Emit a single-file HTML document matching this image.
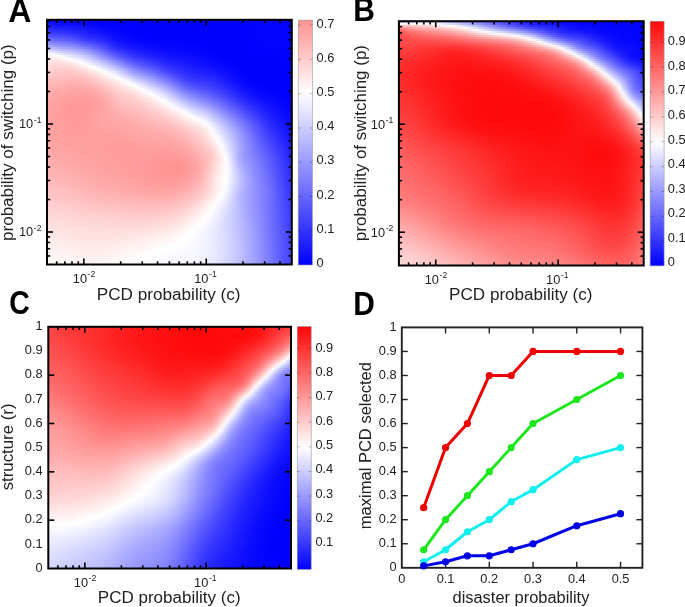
<!DOCTYPE html><html><head><meta charset="utf-8"><style>
html,body{margin:0;padding:0;background:#fff;}body{width:685px;height:607px;position:relative;overflow:hidden;font-family:"Liberation Sans",sans-serif;}
.hm{position:absolute;overflow:hidden;filter:blur(0.6px);}.hm div{height:2px;}
svg{position:absolute;left:0;top:0;will-change:transform;}
</style></head><body>
<div class="hm" style="left:47px;top:19px;width:245px;height:246px">
<div style="background:linear-gradient(90deg,#0b0bff,#0707ff,#0505ff,#0303ff,#0202ff,#0101ff,#0101ff,#0101ff,#0101ff,#0101ff,#0000ff,#0000ff,#0000ff,#0000ff,#0000ff,#0000ff,#0000ff,#0000ff,#0000ff,#0000ff,#0000ff,#0000ff,#0000ff,#0000ff,#0000ff,#0000ff,#0000ff,#0000ff,#0000ff,#0000ff,#0000ff,#0000ff,#0000ff,#0000ff,#0000ff,#0000ff,#0000ff,#0000ff,#0000ff,#0000ff,#0000ff,#0000ff,#0000ff,#0000ff,#0000ff,#0000ff,#0000ff,#0000ff,#0000ff,#0000ff,#0000ff,#0000ff,#0000ff,#0000ff,#0000ff,#0101ff,#0101ff,#0101ff,#0101ff,#0101ff,#0202ff,#0202ff,#0202ff,#0202ff,#0202ff,#0202ff,#0202ff,#0202ff,#0101ff,#0101ff,#0000ff)"></div>
<div style="background:linear-gradient(90deg,#1010ff,#0d0dff,#0b0bff,#0909ff,#0808ff,#0707ff,#0707ff,#0606ff,#0606ff,#0606ff,#0505ff,#0404ff,#0303ff,#0101ff,#0000ff,#0000ff,#0000ff,#0000ff,#0000ff,#0000ff,#0000ff,#0101ff,#0000ff,#0000ff,#0000ff,#0000ff,#0000ff,#0000ff,#0000ff,#0000ff,#0000ff,#0000ff,#0000ff,#0000ff,#0000ff,#0000ff,#0000ff,#0000ff,#0000ff,#0000ff,#0000ff,#0000ff,#0000ff,#0000ff,#0000ff,#0000ff,#0000ff,#0000ff,#0000ff,#0000ff,#0000ff,#0000ff,#0000ff,#0000ff,#0000ff,#0101ff,#0101ff,#0101ff,#0101ff,#0202ff,#0202ff,#0202ff,#0202ff,#0202ff,#0202ff,#0202ff,#0202ff,#0202ff,#0202ff,#0101ff,#0000ff)"></div>
<div style="background:linear-gradient(90deg,#1616ff,#1313ff,#1111ff,#1010ff,#0f0fff,#0e0eff,#0d0dff,#0d0dff,#0c0cff,#0b0bff,#0b0bff,#0909ff,#0707ff,#0505ff,#0303ff,#0202ff,#0101ff,#0101ff,#0000ff,#0101ff,#0101ff,#0101ff,#0101ff,#0000ff,#0000ff,#0000ff,#0000ff,#0000ff,#0000ff,#0000ff,#0000ff,#0000ff,#0000ff,#0000ff,#0000ff,#0000ff,#0000ff,#0000ff,#0000ff,#0000ff,#0000ff,#0000ff,#0000ff,#0000ff,#0000ff,#0000ff,#0000ff,#0000ff,#0000ff,#0000ff,#0000ff,#0000ff,#0000ff,#0000ff,#0000ff,#0101ff,#0101ff,#0101ff,#0202ff,#0202ff,#0202ff,#0202ff,#0202ff,#0303ff,#0303ff,#0303ff,#0303ff,#0202ff,#0202ff,#0101ff,#0101ff)"></div>
<div style="background:linear-gradient(90deg,#1d1dff,#1a1aff,#1818ff,#1717ff,#1616ff,#1515ff,#1414ff,#1313ff,#1212ff,#1111ff,#1010ff,#0e0eff,#0c0cff,#0909ff,#0707ff,#0505ff,#0404ff,#0303ff,#0202ff,#0202ff,#0202ff,#0202ff,#0101ff,#0000ff,#0000ff,#0000ff,#0000ff,#0000ff,#0000ff,#0000ff,#0000ff,#0000ff,#0000ff,#0000ff,#0000ff,#0000ff,#0000ff,#0000ff,#0000ff,#0000ff,#0000ff,#0000ff,#0000ff,#0000ff,#0000ff,#0000ff,#0000ff,#0000ff,#0000ff,#0000ff,#0000ff,#0000ff,#0000ff,#0000ff,#0000ff,#0101ff,#0101ff,#0101ff,#0202ff,#0202ff,#0202ff,#0202ff,#0303ff,#0303ff,#0303ff,#0303ff,#0303ff,#0202ff,#0202ff,#0202ff,#0101ff)"></div>
<div style="background:linear-gradient(90deg,#2525ff,#2222ff,#2121ff,#1f1fff,#1e1eff,#1d1dff,#1c1cff,#1b1bff,#1919ff,#1717ff,#1616ff,#1414ff,#1111ff,#0e0eff,#0b0bff,#0909ff,#0707ff,#0606ff,#0404ff,#0303ff,#0303ff,#0202ff,#0202ff,#0101ff,#0000ff,#0000ff,#0000ff,#0000ff,#0000ff,#0000ff,#0000ff,#0000ff,#0000ff,#0000ff,#0000ff,#0000ff,#0000ff,#0000ff,#0000ff,#0000ff,#0000ff,#0000ff,#0000ff,#0000ff,#0000ff,#0000ff,#0000ff,#0000ff,#0000ff,#0000ff,#0000ff,#0000ff,#0000ff,#0000ff,#0000ff,#0101ff,#0101ff,#0101ff,#0202ff,#0202ff,#0202ff,#0303ff,#0303ff,#0303ff,#0303ff,#0303ff,#0303ff,#0303ff,#0202ff,#0202ff,#0101ff)"></div>
<div style="background:linear-gradient(90deg,#2e2eff,#2b2bff,#2a2aff,#2929ff,#2828ff,#2626ff,#2525ff,#2323ff,#2020ff,#1e1eff,#1c1cff,#1919ff,#1515ff,#1212ff,#1010ff,#0d0dff,#0b0bff,#0909ff,#0707ff,#0505ff,#0404ff,#0303ff,#0202ff,#0101ff,#0101ff,#0000ff,#0000ff,#0000ff,#0000ff,#0000ff,#0000ff,#0000ff,#0000ff,#0000ff,#0000ff,#0000ff,#0000ff,#0000ff,#0000ff,#0000ff,#0000ff,#0000ff,#0000ff,#0000ff,#0000ff,#0000ff,#0000ff,#0000ff,#0000ff,#0000ff,#0000ff,#0000ff,#0000ff,#0000ff,#0000ff,#0101ff,#0101ff,#0101ff,#0202ff,#0202ff,#0202ff,#0303ff,#0303ff,#0303ff,#0303ff,#0303ff,#0303ff,#0303ff,#0202ff,#0202ff,#0101ff)"></div>
<div style="background:linear-gradient(90deg,#3939ff,#3636ff,#3434ff,#3333ff,#3232ff,#3030ff,#2e2eff,#2c2cff,#2828ff,#2525ff,#2121ff,#1e1eff,#1a1aff,#1717ff,#1515ff,#1212ff,#0f0fff,#0c0cff,#0a0aff,#0707ff,#0606ff,#0404ff,#0303ff,#0202ff,#0101ff,#0000ff,#0000ff,#0000ff,#0000ff,#0000ff,#0000ff,#0000ff,#0000ff,#0000ff,#0000ff,#0000ff,#0000ff,#0000ff,#0000ff,#0000ff,#0000ff,#0000ff,#0000ff,#0000ff,#0000ff,#0000ff,#0000ff,#0000ff,#0000ff,#0000ff,#0000ff,#0000ff,#0000ff,#0000ff,#0000ff,#0000ff,#0101ff,#0101ff,#0202ff,#0202ff,#0202ff,#0303ff,#0303ff,#0303ff,#0303ff,#0303ff,#0303ff,#0303ff,#0303ff,#0202ff,#0101ff)"></div>
<div style="background:linear-gradient(90deg,#4646ff,#4242ff,#4040ff,#3e3eff,#3d3dff,#3b3bff,#3939ff,#3535ff,#3131ff,#2d2dff,#2828ff,#2424ff,#2020ff,#1d1dff,#1a1aff,#1717ff,#1414ff,#1010ff,#0d0dff,#0a0aff,#0808ff,#0606ff,#0404ff,#0303ff,#0202ff,#0101ff,#0000ff,#0000ff,#0000ff,#0000ff,#0000ff,#0000ff,#0000ff,#0000ff,#0000ff,#0000ff,#0000ff,#0000ff,#0000ff,#0000ff,#0000ff,#0000ff,#0000ff,#0000ff,#0000ff,#0000ff,#0000ff,#0000ff,#0000ff,#0000ff,#0000ff,#0000ff,#0000ff,#0000ff,#0000ff,#0000ff,#0101ff,#0101ff,#0202ff,#0202ff,#0202ff,#0303ff,#0303ff,#0303ff,#0303ff,#0303ff,#0303ff,#0303ff,#0303ff,#0202ff,#0101ff)"></div>
<div style="background:linear-gradient(90deg,#5353ff,#4f4fff,#4d4dff,#4b4bff,#4949ff,#4747ff,#4444ff,#4040ff,#3c3cff,#3636ff,#2f2fff,#2a2aff,#2727ff,#2424ff,#2121ff,#1e1eff,#1a1aff,#1515ff,#1111ff,#0d0dff,#0a0aff,#0808ff,#0606ff,#0505ff,#0404ff,#0202ff,#0101ff,#0101ff,#0000ff,#0000ff,#0000ff,#0000ff,#0000ff,#0000ff,#0000ff,#0000ff,#0000ff,#0000ff,#0000ff,#0000ff,#0000ff,#0000ff,#0000ff,#0000ff,#0000ff,#0000ff,#0000ff,#0000ff,#0000ff,#0000ff,#0000ff,#0000ff,#0000ff,#0000ff,#0000ff,#0000ff,#0101ff,#0101ff,#0101ff,#0202ff,#0202ff,#0303ff,#0303ff,#0303ff,#0303ff,#0303ff,#0303ff,#0303ff,#0303ff,#0202ff,#0101ff)"></div>
<div style="background:linear-gradient(90deg,#6161ff,#5d5dff,#5b5bff,#5959ff,#5656ff,#5454ff,#5151ff,#4d4dff,#4747ff,#4040ff,#3939ff,#3232ff,#2f2fff,#2c2cff,#2929ff,#2525ff,#2020ff,#1b1bff,#1616ff,#1111ff,#0e0eff,#0b0bff,#0909ff,#0707ff,#0505ff,#0404ff,#0303ff,#0202ff,#0101ff,#0101ff,#0000ff,#0000ff,#0000ff,#0000ff,#0000ff,#0000ff,#0000ff,#0000ff,#0000ff,#0000ff,#0000ff,#0000ff,#0000ff,#0000ff,#0000ff,#0000ff,#0000ff,#0000ff,#0000ff,#0000ff,#0000ff,#0000ff,#0000ff,#0000ff,#0000ff,#0000ff,#0000ff,#0101ff,#0101ff,#0202ff,#0202ff,#0202ff,#0303ff,#0303ff,#0303ff,#0303ff,#0303ff,#0303ff,#0303ff,#0202ff,#0101ff)"></div>
<div style="background:linear-gradient(90deg,#7070ff,#6d6dff,#6a6aff,#6767ff,#6464ff,#6262ff,#5e5eff,#5a5aff,#5454ff,#4d4dff,#4444ff,#3c3cff,#3939ff,#3636ff,#3333ff,#2e2eff,#2828ff,#2222ff,#1c1cff,#1616ff,#1212ff,#0e0eff,#0c0cff,#0a0aff,#0808ff,#0606ff,#0505ff,#0404ff,#0303ff,#0202ff,#0202ff,#0101ff,#0101ff,#0101ff,#0000ff,#0000ff,#0000ff,#0000ff,#0000ff,#0000ff,#0000ff,#0000ff,#0000ff,#0000ff,#0000ff,#0000ff,#0000ff,#0000ff,#0000ff,#0000ff,#0000ff,#0000ff,#0000ff,#0000ff,#0000ff,#0000ff,#0000ff,#0101ff,#0101ff,#0202ff,#0202ff,#0202ff,#0303ff,#0303ff,#0303ff,#0303ff,#0303ff,#0303ff,#0303ff,#0202ff,#0101ff)"></div>
<div style="background:linear-gradient(90deg,#8282ff,#7e7eff,#7a7aff,#7777ff,#7373ff,#7171ff,#6e6eff,#6969ff,#6363ff,#5b5bff,#5353ff,#4b4bff,#4646ff,#4242ff,#3d3dff,#3838ff,#3131ff,#2a2aff,#2323ff,#1c1cff,#1717ff,#1313ff,#1010ff,#0d0dff,#0b0bff,#0909ff,#0808ff,#0606ff,#0505ff,#0404ff,#0404ff,#0303ff,#0202ff,#0202ff,#0202ff,#0101ff,#0101ff,#0101ff,#0101ff,#0101ff,#0101ff,#0101ff,#0101ff,#0000ff,#0000ff,#0000ff,#0000ff,#0000ff,#0000ff,#0000ff,#0000ff,#0000ff,#0000ff,#0000ff,#0000ff,#0000ff,#0000ff,#0101ff,#0101ff,#0202ff,#0202ff,#0202ff,#0202ff,#0303ff,#0303ff,#0303ff,#0303ff,#0303ff,#0202ff,#0202ff,#0101ff)"></div>
<div style="background:linear-gradient(90deg,#9494ff,#9090ff,#8c8cff,#8787ff,#8383ff,#8181ff,#7e7eff,#7979ff,#7373ff,#6c6cff,#6363ff,#5b5bff,#5555ff,#5050ff,#4a4aff,#4343ff,#3b3bff,#3333ff,#2b2bff,#2323ff,#1d1dff,#1818ff,#1515ff,#1212ff,#0f0fff,#0d0dff,#0b0bff,#0909ff,#0808ff,#0707ff,#0606ff,#0505ff,#0404ff,#0404ff,#0303ff,#0303ff,#0202ff,#0202ff,#0202ff,#0202ff,#0202ff,#0202ff,#0101ff,#0101ff,#0101ff,#0101ff,#0000ff,#0000ff,#0000ff,#0000ff,#0000ff,#0000ff,#0000ff,#0000ff,#0000ff,#0000ff,#0000ff,#0000ff,#0101ff,#0101ff,#0202ff,#0202ff,#0202ff,#0202ff,#0303ff,#0303ff,#0303ff,#0303ff,#0202ff,#0202ff,#0101ff)"></div>
<div style="background:linear-gradient(90deg,#a8a8ff,#a4a4ff,#9f9fff,#9999ff,#9595ff,#9292ff,#8f8fff,#8b8bff,#8484ff,#7d7dff,#7575ff,#6d6dff,#6666ff,#5f5fff,#5757ff,#4f4fff,#4646ff,#3d3dff,#3434ff,#2b2bff,#2424ff,#1f1fff,#1b1bff,#1717ff,#1414ff,#1111ff,#0f0fff,#0d0dff,#0b0bff,#0a0aff,#0909ff,#0808ff,#0707ff,#0606ff,#0505ff,#0404ff,#0404ff,#0404ff,#0303ff,#0303ff,#0303ff,#0303ff,#0202ff,#0202ff,#0101ff,#0101ff,#0101ff,#0000ff,#0000ff,#0000ff,#0000ff,#0000ff,#0000ff,#0000ff,#0000ff,#0000ff,#0000ff,#0000ff,#0101ff,#0101ff,#0202ff,#0202ff,#0202ff,#0202ff,#0202ff,#0202ff,#0303ff,#0202ff,#0202ff,#0202ff,#0101ff)"></div>
<div style="background:linear-gradient(90deg,#bcbcff,#b9b9ff,#b3b3ff,#acacff,#a7a7ff,#a5a5ff,#a1a1ff,#9d9dff,#9696ff,#8f8fff,#8888ff,#8080ff,#7777ff,#6f6fff,#6666ff,#5c5cff,#5252ff,#4848ff,#3e3eff,#3434ff,#2c2cff,#2626ff,#2222ff,#1d1dff,#1a1aff,#1616ff,#1414ff,#1111ff,#1010ff,#0e0eff,#0c0cff,#0b0bff,#0909ff,#0808ff,#0707ff,#0606ff,#0606ff,#0505ff,#0505ff,#0505ff,#0404ff,#0404ff,#0303ff,#0303ff,#0202ff,#0202ff,#0101ff,#0000ff,#0000ff,#0000ff,#0000ff,#0000ff,#0000ff,#0000ff,#0000ff,#0000ff,#0000ff,#0000ff,#0101ff,#0101ff,#0101ff,#0202ff,#0202ff,#0202ff,#0202ff,#0202ff,#0202ff,#0202ff,#0202ff,#0202ff,#0101ff)"></div>
<div style="background:linear-gradient(90deg,#d1d1ff,#ceceff,#c8c8ff,#c1c1ff,#bcbcff,#b8b8ff,#b4b4ff,#afafff,#a9a9ff,#a2a2ff,#9b9bff,#9393ff,#8989ff,#7f7fff,#7575ff,#6a6aff,#5f5fff,#5454ff,#4949ff,#3e3eff,#3636ff,#2f2fff,#2a2aff,#2525ff,#2020ff,#1c1cff,#1919ff,#1717ff,#1414ff,#1212ff,#1010ff,#0e0eff,#0d0dff,#0b0bff,#0a0aff,#0909ff,#0808ff,#0707ff,#0707ff,#0707ff,#0606ff,#0606ff,#0505ff,#0404ff,#0303ff,#0202ff,#0101ff,#0101ff,#0000ff,#0000ff,#0000ff,#0000ff,#0000ff,#0000ff,#0000ff,#0000ff,#0000ff,#0000ff,#0101ff,#0101ff,#0101ff,#0101ff,#0202ff,#0202ff,#0202ff,#0202ff,#0202ff,#0202ff,#0202ff,#0202ff,#0101ff)"></div>
<div style="background:linear-gradient(90deg,#e8e8ff,#e4e4ff,#dedeff,#d7d7ff,#d1d1ff,#ccccff,#c7c7ff,#c2c2ff,#bbbbff,#b4b4ff,#acacff,#a4a4ff,#9a9aff,#8f8fff,#8484ff,#7979ff,#6d6dff,#6161ff,#5555ff,#4a4aff,#4040ff,#3939ff,#3333ff,#2d2dff,#2828ff,#2323ff,#2020ff,#1c1cff,#1a1aff,#1717ff,#1515ff,#1313ff,#1111ff,#0f0fff,#0d0dff,#0c0cff,#0b0bff,#0a0aff,#0909ff,#0909ff,#0808ff,#0707ff,#0606ff,#0505ff,#0404ff,#0303ff,#0202ff,#0101ff,#0000ff,#0000ff,#0000ff,#0000ff,#0000ff,#0000ff,#0000ff,#0000ff,#0000ff,#0000ff,#0101ff,#0101ff,#0101ff,#0101ff,#0101ff,#0101ff,#0101ff,#0202ff,#0202ff,#0202ff,#0202ff,#0101ff,#0101ff)"></div>
<div style="background:linear-gradient(90deg,#fcfcff,#f8f8ff,#f1f1ff,#ececff,#e6e6ff,#dfdfff,#dadaff,#d4d4ff,#cdcdff,#c5c5ff,#bebeff,#b5b5ff,#aaaaff,#9f9fff,#9494ff,#8888ff,#7c7cff,#6f6fff,#6262ff,#5656ff,#4c4cff,#4444ff,#3d3dff,#3737ff,#3030ff,#2b2bff,#2727ff,#2323ff,#2020ff,#1d1dff,#1a1aff,#1818ff,#1515ff,#1313ff,#1111ff,#0f0fff,#0e0eff,#0d0dff,#0c0cff,#0b0bff,#0a0aff,#0a0aff,#0808ff,#0707ff,#0606ff,#0404ff,#0303ff,#0202ff,#0101ff,#0000ff,#0000ff,#0000ff,#0000ff,#0000ff,#0000ff,#0000ff,#0000ff,#0000ff,#0000ff,#0101ff,#0101ff,#0101ff,#0101ff,#0101ff,#0101ff,#0101ff,#0101ff,#0101ff,#0101ff,#0101ff,#0101ff)"></div>
<div style="background:linear-gradient(90deg,#fff4f4,#fff7f7,#fffcfc,#fefeff,#f8f8ff,#f1f1ff,#ebebff,#e5e5ff,#dedeff,#d6d6ff,#ceceff,#c5c5ff,#babaff,#afafff,#a4a4ff,#9898ff,#8b8bff,#7e7eff,#7171ff,#6464ff,#5959ff,#5151ff,#4949ff,#4141ff,#3a3aff,#3434ff,#2f2fff,#2b2bff,#2727ff,#2424ff,#2020ff,#1d1dff,#1a1aff,#1717ff,#1515ff,#1313ff,#1111ff,#1010ff,#0f0fff,#0e0eff,#0d0dff,#0c0cff,#0b0bff,#0909ff,#0707ff,#0606ff,#0404ff,#0303ff,#0202ff,#0101ff,#0000ff,#0000ff,#0000ff,#0000ff,#0000ff,#0000ff,#0000ff,#0000ff,#0000ff,#0000ff,#0000ff,#0000ff,#0000ff,#0000ff,#0101ff,#0101ff,#0101ff,#0101ff,#0101ff,#0101ff,#0101ff)"></div>
<div style="background:linear-gradient(90deg,#ffecec,#ffecec,#ffefef,#fff2f2,#fff7f7,#fffefe,#fafaff,#f4f4ff,#ededff,#e5e5ff,#ddddff,#d4d4ff,#cacaff,#bfbfff,#b4b4ff,#a7a7ff,#9b9bff,#8e8eff,#8080ff,#7373ff,#6868ff,#5e5eff,#5555ff,#4d4dff,#4545ff,#3d3dff,#3838ff,#3333ff,#2f2fff,#2b2bff,#2727ff,#2323ff,#2020ff,#1c1cff,#1919ff,#1717ff,#1515ff,#1313ff,#1212ff,#1111ff,#1010ff,#0f0fff,#0d0dff,#0b0bff,#0909ff,#0808ff,#0606ff,#0505ff,#0303ff,#0202ff,#0101ff,#0000ff,#0000ff,#0000ff,#0000ff,#0000ff,#0000ff,#0000ff,#0000ff,#0000ff,#0000ff,#0000ff,#0000ff,#0000ff,#0000ff,#0000ff,#0101ff,#0101ff,#0101ff,#0101ff,#0000ff)"></div>
<div style="background:linear-gradient(90deg,#ffe6e6,#ffe5e5,#ffe6e6,#ffe7e7,#ffebeb,#fff1f1,#fff6f6,#fffcfc,#fbfbff,#f4f4ff,#ebebff,#e2e2ff,#d9d9ff,#ceceff,#c3c3ff,#b7b7ff,#ababff,#9e9eff,#9191ff,#8484ff,#7878ff,#6d6dff,#6363ff,#5959ff,#5050ff,#4848ff,#4242ff,#3d3dff,#3838ff,#3333ff,#2f2fff,#2a2aff,#2626ff,#2222ff,#1e1eff,#1b1bff,#1919ff,#1717ff,#1616ff,#1414ff,#1313ff,#1111ff,#1010ff,#0e0eff,#0c0cff,#0a0aff,#0808ff,#0606ff,#0505ff,#0404ff,#0303ff,#0101ff,#0000ff,#0000ff,#0000ff,#0000ff,#0000ff,#0000ff,#0000ff,#0000ff,#0000ff,#0000ff,#0000ff,#0000ff,#0000ff,#0000ff,#0000ff,#0000ff,#0000ff,#0000ff,#0000ff)"></div>
<div style="background:linear-gradient(90deg,#ffe2e2,#ffe0e0,#ffdfdf,#ffdfdf,#ffe2e2,#ffe6e6,#ffebeb,#fff0f0,#fff6f6,#fffdfd,#f9f9ff,#f0f0ff,#e7e7ff,#ddddff,#d2d2ff,#c7c7ff,#bbbbff,#aeaeff,#a2a2ff,#9595ff,#8989ff,#7d7dff,#7272ff,#6767ff,#5c5cff,#5353ff,#4d4dff,#4747ff,#4242ff,#3c3cff,#3737ff,#3232ff,#2d2dff,#2828ff,#2424ff,#2020ff,#1e1eff,#1c1cff,#1a1aff,#1818ff,#1717ff,#1515ff,#1313ff,#1010ff,#0e0eff,#0c0cff,#0a0aff,#0909ff,#0707ff,#0606ff,#0404ff,#0303ff,#0101ff,#0000ff,#0000ff,#0000ff,#0000ff,#0000ff,#0000ff,#0000ff,#0000ff,#0000ff,#0000ff,#0000ff,#0000ff,#0000ff,#0000ff,#0000ff,#0000ff,#0000ff,#0000ff)"></div>
<div style="background:linear-gradient(90deg,#ffdfdf,#ffdcdc,#ffd9d9,#ffd9d9,#ffdada,#ffdddd,#ffe1e1,#ffe5e5,#ffebeb,#fff2f2,#fff9f9,#fdfdff,#f4f4ff,#ebebff,#e1e1ff,#d6d6ff,#cacaff,#bebeff,#b2b2ff,#a7a7ff,#9a9aff,#8e8eff,#8181ff,#7575ff,#6a6aff,#6060ff,#5858ff,#5252ff,#4c4cff,#4646ff,#4040ff,#3a3aff,#3535ff,#2f2fff,#2a2aff,#2626ff,#2323ff,#2020ff,#1e1eff,#1c1cff,#1a1aff,#1818ff,#1616ff,#1313ff,#1111ff,#0f0fff,#0d0dff,#0b0bff,#0a0aff,#0808ff,#0606ff,#0404ff,#0303ff,#0101ff,#0000ff,#0000ff,#0000ff,#0000ff,#0000ff,#0000ff,#0000ff,#0000ff,#0000ff,#0000ff,#0000ff,#0000ff,#0000ff,#0000ff,#0000ff,#0000ff,#0000ff)"></div>
<div style="background:linear-gradient(90deg,#ffdcdc,#ffd8d8,#ffd5d5,#ffd4d4,#ffd4d4,#ffd6d6,#ffd9d9,#ffdcdc,#ffe1e1,#ffe7e7,#ffeeee,#fff5f5,#fffdfd,#f8f8ff,#efefff,#e5e5ff,#d9d9ff,#ceceff,#c3c3ff,#b8b8ff,#ababff,#9e9eff,#9191ff,#8484ff,#7878ff,#6e6eff,#6565ff,#5e5eff,#5757ff,#5151ff,#4a4aff,#4444ff,#3d3dff,#3737ff,#3131ff,#2c2cff,#2929ff,#2626ff,#2323ff,#2121ff,#1e1eff,#1c1cff,#1919ff,#1717ff,#1414ff,#1212ff,#1010ff,#0e0eff,#0c0cff,#0a0aff,#0808ff,#0606ff,#0404ff,#0303ff,#0101ff,#0000ff,#0000ff,#0000ff,#0000ff,#0000ff,#0000ff,#0000ff,#0000ff,#0000ff,#0000ff,#0000ff,#0000ff,#0000ff,#0000ff,#0000ff,#0000ff)"></div>
<div style="background:linear-gradient(90deg,#ffd7d7,#ffd4d4,#ffd1d1,#ffcfcf,#ffcfcf,#ffd0d0,#ffd2d2,#ffd5d5,#ffd9d9,#ffdede,#ffe4e4,#ffebeb,#fff2f2,#fffafa,#fcfcff,#f2f2ff,#e8e8ff,#ddddff,#d2d2ff,#c7c7ff,#bbbbff,#aeaeff,#a0a0ff,#9393ff,#8787ff,#7b7bff,#7272ff,#6b6bff,#6363ff,#5d5dff,#5555ff,#4e4eff,#4646ff,#3f3fff,#3939ff,#3333ff,#2f2fff,#2b2bff,#2828ff,#2525ff,#2222ff,#2020ff,#1c1cff,#1a1aff,#1818ff,#1616ff,#1414ff,#1212ff,#1010ff,#0d0dff,#0b0bff,#0808ff,#0606ff,#0404ff,#0202ff,#0101ff,#0000ff,#0000ff,#0000ff,#0000ff,#0000ff,#0000ff,#0000ff,#0000ff,#0000ff,#0000ff,#0000ff,#0000ff,#0000ff,#0000ff,#0000ff)"></div>
<div style="background:linear-gradient(90deg,#ffd2d2,#ffd0d0,#ffcdcd,#ffcbcb,#ffcbcb,#ffcbcb,#ffcccc,#ffcece,#ffd1d1,#ffd6d6,#ffdbdb,#ffe1e1,#ffe7e7,#ffefef,#fff6f6,#ffffff,#f5f5ff,#ebebff,#e1e1ff,#d6d6ff,#cacaff,#bebeff,#b0b0ff,#a2a2ff,#9595ff,#8a8aff,#8080ff,#7878ff,#7070ff,#6969ff,#6161ff,#5959ff,#5050ff,#4848ff,#4141ff,#3b3bff,#3636ff,#3131ff,#2d2dff,#2a2aff,#2626ff,#2323ff,#2020ff,#1d1dff,#1b1bff,#1a1aff,#1818ff,#1515ff,#1313ff,#1010ff,#0d0dff,#0b0bff,#0808ff,#0606ff,#0303ff,#0202ff,#0000ff,#0000ff,#0000ff,#0000ff,#0000ff,#0000ff,#0000ff,#0000ff,#0000ff,#0000ff,#0000ff,#0000ff,#0000ff,#0000ff,#0000ff)"></div>
<div style="background:linear-gradient(90deg,#ffcece,#ffcccc,#ffcaca,#ffc8c8,#ffc7c7,#ffc7c7,#ffc7c7,#ffc8c8,#ffcbcb,#ffcece,#ffd3d3,#ffd8d8,#ffdede,#ffe4e4,#ffecec,#fff4f4,#fffdfd,#f8f8ff,#eeeeff,#e4e4ff,#d9d9ff,#cdcdff,#c0c0ff,#b2b2ff,#a4a4ff,#9898ff,#8e8eff,#8686ff,#7e7eff,#7676ff,#6d6dff,#6565ff,#5c5cff,#5353ff,#4a4aff,#4444ff,#3e3eff,#3838ff,#3333ff,#2e2eff,#2a2aff,#2727ff,#2424ff,#2121ff,#1f1fff,#1e1eff,#1c1cff,#1919ff,#1717ff,#1414ff,#1010ff,#0d0dff,#0a0aff,#0707ff,#0505ff,#0303ff,#0101ff,#0000ff,#0000ff,#0000ff,#0000ff,#0000ff,#0000ff,#0000ff,#0000ff,#0000ff,#0000ff,#0000ff,#0000ff,#0000ff,#0000ff)"></div>
<div style="background:linear-gradient(90deg,#ffc9c9,#ffc8c8,#ffc6c6,#ffc5c5,#ffc4c4,#ffc3c3,#ffc3c3,#ffc3c3,#ffc5c5,#ffc8c8,#ffcbcb,#ffd0d0,#ffd5d5,#ffdbdb,#ffe2e2,#ffe9e9,#fff2f2,#fffafa,#fbfbff,#f1f1ff,#e7e7ff,#dbdbff,#cfcfff,#c1c1ff,#b3b3ff,#a7a7ff,#9d9dff,#9494ff,#8c8cff,#8383ff,#7a7aff,#7171ff,#6767ff,#5e5eff,#5555ff,#4e4eff,#4747ff,#4040ff,#3939ff,#3434ff,#2e2eff,#2a2aff,#2828ff,#2525ff,#2424ff,#2222ff,#2020ff,#1e1eff,#1b1bff,#1717ff,#1414ff,#1010ff,#0d0dff,#0909ff,#0606ff,#0404ff,#0101ff,#0000ff,#0000ff,#0000ff,#0000ff,#0000ff,#0000ff,#0000ff,#0000ff,#0000ff,#0000ff,#0000ff,#0000ff,#0000ff,#0000ff)"></div>
<div style="background:linear-gradient(90deg,#ffc5c5,#ffc4c4,#ffc3c3,#ffc3c3,#ffc1c1,#ffc0c0,#ffbfbf,#ffbfbf,#ffc0c0,#ffc2c2,#ffc5c5,#ffc9c9,#ffcdcd,#ffd3d3,#ffd9d9,#ffe0e0,#ffe8e8,#fff0f0,#fff8f8,#fdfdff,#f3f3ff,#e9e9ff,#dedeff,#d1d1ff,#c3c3ff,#b6b6ff,#acacff,#a3a3ff,#9a9aff,#9191ff,#8888ff,#7e7eff,#7474ff,#6a6aff,#6161ff,#5858ff,#5050ff,#4848ff,#4040ff,#3939ff,#3333ff,#2f2fff,#2c2cff,#2a2aff,#2828ff,#2727ff,#2525ff,#2222ff,#1f1fff,#1b1bff,#1717ff,#1313ff,#0f0fff,#0c0cff,#0808ff,#0505ff,#0303ff,#0000ff,#0000ff,#0000ff,#0000ff,#0000ff,#0000ff,#0000ff,#0000ff,#0000ff,#0000ff,#0000ff,#0000ff,#0000ff,#0000ff)"></div>
<div style="background:linear-gradient(90deg,#ffc1c1,#ffc0c0,#ffc0c0,#ffc0c0,#ffbfbf,#ffbdbd,#ffbbbb,#ffbaba,#ffbbbb,#ffbcbc,#ffbfbf,#ffc2c2,#ffc6c6,#ffcbcb,#ffd1d1,#ffd8d8,#ffdfdf,#ffe6e6,#ffeeee,#fff6f6,#ffffff,#f6f6ff,#ececff,#dfdfff,#d2d2ff,#c6c6ff,#bcbcff,#b2b2ff,#a9a9ff,#9f9fff,#9696ff,#8c8cff,#8181ff,#7777ff,#6d6dff,#6464ff,#5a5aff,#5151ff,#4848ff,#4040ff,#3939ff,#3434ff,#3131ff,#2f2fff,#2e2eff,#2c2cff,#2a2aff,#2727ff,#2424ff,#1f1fff,#1b1bff,#1717ff,#1212ff,#0e0eff,#0b0bff,#0707ff,#0404ff,#0101ff,#0000ff,#0000ff,#0000ff,#0000ff,#0000ff,#0000ff,#0000ff,#0000ff,#0000ff,#0000ff,#0000ff,#0000ff,#0000ff)"></div>
<div style="background:linear-gradient(90deg,#ffbdbd,#ffbdbd,#ffbdbd,#ffbdbd,#ffbcbc,#ffb9b9,#ffb7b7,#ffb6b6,#ffb6b6,#ffb7b7,#ffb9b9,#ffbcbc,#ffc0c0,#ffc5c5,#ffcaca,#ffd0d0,#ffd7d7,#ffdede,#ffe5e5,#ffeded,#fff4f4,#fffcfc,#f9f9ff,#eeeeff,#e1e1ff,#d6d6ff,#cbcbff,#c1c1ff,#b8b8ff,#aeaeff,#a4a4ff,#9a9aff,#8f8fff,#8585ff,#7a7aff,#7070ff,#6565ff,#5b5bff,#5151ff,#4747ff,#3f3fff,#3a3aff,#3737ff,#3535ff,#3333ff,#3131ff,#2f2fff,#2c2cff,#2828ff,#2424ff,#1f1fff,#1a1aff,#1616ff,#1111ff,#0d0dff,#0909ff,#0606ff,#0202ff,#0000ff,#0000ff,#0000ff,#0000ff,#0000ff,#0000ff,#0000ff,#0000ff,#0000ff,#0000ff,#0000ff,#0000ff,#0000ff)"></div>
<div style="background:linear-gradient(90deg,#ffbaba,#ffb9b9,#ffb9b9,#ffb9b9,#ffb8b8,#ffb6b6,#ffb4b4,#ffb3b3,#ffb2b2,#ffb3b3,#ffb5b5,#ffb7b7,#ffbaba,#ffbfbf,#ffc4c4,#ffc9c9,#ffd0d0,#ffd6d6,#ffdddd,#ffe4e4,#ffebeb,#fff2f2,#fffafa,#fafaff,#efefff,#e5e5ff,#dadaff,#d0d0ff,#c6c6ff,#bcbcff,#b2b2ff,#a8a8ff,#9d9dff,#9292ff,#8787ff,#7c7cff,#7171ff,#6565ff,#5a5aff,#5050ff,#4747ff,#4242ff,#3e3eff,#3b3bff,#3939ff,#3737ff,#3535ff,#3232ff,#2d2dff,#2828ff,#2323ff,#1e1eff,#1919ff,#1414ff,#1010ff,#0c0cff,#0808ff,#0404ff,#0202ff,#0000ff,#0000ff,#0000ff,#0000ff,#0000ff,#0000ff,#0000ff,#0000ff,#0000ff,#0000ff,#0000ff,#0000ff)"></div>
<div style="background:linear-gradient(90deg,#ffb7b7,#ffb6b6,#ffb6b6,#ffb6b6,#ffb4b4,#ffb2b2,#ffb1b1,#ffafaf,#ffafaf,#ffafaf,#ffb0b0,#ffb2b2,#ffb5b5,#ffb9b9,#ffbebe,#ffc3c3,#ffc9c9,#ffcfcf,#ffd6d6,#ffdcdc,#ffe3e3,#ffeaea,#fff0f0,#fff9f9,#fcfcff,#f3f3ff,#e9e9ff,#dedeff,#d4d4ff,#cacaff,#c0c0ff,#b5b5ff,#ababff,#a0a0ff,#9595ff,#8989ff,#7c7cff,#7070ff,#6565ff,#5a5aff,#5151ff,#4a4aff,#4646ff,#4343ff,#4040ff,#3d3dff,#3b3bff,#3737ff,#3232ff,#2d2dff,#2828ff,#2323ff,#1d1dff,#1818ff,#1313ff,#0e0eff,#0a0aff,#0606ff,#0303ff,#0101ff,#0000ff,#0000ff,#0000ff,#0000ff,#0000ff,#0000ff,#0000ff,#0000ff,#0000ff,#0000ff,#0000ff)"></div>
<div style="background:linear-gradient(90deg,#ffb4b4,#ffb3b3,#ffb3b3,#ffb2b2,#ffb1b1,#ffafaf,#ffadad,#ffacac,#ffabab,#ffabab,#ffacac,#ffaeae,#ffb1b1,#ffb4b4,#ffb9b9,#ffbebe,#ffc3c3,#ffc9c9,#ffcfcf,#ffd6d6,#ffdcdc,#ffe2e2,#ffe8e8,#ffefef,#fff7f7,#ffffff,#f6f6ff,#ececff,#e1e1ff,#d7d7ff,#cdcdff,#c3c3ff,#b8b8ff,#aeaeff,#a2a2ff,#9595ff,#8989ff,#7c7cff,#7070ff,#6464ff,#5b5bff,#5454ff,#4e4eff,#4b4bff,#4747ff,#4444ff,#4141ff,#3d3dff,#3838ff,#3232ff,#2d2dff,#2727ff,#2121ff,#1c1cff,#1717ff,#1212ff,#0d0dff,#0909ff,#0606ff,#0303ff,#0202ff,#0101ff,#0000ff,#0000ff,#0000ff,#0000ff,#0000ff,#0000ff,#0000ff,#0000ff,#0000ff)"></div>
<div style="background:linear-gradient(90deg,#ffb1b1,#ffb0b0,#ffafaf,#ffaeae,#ffadad,#ffacac,#ffaaaa,#ffa9a9,#ffa8a8,#ffa8a8,#ffa9a9,#ffaaaa,#ffadad,#ffb0b0,#ffb4b4,#ffb9b9,#ffbebe,#ffc4c4,#ffcaca,#ffd0d0,#ffd6d6,#ffdcdc,#ffe1e1,#ffe7e7,#ffeded,#fff4f4,#fffdfd,#f8f8ff,#eeeeff,#e4e4ff,#dadaff,#d0d0ff,#c6c6ff,#bbbbff,#afafff,#a2a2ff,#9595ff,#8888ff,#7b7bff,#7070ff,#6666ff,#5e5eff,#5858ff,#5353ff,#4f4fff,#4b4bff,#4747ff,#4343ff,#3d3dff,#3838ff,#3232ff,#2c2cff,#2626ff,#2020ff,#1b1bff,#1515ff,#1010ff,#0c0cff,#0808ff,#0606ff,#0404ff,#0202ff,#0101ff,#0000ff,#0000ff,#0000ff,#0000ff,#0000ff,#0000ff,#0000ff,#0000ff)"></div>
<div style="background:linear-gradient(90deg,#ffafaf,#ffaeae,#ffadad,#ffabab,#ffaaaa,#ffa9a9,#ffa7a7,#ffa6a6,#ffa5a5,#ffa5a5,#ffa6a6,#ffa7a7,#ffa9a9,#ffacac,#ffb0b0,#ffb4b4,#ffb9b9,#ffbfbf,#ffc5c5,#ffcbcb,#ffd1d1,#ffd7d7,#ffdbdb,#ffe0e0,#ffe5e5,#ffebeb,#fff3f3,#fffcfc,#f9f9ff,#efefff,#e6e6ff,#dcdcff,#d2d2ff,#c7c7ff,#bbbbff,#aeaeff,#a1a1ff,#9494ff,#8787ff,#7b7bff,#7171ff,#6868ff,#6262ff,#5c5cff,#5757ff,#5353ff,#4e4eff,#4949ff,#4444ff,#3e3eff,#3838ff,#3131ff,#2b2bff,#2525ff,#1f1fff,#1919ff,#1414ff,#0f0fff,#0b0bff,#0808ff,#0606ff,#0404ff,#0303ff,#0202ff,#0101ff,#0000ff,#0000ff,#0000ff,#0000ff,#0000ff,#0000ff)"></div>
<div style="background:linear-gradient(90deg,#ffadad,#ffacac,#ffaaaa,#ffa9a9,#ffa7a7,#ffa6a6,#ffa5a5,#ffa4a4,#ffa3a3,#ffa2a2,#ffa3a3,#ffa4a4,#ffa6a6,#ffa8a8,#ffacac,#ffb0b0,#ffb5b5,#ffbaba,#ffc0c0,#ffc7c7,#ffcdcd,#ffd2d2,#ffd6d6,#ffdada,#ffdede,#ffe4e4,#ffebeb,#fff2f2,#fffbfb,#fafaff,#f1f1ff,#e8e8ff,#dedeff,#d3d3ff,#c7c7ff,#bbbbff,#adadff,#a0a0ff,#9393ff,#8787ff,#7c7cff,#7373ff,#6c6cff,#6666ff,#6060ff,#5b5bff,#5656ff,#5050ff,#4a4aff,#4444ff,#3e3eff,#3737ff,#3030ff,#2a2aff,#2323ff,#1d1dff,#1818ff,#1313ff,#0f0fff,#0b0bff,#0808ff,#0606ff,#0505ff,#0303ff,#0202ff,#0202ff,#0101ff,#0000ff,#0000ff,#0000ff,#0000ff)"></div>
<div style="background:linear-gradient(90deg,#ffacac,#ffaaaa,#ffa8a8,#ffa7a7,#ffa5a5,#ffa4a4,#ffa3a3,#ffa1a1,#ffa1a1,#ffa0a0,#ffa0a0,#ffa1a1,#ffa3a3,#ffa5a5,#ffa8a8,#ffacac,#ffb1b1,#ffb6b6,#ffbcbc,#ffc2c2,#ffc8c8,#ffcdcd,#ffd1d1,#ffd5d5,#ffd8d8,#ffdddd,#ffe3e3,#ffeaea,#fff2f2,#fffafa,#fcfcff,#f3f3ff,#e9e9ff,#dfdfff,#d3d3ff,#c6c6ff,#b9b9ff,#acacff,#9f9fff,#9393ff,#8888ff,#7e7eff,#7777ff,#7070ff,#6a6aff,#6464ff,#5e5eff,#5858ff,#5252ff,#4b4bff,#4444ff,#3d3dff,#3636ff,#2f2fff,#2828ff,#2222ff,#1c1cff,#1717ff,#1212ff,#0e0eff,#0b0bff,#0909ff,#0707ff,#0505ff,#0404ff,#0303ff,#0202ff,#0101ff,#0000ff,#0000ff,#0000ff)"></div>
<div style="background:linear-gradient(90deg,#ffaaaa,#ffa8a8,#ffa7a7,#ffa5a5,#ffa3a3,#ffa2a2,#ffa1a1,#ff9f9f,#ff9f9f,#ff9e9e,#ff9e9e,#ff9f9f,#ffa0a0,#ffa2a2,#ffa5a5,#ffa8a8,#ffadad,#ffb3b3,#ffb9b9,#ffbfbf,#ffc5c5,#ffc9c9,#ffcdcd,#ffd0d0,#ffd3d3,#ffd7d7,#ffdddd,#ffe3e3,#ffeaea,#fff1f1,#fff9f9,#fdfdff,#f4f4ff,#e9e9ff,#dedeff,#d2d2ff,#c5c5ff,#b8b8ff,#ababff,#9f9fff,#9393ff,#8a8aff,#8282ff,#7b7bff,#7474ff,#6d6dff,#6767ff,#6060ff,#5959ff,#5252ff,#4b4bff,#4444ff,#3c3cff,#3535ff,#2e2eff,#2727ff,#2121ff,#1b1bff,#1616ff,#1212ff,#0e0eff,#0c0cff,#0909ff,#0707ff,#0606ff,#0404ff,#0303ff,#0202ff,#0101ff,#0000ff,#0000ff)"></div>
<div style="background:linear-gradient(90deg,#ffa9a9,#ffa7a7,#ffa5a5,#ffa3a3,#ffa2a2,#ffa0a0,#ff9f9f,#ff9e9e,#ff9d9d,#ff9d9d,#ff9d9d,#ff9d9d,#ff9e9e,#ffa0a0,#ffa2a2,#ffa5a5,#ffaaaa,#ffb0b0,#ffb6b6,#ffbcbc,#ffc1c1,#ffc6c6,#ffc9c9,#ffcccc,#ffcfcf,#ffd2d2,#ffd7d7,#ffdddd,#ffe3e3,#ffeaea,#fff0f0,#fff8f8,#fdfdff,#f3f3ff,#e9e9ff,#ddddff,#d1d1ff,#c4c4ff,#b7b7ff,#ababff,#9f9fff,#9595ff,#8d8dff,#8686ff,#7e7eff,#7777ff,#7070ff,#6969ff,#6262ff,#5a5aff,#5353ff,#4b4bff,#4343ff,#3b3bff,#3434ff,#2d2dff,#2626ff,#2020ff,#1a1aff,#1616ff,#1212ff,#0f0fff,#0c0cff,#0909ff,#0808ff,#0606ff,#0404ff,#0303ff,#0202ff,#0101ff,#0000ff)"></div>
<div style="background:linear-gradient(90deg,#ffa8a8,#ffa6a6,#ffa4a4,#ffa2a2,#ffa0a0,#ff9f9f,#ff9e9e,#ff9d9d,#ff9c9c,#ff9b9b,#ff9b9b,#ff9c9c,#ff9d9d,#ff9e9e,#ffa0a0,#ffa3a3,#ffa8a8,#ffadad,#ffb3b3,#ffb9b9,#ffbebe,#ffc2c2,#ffc5c5,#ffc8c8,#ffcaca,#ffcece,#ffd2d2,#ffd7d7,#ffdddd,#ffe3e3,#ffe9e9,#fff0f0,#fff8f8,#fdfdff,#f3f3ff,#e8e8ff,#dcdcff,#d0d0ff,#c3c3ff,#b7b7ff,#ababff,#a1a1ff,#9999ff,#9191ff,#8989ff,#8282ff,#7a7aff,#7272ff,#6b6bff,#6363ff,#5b5bff,#5252ff,#4a4aff,#4242ff,#3a3aff,#3232ff,#2b2bff,#2525ff,#1f1fff,#1a1aff,#1515ff,#1212ff,#0f0fff,#0c0cff,#0a0aff,#0808ff,#0606ff,#0404ff,#0303ff,#0101ff,#0000ff)"></div>
<div style="background:linear-gradient(90deg,#ffa7a7,#ffa5a5,#ffa3a3,#ffa1a1,#ff9f9f,#ff9e9e,#ff9c9c,#ff9b9b,#ff9b9b,#ff9a9a,#ff9a9a,#ff9b9b,#ff9c9c,#ff9d9d,#ff9f9f,#ffa2a2,#ffa6a6,#ffabab,#ffb1b1,#ffb6b6,#ffbbbb,#ffbfbf,#ffc2c2,#ffc4c4,#ffc7c7,#ffcaca,#ffcdcd,#ffd2d2,#ffd7d7,#ffdddd,#ffe3e3,#ffe9e9,#fff0f0,#fff9f9,#fcfcff,#f2f2ff,#e7e7ff,#dbdbff,#cfcfff,#c3c3ff,#b8b8ff,#aeaeff,#a5a5ff,#9d9dff,#9595ff,#8d8dff,#8585ff,#7c7cff,#7474ff,#6c6cff,#6363ff,#5a5aff,#5151ff,#4949ff,#4141ff,#3939ff,#3131ff,#2a2aff,#2424ff,#1e1eff,#1919ff,#1515ff,#1212ff,#0f0fff,#0c0cff,#0909ff,#0707ff,#0606ff,#0404ff,#0202ff,#0101ff)"></div>
<div style="background:linear-gradient(90deg,#ffa6a6,#ffa4a4,#ffa2a2,#ffa0a0,#ff9e9e,#ff9d9d,#ff9c9c,#ff9b9b,#ff9a9a,#ff9a9a,#ff9a9a,#ff9a9a,#ff9b9b,#ff9d9d,#ff9f9f,#ffa1a1,#ffa5a5,#ffaaaa,#ffafaf,#ffb4b4,#ffb8b8,#ffbcbc,#ffbfbf,#ffc1c1,#ffc3c3,#ffc6c6,#ffc9c9,#ffcece,#ffd2d2,#ffd7d7,#ffdddd,#ffe3e3,#ffe9e9,#fff1f1,#fff9f9,#fbfbff,#f1f1ff,#e6e6ff,#dbdbff,#d0d0ff,#c4c4ff,#babaff,#b1b1ff,#a9a9ff,#a0a0ff,#9898ff,#9090ff,#8787ff,#7e7eff,#7575ff,#6c6cff,#6262ff,#5959ff,#5050ff,#4747ff,#3f3fff,#3737ff,#3030ff,#2929ff,#2323ff,#1e1eff,#1919ff,#1515ff,#1111ff,#0e0eff,#0b0bff,#0909ff,#0707ff,#0505ff,#0303ff,#0101ff)"></div>
<div style="background:linear-gradient(90deg,#ffa5a5,#ffa3a3,#ffa1a1,#ff9f9f,#ff9e9e,#ff9c9c,#ff9b9b,#ff9a9a,#ff9999,#ff9999,#ff9999,#ff9a9a,#ff9b9b,#ff9c9c,#ff9e9e,#ffa1a1,#ffa5a5,#ffa9a9,#ffadad,#ffb2b2,#ffb6b6,#ffb9b9,#ffbcbc,#ffbebe,#ffc0c0,#ffc3c3,#ffc6c6,#ffcaca,#ffcece,#ffd3d3,#ffd7d7,#ffdddd,#ffe3e3,#ffe9e9,#fff1f1,#fff9f9,#fbfbff,#f1f1ff,#e7e7ff,#dcdcff,#d1d1ff,#c6c6ff,#bdbdff,#b4b4ff,#acacff,#a4a4ff,#9b9bff,#9292ff,#8989ff,#7f7fff,#7575ff,#6b6bff,#6161ff,#5858ff,#4f4fff,#4646ff,#3e3eff,#3636ff,#2e2eff,#2828ff,#2222ff,#1d1dff,#1818ff,#1414ff,#1111ff,#0e0eff,#0b0bff,#0808ff,#0606ff,#0404ff,#0202ff)"></div>
<div style="background:linear-gradient(90deg,#ffa5a5,#ffa3a3,#ffa1a1,#ff9f9f,#ff9d9d,#ff9c9c,#ff9b9b,#ff9a9a,#ff9999,#ff9999,#ff9999,#ff9a9a,#ff9b9b,#ff9c9c,#ff9e9e,#ffa1a1,#ffa4a4,#ffa8a8,#ffacac,#ffb0b0,#ffb3b3,#ffb6b6,#ffb9b9,#ffbbbb,#ffbdbd,#ffbfbf,#ffc2c2,#ffc6c6,#ffcaca,#ffcece,#ffd3d3,#ffd7d7,#ffdddd,#ffe3e3,#ffe9e9,#fff1f1,#fffafa,#fbfbff,#f2f2ff,#e8e8ff,#ddddff,#d2d2ff,#c9c9ff,#c0c0ff,#b8b8ff,#b0b0ff,#a7a7ff,#9d9dff,#9393ff,#8989ff,#7e7eff,#7474ff,#6969ff,#6060ff,#5656ff,#4d4dff,#4444ff,#3c3cff,#3434ff,#2d2dff,#2727ff,#2121ff,#1c1cff,#1717ff,#1313ff,#1010ff,#0d0dff,#0a0aff,#0707ff,#0505ff,#0303ff)"></div>
<div style="background:linear-gradient(90deg,#ffa4a4,#ffa2a2,#ffa0a0,#ff9f9f,#ff9d9d,#ff9b9b,#ff9a9a,#ff9999,#ff9999,#ff9999,#ff9999,#ff9a9a,#ff9b9b,#ff9d9d,#ff9f9f,#ffa1a1,#ffa4a4,#ffa8a8,#ffabab,#ffaeae,#ffb1b1,#ffb4b4,#ffb6b6,#ffb8b8,#ffbaba,#ffbcbc,#ffbfbf,#ffc2c2,#ffc6c6,#ffcaca,#ffcece,#ffd2d2,#ffd7d7,#ffdcdc,#ffe2e2,#ffe9e9,#fff1f1,#fff9f9,#fcfcff,#f3f3ff,#e8e8ff,#dedeff,#d4d4ff,#ccccff,#c4c4ff,#bcbcff,#b3b3ff,#a8a8ff,#9d9dff,#9292ff,#8787ff,#7c7cff,#7272ff,#6868ff,#5e5eff,#5454ff,#4b4bff,#4242ff,#3a3aff,#3232ff,#2b2bff,#2525ff,#1f1fff,#1a1aff,#1616ff,#1212ff,#0e0eff,#0b0bff,#0909ff,#0606ff,#0303ff)"></div>
<div style="background:linear-gradient(90deg,#ffa4a4,#ffa2a2,#ffa0a0,#ff9e9e,#ff9d9d,#ff9b9b,#ff9a9a,#ff9999,#ff9999,#ff9999,#ff9999,#ff9a9a,#ff9b9b,#ff9d9d,#ff9f9f,#ffa2a2,#ffa4a4,#ffa7a7,#ffaaaa,#ffadad,#ffb0b0,#ffb2b2,#ffb4b4,#ffb6b6,#ffb8b8,#ffbaba,#ffbcbc,#ffbfbf,#ffc3c3,#ffc6c6,#ffcaca,#ffcece,#ffd2d2,#ffd7d7,#ffdcdc,#ffe2e2,#ffe9e9,#fff0f0,#fff8f8,#fdfdff,#f3f3ff,#e9e9ff,#e0e0ff,#d7d7ff,#d0d0ff,#c7c7ff,#bebeff,#b3b3ff,#a8a8ff,#9c9cff,#9090ff,#8585ff,#7a7aff,#7070ff,#6565ff,#5b5bff,#5252ff,#4949ff,#4040ff,#3838ff,#3030ff,#2929ff,#2323ff,#1e1eff,#1919ff,#1414ff,#1010ff,#0d0dff,#0a0aff,#0707ff,#0404ff)"></div>
<div style="background:linear-gradient(90deg,#ffa4a4,#ffa2a2,#ffa0a0,#ff9e9e,#ff9c9c,#ff9b9b,#ff9a9a,#ff9999,#ff9999,#ff9999,#ff9999,#ff9a9a,#ff9c9c,#ff9d9d,#ffa0a0,#ffa2a2,#ffa4a4,#ffa7a7,#ffa9a9,#ffacac,#ffaeae,#ffb0b0,#ffb2b2,#ffb4b4,#ffb5b5,#ffb7b7,#ffbaba,#ffbcbc,#ffbfbf,#ffc3c3,#ffc6c6,#ffc9c9,#ffcdcd,#ffd1d1,#ffd6d6,#ffdbdb,#ffe2e2,#ffe8e8,#fff0f0,#fff8f8,#fcfcff,#f3f3ff,#eaeaff,#e2e2ff,#dbdbff,#d3d3ff,#c9c9ff,#bdbdff,#b1b1ff,#a5a5ff,#9a9aff,#8e8eff,#8383ff,#7777ff,#6d6dff,#6262ff,#5858ff,#4f4fff,#4646ff,#3d3dff,#3535ff,#2e2eff,#2727ff,#2121ff,#1b1bff,#1717ff,#1212ff,#0f0fff,#0b0bff,#0808ff,#0505ff)"></div>
<div style="background:linear-gradient(90deg,#ffa3a3,#ffa2a2,#ffa0a0,#ff9e9e,#ff9c9c,#ff9b9b,#ff9a9a,#ff9999,#ff9999,#ff9999,#ff9a9a,#ff9b9b,#ff9c9c,#ff9e9e,#ffa0a0,#ffa2a2,#ffa5a5,#ffa6a6,#ffa8a8,#ffaaaa,#ffacac,#ffaeae,#ffb0b0,#ffb1b1,#ffb3b3,#ffb5b5,#ffb7b7,#ffb9b9,#ffbcbc,#ffbfbf,#ffc2c2,#ffc5c5,#ffc8c8,#ffcccc,#ffd0d0,#ffd5d5,#ffdbdb,#ffe1e1,#ffe8e8,#fff0f0,#fff9f9,#fcfcff,#f4f4ff,#ededff,#e6e6ff,#dedeff,#d3d3ff,#c7c7ff,#bbbbff,#afafff,#a2a2ff,#9696ff,#8b8bff,#7f7fff,#7474ff,#6969ff,#5f5fff,#5555ff,#4c4cff,#4343ff,#3a3aff,#3232ff,#2b2bff,#2424ff,#1e1eff,#1919ff,#1414ff,#1010ff,#0d0dff,#0a0aff,#0606ff)"></div>
<div style="background:linear-gradient(90deg,#ffa3a3,#ffa1a1,#ffa0a0,#ff9e9e,#ff9d9d,#ff9b9b,#ff9a9a,#ff9a9a,#ff9999,#ff9a9a,#ff9a9a,#ff9b9b,#ff9c9c,#ff9e9e,#ffa1a1,#ffa3a3,#ffa5a5,#ffa6a6,#ffa8a8,#ffa9a9,#ffabab,#ffadad,#ffaeae,#ffafaf,#ffb1b1,#ffb3b3,#ffb5b5,#ffb7b7,#ffb9b9,#ffbcbc,#ffbfbf,#ffc1c1,#ffc4c4,#ffc7c7,#ffcbcb,#ffd0d0,#ffd5d5,#ffdada,#ffe1e1,#ffe8e8,#fff0f0,#fff9f9,#fdfdff,#f7f7ff,#f1f1ff,#e9e9ff,#dedeff,#d1d1ff,#c4c4ff,#b7b7ff,#ababff,#9f9fff,#9393ff,#8787ff,#7c7cff,#7070ff,#6666ff,#5b5bff,#5252ff,#4848ff,#3f3fff,#3636ff,#2e2eff,#2727ff,#2121ff,#1b1bff,#1616ff,#1212ff,#0e0eff,#0b0bff,#0707ff)"></div>
<div style="background:linear-gradient(90deg,#ffa3a3,#ffa1a1,#ffa0a0,#ff9e9e,#ff9d9d,#ff9b9b,#ff9b9b,#ff9a9a,#ff9a9a,#ff9a9a,#ff9a9a,#ff9b9b,#ff9d9d,#ff9f9f,#ffa1a1,#ffa3a3,#ffa4a4,#ffa6a6,#ffa7a7,#ffa8a8,#ffaaaa,#ffabab,#ffacac,#ffaeae,#ffafaf,#ffb0b0,#ffb2b2,#ffb4b4,#ffb7b7,#ffb9b9,#ffbbbb,#ffbebe,#ffc0c0,#ffc3c3,#ffc7c7,#ffcaca,#ffcfcf,#ffd4d4,#ffdada,#ffe1e1,#ffe9e9,#fff0f0,#fff8f8,#fffdfd,#fcfcff,#f3f3ff,#e7e7ff,#dadaff,#cdcdff,#c0c0ff,#b3b3ff,#a7a7ff,#9a9aff,#8e8eff,#8383ff,#7777ff,#6c6cff,#6262ff,#5757ff,#4d4dff,#4343ff,#3a3aff,#3232ff,#2a2aff,#2323ff,#1e1eff,#1818ff,#1414ff,#1010ff,#0c0cff,#0909ff)"></div>
<div style="background:linear-gradient(90deg,#ffa3a3,#ffa1a1,#ffa0a0,#ff9e9e,#ff9d9d,#ff9c9c,#ff9b9b,#ff9a9a,#ff9a9a,#ff9a9a,#ff9b9b,#ff9c9c,#ff9d9d,#ff9f9f,#ffa1a1,#ffa3a3,#ffa4a4,#ffa5a5,#ffa6a6,#ffa7a7,#ffa8a8,#ffa9a9,#ffabab,#ffacac,#ffadad,#ffaeae,#ffb0b0,#ffb2b2,#ffb4b4,#ffb6b6,#ffb8b8,#ffbaba,#ffbdbd,#ffbfbf,#ffc2c2,#ffc6c6,#ffcaca,#ffcfcf,#ffd4d4,#ffdada,#ffe1e1,#ffe8e8,#ffefef,#fff4f4,#fff9f9,#fdfdff,#f1f1ff,#e3e3ff,#d5d5ff,#c8c8ff,#bbbbff,#aeaeff,#a2a2ff,#9595ff,#8989ff,#7e7eff,#7272ff,#6767ff,#5d5dff,#5252ff,#4848ff,#3e3eff,#3535ff,#2d2dff,#2626ff,#2020ff,#1b1bff,#1616ff,#1212ff,#0e0eff,#0a0aff)"></div>
<div style="background:linear-gradient(90deg,#ffa3a3,#ffa2a2,#ffa0a0,#ff9e9e,#ff9d9d,#ff9c9c,#ff9b9b,#ff9b9b,#ff9a9a,#ff9b9b,#ff9b9b,#ff9c9c,#ff9d9d,#ff9f9f,#ffa1a1,#ffa2a2,#ffa3a3,#ffa4a4,#ffa5a5,#ffa6a6,#ffa7a7,#ffa8a8,#ffa9a9,#ffaaaa,#ffabab,#ffadad,#ffaeae,#ffb0b0,#ffb2b2,#ffb4b4,#ffb5b5,#ffb7b7,#ffb9b9,#ffbbbb,#ffbebe,#ffc1c1,#ffc5c5,#ffcaca,#ffcfcf,#ffd4d4,#ffdbdb,#ffe1e1,#ffe7e7,#ffecec,#fff1f1,#fff9f9,#fafaff,#ebebff,#ddddff,#d0d0ff,#c2c2ff,#b5b5ff,#a9a9ff,#9c9cff,#9090ff,#8484ff,#7878ff,#6d6dff,#6262ff,#5757ff,#4d4dff,#4242ff,#3939ff,#3030ff,#2929ff,#2222ff,#1d1dff,#1818ff,#1313ff,#0f0fff,#0b0bff)"></div>
<div style="background:linear-gradient(90deg,#ffa3a3,#ffa2a2,#ffa0a0,#ff9f9f,#ff9d9d,#ff9c9c,#ff9c9c,#ff9b9b,#ff9b9b,#ff9b9b,#ff9c9c,#ff9c9c,#ff9d9d,#ff9f9f,#ffa0a0,#ffa2a2,#ffa3a3,#ffa4a4,#ffa4a4,#ffa5a5,#ffa6a6,#ffa6a6,#ffa7a7,#ffa8a8,#ffa9a9,#ffabab,#ffacac,#ffaeae,#ffafaf,#ffb1b1,#ffb3b3,#ffb4b4,#ffb6b6,#ffb8b8,#ffbaba,#ffbdbd,#ffc1c1,#ffc5c5,#ffc9c9,#ffcfcf,#ffd4d4,#ffdada,#ffe0e0,#ffe5e5,#ffeaea,#fff2f2,#fffcfc,#f3f3ff,#e5e5ff,#d7d7ff,#c9c9ff,#bcbcff,#afafff,#a3a3ff,#9696ff,#8a8aff,#7e7eff,#7272ff,#6767ff,#5c5cff,#5151ff,#4646ff,#3c3cff,#3333ff,#2b2bff,#2525ff,#1f1fff,#1a1aff,#1515ff,#1111ff,#0c0cff)"></div>
<div style="background:linear-gradient(90deg,#ffa4a4,#ffa2a2,#ffa0a0,#ff9f9f,#ff9e9e,#ff9d9d,#ff9c9c,#ff9c9c,#ff9b9b,#ff9b9b,#ff9c9c,#ff9d9d,#ff9e9e,#ff9f9f,#ffa0a0,#ffa1a1,#ffa2a2,#ffa3a3,#ffa3a3,#ffa4a4,#ffa4a4,#ffa5a5,#ffa6a6,#ffa7a7,#ffa8a8,#ffa9a9,#ffaaaa,#ffacac,#ffadad,#ffafaf,#ffb0b0,#ffb2b2,#ffb3b3,#ffb5b5,#ffb7b7,#ffbaba,#ffbdbd,#ffc0c0,#ffc5c5,#ffcaca,#ffcfcf,#ffd4d4,#ffd9d9,#ffdede,#ffe4e4,#ffecec,#fff6f6,#fafaff,#ebebff,#ddddff,#d0d0ff,#c3c3ff,#b6b6ff,#a9a9ff,#9c9cff,#8f8fff,#8383ff,#7777ff,#6c6cff,#6060ff,#5555ff,#4a4aff,#4040ff,#3636ff,#2e2eff,#2727ff,#2121ff,#1c1cff,#1717ff,#1212ff,#0e0eff)"></div>
<div style="background:linear-gradient(90deg,#ffa4a4,#ffa2a2,#ffa1a1,#ff9f9f,#ff9e9e,#ff9d9d,#ff9c9c,#ff9c9c,#ff9c9c,#ff9c9c,#ff9c9c,#ff9d9d,#ff9e9e,#ff9f9f,#ffa0a0,#ffa0a0,#ffa1a1,#ffa2a2,#ffa2a2,#ffa3a3,#ffa3a3,#ffa4a4,#ffa4a4,#ffa5a5,#ffa6a6,#ffa7a7,#ffa9a9,#ffaaaa,#ffabab,#ffadad,#ffaeae,#ffafaf,#ffb0b0,#ffb2b2,#ffb4b4,#ffb6b6,#ffb9b9,#ffbcbc,#ffc0c0,#ffc5c5,#ffcaca,#ffcece,#ffd4d4,#ffd9d9,#ffdfdf,#ffe7e7,#fff1f1,#ffffff,#f1f1ff,#e3e3ff,#d6d6ff,#c8c8ff,#bbbbff,#aeaeff,#a1a1ff,#9494ff,#8787ff,#7c7cff,#7070ff,#6464ff,#5959ff,#4d4dff,#4343ff,#3939ff,#3131ff,#2a2aff,#2323ff,#1e1eff,#1919ff,#1414ff,#0f0fff)"></div>
<div style="background:linear-gradient(90deg,#ffa4a4,#ffa3a3,#ffa1a1,#ffa0a0,#ff9f9f,#ff9e9e,#ff9d9d,#ff9c9c,#ff9c9c,#ff9c9c,#ff9c9c,#ff9d9d,#ff9e9e,#ff9e9e,#ff9f9f,#ffa0a0,#ffa0a0,#ffa1a1,#ffa1a1,#ffa2a2,#ffa2a2,#ffa2a2,#ffa3a3,#ffa4a4,#ffa5a5,#ffa6a6,#ffa7a7,#ffa8a8,#ffaaaa,#ffabab,#ffacac,#ffadad,#ffaeae,#ffafaf,#ffb1b1,#ffb3b3,#ffb6b6,#ffb9b9,#ffbcbc,#ffc0c0,#ffc5c5,#ffcaca,#ffcfcf,#ffd4d4,#ffdbdb,#ffe3e3,#ffeeee,#fffbfb,#f6f6ff,#e8e8ff,#dbdbff,#ceceff,#c0c0ff,#b3b3ff,#a5a5ff,#9898ff,#8c8cff,#8080ff,#7474ff,#6868ff,#5c5cff,#5151ff,#4646ff,#3c3cff,#3434ff,#2c2cff,#2626ff,#2020ff,#1a1aff,#1515ff,#1010ff)"></div>
<div style="background:linear-gradient(90deg,#ffa4a4,#ffa3a3,#ffa2a2,#ffa0a0,#ff9f9f,#ff9e9e,#ff9d9d,#ff9d9d,#ff9d9d,#ff9d9d,#ff9d9d,#ff9d9d,#ff9e9e,#ff9e9e,#ff9f9f,#ff9f9f,#ffa0a0,#ffa0a0,#ffa0a0,#ffa1a1,#ffa1a1,#ffa1a1,#ffa2a2,#ffa3a3,#ffa3a3,#ffa4a4,#ffa6a6,#ffa7a7,#ffa8a8,#ffa9a9,#ffaaaa,#ffabab,#ffacac,#ffadad,#ffaeae,#ffb0b0,#ffb2b2,#ffb5b5,#ffb9b9,#ffbcbc,#ffc1c1,#ffc5c5,#ffcaca,#ffd0d0,#ffd7d7,#ffdfdf,#ffeaea,#fff6f6,#fafaff,#ededff,#e0e0ff,#d3d3ff,#c5c5ff,#b7b7ff,#a9a9ff,#9c9cff,#8f8fff,#8383ff,#7777ff,#6b6bff,#5f5fff,#5454ff,#4949ff,#4040ff,#3737ff,#2f2fff,#2828ff,#2222ff,#1c1cff,#1717ff,#1212ff)"></div>
<div style="background:linear-gradient(90deg,#ffa5a5,#ffa3a3,#ffa2a2,#ffa1a1,#ffa0a0,#ff9f9f,#ff9e9e,#ff9d9d,#ff9d9d,#ff9d9d,#ff9d9d,#ff9d9d,#ff9e9e,#ff9e9e,#ff9e9e,#ff9f9f,#ff9f9f,#ff9f9f,#ff9f9f,#ffa0a0,#ffa0a0,#ffa0a0,#ffa1a1,#ffa1a1,#ffa2a2,#ffa3a3,#ffa4a4,#ffa5a5,#ffa6a6,#ffa7a7,#ffa8a8,#ffa9a9,#ffa9a9,#ffaaaa,#ffacac,#ffadad,#ffafaf,#ffb2b2,#ffb5b5,#ffb9b9,#ffbdbd,#ffc1c1,#ffc6c6,#ffcccc,#ffd3d3,#ffdcdc,#ffe6e6,#fff2f2,#ffffff,#f2f2ff,#e5e5ff,#d7d7ff,#c9c9ff,#bbbbff,#adadff,#9f9fff,#9292ff,#8686ff,#7a7aff,#6e6eff,#6262ff,#5757ff,#4d4dff,#4343ff,#3a3aff,#3232ff,#2b2bff,#2424ff,#1e1eff,#1919ff,#1313ff)"></div>
<div style="background:linear-gradient(90deg,#ffa5a5,#ffa4a4,#ffa2a2,#ffa1a1,#ffa0a0,#ff9f9f,#ff9e9e,#ff9e9e,#ff9e9e,#ff9d9d,#ff9d9d,#ff9e9e,#ff9e9e,#ff9e9e,#ff9e9e,#ff9e9e,#ff9f9f,#ff9f9f,#ff9f9f,#ff9f9f,#ff9f9f,#ff9f9f,#ffa0a0,#ffa0a0,#ffa1a1,#ffa2a2,#ffa3a3,#ffa4a4,#ffa5a5,#ffa5a5,#ffa6a6,#ffa7a7,#ffa7a7,#ffa8a8,#ffa9a9,#ffabab,#ffadad,#ffafaf,#ffb2b2,#ffb5b5,#ffb9b9,#ffbebe,#ffc3c3,#ffc9c9,#ffd0d0,#ffd9d9,#ffe2e2,#ffeded,#fffafa,#f7f7ff,#e9e9ff,#dcdcff,#cdcdff,#bfbfff,#b0b0ff,#a2a2ff,#9595ff,#8888ff,#7c7cff,#7070ff,#6565ff,#5a5aff,#5050ff,#4646ff,#3d3dff,#3535ff,#2d2dff,#2727ff,#2020ff,#1a1aff,#1515ff)"></div>
<div style="background:linear-gradient(90deg,#ffa6a6,#ffa4a4,#ffa3a3,#ffa2a2,#ffa1a1,#ffa0a0,#ff9f9f,#ff9e9e,#ff9e9e,#ff9e9e,#ff9e9e,#ff9e9e,#ff9e9e,#ff9e9e,#ff9e9e,#ff9e9e,#ff9e9e,#ff9e9e,#ff9e9e,#ff9e9e,#ff9e9e,#ff9e9e,#ff9f9f,#ff9f9f,#ffa0a0,#ffa1a1,#ffa2a2,#ffa3a3,#ffa3a3,#ffa4a4,#ffa4a4,#ffa5a5,#ffa5a5,#ffa6a6,#ffa7a7,#ffa8a8,#ffaaaa,#ffacac,#ffafaf,#ffb2b2,#ffb6b6,#ffbaba,#ffbfbf,#ffc5c5,#ffcccc,#ffd5d5,#ffdede,#ffe9e9,#fff5f5,#fcfcff,#eeeeff,#e0e0ff,#d1d1ff,#c2c2ff,#b3b3ff,#a4a4ff,#9797ff,#8a8aff,#7e7eff,#7373ff,#6868ff,#5d5dff,#5353ff,#4949ff,#4040ff,#3838ff,#3030ff,#2929ff,#2222ff,#1c1cff,#1616ff)"></div>
<div style="background:linear-gradient(90deg,#ffa6a6,#ffa5a5,#ffa4a4,#ffa2a2,#ffa1a1,#ffa0a0,#ffa0a0,#ff9f9f,#ff9f9f,#ff9e9e,#ff9e9e,#ff9e9e,#ff9e9e,#ff9e9e,#ff9e9e,#ff9e9e,#ff9e9e,#ff9e9e,#ff9e9e,#ff9e9e,#ff9d9d,#ff9d9d,#ff9e9e,#ff9e9e,#ff9f9f,#ffa0a0,#ffa1a1,#ffa1a1,#ffa2a2,#ffa3a3,#ffa3a3,#ffa3a3,#ffa3a3,#ffa4a4,#ffa5a5,#ffa6a6,#ffa7a7,#ffaaaa,#ffacac,#ffafaf,#ffb3b3,#ffb7b7,#ffbcbc,#ffc2c2,#ffc9c9,#ffd1d1,#ffdada,#ffe4e4,#fff0f0,#fffefe,#f2f2ff,#e4e4ff,#d5d5ff,#c5c5ff,#b5b5ff,#a6a6ff,#9898ff,#8c8cff,#8080ff,#7575ff,#6a6aff,#6060ff,#5555ff,#4c4cff,#4343ff,#3a3aff,#3232ff,#2b2bff,#2424ff,#1e1eff,#1717ff)"></div>
<div style="background:linear-gradient(90deg,#ffa7a7,#ffa5a5,#ffa4a4,#ffa3a3,#ffa2a2,#ffa1a1,#ffa0a0,#ffa0a0,#ff9f9f,#ff9f9f,#ff9f9f,#ff9e9e,#ff9e9e,#ff9e9e,#ff9e9e,#ff9e9e,#ff9e9e,#ff9e9e,#ff9d9d,#ff9d9d,#ff9d9d,#ff9d9d,#ff9d9d,#ff9e9e,#ff9e9e,#ff9f9f,#ffa0a0,#ffa0a0,#ffa1a1,#ffa1a1,#ffa2a2,#ffa2a2,#ffa2a2,#ffa2a2,#ffa3a3,#ffa4a4,#ffa5a5,#ffa7a7,#ffaaaa,#ffacac,#ffb0b0,#ffb4b4,#ffb9b9,#ffbfbf,#ffc5c5,#ffcdcd,#ffd5d5,#ffdfdf,#ffecec,#fff9f9,#f7f7ff,#e8e8ff,#d8d8ff,#c7c7ff,#b7b7ff,#a8a8ff,#9a9aff,#8d8dff,#8282ff,#7777ff,#6c6cff,#6262ff,#5858ff,#4f4fff,#4646ff,#3d3dff,#3535ff,#2d2dff,#2626ff,#1f1fff,#1919ff)"></div>
<div style="background:linear-gradient(90deg,#ffa7a7,#ffa6a6,#ffa5a5,#ffa4a4,#ffa3a3,#ffa2a2,#ffa1a1,#ffa0a0,#ffa0a0,#ff9f9f,#ff9f9f,#ff9f9f,#ff9f9f,#ff9e9e,#ff9e9e,#ff9e9e,#ff9e9e,#ff9d9d,#ff9d9d,#ff9d9d,#ff9d9d,#ff9d9d,#ff9d9d,#ff9d9d,#ff9e9e,#ff9e9e,#ff9f9f,#ff9f9f,#ffa0a0,#ffa0a0,#ffa0a0,#ffa0a0,#ffa0a0,#ffa0a0,#ffa1a1,#ffa1a1,#ffa3a3,#ffa5a5,#ffa7a7,#ffaaaa,#ffadad,#ffb1b1,#ffb6b6,#ffbbbb,#ffc2c2,#ffc9c9,#ffd1d1,#ffdbdb,#ffe7e7,#fff5f5,#fbfbff,#ececff,#dbdbff,#cacaff,#b9b9ff,#a9a9ff,#9b9bff,#8e8eff,#8383ff,#7979ff,#6f6fff,#6565ff,#5b5bff,#5151ff,#4848ff,#4040ff,#3737ff,#2f2fff,#2828ff,#2121ff,#1a1aff)"></div>
<div style="background:linear-gradient(90deg,#ffa8a8,#ffa7a7,#ffa5a5,#ffa4a4,#ffa3a3,#ffa2a2,#ffa2a2,#ffa1a1,#ffa0a0,#ffa0a0,#ffa0a0,#ff9f9f,#ff9f9f,#ff9f9f,#ff9f9f,#ff9e9e,#ff9e9e,#ff9d9d,#ff9d9d,#ff9d9d,#ff9c9c,#ff9c9c,#ff9c9c,#ff9d9d,#ff9d9d,#ff9d9d,#ff9e9e,#ff9e9e,#ff9f9f,#ff9f9f,#ff9f9f,#ff9f9f,#ff9f9f,#ff9f9f,#ff9f9f,#ff9f9f,#ffa1a1,#ffa2a2,#ffa4a4,#ffa7a7,#ffaaaa,#ffaeae,#ffb3b3,#ffb8b8,#ffbfbf,#ffc5c5,#ffcdcd,#ffd6d6,#ffe3e3,#fff1f1,#ffffff,#f0f0ff,#dedeff,#ccccff,#babaff,#aaaaff,#9b9bff,#8f8fff,#8585ff,#7b7bff,#7171ff,#6767ff,#5e5eff,#5454ff,#4b4bff,#4242ff,#3a3aff,#3232ff,#2a2aff,#2222ff,#1c1cff)"></div>
<div style="background:linear-gradient(90deg,#ffa9a9,#ffa7a7,#ffa6a6,#ffa5a5,#ffa4a4,#ffa3a3,#ffa2a2,#ffa2a2,#ffa1a1,#ffa0a0,#ffa0a0,#ffa0a0,#ff9f9f,#ff9f9f,#ff9f9f,#ff9e9e,#ff9e9e,#ff9e9e,#ff9d9d,#ff9d9d,#ff9c9c,#ff9c9c,#ff9c9c,#ff9c9c,#ff9d9d,#ff9d9d,#ff9d9d,#ff9e9e,#ff9e9e,#ff9e9e,#ff9e9e,#ff9e9e,#ff9d9d,#ff9d9d,#ff9d9d,#ff9d9d,#ff9e9e,#ffa0a0,#ffa2a2,#ffa4a4,#ffa7a7,#ffabab,#ffb0b0,#ffb6b6,#ffbcbc,#ffc2c2,#ffc9c9,#ffd2d2,#ffdede,#ffeded,#fffbfb,#f3f3ff,#e1e1ff,#ceceff,#bbbbff,#aaaaff,#9c9cff,#9090ff,#8686ff,#7c7cff,#7373ff,#6a6aff,#6060ff,#5757ff,#4e4eff,#4545ff,#3c3cff,#3434ff,#2c2cff,#2424ff,#1d1dff)"></div>
<div style="background:linear-gradient(90deg,#ffa9a9,#ffa8a8,#ffa7a7,#ffa6a6,#ffa5a5,#ffa4a4,#ffa3a3,#ffa2a2,#ffa2a2,#ffa1a1,#ffa1a1,#ffa0a0,#ffa0a0,#ffa0a0,#ff9f9f,#ff9f9f,#ff9e9e,#ff9e9e,#ff9d9d,#ff9d9d,#ff9c9c,#ff9c9c,#ff9c9c,#ff9c9c,#ff9c9c,#ff9c9c,#ff9d9d,#ff9d9d,#ff9d9d,#ff9d9d,#ff9d9d,#ff9c9c,#ff9c9c,#ff9b9b,#ff9b9b,#ff9c9c,#ff9c9c,#ff9e9e,#ff9f9f,#ffa2a2,#ffa5a5,#ffa9a9,#ffadad,#ffb3b3,#ffb9b9,#ffbfbf,#ffc5c5,#ffcdcd,#ffdada,#ffe9e9,#fff7f7,#f7f7ff,#e4e4ff,#d0d0ff,#bcbcff,#aaaaff,#9c9cff,#9191ff,#8787ff,#7e7eff,#7575ff,#6c6cff,#6363ff,#5959ff,#5050ff,#4747ff,#3e3eff,#3636ff,#2d2dff,#2626ff,#1e1eff)"></div>
<div style="background:linear-gradient(90deg,#ffaaaa,#ffa9a9,#ffa8a8,#ffa7a7,#ffa6a6,#ffa5a5,#ffa4a4,#ffa3a3,#ffa2a2,#ffa2a2,#ffa1a1,#ffa1a1,#ffa0a0,#ffa0a0,#ffa0a0,#ff9f9f,#ff9f9f,#ff9e9e,#ff9d9d,#ff9d9d,#ff9c9c,#ff9c9c,#ff9c9c,#ff9c9c,#ff9c9c,#ff9c9c,#ff9c9c,#ff9c9c,#ff9c9c,#ff9c9c,#ff9c9c,#ff9b9b,#ff9b9b,#ff9a9a,#ff9a9a,#ff9a9a,#ff9a9a,#ff9b9b,#ff9d9d,#ff9f9f,#ffa2a2,#ffa6a6,#ffabab,#ffb1b1,#ffb7b7,#ffbdbd,#ffc2c2,#ffcaca,#ffd7d7,#ffe6e6,#fff4f4,#fafaff,#e7e7ff,#d2d2ff,#bdbdff,#aaaaff,#9c9cff,#9292ff,#8989ff,#8080ff,#7777ff,#6e6eff,#6565ff,#5c5cff,#5353ff,#4949ff,#4040ff,#3838ff,#2f2fff,#2727ff,#2020ff)"></div>
<div style="background:linear-gradient(90deg,#ffabab,#ffaaaa,#ffa9a9,#ffa8a8,#ffa6a6,#ffa6a6,#ffa5a5,#ffa4a4,#ffa3a3,#ffa3a3,#ffa2a2,#ffa1a1,#ffa1a1,#ffa1a1,#ffa0a0,#ffa0a0,#ff9f9f,#ff9e9e,#ff9e9e,#ff9d9d,#ff9d9d,#ff9c9c,#ff9c9c,#ff9c9c,#ff9c9c,#ff9c9c,#ff9c9c,#ff9c9c,#ff9c9c,#ff9b9b,#ff9b9b,#ff9a9a,#ff9999,#ff9999,#ff9898,#ff9898,#ff9999,#ff9999,#ff9b9b,#ff9d9d,#ffa0a0,#ffa4a4,#ffa9a9,#ffaeae,#ffb4b4,#ffbbbb,#ffc0c0,#ffc8c8,#ffd5d5,#ffe3e3,#fff1f1,#fdfdff,#eaeaff,#d4d4ff,#bdbdff,#aaaaff,#9c9cff,#9393ff,#8b8bff,#8282ff,#7a7aff,#7070ff,#6767ff,#5e5eff,#5555ff,#4c4cff,#4242ff,#3939ff,#3131ff,#2929ff,#2121ff)"></div>
<div style="background:linear-gradient(90deg,#ffacac,#ffabab,#ffaaaa,#ffa8a8,#ffa7a7,#ffa6a6,#ffa6a6,#ffa5a5,#ffa4a4,#ffa3a3,#ffa3a3,#ffa2a2,#ffa2a2,#ffa1a1,#ffa1a1,#ffa0a0,#ffa0a0,#ff9f9f,#ff9e9e,#ff9d9d,#ff9d9d,#ff9c9c,#ff9c9c,#ff9c9c,#ff9c9c,#ff9b9b,#ff9b9b,#ff9b9b,#ff9b9b,#ff9b9b,#ff9a9a,#ff9999,#ff9898,#ff9898,#ff9797,#ff9797,#ff9797,#ff9898,#ff9999,#ff9b9b,#ff9e9e,#ffa2a2,#ffa7a7,#ffacac,#ffb2b2,#ffb9b9,#ffbfbf,#ffc8c8,#ffd4d4,#ffe2e2,#ffefef,#fffefe,#ececff,#d5d5ff,#bebeff,#aaaaff,#9d9dff,#9494ff,#8d8dff,#8484ff,#7c7cff,#7373ff,#6969ff,#6060ff,#5757ff,#4e4eff,#4444ff,#3b3bff,#3232ff,#2a2aff,#2222ff)"></div>
<div style="background:linear-gradient(90deg,#ffadad,#ffacac,#ffaaaa,#ffa9a9,#ffa8a8,#ffa7a7,#ffa6a6,#ffa6a6,#ffa5a5,#ffa4a4,#ffa3a3,#ffa3a3,#ffa2a2,#ffa2a2,#ffa1a1,#ffa1a1,#ffa0a0,#ff9f9f,#ff9e9e,#ff9e9e,#ff9d9d,#ff9c9c,#ff9c9c,#ff9c9c,#ff9b9b,#ff9b9b,#ff9b9b,#ff9b9b,#ff9b9b,#ff9a9a,#ff9999,#ff9999,#ff9898,#ff9797,#ff9696,#ff9696,#ff9696,#ff9696,#ff9797,#ff9a9a,#ff9c9c,#ffa0a0,#ffa5a5,#ffaaaa,#ffb0b0,#ffb7b7,#ffbebe,#ffc8c8,#ffd5d5,#ffe2e2,#ffeeee,#fffcfc,#efefff,#d8d8ff,#c0c0ff,#ababff,#9e9eff,#9696ff,#8f8fff,#8686ff,#7e7eff,#7474ff,#6b6bff,#6262ff,#5959ff,#5050ff,#4646ff,#3d3dff,#3434ff,#2b2bff,#2323ff)"></div>
<div style="background:linear-gradient(90deg,#ffaeae,#ffadad,#ffacac,#ffaaaa,#ffa9a9,#ffa8a8,#ffa7a7,#ffa7a7,#ffa6a6,#ffa5a5,#ffa4a4,#ffa4a4,#ffa3a3,#ffa2a2,#ffa2a2,#ffa1a1,#ffa0a0,#ffa0a0,#ff9f9f,#ff9e9e,#ff9d9d,#ff9d9d,#ff9c9c,#ff9c9c,#ff9c9c,#ff9b9b,#ff9b9b,#ff9b9b,#ff9a9a,#ff9a9a,#ff9999,#ff9898,#ff9797,#ff9696,#ff9595,#ff9595,#ff9494,#ff9595,#ff9696,#ff9898,#ff9b9b,#ff9f9f,#ffa3a3,#ffa9a9,#ffafaf,#ffb6b6,#ffbebe,#ffc9c9,#ffd6d6,#ffe2e2,#ffeeee,#fffbfb,#f1f1ff,#dadaff,#c3c3ff,#aeaeff,#a0a0ff,#9898ff,#9090ff,#8888ff,#7f7fff,#7676ff,#6d6dff,#6464ff,#5b5bff,#5151ff,#4848ff,#3f3fff,#3535ff,#2d2dff,#2525ff)"></div>
<div style="background:linear-gradient(90deg,#ffafaf,#ffaeae,#ffadad,#ffabab,#ffaaaa,#ffa9a9,#ffa8a8,#ffa7a7,#ffa7a7,#ffa6a6,#ffa5a5,#ffa4a4,#ffa4a4,#ffa3a3,#ffa2a2,#ffa2a2,#ffa1a1,#ffa0a0,#ff9f9f,#ff9e9e,#ff9e9e,#ff9d9d,#ff9d9d,#ff9c9c,#ff9c9c,#ff9b9b,#ff9b9b,#ff9b9b,#ff9a9a,#ff9999,#ff9999,#ff9797,#ff9696,#ff9595,#ff9494,#ff9494,#ff9494,#ff9494,#ff9595,#ff9797,#ff9a9a,#ff9e9e,#ffa2a2,#ffa7a7,#ffaeae,#ffb5b5,#ffbfbf,#ffcaca,#ffd7d7,#ffe3e3,#ffeeee,#fffafa,#f2f2ff,#ddddff,#c6c6ff,#b2b2ff,#a4a4ff,#9a9aff,#9292ff,#8a8aff,#8181ff,#7878ff,#6f6fff,#6666ff,#5c5cff,#5353ff,#4949ff,#4040ff,#3737ff,#2e2eff,#2626ff)"></div>
<div style="background:linear-gradient(90deg,#ffb0b0,#ffafaf,#ffaeae,#ffadad,#ffabab,#ffaaaa,#ffa9a9,#ffa9a9,#ffa8a8,#ffa7a7,#ffa6a6,#ffa5a5,#ffa4a4,#ffa4a4,#ffa3a3,#ffa2a2,#ffa1a1,#ffa0a0,#ffa0a0,#ff9f9f,#ff9e9e,#ff9d9d,#ff9d9d,#ff9c9c,#ff9c9c,#ff9b9b,#ff9b9b,#ff9b9b,#ff9a9a,#ff9999,#ff9898,#ff9797,#ff9696,#ff9595,#ff9494,#ff9393,#ff9393,#ff9393,#ff9494,#ff9696,#ff9999,#ff9d9d,#ffa1a1,#ffa7a7,#ffadad,#ffb5b5,#ffc0c0,#ffcccc,#ffd9d9,#ffe5e5,#ffefef,#fffafa,#f4f4ff,#dfdfff,#c9c9ff,#b6b6ff,#a8a8ff,#9d9dff,#9494ff,#8b8bff,#8282ff,#7979ff,#7070ff,#6767ff,#5e5eff,#5454ff,#4b4bff,#4242ff,#3838ff,#2f2fff,#2727ff)"></div>
<div style="background:linear-gradient(90deg,#ffb1b1,#ffb0b0,#ffafaf,#ffaeae,#ffadad,#ffacac,#ffabab,#ffaaaa,#ffa9a9,#ffa8a8,#ffa7a7,#ffa6a6,#ffa5a5,#ffa4a4,#ffa4a4,#ffa3a3,#ffa2a2,#ffa1a1,#ffa0a0,#ff9f9f,#ff9f9f,#ff9e9e,#ff9d9d,#ff9d9d,#ff9c9c,#ff9c9c,#ff9b9b,#ff9b9b,#ff9a9a,#ff9999,#ff9898,#ff9797,#ff9696,#ff9595,#ff9494,#ff9393,#ff9393,#ff9393,#ff9494,#ff9696,#ff9999,#ff9c9c,#ffa1a1,#ffa6a6,#ffadad,#ffb5b5,#ffc1c1,#ffcece,#ffdbdb,#ffe7e7,#fff0f0,#fffafa,#f5f5ff,#e1e1ff,#cdcdff,#babaff,#ababff,#9f9fff,#9696ff,#8d8dff,#8484ff,#7b7bff,#7272ff,#6969ff,#5f5fff,#5656ff,#4c4cff,#4343ff,#3a3aff,#3131ff,#2828ff)"></div>
<div style="background:linear-gradient(90deg,#ffb3b3,#ffb1b1,#ffb0b0,#ffafaf,#ffaeae,#ffadad,#ffacac,#ffabab,#ffaaaa,#ffa9a9,#ffa8a8,#ffa7a7,#ffa6a6,#ffa5a5,#ffa4a4,#ffa3a3,#ffa2a2,#ffa2a2,#ffa1a1,#ffa0a0,#ff9f9f,#ff9f9f,#ff9e9e,#ff9d9d,#ff9d9d,#ff9c9c,#ff9b9b,#ff9b9b,#ff9a9a,#ff9999,#ff9898,#ff9797,#ff9696,#ff9595,#ff9494,#ff9393,#ff9393,#ff9393,#ff9494,#ff9696,#ff9999,#ff9d9d,#ffa1a1,#ffa7a7,#ffaeae,#ffb6b6,#ffc2c2,#ffcfcf,#ffdddd,#ffe8e8,#fff1f1,#fffbfb,#f5f5ff,#e3e3ff,#cfcfff,#bdbdff,#aeaeff,#a2a2ff,#9898ff,#8e8eff,#8585ff,#7c7cff,#7373ff,#6a6aff,#6161ff,#5757ff,#4e4eff,#4444ff,#3b3bff,#3232ff,#2929ff)"></div>
<div style="background:linear-gradient(90deg,#ffb4b4,#ffb3b3,#ffb1b1,#ffb0b0,#ffafaf,#ffaeae,#ffadad,#ffacac,#ffabab,#ffaaaa,#ffa9a9,#ffa8a8,#ffa7a7,#ffa6a6,#ffa5a5,#ffa4a4,#ffa3a3,#ffa2a2,#ffa2a2,#ffa1a1,#ffa0a0,#ff9f9f,#ff9f9f,#ff9e9e,#ff9d9d,#ff9d9d,#ff9c9c,#ff9b9b,#ff9a9a,#ff9a9a,#ff9999,#ff9797,#ff9696,#ff9595,#ff9494,#ff9494,#ff9393,#ff9494,#ff9595,#ff9797,#ff9a9a,#ff9d9d,#ffa2a2,#ffa8a8,#ffafaf,#ffb8b8,#ffc4c4,#ffd1d1,#ffdfdf,#ffeaea,#fff3f3,#fffcfc,#f5f5ff,#e4e4ff,#d1d1ff,#c0c0ff,#b1b1ff,#a4a4ff,#9999ff,#9090ff,#8686ff,#7d7dff,#7474ff,#6b6bff,#6262ff,#5858ff,#4f4fff,#4545ff,#3c3cff,#3333ff,#2a2aff)"></div>
<div style="background:linear-gradient(90deg,#ffb5b5,#ffb4b4,#ffb3b3,#ffb2b2,#ffb0b0,#ffafaf,#ffaeae,#ffadad,#ffacac,#ffabab,#ffaaaa,#ffa9a9,#ffa8a8,#ffa7a7,#ffa6a6,#ffa5a5,#ffa4a4,#ffa3a3,#ffa2a2,#ffa2a2,#ffa1a1,#ffa0a0,#ff9f9f,#ff9f9f,#ff9e9e,#ff9d9d,#ff9c9c,#ff9c9c,#ff9b9b,#ff9a9a,#ff9999,#ff9898,#ff9797,#ff9696,#ff9595,#ff9494,#ff9494,#ff9595,#ff9696,#ff9898,#ff9b9b,#ff9e9e,#ffa3a3,#ffa9a9,#ffb0b0,#ffbaba,#ffc6c6,#ffd3d3,#ffe1e1,#ffecec,#fff4f4,#fffdfd,#f4f4ff,#e4e4ff,#d3d3ff,#c2c2ff,#b3b3ff,#a6a6ff,#9b9bff,#9191ff,#8888ff,#7f7fff,#7575ff,#6c6cff,#6363ff,#5a5aff,#5050ff,#4747ff,#3d3dff,#3434ff,#2b2bff)"></div>
<div style="background:linear-gradient(90deg,#ffb7b7,#ffb5b5,#ffb4b4,#ffb3b3,#ffb2b2,#ffb1b1,#ffb0b0,#ffaeae,#ffadad,#ffacac,#ffabab,#ffaaaa,#ffa9a9,#ffa8a8,#ffa7a7,#ffa6a6,#ffa5a5,#ffa4a4,#ffa3a3,#ffa2a2,#ffa2a2,#ffa1a1,#ffa0a0,#ffa0a0,#ff9f9f,#ff9e9e,#ff9d9d,#ff9c9c,#ff9b9b,#ff9a9a,#ff9999,#ff9898,#ff9797,#ff9797,#ff9696,#ff9696,#ff9696,#ff9696,#ff9797,#ff9999,#ff9c9c,#ffa0a0,#ffa5a5,#ffabab,#ffb2b2,#ffbcbc,#ffc8c8,#ffd6d6,#ffe3e3,#ffeded,#fff5f5,#fffefe,#f4f4ff,#e5e5ff,#d4d4ff,#c3c3ff,#b5b5ff,#a8a8ff,#9c9cff,#9292ff,#8989ff,#8080ff,#7777ff,#6e6eff,#6464ff,#5b5bff,#5151ff,#4848ff,#3e3eff,#3535ff,#2c2cff)"></div>
<div style="background:linear-gradient(90deg,#ffb8b8,#ffb7b7,#ffb6b6,#ffb4b4,#ffb3b3,#ffb2b2,#ffb1b1,#ffb0b0,#ffafaf,#ffaeae,#ffacac,#ffabab,#ffaaaa,#ffa9a9,#ffa8a8,#ffa7a7,#ffa6a6,#ffa5a5,#ffa4a4,#ffa4a4,#ffa3a3,#ffa2a2,#ffa1a1,#ffa0a0,#ffa0a0,#ff9f9f,#ff9e9e,#ff9d9d,#ff9c9c,#ff9b9b,#ff9a9a,#ff9999,#ff9898,#ff9898,#ff9797,#ff9797,#ff9797,#ff9898,#ff9999,#ff9b9b,#ff9e9e,#ffa2a2,#ffa6a6,#ffadad,#ffb4b4,#ffbebe,#ffcaca,#ffd8d8,#ffe5e5,#ffefef,#fff7f7,#ffffff,#f4f4ff,#e5e5ff,#d4d4ff,#c4c4ff,#b6b6ff,#a9a9ff,#9d9dff,#9393ff,#8a8aff,#8181ff,#7878ff,#6f6fff,#6565ff,#5c5cff,#5252ff,#4949ff,#3f3fff,#3636ff,#2d2dff)"></div>
<div style="background:linear-gradient(90deg,#ffb9b9,#ffb8b8,#ffb7b7,#ffb6b6,#ffb5b5,#ffb4b4,#ffb2b2,#ffb1b1,#ffb0b0,#ffafaf,#ffaeae,#ffadad,#ffabab,#ffaaaa,#ffa9a9,#ffa8a8,#ffa7a7,#ffa6a6,#ffa5a5,#ffa5a5,#ffa4a4,#ffa3a3,#ffa2a2,#ffa2a2,#ffa1a1,#ffa0a0,#ff9f9f,#ff9e9e,#ff9d9d,#ff9c9c,#ff9b9b,#ff9a9a,#ff9999,#ff9999,#ff9898,#ff9898,#ff9999,#ff9999,#ff9b9b,#ff9d9d,#ffa0a0,#ffa4a4,#ffa9a9,#ffafaf,#ffb7b7,#ffc0c0,#ffcccc,#ffd9d9,#ffe6e6,#fff1f1,#fff7f7,#ffffff,#f3f3ff,#e4e4ff,#d4d4ff,#c4c4ff,#b6b6ff,#a9a9ff,#9e9eff,#9494ff,#8b8bff,#8282ff,#7979ff,#7070ff,#6767ff,#5d5dff,#5353ff,#4a4aff,#4040ff,#3737ff,#2e2eff)"></div>
<div style="background:linear-gradient(90deg,#ffbbbb,#ffbaba,#ffb9b9,#ffb7b7,#ffb6b6,#ffb5b5,#ffb4b4,#ffb3b3,#ffb2b2,#ffb0b0,#ffafaf,#ffaeae,#ffadad,#ffabab,#ffaaaa,#ffa9a9,#ffa8a8,#ffa7a7,#ffa7a7,#ffa6a6,#ffa5a5,#ffa5a5,#ffa4a4,#ffa3a3,#ffa2a2,#ffa1a1,#ffa0a0,#ff9f9f,#ff9e9e,#ff9d9d,#ff9c9c,#ff9b9b,#ff9b9b,#ff9a9a,#ff9a9a,#ff9a9a,#ff9b9b,#ff9c9c,#ff9d9d,#ff9f9f,#ffa2a2,#ffa6a6,#ffabab,#ffb1b1,#ffb9b9,#ffc2c2,#ffcece,#ffdada,#ffe7e7,#fff1f1,#fff8f8,#fefeff,#f2f2ff,#e3e3ff,#d3d3ff,#c4c4ff,#b6b6ff,#aaaaff,#9f9fff,#9595ff,#8b8bff,#8383ff,#7a7aff,#7171ff,#6868ff,#5e5eff,#5454ff,#4b4bff,#4141ff,#3838ff,#2f2fff)"></div>
<div style="background:linear-gradient(90deg,#ffbcbc,#ffbbbb,#ffbaba,#ffb9b9,#ffb8b8,#ffb7b7,#ffb6b6,#ffb4b4,#ffb3b3,#ffb2b2,#ffb1b1,#ffafaf,#ffaeae,#ffadad,#ffacac,#ffabab,#ffaaaa,#ffa9a9,#ffa8a8,#ffa7a7,#ffa7a7,#ffa6a6,#ffa5a5,#ffa4a4,#ffa3a3,#ffa2a2,#ffa1a1,#ffa0a0,#ff9f9f,#ff9e9e,#ff9d9d,#ff9d9d,#ff9c9c,#ff9c9c,#ff9c9c,#ff9c9c,#ff9d9d,#ff9e9e,#ffa0a0,#ffa2a2,#ffa5a5,#ffa9a9,#ffadad,#ffb4b4,#ffbbbb,#ffc4c4,#ffcfcf,#ffdbdb,#ffe7e7,#fff0f0,#fff8f8,#fdfdff,#f1f1ff,#e2e2ff,#d2d2ff,#c3c3ff,#b6b6ff,#a9a9ff,#9f9fff,#9595ff,#8c8cff,#8383ff,#7b7bff,#7272ff,#6969ff,#5f5fff,#5555ff,#4c4cff,#4242ff,#3838ff,#2f2fff)"></div>
<div style="background:linear-gradient(90deg,#ffbebe,#ffbdbd,#ffbcbc,#ffbbbb,#ffbaba,#ffb8b8,#ffb7b7,#ffb6b6,#ffb5b5,#ffb4b4,#ffb2b2,#ffb1b1,#ffb0b0,#ffafaf,#ffadad,#ffacac,#ffabab,#ffaaaa,#ffaaaa,#ffa9a9,#ffa8a8,#ffa8a8,#ffa7a7,#ffa6a6,#ffa5a5,#ffa4a4,#ffa3a3,#ffa2a2,#ffa1a1,#ffa0a0,#ff9f9f,#ff9f9f,#ff9e9e,#ff9e9e,#ff9e9e,#ff9f9f,#ff9f9f,#ffa1a1,#ffa2a2,#ffa5a5,#ffa8a8,#ffabab,#ffb0b0,#ffb6b6,#ffbdbd,#ffc6c6,#ffd1d1,#ffdcdc,#ffe7e7,#fff0f0,#fff8f8,#fcfcff,#f0f0ff,#e1e1ff,#d1d1ff,#c2c2ff,#b5b5ff,#a9a9ff,#9f9fff,#9696ff,#8d8dff,#8484ff,#7c7cff,#7373ff,#6a6aff,#6060ff,#5656ff,#4c4cff,#4343ff,#3939ff,#3030ff)"></div>
<div style="background:linear-gradient(90deg,#ffc0c0,#ffbfbf,#ffbdbd,#ffbcbc,#ffbbbb,#ffbaba,#ffb9b9,#ffb8b8,#ffb7b7,#ffb5b5,#ffb4b4,#ffb3b3,#ffb1b1,#ffb0b0,#ffafaf,#ffaeae,#ffadad,#ffacac,#ffabab,#ffabab,#ffaaaa,#ffa9a9,#ffa8a8,#ffa8a8,#ffa7a7,#ffa6a6,#ffa5a5,#ffa4a4,#ffa3a3,#ffa2a2,#ffa1a1,#ffa0a0,#ffa0a0,#ffa0a0,#ffa1a1,#ffa1a1,#ffa2a2,#ffa3a3,#ffa5a5,#ffa8a8,#ffabab,#ffaeae,#ffb3b3,#ffb9b9,#ffc0c0,#ffc8c8,#ffd2d2,#ffdddd,#ffe7e7,#fff0f0,#fff8f8,#fbfbff,#eeeeff,#dfdfff,#cfcfff,#c0c0ff,#b3b3ff,#a8a8ff,#9f9fff,#9696ff,#8d8dff,#8585ff,#7c7cff,#7474ff,#6b6bff,#6161ff,#5757ff,#4d4dff,#4343ff,#3a3aff,#3131ff)"></div>
<div style="background:linear-gradient(90deg,#ffc1c1,#ffc0c0,#ffbfbf,#ffbebe,#ffbdbd,#ffbcbc,#ffbbbb,#ffb9b9,#ffb8b8,#ffb7b7,#ffb6b6,#ffb5b5,#ffb3b3,#ffb2b2,#ffb1b1,#ffb0b0,#ffafaf,#ffaeae,#ffadad,#ffadad,#ffacac,#ffabab,#ffaaaa,#ffa9a9,#ffa9a9,#ffa8a8,#ffa7a7,#ffa6a6,#ffa4a4,#ffa4a4,#ffa3a3,#ffa3a3,#ffa3a3,#ffa3a3,#ffa3a3,#ffa4a4,#ffa5a5,#ffa6a6,#ffa8a8,#ffabab,#ffaeae,#ffb2b2,#ffb6b6,#ffbcbc,#ffc3c3,#ffcbcb,#ffd4d4,#ffdede,#ffe8e8,#fff1f1,#fff9f9,#fafaff,#ececff,#dcdcff,#cdcdff,#bebeff,#b2b2ff,#a8a8ff,#9f9fff,#9696ff,#8e8eff,#8585ff,#7d7dff,#7575ff,#6c6cff,#6262ff,#5858ff,#4e4eff,#4444ff,#3a3aff,#3131ff)"></div>
<div style="background:linear-gradient(90deg,#ffc3c3,#ffc2c2,#ffc1c1,#ffc0c0,#ffbfbf,#ffbebe,#ffbcbc,#ffbbbb,#ffbaba,#ffb9b9,#ffb8b8,#ffb6b6,#ffb5b5,#ffb4b4,#ffb3b3,#ffb2b2,#ffb1b1,#ffb0b0,#ffafaf,#ffafaf,#ffaeae,#ffadad,#ffacac,#ffabab,#ffabab,#ffaaaa,#ffa9a9,#ffa8a8,#ffa7a7,#ffa6a6,#ffa5a5,#ffa5a5,#ffa5a5,#ffa5a5,#ffa6a6,#ffa7a7,#ffa8a8,#ffa9a9,#ffabab,#ffaeae,#ffb1b1,#ffb5b5,#ffbaba,#ffbfbf,#ffc6c6,#ffcece,#ffd7d7,#ffe0e0,#ffeaea,#fff2f2,#fffbfb,#f7f7ff,#eaeaff,#dadaff,#cbcbff,#bcbcff,#b0b0ff,#a7a7ff,#9e9eff,#9696ff,#8e8eff,#8686ff,#7e7eff,#7676ff,#6d6dff,#6363ff,#5959ff,#4f4fff,#4545ff,#3b3bff,#3232ff)"></div>
<div style="background:linear-gradient(90deg,#ffc5c5,#ffc4c4,#ffc3c3,#ffc2c2,#ffc1c1,#ffbfbf,#ffbebe,#ffbdbd,#ffbcbc,#ffbbbb,#ffbaba,#ffb8b8,#ffb7b7,#ffb6b6,#ffb5b5,#ffb4b4,#ffb3b3,#ffb2b2,#ffb1b1,#ffb1b1,#ffb0b0,#ffafaf,#ffaeae,#ffaeae,#ffadad,#ffacac,#ffabab,#ffaaaa,#ffa9a9,#ffa8a8,#ffa8a8,#ffa8a8,#ffa8a8,#ffa8a8,#ffa9a9,#ffaaaa,#ffabab,#ffadad,#ffafaf,#ffb1b1,#ffb5b5,#ffb9b9,#ffbdbd,#ffc3c3,#ffcaca,#ffd1d1,#ffdada,#ffe3e3,#ffecec,#fff5f5,#fffefe,#f4f4ff,#e7e7ff,#d8d8ff,#c8c8ff,#babaff,#afafff,#a6a6ff,#9e9eff,#9696ff,#8e8eff,#8686ff,#7e7eff,#7676ff,#6d6dff,#6464ff,#5959ff,#4f4fff,#4545ff,#3b3bff,#3232ff)"></div>
<div style="background:linear-gradient(90deg,#ffc7c7,#ffc6c6,#ffc5c5,#ffc3c3,#ffc2c2,#ffc1c1,#ffc0c0,#ffbfbf,#ffbebe,#ffbdbd,#ffbcbc,#ffbaba,#ffb9b9,#ffb8b8,#ffb7b7,#ffb6b6,#ffb5b5,#ffb4b4,#ffb4b4,#ffb3b3,#ffb2b2,#ffb1b1,#ffb1b1,#ffb0b0,#ffafaf,#ffaeae,#ffadad,#ffadad,#ffacac,#ffabab,#ffabab,#ffabab,#ffabab,#ffabab,#ffacac,#ffadad,#ffaeae,#ffb0b0,#ffb2b2,#ffb5b5,#ffb8b8,#ffbcbc,#ffc1c1,#ffc7c7,#ffcdcd,#ffd5d5,#ffdddd,#ffe6e6,#ffefef,#fff8f8,#fdfdff,#f1f1ff,#e4e4ff,#d6d6ff,#c7c7ff,#b9b9ff,#aeaeff,#a6a6ff,#9e9eff,#9696ff,#8e8eff,#8787ff,#7f7fff,#7777ff,#6e6eff,#6464ff,#5a5aff,#5050ff,#4646ff,#3c3cff,#3333ff)"></div>
<div style="background:linear-gradient(90deg,#ffc8c8,#ffc7c7,#ffc6c6,#ffc5c5,#ffc4c4,#ffc3c3,#ffc2c2,#ffc1c1,#ffc0c0,#ffbfbf,#ffbebe,#ffbcbc,#ffbbbb,#ffbaba,#ffb9b9,#ffb8b8,#ffb7b7,#ffb7b7,#ffb6b6,#ffb5b5,#ffb4b4,#ffb4b4,#ffb3b3,#ffb2b2,#ffb2b2,#ffb1b1,#ffb0b0,#ffafaf,#ffafaf,#ffaeae,#ffaeae,#ffaeae,#ffaeae,#ffaeae,#ffafaf,#ffb0b0,#ffb1b1,#ffb3b3,#ffb6b6,#ffb8b8,#ffbcbc,#ffc0c0,#ffc5c5,#ffcbcb,#ffd1d1,#ffd9d9,#ffe1e1,#ffe9e9,#fff2f2,#fffbfb,#f9f9ff,#eeeeff,#e1e1ff,#d3d3ff,#c5c5ff,#b8b8ff,#aeaeff,#a6a6ff,#9e9eff,#9696ff,#8f8fff,#8787ff,#7f7fff,#7777ff,#6e6eff,#6464ff,#5a5aff,#5050ff,#4646ff,#3d3dff,#3434ff)"></div>
<div style="background:linear-gradient(90deg,#ffcaca,#ffc9c9,#ffc8c8,#ffc7c7,#ffc6c6,#ffc5c5,#ffc4c4,#ffc3c3,#ffc2c2,#ffc1c1,#ffc0c0,#ffbfbf,#ffbebe,#ffbcbc,#ffbbbb,#ffbaba,#ffbaba,#ffb9b9,#ffb8b8,#ffb8b8,#ffb7b7,#ffb6b6,#ffb5b5,#ffb5b5,#ffb4b4,#ffb3b3,#ffb3b3,#ffb2b2,#ffb2b2,#ffb1b1,#ffb1b1,#ffb1b1,#ffb1b1,#ffb2b2,#ffb2b2,#ffb3b3,#ffb5b5,#ffb7b7,#ffb9b9,#ffbcbc,#ffc0c0,#ffc4c4,#ffc9c9,#ffcfcf,#ffd5d5,#ffdddd,#ffe5e5,#ffeded,#fff6f6,#fffefe,#f6f6ff,#ebebff,#dfdfff,#d2d2ff,#c4c4ff,#b8b8ff,#aeaeff,#a6a6ff,#9e9eff,#9696ff,#8f8fff,#8787ff,#7f7fff,#7777ff,#6e6eff,#6565ff,#5b5bff,#5151ff,#4747ff,#3d3dff,#3434ff)"></div>
<div style="background:linear-gradient(90deg,#ffcccc,#ffcbcb,#ffcaca,#ffc9c9,#ffc8c8,#ffc7c7,#ffc6c6,#ffc5c5,#ffc4c4,#ffc3c3,#ffc2c2,#ffc1c1,#ffc0c0,#ffbfbf,#ffbebe,#ffbdbd,#ffbcbc,#ffbbbb,#ffbbbb,#ffbaba,#ffb9b9,#ffb9b9,#ffb8b8,#ffb7b7,#ffb7b7,#ffb6b6,#ffb6b6,#ffb5b5,#ffb5b5,#ffb4b4,#ffb4b4,#ffb4b4,#ffb4b4,#ffb5b5,#ffb6b6,#ffb7b7,#ffb8b8,#ffbaba,#ffbdbd,#ffc0c0,#ffc4c4,#ffc8c8,#ffcdcd,#ffd3d3,#ffdada,#ffe1e1,#ffe9e9,#fff1f1,#fff9f9,#fcfcff,#f3f3ff,#e8e8ff,#ddddff,#d0d0ff,#c4c4ff,#b8b8ff,#aeaeff,#a6a6ff,#9e9eff,#9696ff,#8f8fff,#8787ff,#7f7fff,#7777ff,#6e6eff,#6565ff,#5b5bff,#5151ff,#4747ff,#3e3eff,#3535ff)"></div>
<div style="background:linear-gradient(90deg,#ffcece,#ffcdcd,#ffcccc,#ffcbcb,#ffcaca,#ffc9c9,#ffc8c8,#ffc7c7,#ffc6c6,#ffc5c5,#ffc4c4,#ffc3c3,#ffc2c2,#ffc1c1,#ffc0c0,#ffbfbf,#ffbfbf,#ffbebe,#ffbdbd,#ffbdbd,#ffbcbc,#ffbbbb,#ffbbbb,#ffbaba,#ffb9b9,#ffb9b9,#ffb9b9,#ffb8b8,#ffb8b8,#ffb8b8,#ffb8b8,#ffb8b8,#ffb8b8,#ffb8b8,#ffb9b9,#ffbaba,#ffbcbc,#ffbebe,#ffc1c1,#ffc4c4,#ffc8c8,#ffcccc,#ffd1d1,#ffd7d7,#ffdede,#ffe5e5,#ffeded,#fff5f5,#fffdfd,#f9f9ff,#f0f0ff,#e6e6ff,#dbdbff,#cfcfff,#c3c3ff,#b8b8ff,#afafff,#a6a6ff,#9e9eff,#9696ff,#8f8fff,#8787ff,#7f7fff,#7777ff,#6e6eff,#6565ff,#5b5bff,#5252ff,#4848ff,#3f3fff,#3636ff)"></div>
<div style="background:linear-gradient(90deg,#ffd0d0,#ffcfcf,#ffcece,#ffcdcd,#ffcccc,#ffcbcb,#ffcaca,#ffc9c9,#ffc8c8,#ffc7c7,#ffc6c6,#ffc5c5,#ffc5c5,#ffc4c4,#ffc3c3,#ffc2c2,#ffc1c1,#ffc1c1,#ffc0c0,#ffbfbf,#ffbebe,#ffbebe,#ffbdbd,#ffbdbd,#ffbcbc,#ffbcbc,#ffbbbb,#ffbbbb,#ffbbbb,#ffbbbb,#ffbbbb,#ffbbbb,#ffbbbb,#ffbcbc,#ffbdbd,#ffbebe,#ffc0c0,#ffc2c2,#ffc4c4,#ffc8c8,#ffcccc,#ffd0d0,#ffd5d5,#ffdbdb,#ffe2e2,#ffe9e9,#fff1f1,#fff9f9,#fdfdff,#f5f5ff,#ededff,#e3e3ff,#d9d9ff,#ceceff,#c3c3ff,#b8b8ff,#afafff,#a6a6ff,#9e9eff,#9797ff,#8f8fff,#8787ff,#7f7fff,#7777ff,#6e6eff,#6565ff,#5b5bff,#5252ff,#4848ff,#3f3fff,#3636ff)"></div>
<div style="background:linear-gradient(90deg,#ffd1d1,#ffd1d1,#ffd0d0,#ffcfcf,#ffcece,#ffcdcd,#ffcccc,#ffcbcb,#ffcaca,#ffc9c9,#ffc8c8,#ffc8c8,#ffc7c7,#ffc6c6,#ffc5c5,#ffc5c5,#ffc4c4,#ffc3c3,#ffc2c2,#ffc2c2,#ffc1c1,#ffc1c1,#ffc0c0,#ffbfbf,#ffbfbf,#ffbfbf,#ffbebe,#ffbebe,#ffbebe,#ffbebe,#ffbebe,#ffbfbf,#ffbfbf,#ffbfbf,#ffc0c0,#ffc2c2,#ffc3c3,#ffc5c5,#ffc8c8,#ffcccc,#ffd0d0,#ffd4d4,#ffdada,#ffdfdf,#ffe6e6,#ffeded,#fff4f4,#fffcfc,#fafaff,#f2f2ff,#eaeaff,#e1e1ff,#d7d7ff,#cdcdff,#c3c3ff,#b9b9ff,#afafff,#a7a7ff,#9f9fff,#9797ff,#8f8fff,#8787ff,#7f7fff,#7777ff,#6e6eff,#6565ff,#5c5cff,#5252ff,#4949ff,#4040ff,#3737ff)"></div>
<div style="background:linear-gradient(90deg,#ffd3d3,#ffd2d2,#ffd2d2,#ffd1d1,#ffd0d0,#ffcfcf,#ffcece,#ffcdcd,#ffcccc,#ffcbcb,#ffcbcb,#ffcaca,#ffc9c9,#ffc9c9,#ffc8c8,#ffc7c7,#ffc7c7,#ffc6c6,#ffc5c5,#ffc4c4,#ffc4c4,#ffc3c3,#ffc3c3,#ffc2c2,#ffc2c2,#ffc2c2,#ffc1c1,#ffc1c1,#ffc2c2,#ffc2c2,#ffc2c2,#ffc2c2,#ffc2c2,#ffc3c3,#ffc4c4,#ffc5c5,#ffc7c7,#ffc9c9,#ffcccc,#ffd0d0,#ffd4d4,#ffd8d8,#ffdede,#ffe3e3,#ffeaea,#fff0f0,#fff8f8,#ffffff,#f7f7ff,#f0f0ff,#e8e8ff,#dfdfff,#d6d6ff,#ccccff,#c2c2ff,#b9b9ff,#b0b0ff,#a7a7ff,#9f9fff,#9797ff,#8f8fff,#8888ff,#7f7fff,#7777ff,#6e6eff,#6565ff,#5c5cff,#5353ff,#4949ff,#4040ff,#3838ff)"></div>
<div style="background:linear-gradient(90deg,#ffd5d5,#ffd4d4,#ffd3d3,#ffd3d3,#ffd2d2,#ffd1d1,#ffd0d0,#ffcfcf,#ffcece,#ffcece,#ffcdcd,#ffcccc,#ffcccc,#ffcbcb,#ffcbcb,#ffcaca,#ffc9c9,#ffc9c9,#ffc8c8,#ffc7c7,#ffc6c6,#ffc6c6,#ffc5c5,#ffc5c5,#ffc5c5,#ffc4c4,#ffc4c4,#ffc4c4,#ffc5c5,#ffc5c5,#ffc5c5,#ffc5c5,#ffc6c6,#ffc7c7,#ffc8c8,#ffc9c9,#ffcbcb,#ffcdcd,#ffd0d0,#ffd4d4,#ffd8d8,#ffdcdc,#ffe2e2,#ffe7e7,#ffeded,#fff4f4,#fffbfb,#fcfcff,#f5f5ff,#eeeeff,#e6e6ff,#dedeff,#d5d5ff,#ccccff,#c2c2ff,#b9b9ff,#b0b0ff,#a8a8ff,#a0a0ff,#9898ff,#9090ff,#8888ff,#8080ff,#7777ff,#6e6eff,#6565ff,#5c5cff,#5353ff,#4a4aff,#4141ff,#3838ff)"></div>
<div style="background:linear-gradient(90deg,#ffd7d7,#ffd6d6,#ffd5d5,#ffd4d4,#ffd4d4,#ffd3d3,#ffd2d2,#ffd1d1,#ffd0d0,#ffd0d0,#ffcfcf,#ffcfcf,#ffcece,#ffcece,#ffcdcd,#ffcdcd,#ffcccc,#ffcbcb,#ffcaca,#ffcaca,#ffc9c9,#ffc9c9,#ffc8c8,#ffc8c8,#ffc7c7,#ffc7c7,#ffc7c7,#ffc7c7,#ffc8c8,#ffc8c8,#ffc8c8,#ffc9c9,#ffc9c9,#ffcaca,#ffcbcb,#ffcdcd,#ffcfcf,#ffd1d1,#ffd4d4,#ffd8d8,#ffdcdc,#ffe0e0,#ffe5e5,#ffebeb,#fff1f1,#fff7f7,#fffdfd,#fafaff,#f3f3ff,#ececff,#e4e4ff,#dcdcff,#d4d4ff,#cbcbff,#c2c2ff,#babaff,#b1b1ff,#a8a8ff,#a0a0ff,#9898ff,#9090ff,#8888ff,#8080ff,#7777ff,#6e6eff,#6565ff,#5c5cff,#5353ff,#4a4aff,#4141ff,#3939ff)"></div>
<div style="background:linear-gradient(90deg,#ffd9d9,#ffd8d8,#ffd7d7,#ffd6d6,#ffd5d5,#ffd5d5,#ffd4d4,#ffd3d3,#ffd2d2,#ffd2d2,#ffd1d1,#ffd1d1,#ffd0d0,#ffd0d0,#ffd0d0,#ffcfcf,#ffcfcf,#ffcece,#ffcdcd,#ffcccc,#ffcccc,#ffcbcb,#ffcbcb,#ffcaca,#ffcaca,#ffcaca,#ffcaca,#ffcaca,#ffcbcb,#ffcbcb,#ffcccc,#ffcccc,#ffcdcd,#ffcece,#ffcfcf,#ffd0d0,#ffd2d2,#ffd5d5,#ffd8d8,#ffdbdb,#ffe0e0,#ffe4e4,#ffe9e9,#ffeeee,#fff4f4,#fffafa,#fefeff,#f8f8ff,#f1f1ff,#eaeaff,#e3e3ff,#dbdbff,#d3d3ff,#cbcbff,#c2c2ff,#babaff,#b1b1ff,#a9a9ff,#a1a1ff,#9999ff,#9191ff,#8888ff,#8080ff,#7777ff,#6f6fff,#6666ff,#5d5dff,#5353ff,#4a4aff,#4242ff,#3939ff)"></div>
<div style="background:linear-gradient(90deg,#ffdada,#ffdada,#ffd9d9,#ffd8d8,#ffd7d7,#ffd6d6,#ffd6d6,#ffd5d5,#ffd4d4,#ffd4d4,#ffd3d3,#ffd3d3,#ffd2d2,#ffd2d2,#ffd2d2,#ffd2d2,#ffd1d1,#ffd0d0,#ffd0d0,#ffcfcf,#ffcece,#ffcece,#ffcdcd,#ffcdcd,#ffcdcd,#ffcdcd,#ffcdcd,#ffcdcd,#ffcece,#ffcece,#ffcfcf,#ffcfcf,#ffd0d0,#ffd1d1,#ffd2d2,#ffd4d4,#ffd6d6,#ffd9d9,#ffdcdc,#ffdfdf,#ffe3e3,#ffe8e8,#ffeded,#fff2f2,#fff7f7,#fffdfd,#fcfcff,#f6f6ff,#efefff,#e9e9ff,#e2e2ff,#dbdbff,#d3d3ff,#cbcbff,#c3c3ff,#babaff,#b2b2ff,#aaaaff,#a2a2ff,#9999ff,#9191ff,#8989ff,#8080ff,#7878ff,#6f6fff,#6666ff,#5d5dff,#5454ff,#4b4bff,#4242ff,#3a3aff)"></div>
<div style="background:linear-gradient(90deg,#ffdcdc,#ffdbdb,#ffdbdb,#ffdada,#ffd9d9,#ffd8d8,#ffd8d8,#ffd7d7,#ffd6d6,#ffd6d6,#ffd5d5,#ffd5d5,#ffd5d5,#ffd4d4,#ffd4d4,#ffd4d4,#ffd3d3,#ffd3d3,#ffd2d2,#ffd1d1,#ffd1d1,#ffd0d0,#ffd0d0,#ffd0d0,#ffd0d0,#ffd0d0,#ffd0d0,#ffd0d0,#ffd1d1,#ffd1d1,#ffd2d2,#ffd3d3,#ffd3d3,#ffd4d4,#ffd6d6,#ffd8d8,#ffdada,#ffdcdc,#ffdfdf,#ffe3e3,#ffe7e7,#ffecec,#fff0f0,#fff5f5,#fffafa,#ffffff,#fafaff,#f4f4ff,#eeeeff,#e8e8ff,#e1e1ff,#dadaff,#d3d3ff,#cbcbff,#c3c3ff,#bbbbff,#b3b3ff,#aaaaff,#a2a2ff,#9a9aff,#9292ff,#8989ff,#8181ff,#7878ff,#6f6fff,#6666ff,#5d5dff,#5454ff,#4b4bff,#4343ff,#3a3aff)"></div>
<div style="background:linear-gradient(90deg,#ffdede,#ffdddd,#ffdcdc,#ffdcdc,#ffdbdb,#ffdada,#ffd9d9,#ffd9d9,#ffd8d8,#ffd8d8,#ffd7d7,#ffd7d7,#ffd7d7,#ffd6d6,#ffd6d6,#ffd6d6,#ffd6d6,#ffd5d5,#ffd4d4,#ffd4d4,#ffd3d3,#ffd3d3,#ffd3d3,#ffd2d2,#ffd2d2,#ffd3d3,#ffd3d3,#ffd3d3,#ffd4d4,#ffd4d4,#ffd5d5,#ffd6d6,#ffd7d7,#ffd8d8,#ffd9d9,#ffdbdb,#ffdddd,#ffe0e0,#ffe3e3,#ffe7e7,#ffebeb,#ffefef,#fff4f4,#fff8f8,#fffcfc,#fdfdff,#f8f8ff,#f2f2ff,#ededff,#e7e7ff,#e0e0ff,#dadaff,#d2d2ff,#cbcbff,#c3c3ff,#bbbbff,#b3b3ff,#ababff,#a3a3ff,#9b9bff,#9292ff,#8a8aff,#8181ff,#7878ff,#6f6fff,#6666ff,#5d5dff,#5454ff,#4c4cff,#4343ff,#3b3bff)"></div>
<div style="background:linear-gradient(90deg,#ffdfdf,#ffdfdf,#ffdede,#ffdddd,#ffdddd,#ffdcdc,#ffdbdb,#ffdada,#ffdada,#ffd9d9,#ffd9d9,#ffd9d9,#ffd8d8,#ffd8d8,#ffd8d8,#ffd8d8,#ffd8d8,#ffd7d7,#ffd6d6,#ffd6d6,#ffd6d6,#ffd5d5,#ffd5d5,#ffd5d5,#ffd5d5,#ffd5d5,#ffd6d6,#ffd6d6,#ffd7d7,#ffd7d7,#ffd8d8,#ffd9d9,#ffdada,#ffdbdb,#ffdddd,#ffdede,#ffe1e1,#ffe3e3,#ffe6e6,#ffeaea,#ffeeee,#fff2f2,#fff7f7,#fffbfb,#ffffff,#fbfbff,#f6f6ff,#f1f1ff,#ececff,#e6e6ff,#e0e0ff,#d9d9ff,#d2d2ff,#cbcbff,#c4c4ff,#bcbcff,#b4b4ff,#acacff,#a4a4ff,#9b9bff,#9393ff,#8a8aff,#8282ff,#7979ff,#7070ff,#6767ff,#5e5eff,#5555ff,#4c4cff,#4343ff,#3b3bff)"></div>
<div style="background:linear-gradient(90deg,#ffe1e1,#ffe0e0,#ffe0e0,#ffdfdf,#ffdede,#ffdddd,#ffdddd,#ffdcdc,#ffdcdc,#ffdbdb,#ffdbdb,#ffdada,#ffdada,#ffdada,#ffdada,#ffdada,#ffdada,#ffd9d9,#ffd8d8,#ffd8d8,#ffd8d8,#ffd8d8,#ffd8d8,#ffd8d8,#ffd8d8,#ffd8d8,#ffd8d8,#ffd9d9,#ffdada,#ffdada,#ffdbdb,#ffdcdc,#ffdddd,#ffdede,#ffe0e0,#ffe2e2,#ffe4e4,#ffe7e7,#ffeaea,#ffeded,#fff2f2,#fff6f6,#fffafa,#fffdfd,#fdfdff,#f9f9ff,#f4f4ff,#f0f0ff,#ebebff,#e5e5ff,#dfdfff,#d9d9ff,#d3d3ff,#ccccff,#c4c4ff,#bdbdff,#b5b5ff,#adadff,#a4a4ff,#9c9cff,#9393ff,#8b8bff,#8282ff,#7979ff,#7070ff,#6767ff,#5e5eff,#5555ff,#4c4cff,#4444ff,#3c3cff)"></div>
<div style="background:linear-gradient(90deg,#ffe2e2,#ffe2e2,#ffe1e1,#ffe0e0,#ffe0e0,#ffdfdf,#ffdede,#ffdede,#ffdddd,#ffdddd,#ffdcdc,#ffdcdc,#ffdcdc,#ffdcdc,#ffdcdc,#ffdbdb,#ffdbdb,#ffdbdb,#ffdada,#ffdada,#ffdada,#ffdada,#ffdada,#ffdada,#ffdada,#ffdbdb,#ffdbdb,#ffdcdc,#ffdcdc,#ffdddd,#ffdede,#ffdfdf,#ffe0e0,#ffe2e2,#ffe3e3,#ffe5e5,#ffe7e7,#ffeaea,#ffeded,#fff1f1,#fff5f5,#fff9f9,#fffcfc,#fefeff,#fbfbff,#f7f7ff,#f3f3ff,#efefff,#eaeaff,#e5e5ff,#dfdfff,#d9d9ff,#d3d3ff,#ccccff,#c5c5ff,#bdbdff,#b5b5ff,#adadff,#a5a5ff,#9d9dff,#9494ff,#8b8bff,#8383ff,#7a7aff,#7171ff,#6868ff,#5f5fff,#5656ff,#4d4dff,#4444ff,#3c3cff)"></div>
<div style="background:linear-gradient(90deg,#ffe4e4,#ffe3e3,#ffe3e3,#ffe2e2,#ffe1e1,#ffe1e1,#ffe0e0,#ffdfdf,#ffdfdf,#ffdede,#ffdede,#ffdede,#ffdddd,#ffdddd,#ffdddd,#ffdddd,#ffdddd,#ffdddd,#ffdcdc,#ffdcdc,#ffdcdc,#ffdcdc,#ffdcdc,#ffdcdc,#ffdddd,#ffdddd,#ffdede,#ffdede,#ffdfdf,#ffe0e0,#ffe1e1,#ffe2e2,#ffe3e3,#ffe5e5,#ffe6e6,#ffe8e8,#ffeaea,#ffeded,#fff0f0,#fff3f3,#fff7f7,#fffbfb,#ffffff,#fcfcff,#f9f9ff,#f6f6ff,#f2f2ff,#eeeeff,#eaeaff,#e5e5ff,#dfdfff,#d9d9ff,#d3d3ff,#ccccff,#c5c5ff,#bebeff,#b6b6ff,#aeaeff,#a6a6ff,#9d9dff,#9595ff,#8c8cff,#8383ff,#7a7aff,#7171ff,#6868ff,#5f5fff,#5656ff,#4d4dff,#4545ff,#3d3dff)"></div>
<div style="background:linear-gradient(90deg,#ffe5e5,#ffe5e5,#ffe4e4,#ffe4e4,#ffe3e3,#ffe2e2,#ffe2e2,#ffe1e1,#ffe0e0,#ffe0e0,#ffe0e0,#ffdfdf,#ffdfdf,#ffdfdf,#ffdfdf,#ffdede,#ffdede,#ffdede,#ffdede,#ffdede,#ffdede,#ffdede,#ffdfdf,#ffdfdf,#ffdfdf,#ffe0e0,#ffe0e0,#ffe1e1,#ffe2e2,#ffe3e3,#ffe4e4,#ffe5e5,#ffe6e6,#ffe8e8,#ffe9e9,#ffebeb,#ffeded,#fff0f0,#fff3f3,#fff6f6,#fffafa,#fffefe,#fdfdff,#fbfbff,#f8f8ff,#f5f5ff,#f1f1ff,#eeeeff,#e9e9ff,#e4e4ff,#dfdfff,#d9d9ff,#d3d3ff,#cdcdff,#c6c6ff,#bebeff,#b7b7ff,#afafff,#a6a6ff,#9e9eff,#9595ff,#8c8cff,#8484ff,#7b7bff,#7171ff,#6868ff,#5f5fff,#5656ff,#4e4eff,#4545ff,#3d3dff)"></div>
<div style="background:linear-gradient(90deg,#ffe7e7,#ffe6e6,#ffe6e6,#ffe5e5,#ffe4e4,#ffe4e4,#ffe3e3,#ffe3e3,#ffe2e2,#ffe1e1,#ffe1e1,#ffe1e1,#ffe0e0,#ffe0e0,#ffe0e0,#ffe0e0,#ffe0e0,#ffe0e0,#ffe0e0,#ffe0e0,#ffe0e0,#ffe0e0,#ffe1e1,#ffe1e1,#ffe2e2,#ffe2e2,#ffe3e3,#ffe4e4,#ffe5e5,#ffe6e6,#ffe7e7,#ffe8e8,#ffe9e9,#ffebeb,#ffecec,#ffeeee,#fff0f0,#fff2f2,#fff5f5,#fff8f8,#fffcfc,#ffffff,#fcfcff,#f9f9ff,#f7f7ff,#f4f4ff,#f1f1ff,#ededff,#e9e9ff,#e4e4ff,#dfdfff,#dadaff,#d4d4ff,#cdcdff,#c6c6ff,#bfbfff,#b7b7ff,#afafff,#a7a7ff,#9e9eff,#9696ff,#8d8dff,#8484ff,#7b7bff,#7272ff,#6969ff,#6060ff,#5757ff,#4e4eff,#4646ff,#3e3eff)"></div>
<div style="background:linear-gradient(90deg,#ffe8e8,#ffe8e8,#ffe7e7,#ffe7e7,#ffe6e6,#ffe5e5,#ffe5e5,#ffe4e4,#ffe3e3,#ffe3e3,#ffe2e2,#ffe2e2,#ffe2e2,#ffe1e1,#ffe1e1,#ffe1e1,#ffe1e1,#ffe1e1,#ffe1e1,#ffe2e2,#ffe2e2,#ffe2e2,#ffe3e3,#ffe3e3,#ffe4e4,#ffe5e5,#ffe6e6,#ffe6e6,#ffe7e7,#ffe9e9,#ffeaea,#ffebeb,#ffecec,#ffeeee,#ffefef,#fff1f1,#fff3f3,#fff5f5,#fff8f8,#fffafa,#fffefe,#fdfdff,#fbfbff,#f8f8ff,#f6f6ff,#f3f3ff,#f0f0ff,#ededff,#e9e9ff,#e4e4ff,#dfdfff,#dadaff,#d4d4ff,#cdcdff,#c7c7ff,#bfbfff,#b8b8ff,#b0b0ff,#a7a7ff,#9f9fff,#9696ff,#8e8eff,#8585ff,#7c7cff,#7272ff,#6969ff,#6060ff,#5757ff,#4f4fff,#4646ff,#3f3fff)"></div>
<div style="background:linear-gradient(90deg,#ffeaea,#ffe9e9,#ffe9e9,#ffe8e8,#ffe7e7,#ffe7e7,#ffe6e6,#ffe6e6,#ffe5e5,#ffe4e4,#ffe4e4,#ffe3e3,#ffe3e3,#ffe3e3,#ffe2e2,#ffe2e2,#ffe2e2,#ffe3e3,#ffe3e3,#ffe3e3,#ffe4e4,#ffe4e4,#ffe5e5,#ffe6e6,#ffe6e6,#ffe7e7,#ffe8e8,#ffe9e9,#ffeaea,#ffebeb,#ffecec,#ffeeee,#ffefef,#fff1f1,#fff2f2,#fff4f4,#fff5f5,#fff7f7,#fffafa,#fffcfc,#ffffff,#fcfcff,#fafaff,#f8f8ff,#f5f5ff,#f3f3ff,#f0f0ff,#ededff,#e9e9ff,#e4e4ff,#e0e0ff,#dadaff,#d4d4ff,#ceceff,#c7c7ff,#c0c0ff,#b8b8ff,#b0b0ff,#a8a8ff,#a0a0ff,#9797ff,#8e8eff,#8585ff,#7c7cff,#7373ff,#6a6aff,#6161ff,#5858ff,#4f4fff,#4747ff,#3f3fff)"></div>
<div style="background:linear-gradient(90deg,#ffebeb,#ffebeb,#ffeaea,#ffeaea,#ffe9e9,#ffe8e8,#ffe8e8,#ffe7e7,#ffe6e6,#ffe6e6,#ffe5e5,#ffe5e5,#ffe4e4,#ffe4e4,#ffe4e4,#ffe4e4,#ffe4e4,#ffe4e4,#ffe5e5,#ffe5e5,#ffe6e6,#ffe6e6,#ffe7e7,#ffe8e8,#ffe9e9,#ffeaea,#ffeaea,#ffebeb,#ffeded,#ffeeee,#ffefef,#fff1f1,#fff2f2,#fff3f3,#fff5f5,#fff6f6,#fff8f8,#fffafa,#fffcfc,#fffefe,#fefeff,#fbfbff,#f9f9ff,#f7f7ff,#f5f5ff,#f3f3ff,#f0f0ff,#ededff,#e9e9ff,#e5e5ff,#e0e0ff,#dadaff,#d5d5ff,#ceceff,#c7c7ff,#c0c0ff,#b9b9ff,#b1b1ff,#a8a8ff,#a0a0ff,#9797ff,#8f8fff,#8686ff,#7c7cff,#7373ff,#6a6aff,#6161ff,#5858ff,#5050ff,#4848ff,#4040ff)"></div>
<div style="background:linear-gradient(90deg,#ffecec,#ffecec,#ffecec,#ffebeb,#ffeaea,#ffeaea,#ffe9e9,#ffe8e8,#ffe8e8,#ffe7e7,#ffe7e7,#ffe6e6,#ffe6e6,#ffe5e5,#ffe5e5,#ffe5e5,#ffe5e5,#ffe6e6,#ffe6e6,#ffe7e7,#ffe7e7,#ffe8e8,#ffe9e9,#ffeaea,#ffebeb,#ffecec,#ffeded,#ffeeee,#ffefef,#fff0f0,#fff2f2,#fff3f3,#fff5f5,#fff6f6,#fff7f7,#fff8f8,#fffafa,#fffcfc,#fffdfd,#ffffff,#fdfdff,#fbfbff,#f9f9ff,#f7f7ff,#f5f5ff,#f2f2ff,#f0f0ff,#ededff,#e9e9ff,#e5e5ff,#e0e0ff,#dbdbff,#d5d5ff,#ceceff,#c8c8ff,#c1c1ff,#b9b9ff,#b1b1ff,#a9a9ff,#a1a1ff,#9898ff,#8f8fff,#8686ff,#7d7dff,#7474ff,#6a6aff,#6161ff,#5858ff,#5050ff,#4848ff,#4040ff)"></div>
<div style="background:linear-gradient(90deg,#ffeeee,#ffeded,#ffeded,#ffecec,#ffecec,#ffebeb,#ffebeb,#ffeaea,#ffe9e9,#ffe9e9,#ffe8e8,#ffe7e7,#ffe7e7,#ffe7e7,#ffe6e6,#ffe6e6,#ffe6e6,#ffe7e7,#ffe8e8,#ffe8e8,#ffe9e9,#ffeaea,#ffebeb,#ffecec,#ffeded,#ffeeee,#ffefef,#fff0f0,#fff1f1,#fff3f3,#fff4f4,#fff6f6,#fff7f7,#fff8f8,#fffafa,#fffbfb,#fffcfc,#fffdfd,#ffffff,#fdfdff,#fcfcff,#fafaff,#f8f8ff,#f7f7ff,#f5f5ff,#f2f2ff,#f0f0ff,#ededff,#e9e9ff,#e5e5ff,#e0e0ff,#dbdbff,#d5d5ff,#cfcfff,#c8c8ff,#c1c1ff,#b9b9ff,#b1b1ff,#a9a9ff,#a1a1ff,#9898ff,#9090ff,#8787ff,#7d7dff,#7474ff,#6b6bff,#6262ff,#5959ff,#5050ff,#4848ff,#4141ff)"></div>
<div style="background:linear-gradient(90deg,#ffefef,#ffefef,#ffeeee,#ffeeee,#ffeded,#ffeded,#ffecec,#ffebeb,#ffebeb,#ffeaea,#ffe9e9,#ffe9e9,#ffe8e8,#ffe8e8,#ffe8e8,#ffe8e8,#ffe8e8,#ffe8e8,#ffe9e9,#ffeaea,#ffebeb,#ffecec,#ffeded,#ffeeee,#ffefef,#fff0f0,#fff1f1,#fff2f2,#fff4f4,#fff5f5,#fff6f6,#fff8f8,#fff9f9,#fffbfb,#fffcfc,#fffdfd,#fffefe,#ffffff,#fefeff,#fcfcff,#fbfbff,#f9f9ff,#f8f8ff,#f6f6ff,#f5f5ff,#f2f2ff,#f0f0ff,#ececff,#e9e9ff,#e5e5ff,#e0e0ff,#dbdbff,#d5d5ff,#cfcfff,#c8c8ff,#c1c1ff,#babaff,#b2b2ff,#aaaaff,#a1a1ff,#9999ff,#9090ff,#8787ff,#7e7eff,#7474ff,#6b6bff,#6262ff,#5959ff,#5151ff,#4949ff,#4242ff)"></div>
<div style="background:linear-gradient(90deg,#fff1f1,#fff0f0,#fff0f0,#ffefef,#ffefef,#ffeeee,#ffeded,#ffeded,#ffecec,#ffebeb,#ffebeb,#ffeaea,#ffeaea,#ffe9e9,#ffe9e9,#ffe9e9,#ffe9e9,#ffeaea,#ffebeb,#ffecec,#ffeded,#ffeeee,#ffefef,#fff0f0,#fff1f1,#fff2f2,#fff3f3,#fff5f5,#fff6f6,#fff7f7,#fff9f9,#fffafa,#fffcfc,#fffdfd,#fffefe,#ffffff,#fefeff,#fdfdff,#fcfcff,#fbfbff,#fafaff,#f9f9ff,#f8f8ff,#f6f6ff,#f4f4ff,#f2f2ff,#efefff,#ececff,#e9e9ff,#e5e5ff,#e0e0ff,#dbdbff,#d5d5ff,#cfcfff,#c8c8ff,#c1c1ff,#babaff,#b2b2ff,#aaaaff,#a2a2ff,#9999ff,#9090ff,#8787ff,#7e7eff,#7575ff,#6b6bff,#6262ff,#5959ff,#5151ff,#4949ff,#4242ff)"></div>
<div style="background:linear-gradient(90deg,#fff2f2,#fff2f2,#fff1f1,#fff1f1,#fff0f0,#ffefef,#ffefef,#ffeeee,#ffeded,#ffeded,#ffecec,#ffebeb,#ffebeb,#ffebeb,#ffeaea,#ffeaea,#ffebeb,#ffebeb,#ffecec,#ffeded,#ffeeee,#fff0f0,#fff1f1,#fff2f2,#fff3f3,#fff4f4,#fff5f5,#fff7f7,#fff8f8,#fff9f9,#fffbfb,#fffcfc,#fffefe,#ffffff,#fefeff,#fefeff,#fdfdff,#fcfcff,#fbfbff,#fafaff,#f9f9ff,#f8f8ff,#f7f7ff,#f6f6ff,#f4f4ff,#f2f2ff,#efefff,#ececff,#e9e9ff,#e5e5ff,#e0e0ff,#dbdbff,#d5d5ff,#cfcfff,#c8c8ff,#c1c1ff,#babaff,#b2b2ff,#aaaaff,#a2a2ff,#9999ff,#9191ff,#8888ff,#7f7fff,#7575ff,#6b6bff,#6262ff,#5959ff,#5151ff,#4a4aff,#4343ff)"></div>
<div style="background:linear-gradient(90deg,#fff4f4,#fff3f3,#fff3f3,#fff2f2,#fff2f2,#fff1f1,#fff0f0,#ffefef,#ffefef,#ffeeee,#ffeded,#ffeded,#ffecec,#ffecec,#ffecec,#ffecec,#ffecec,#ffeded,#ffeeee,#ffefef,#fff0f0,#fff1f1,#fff2f2,#fff4f4,#fff5f5,#fff6f6,#fff7f7,#fff8f8,#fffafa,#fffbfb,#fffcfc,#fffefe,#ffffff,#fefeff,#fdfdff,#fcfcff,#fcfcff,#fbfbff,#fafaff,#f9f9ff,#f8f8ff,#f8f8ff,#f7f7ff,#f5f5ff,#f4f4ff,#f2f2ff,#efefff,#ececff,#e8e8ff,#e5e5ff,#e0e0ff,#dbdbff,#d5d5ff,#cfcfff,#c8c8ff,#c1c1ff,#babaff,#b2b2ff,#aaaaff,#a2a2ff,#9a9aff,#9191ff,#8888ff,#7f7fff,#7575ff,#6c6cff,#6262ff,#5959ff,#5151ff,#4a4aff,#4343ff)"></div>
<div style="background:linear-gradient(90deg,#fff5f5,#fff5f5,#fff4f4,#fff4f4,#fff3f3,#fff2f2,#fff2f2,#fff1f1,#fff0f0,#ffefef,#ffefef,#ffeeee,#ffeeee,#ffeded,#ffeded,#ffeded,#ffeeee,#ffeeee,#ffefef,#fff1f1,#fff2f2,#fff3f3,#fff4f4,#fff5f5,#fff7f7,#fff8f8,#fff9f9,#fffafa,#fffbfb,#fffdfd,#fffefe,#fefeff,#fdfdff,#fcfcff,#fbfbff,#fbfbff,#fafaff,#fafaff,#f9f9ff,#f8f8ff,#f8f8ff,#f7f7ff,#f6f6ff,#f5f5ff,#f3f3ff,#f1f1ff,#eeeeff,#ebebff,#e8e8ff,#e4e4ff,#e0e0ff,#dadaff,#d5d5ff,#cfcfff,#c8c8ff,#c1c1ff,#babaff,#b2b2ff,#aaaaff,#a2a2ff,#9a9aff,#9191ff,#8989ff,#7f7fff,#7676ff,#6c6cff,#6262ff,#5959ff,#5151ff,#4a4aff,#4444ff)"></div>
<div style="background:linear-gradient(90deg,#fff7f7,#fff6f6,#fff6f6,#fff5f5,#fff4f4,#fff4f4,#fff3f3,#fff2f2,#fff1f1,#fff1f1,#fff0f0,#ffefef,#ffefef,#ffefef,#ffefef,#ffefef,#ffefef,#fff0f0,#fff1f1,#fff2f2,#fff3f3,#fff5f5,#fff6f6,#fff7f7,#fff8f8,#fffafa,#fffbfb,#fffcfc,#fffdfd,#fffefe,#fefeff,#fdfdff,#fcfcff,#fbfbff,#fafaff,#fafaff,#f9f9ff,#f9f9ff,#f8f8ff,#f8f8ff,#f7f7ff,#f6f6ff,#f5f5ff,#f4f4ff,#f3f3ff,#f1f1ff,#eeeeff,#ebebff,#e7e7ff,#e3e3ff,#dfdfff,#dadaff,#d4d4ff,#ceceff,#c8c8ff,#c1c1ff,#babaff,#b2b2ff,#aaaaff,#a2a2ff,#9a9aff,#9292ff,#8989ff,#8080ff,#7676ff,#6c6cff,#6262ff,#5959ff,#5151ff,#4a4aff,#4444ff)"></div>
<div style="background:linear-gradient(90deg,#fff8f8,#fff8f8,#fff7f7,#fff6f6,#fff6f6,#fff5f5,#fff4f4,#fff3f3,#fff3f3,#fff2f2,#fff1f1,#fff1f1,#fff0f0,#fff0f0,#fff0f0,#fff0f0,#fff1f1,#fff1f1,#fff2f2,#fff4f4,#fff5f5,#fff6f6,#fff8f8,#fff9f9,#fffafa,#fffbfb,#fffcfc,#fffdfd,#ffffff,#fefeff,#fdfdff,#fcfcff,#fbfbff,#fafaff,#f9f9ff,#f8f8ff,#f8f8ff,#f8f8ff,#f7f7ff,#f7f7ff,#f6f6ff,#f6f6ff,#f5f5ff,#f4f4ff,#f2f2ff,#f0f0ff,#ededff,#eaeaff,#e7e7ff,#e3e3ff,#dedeff,#d9d9ff,#d4d4ff,#ceceff,#c8c8ff,#c1c1ff,#babaff,#b2b2ff,#aaaaff,#a2a2ff,#9a9aff,#9292ff,#8989ff,#8080ff,#7676ff,#6c6cff,#6262ff,#5959ff,#5151ff,#4b4bff,#4545ff)"></div>
<div style="background:linear-gradient(90deg,#fffafa,#fff9f9,#fff9f9,#fff8f8,#fff7f7,#fff6f6,#fff6f6,#fff5f5,#fff4f4,#fff3f3,#fff3f3,#fff2f2,#fff2f2,#fff1f1,#fff1f1,#fff2f2,#fff2f2,#fff3f3,#fff4f4,#fff5f5,#fff6f6,#fff8f8,#fff9f9,#fffbfb,#fffcfc,#fffdfd,#fffefe,#ffffff,#fefeff,#fdfdff,#fcfcff,#fbfbff,#fafaff,#f9f9ff,#f8f8ff,#f7f7ff,#f7f7ff,#f7f7ff,#f6f6ff,#f6f6ff,#f5f5ff,#f5f5ff,#f4f4ff,#f3f3ff,#f1f1ff,#efefff,#ececff,#e9e9ff,#e6e6ff,#e2e2ff,#ddddff,#d9d9ff,#d3d3ff,#cdcdff,#c7c7ff,#c1c1ff,#b9b9ff,#b2b2ff,#aaaaff,#a2a2ff,#9a9aff,#9292ff,#8989ff,#8080ff,#7676ff,#6c6cff,#6161ff,#5858ff,#5151ff,#4b4bff,#4545ff)"></div>
<div style="background:linear-gradient(90deg,#fffbfb,#fffafa,#fffafa,#fff9f9,#fff8f8,#fff8f8,#fff7f7,#fff6f6,#fff5f5,#fff5f5,#fff4f4,#fff4f4,#fff3f3,#fff3f3,#fff3f3,#fff3f3,#fff4f4,#fff4f4,#fff5f5,#fff7f7,#fff8f8,#fff9f9,#fffbfb,#fffcfc,#fffdfd,#fffefe,#ffffff,#fefeff,#fdfdff,#fcfcff,#fbfbff,#fafaff,#f9f9ff,#f8f8ff,#f7f7ff,#f6f6ff,#f6f6ff,#f6f6ff,#f5f5ff,#f5f5ff,#f4f4ff,#f4f4ff,#f3f3ff,#f2f2ff,#f0f0ff,#eeeeff,#ececff,#e8e8ff,#e5e5ff,#e1e1ff,#dcdcff,#d8d8ff,#d3d3ff,#cdcdff,#c7c7ff,#c0c0ff,#b9b9ff,#b2b2ff,#aaaaff,#a2a2ff,#9a9aff,#9292ff,#8a8aff,#8181ff,#7676ff,#6c6cff,#6161ff,#5858ff,#5151ff,#4b4bff,#4646ff)"></div>
<div style="background:linear-gradient(90deg,#fffcfc,#fffcfc,#fffbfb,#fffafa,#fffafa,#fff9f9,#fff8f8,#fff7f7,#fff7f7,#fff6f6,#fff5f5,#fff5f5,#fff4f4,#fff4f4,#fff4f4,#fff4f4,#fff5f5,#fff6f6,#fff7f7,#fff8f8,#fff9f9,#fffbfb,#fffcfc,#fffefe,#ffffff,#fefeff,#fdfdff,#fcfcff,#fbfbff,#fbfbff,#fafaff,#f9f9ff,#f8f8ff,#f7f7ff,#f6f6ff,#f6f6ff,#f5f5ff,#f5f5ff,#f4f4ff,#f4f4ff,#f4f4ff,#f3f3ff,#f2f2ff,#f1f1ff,#efefff,#ededff,#ebebff,#e7e7ff,#e4e4ff,#e0e0ff,#dcdcff,#d7d7ff,#d2d2ff,#ccccff,#c6c6ff,#c0c0ff,#b9b9ff,#b1b1ff,#a9a9ff,#a2a2ff,#9a9aff,#9292ff,#8a8aff,#8181ff,#7777ff,#6c6cff,#6161ff,#5858ff,#5151ff,#4c4cff,#4747ff)"></div>
</div>
<div class="hm" style="left:398px;top:21px;width:246px;height:245px">
<div style="background:linear-gradient(90deg,#a6a6ff,#b2b2ff,#c0c0ff,#cbcbff,#d3d3ff,#d8d8ff,#dbdbff,#dcdcff,#dbdbff,#d8d8ff,#d3d3ff,#ceceff,#c7c7ff,#c0c0ff,#b8b8ff,#afafff,#a7a7ff,#9f9fff,#9797ff,#8f8fff,#8888ff,#8282ff,#7c7cff,#7676ff,#7070ff,#6a6aff,#6464ff,#5e5eff,#5858ff,#5252ff,#4b4bff,#4545ff,#3f3fff,#3939ff,#3333ff,#2d2dff,#2727ff,#2121ff,#1c1cff,#1818ff,#1515ff,#1212ff,#1111ff,#0f0fff,#0e0eff,#0d0dff,#0c0cff,#0a0aff,#0909ff,#0808ff,#0707ff,#0606ff,#0505ff,#0505ff,#0404ff,#0404ff,#0404ff,#0404ff,#0303ff,#0303ff,#0202ff,#0202ff,#0202ff,#0101ff,#0101ff,#0101ff,#0101ff,#0101ff,#0101ff,#0101ff,#0000ff)"></div>
<div style="background:linear-gradient(90deg,#fffefe,#fffafa,#fff7f7,#fff4f4,#fff3f3,#fff3f3,#fff4f4,#fff6f6,#fff9f9,#fffdfd,#fdfdff,#f7f7ff,#f1f1ff,#eaeaff,#e3e3ff,#dbdbff,#d3d3ff,#cbcbff,#c2c2ff,#b9b9ff,#b0b0ff,#a7a7ff,#9e9eff,#9595ff,#8c8cff,#8383ff,#7a7aff,#7171ff,#6969ff,#6161ff,#5959ff,#5151ff,#4949ff,#4242ff,#3a3aff,#3333ff,#2c2cff,#2626ff,#2121ff,#1d1dff,#1a1aff,#1818ff,#1717ff,#1616ff,#1515ff,#1313ff,#1111ff,#0f0fff,#0d0dff,#0a0aff,#0808ff,#0606ff,#0505ff,#0404ff,#0404ff,#0505ff,#0505ff,#0404ff,#0404ff,#0303ff,#0303ff,#0202ff,#0202ff,#0202ff,#0303ff,#0303ff,#0303ff,#0303ff,#0202ff,#0101ff,#0000ff)"></div>
<div style="background:linear-gradient(90deg,#ffbaba,#ffbcbc,#ffbfbf,#ffc2c2,#ffc6c6,#ffc9c9,#ffcdcd,#ffd1d1,#ffd5d5,#ffd9d9,#ffdede,#ffe3e3,#ffe9e9,#ffefef,#fff5f5,#fffcfc,#fafaff,#f2f2ff,#e9e9ff,#dfdfff,#d5d5ff,#cbcbff,#c0c0ff,#b5b5ff,#aaaaff,#9f9fff,#9595ff,#8b8bff,#8181ff,#7878ff,#6f6fff,#6666ff,#5d5dff,#5555ff,#4c4cff,#4444ff,#3c3cff,#3535ff,#2e2eff,#2929ff,#2525ff,#2323ff,#2121ff,#1f1fff,#1d1dff,#1a1aff,#1717ff,#1414ff,#1111ff,#0e0eff,#0b0bff,#0909ff,#0707ff,#0606ff,#0606ff,#0606ff,#0606ff,#0606ff,#0505ff,#0404ff,#0303ff,#0303ff,#0303ff,#0303ff,#0303ff,#0303ff,#0404ff,#0303ff,#0303ff,#0202ff,#0000ff)"></div>
<div style="background:linear-gradient(90deg,#ff8a8a,#ff8f8f,#ff9696,#ff9d9d,#ffa2a2,#ffa8a8,#ffadad,#ffb2b2,#ffb6b6,#ffbbbb,#ffc0c0,#ffc4c4,#ffcaca,#ffcfcf,#ffd5d5,#ffdbdb,#ffe3e3,#ffebeb,#fff3f3,#fffdfd,#f7f7ff,#ececff,#e0e0ff,#d5d5ff,#c9c9ff,#bebeff,#b3b3ff,#a8a8ff,#9e9eff,#9595ff,#8b8bff,#8282ff,#7979ff,#7070ff,#6767ff,#5e5eff,#5454ff,#4c4cff,#4444ff,#3d3dff,#3737ff,#3232ff,#2e2eff,#2a2aff,#2626ff,#2222ff,#1e1eff,#1a1aff,#1616ff,#1313ff,#1010ff,#0e0eff,#0c0cff,#0b0bff,#0a0aff,#0909ff,#0808ff,#0707ff,#0606ff,#0505ff,#0404ff,#0404ff,#0404ff,#0404ff,#0404ff,#0404ff,#0404ff,#0404ff,#0303ff,#0202ff,#0000ff)"></div>
<div style="background:linear-gradient(90deg,#ff6969,#ff7070,#ff7979,#ff8181,#ff8787,#ff8e8e,#ff9393,#ff9898,#ff9d9d,#ffa1a1,#ffa6a6,#ffaaaa,#ffafaf,#ffb4b4,#ffb9b9,#ffbfbf,#ffc6c6,#ffcdcd,#ffd6d6,#ffdfdf,#ffe9e9,#fff3f3,#fffefe,#f5f5ff,#e9e9ff,#dedeff,#d3d3ff,#c9c9ff,#bfbfff,#b6b6ff,#acacff,#a3a3ff,#9a9aff,#9191ff,#8787ff,#7d7dff,#7373ff,#6969ff,#5f5fff,#5555ff,#4d4dff,#4545ff,#3e3eff,#3737ff,#3131ff,#2b2bff,#2525ff,#2121ff,#1d1dff,#1919ff,#1717ff,#1414ff,#1212ff,#1010ff,#0f0fff,#0d0dff,#0b0bff,#0909ff,#0808ff,#0707ff,#0505ff,#0505ff,#0404ff,#0404ff,#0404ff,#0404ff,#0404ff,#0404ff,#0303ff,#0202ff,#0000ff)"></div>
<div style="background:linear-gradient(90deg,#ff5656,#ff5d5d,#ff6565,#ff6d6d,#ff7373,#ff7979,#ff7f7f,#ff8484,#ff8888,#ff8c8c,#ff9090,#ff9494,#ff9999,#ff9d9d,#ffa2a2,#ffa7a7,#ffadad,#ffb4b4,#ffbbbb,#ffc4c4,#ffcdcd,#ffd6d6,#ffe0e0,#ffebeb,#fff5f5,#ffffff,#f5f5ff,#ececff,#e2e2ff,#dadaff,#d1d1ff,#c8c8ff,#bfbfff,#b5b5ff,#acacff,#a1a1ff,#9696ff,#8a8aff,#7e7eff,#7272ff,#6767ff,#5c5cff,#5151ff,#4747ff,#3e3eff,#3636ff,#2f2fff,#2929ff,#2525ff,#2222ff,#1f1fff,#1d1dff,#1b1bff,#1818ff,#1515ff,#1212ff,#0f0fff,#0c0cff,#0a0aff,#0808ff,#0707ff,#0606ff,#0505ff,#0505ff,#0505ff,#0404ff,#0404ff,#0404ff,#0303ff,#0202ff,#0000ff)"></div>
<div style="background:linear-gradient(90deg,#ff4c4c,#ff5252,#ff5959,#ff6060,#ff6565,#ff6a6a,#ff6f6f,#ff7373,#ff7777,#ff7b7b,#ff7e7e,#ff8282,#ff8585,#ff8989,#ff8e8e,#ff9292,#ff9797,#ff9d9d,#ffa4a4,#ffabab,#ffb3b3,#ffbcbc,#ffc4c4,#ffcdcd,#ffd6d6,#ffdfdf,#ffe8e8,#fff0f0,#fff8f8,#fefeff,#f6f6ff,#eeeeff,#e5e5ff,#dcdcff,#d2d2ff,#c7c7ff,#bbbbff,#aeaeff,#a1a1ff,#9393ff,#8484ff,#7676ff,#6868ff,#5b5bff,#4f4fff,#4545ff,#3c3cff,#3535ff,#3030ff,#2c2cff,#2a2aff,#2727ff,#2424ff,#2020ff,#1c1cff,#1818ff,#1414ff,#1010ff,#0d0dff,#0b0bff,#0909ff,#0707ff,#0606ff,#0505ff,#0505ff,#0404ff,#0404ff,#0404ff,#0303ff,#0202ff,#0101ff)"></div>
<div style="background:linear-gradient(90deg,#ff4a4a,#ff4e4e,#ff5353,#ff5757,#ff5c5c,#ff5f5f,#ff6363,#ff6666,#ff6969,#ff6c6c,#ff6f6f,#ff7272,#ff7575,#ff7878,#ff7c7c,#ff8080,#ff8585,#ff8a8a,#ff8f8f,#ff9595,#ff9c9c,#ffa3a3,#ffaaaa,#ffb1b1,#ffb9b9,#ffc0c0,#ffc7c7,#ffcece,#ffd5d5,#ffdcdc,#ffe3e3,#ffeaea,#fff2f2,#fffbfb,#f9f9ff,#eeeeff,#e1e1ff,#d3d3ff,#c4c4ff,#b4b4ff,#a4a4ff,#9292ff,#8282ff,#7272ff,#6363ff,#5757ff,#4c4cff,#4444ff,#3e3eff,#3939ff,#3636ff,#3333ff,#2f2fff,#2a2aff,#2525ff,#1f1fff,#1a1aff,#1515ff,#1111ff,#0e0eff,#0b0bff,#0909ff,#0707ff,#0606ff,#0505ff,#0505ff,#0404ff,#0404ff,#0303ff,#0202ff,#0101ff)"></div>
<div style="background:linear-gradient(90deg,#ff4b4b,#ff4d4d,#ff5050,#ff5252,#ff5555,#ff5757,#ff5959,#ff5b5b,#ff5d5d,#ff6060,#ff6262,#ff6464,#ff6767,#ff6a6a,#ff6d6d,#ff7070,#ff7474,#ff7878,#ff7c7c,#ff8181,#ff8787,#ff8c8c,#ff9292,#ff9898,#ff9e9e,#ffa4a4,#ffa9a9,#ffafaf,#ffb4b4,#ffbaba,#ffc0c0,#ffc7c7,#ffcece,#ffd7d7,#ffe1e1,#ffecec,#fff8f8,#f7f7ff,#e8e8ff,#d7d7ff,#c4c4ff,#b1b1ff,#9f9fff,#8d8dff,#7c7cff,#6e6eff,#6161ff,#5757ff,#4f4fff,#4949ff,#4444ff,#3f3fff,#3a3aff,#3434ff,#2e2eff,#2727ff,#2020ff,#1b1bff,#1616ff,#1111ff,#0e0eff,#0b0bff,#0909ff,#0707ff,#0606ff,#0505ff,#0505ff,#0404ff,#0303ff,#0202ff,#0101ff)"></div>
<div style="background:linear-gradient(90deg,#ff4d4d,#ff4d4d,#ff4e4e,#ff4f4f,#ff5050,#ff5151,#ff5252,#ff5353,#ff5454,#ff5555,#ff5757,#ff5858,#ff5a5a,#ff5c5c,#ff5f5f,#ff6161,#ff6464,#ff6868,#ff6b6b,#ff6f6f,#ff7373,#ff7777,#ff7c7c,#ff8181,#ff8585,#ff8a8a,#ff8f8f,#ff9393,#ff9898,#ff9d9d,#ffa2a2,#ffa8a8,#ffafaf,#ffb7b7,#ffc0c0,#ffcbcb,#ffd7d7,#ffe5e5,#fff5f5,#f8f8ff,#e6e6ff,#d2d2ff,#bebeff,#ababff,#9a9aff,#8989ff,#7b7bff,#6e6eff,#6464ff,#5b5bff,#5353ff,#4d4dff,#4646ff,#3f3fff,#3737ff,#3030ff,#2929ff,#2222ff,#1b1bff,#1616ff,#1111ff,#0d0dff,#0a0aff,#0909ff,#0707ff,#0606ff,#0606ff,#0505ff,#0404ff,#0303ff,#0202ff)"></div>
<div style="background:linear-gradient(90deg,#ff4d4d,#ff4d4d,#ff4c4c,#ff4c4c,#ff4b4b,#ff4b4b,#ff4b4b,#ff4b4b,#ff4c4c,#ff4c4c,#ff4d4d,#ff4e4e,#ff4f4f,#ff5050,#ff5252,#ff5454,#ff5656,#ff5858,#ff5b5b,#ff5e5e,#ff6161,#ff6565,#ff6969,#ff6d6d,#ff7171,#ff7575,#ff7979,#ff7d7d,#ff8181,#ff8585,#ff8a8a,#ff8f8f,#ff9696,#ff9d9d,#ffa5a5,#ffafaf,#ffbbbb,#ffc8c8,#ffd6d6,#ffe6e6,#fff8f8,#f4f4ff,#e1e1ff,#ceceff,#bcbcff,#aaaaff,#9a9aff,#8b8bff,#7d7dff,#7070ff,#6565ff,#5b5bff,#5252ff,#4949ff,#4141ff,#3a3aff,#3232ff,#2a2aff,#2222ff,#1b1bff,#1515ff,#1010ff,#0d0dff,#0a0aff,#0909ff,#0808ff,#0707ff,#0606ff,#0606ff,#0404ff,#0202ff)"></div>
<div style="background:linear-gradient(90deg,#ff4c4c,#ff4b4b,#ff4a4a,#ff4848,#ff4747,#ff4646,#ff4646,#ff4545,#ff4444,#ff4444,#ff4444,#ff4444,#ff4444,#ff4545,#ff4646,#ff4747,#ff4848,#ff4a4a,#ff4c4c,#ff4f4f,#ff5252,#ff5555,#ff5858,#ff5b5b,#ff5f5f,#ff6363,#ff6666,#ff6a6a,#ff6e6e,#ff7272,#ff7676,#ff7c7c,#ff8181,#ff8888,#ff9090,#ff9999,#ffa3a3,#ffaeae,#ffbbbb,#ffc9c9,#ffd8d8,#ffe8e8,#fff9f9,#f3f3ff,#e1e1ff,#cfcfff,#bdbdff,#ababff,#9999ff,#8989ff,#7979ff,#6b6bff,#5f5fff,#5555ff,#4c4cff,#4444ff,#3c3cff,#3434ff,#2a2aff,#2222ff,#1a1aff,#1414ff,#0f0fff,#0d0dff,#0b0bff,#0a0aff,#0909ff,#0808ff,#0707ff,#0606ff,#0303ff)"></div>
<div style="background:linear-gradient(90deg,#ff4949,#ff4848,#ff4646,#ff4545,#ff4343,#ff4242,#ff4141,#ff3f3f,#ff3e3e,#ff3d3d,#ff3c3c,#ff3c3c,#ff3b3b,#ff3b3b,#ff3b3b,#ff3c3c,#ff3c3c,#ff3e3e,#ff3f3f,#ff4141,#ff4444,#ff4646,#ff4a4a,#ff4d4d,#ff5050,#ff5454,#ff5757,#ff5b5b,#ff5f5f,#ff6363,#ff6767,#ff6c6c,#ff7171,#ff7777,#ff7e7e,#ff8686,#ff8f8f,#ff9898,#ffa3a3,#ffaeae,#ffbbbb,#ffc8c8,#ffd7d7,#ffe6e6,#fff7f7,#f4f4ff,#e1e1ff,#cdcdff,#b8b8ff,#a3a3ff,#8f8fff,#7d7dff,#6d6dff,#6262ff,#5959ff,#5050ff,#4848ff,#3e3eff,#3333ff,#2929ff,#2020ff,#1818ff,#1313ff,#0f0fff,#0d0dff,#0c0cff,#0b0bff,#0a0aff,#0909ff,#0707ff,#0404ff)"></div>
<div style="background:linear-gradient(90deg,#ff4545,#ff4444,#ff4343,#ff4242,#ff4040,#ff3e3e,#ff3c3c,#ff3b3b,#ff3939,#ff3737,#ff3636,#ff3434,#ff3333,#ff3232,#ff3232,#ff3232,#ff3232,#ff3333,#ff3434,#ff3636,#ff3838,#ff3b3b,#ff3e3e,#ff4141,#ff4444,#ff4848,#ff4b4b,#ff4f4f,#ff5353,#ff5757,#ff5b5b,#ff6060,#ff6464,#ff6a6a,#ff7070,#ff7676,#ff7e7e,#ff8686,#ff8e8e,#ff9797,#ffa1a1,#ffabab,#ffb7b7,#ffc4c4,#ffd4d4,#ffe6e6,#fffafa,#efefff,#d7d7ff,#bfbfff,#a7a7ff,#9191ff,#7f7fff,#7272ff,#6767ff,#5d5dff,#5454ff,#4949ff,#3d3dff,#3131ff,#2626ff,#1e1eff,#1818ff,#1313ff,#1010ff,#0e0eff,#0d0dff,#0b0bff,#0a0aff,#0808ff,#0606ff)"></div>
<div style="background:linear-gradient(90deg,#ff4242,#ff4141,#ff4040,#ff3e3e,#ff3c3c,#ff3b3b,#ff3838,#ff3636,#ff3434,#ff3232,#ff3030,#ff2e2e,#ff2d2d,#ff2c2c,#ff2b2b,#ff2a2a,#ff2a2a,#ff2a2a,#ff2b2b,#ff2d2d,#ff2f2f,#ff3131,#ff3434,#ff3737,#ff3a3a,#ff3e3e,#ff4141,#ff4545,#ff4949,#ff4d4d,#ff5151,#ff5555,#ff5a5a,#ff5e5e,#ff6464,#ff6969,#ff6f6f,#ff7676,#ff7c7c,#ff8383,#ff8a8a,#ff9292,#ff9c9c,#ffa7a7,#ffb5b5,#ffc6c6,#ffd9d9,#fff0f0,#f6f6ff,#dcdcff,#c2c2ff,#aaaaff,#9595ff,#8585ff,#7777ff,#6c6cff,#6060ff,#5454ff,#4747ff,#3a3aff,#2f2fff,#2525ff,#1d1dff,#1818ff,#1313ff,#1010ff,#0e0eff,#0c0cff,#0b0bff,#0909ff,#0707ff)"></div>
<div style="background:linear-gradient(90deg,#ff3e3e,#ff3d3d,#ff3c3c,#ff3b3b,#ff3939,#ff3737,#ff3535,#ff3333,#ff3030,#ff2e2e,#ff2c2c,#ff2a2a,#ff2828,#ff2626,#ff2525,#ff2424,#ff2424,#ff2424,#ff2525,#ff2626,#ff2828,#ff2a2a,#ff2c2c,#ff2f2f,#ff3232,#ff3636,#ff3939,#ff3d3d,#ff4040,#ff4444,#ff4848,#ff4c4c,#ff5050,#ff5454,#ff5959,#ff5e5e,#ff6363,#ff6868,#ff6e6e,#ff7373,#ff7979,#ff7f7f,#ff8686,#ff9090,#ff9d9d,#ffacac,#ffbebe,#ffd3d3,#ffebeb,#f9f9ff,#dfdfff,#c6c6ff,#afafff,#9b9bff,#8a8aff,#7b7bff,#6d6dff,#5f5fff,#5151ff,#4444ff,#3838ff,#2e2eff,#2525ff,#1d1dff,#1717ff,#1212ff,#0f0fff,#0c0cff,#0a0aff,#0909ff,#0909ff)"></div>
<div style="background:linear-gradient(90deg,#ff3b3b,#ff3a3a,#ff3939,#ff3838,#ff3636,#ff3434,#ff3232,#ff2f2f,#ff2d2d,#ff2b2b,#ff2929,#ff2626,#ff2525,#ff2323,#ff2121,#ff2020,#ff2020,#ff2020,#ff2020,#ff2121,#ff2323,#ff2424,#ff2727,#ff2929,#ff2c2c,#ff2f2f,#ff3232,#ff3636,#ff3939,#ff3c3c,#ff4040,#ff4343,#ff4747,#ff4b4b,#ff4f4f,#ff5454,#ff5858,#ff5d5d,#ff6161,#ff6666,#ff6b6b,#ff7070,#ff7777,#ff7f7f,#ff8a8a,#ff9797,#ffa7a7,#ffbaba,#ffd0d0,#ffe8e8,#fdfdff,#e4e4ff,#ccccff,#b5b5ff,#a0a0ff,#8d8dff,#7b7bff,#6b6bff,#5c5cff,#4f4fff,#4343ff,#3838ff,#2d2dff,#2424ff,#1c1cff,#1515ff,#1010ff,#0c0cff,#0a0aff,#0a0aff,#0b0bff)"></div>
<div style="background:linear-gradient(90deg,#ff3838,#ff3737,#ff3636,#ff3434,#ff3333,#ff3131,#ff2f2f,#ff2d2d,#ff2a2a,#ff2828,#ff2626,#ff2424,#ff2222,#ff2020,#ff1f1f,#ff1e1e,#ff1d1d,#ff1d1d,#ff1d1d,#ff1e1e,#ff1f1f,#ff2121,#ff2222,#ff2525,#ff2727,#ff2a2a,#ff2c2c,#ff2f2f,#ff3232,#ff3535,#ff3838,#ff3c3c,#ff3f3f,#ff4343,#ff4747,#ff4b4b,#ff4f4f,#ff5353,#ff5757,#ff5c5c,#ff6060,#ff6565,#ff6b6b,#ff7272,#ff7c7c,#ff8787,#ff9494,#ffa4a4,#ffb7b7,#ffcccc,#ffe2e2,#fffbfb,#eaeaff,#d0d0ff,#b7b7ff,#a0a0ff,#8a8aff,#7878ff,#6969ff,#5b5bff,#4f4fff,#4242ff,#3737ff,#2b2bff,#2121ff,#1818ff,#1111ff,#0c0cff,#0a0aff,#0a0aff,#0d0dff)"></div>
<div style="background:linear-gradient(90deg,#ff3535,#ff3434,#ff3333,#ff3232,#ff3030,#ff2e2e,#ff2c2c,#ff2a2a,#ff2828,#ff2626,#ff2424,#ff2222,#ff2020,#ff1f1f,#ff1d1d,#ff1c1c,#ff1b1b,#ff1b1b,#ff1b1b,#ff1c1c,#ff1c1c,#ff1e1e,#ff1f1f,#ff2121,#ff2323,#ff2525,#ff2828,#ff2a2a,#ff2d2d,#ff2f2f,#ff3232,#ff3535,#ff3838,#ff3b3b,#ff3f3f,#ff4343,#ff4747,#ff4b4b,#ff4f4f,#ff5454,#ff5858,#ff5d5d,#ff6363,#ff6969,#ff7171,#ff7a7a,#ff8585,#ff9292,#ffa1a1,#ffb2b2,#ffc6c6,#ffdddd,#fff6f6,#ececff,#d0d0ff,#b4b4ff,#9c9cff,#8787ff,#7676ff,#6868ff,#5b5bff,#4e4eff,#4141ff,#3434ff,#2828ff,#1e1eff,#1515ff,#0f0fff,#0c0cff,#0c0cff,#1010ff)"></div>
<div style="background:linear-gradient(90deg,#ff3333,#ff3232,#ff3131,#ff2f2f,#ff2e2e,#ff2c2c,#ff2a2a,#ff2828,#ff2626,#ff2424,#ff2222,#ff2020,#ff1f1f,#ff1d1d,#ff1c1c,#ff1b1b,#ff1a1a,#ff1a1a,#ff1a1a,#ff1a1a,#ff1a1a,#ff1b1b,#ff1d1d,#ff1e1e,#ff2020,#ff2121,#ff2323,#ff2525,#ff2828,#ff2a2a,#ff2c2c,#ff2f2f,#ff3232,#ff3535,#ff3838,#ff3c3c,#ff4040,#ff4444,#ff4848,#ff4d4d,#ff5151,#ff5656,#ff5c5c,#ff6161,#ff6868,#ff7070,#ff7878,#ff8282,#ff8e8e,#ff9c9c,#ffadad,#ffc1c1,#ffdada,#fff7f7,#e9e9ff,#cbcbff,#b0b0ff,#9999ff,#8787ff,#7777ff,#6868ff,#5a5aff,#4b4bff,#3d3dff,#3030ff,#2525ff,#1b1bff,#1414ff,#1010ff,#1010ff,#1313ff)"></div>
<div style="background:linear-gradient(90deg,#ff3131,#ff3030,#ff2f2f,#ff2d2d,#ff2b2b,#ff2a2a,#ff2828,#ff2626,#ff2424,#ff2222,#ff2020,#ff1f1f,#ff1d1d,#ff1c1c,#ff1a1a,#ff1919,#ff1919,#ff1818,#ff1818,#ff1818,#ff1919,#ff1919,#ff1a1a,#ff1b1b,#ff1d1d,#ff1e1e,#ff2020,#ff2121,#ff2323,#ff2525,#ff2727,#ff2929,#ff2c2c,#ff2f2f,#ff3232,#ff3636,#ff3a3a,#ff3e3e,#ff4242,#ff4747,#ff4b4b,#ff5050,#ff5555,#ff5b5b,#ff6060,#ff6767,#ff6e6e,#ff7676,#ff7f7f,#ff8a8a,#ff9999,#ffabab,#ffc2c2,#ffdddd,#fffcfc,#e3e3ff,#c6c6ff,#aeaeff,#9999ff,#8787ff,#7676ff,#6666ff,#5757ff,#4848ff,#3a3aff,#2e2eff,#2424ff,#1d1dff,#1818ff,#1515ff,#1616ff)"></div>
<div style="background:linear-gradient(90deg,#ff3030,#ff2f2f,#ff2d2d,#ff2b2b,#ff2a2a,#ff2828,#ff2626,#ff2424,#ff2222,#ff2020,#ff1f1f,#ff1d1d,#ff1c1c,#ff1a1a,#ff1919,#ff1818,#ff1717,#ff1717,#ff1616,#ff1616,#ff1717,#ff1717,#ff1818,#ff1919,#ff1a1a,#ff1b1b,#ff1c1c,#ff1e1e,#ff1f1f,#ff2121,#ff2323,#ff2525,#ff2727,#ff2a2a,#ff2d2d,#ff3030,#ff3434,#ff3838,#ff3d3d,#ff4141,#ff4646,#ff4b4b,#ff5050,#ff5454,#ff5959,#ff5f5f,#ff6464,#ff6b6b,#ff7373,#ff7c7c,#ff8888,#ff9898,#ffadad,#ffc6c6,#ffe3e3,#fdfdff,#dfdfff,#c5c5ff,#adadff,#9898ff,#8484ff,#7373ff,#6262ff,#5353ff,#4646ff,#3a3aff,#3030ff,#2828ff,#2121ff,#1d1dff,#1a1aff)"></div>
<div style="background:linear-gradient(90deg,#ff2f2f,#ff2e2e,#ff2c2c,#ff2a2a,#ff2828,#ff2626,#ff2424,#ff2323,#ff2121,#ff1f1f,#ff1d1d,#ff1c1c,#ff1a1a,#ff1919,#ff1818,#ff1717,#ff1616,#ff1515,#ff1515,#ff1515,#ff1515,#ff1515,#ff1616,#ff1616,#ff1717,#ff1818,#ff1919,#ff1a1a,#ff1c1c,#ff1d1d,#ff1f1f,#ff2121,#ff2323,#ff2525,#ff2828,#ff2c2c,#ff3030,#ff3434,#ff3838,#ff3d3d,#ff4141,#ff4646,#ff4a4a,#ff4f4f,#ff5353,#ff5858,#ff5d5d,#ff6262,#ff6969,#ff7171,#ff7b7b,#ff8989,#ff9b9b,#ffb2b2,#ffcccc,#ffe8e8,#f9f9ff,#ddddff,#c3c3ff,#aaaaff,#9494ff,#8080ff,#6e6eff,#5f5fff,#5252ff,#4747ff,#3d3dff,#3434ff,#2c2cff,#2525ff,#1e1eff)"></div>
<div style="background:linear-gradient(90deg,#ff2e2e,#ff2d2d,#ff2b2b,#ff2929,#ff2727,#ff2525,#ff2323,#ff2121,#ff1f1f,#ff1e1e,#ff1c1c,#ff1a1a,#ff1919,#ff1818,#ff1717,#ff1616,#ff1515,#ff1414,#ff1414,#ff1313,#ff1313,#ff1414,#ff1414,#ff1414,#ff1515,#ff1616,#ff1717,#ff1818,#ff1919,#ff1a1a,#ff1b1b,#ff1d1d,#ff1f1f,#ff2222,#ff2424,#ff2828,#ff2b2b,#ff2f2f,#ff3434,#ff3838,#ff3c3c,#ff4141,#ff4545,#ff4949,#ff4d4d,#ff5252,#ff5656,#ff5b5b,#ff6161,#ff6868,#ff7070,#ff7c7c,#ff8c8c,#ff9f9f,#ffb6b6,#ffd0d0,#ffebeb,#f6f6ff,#d9d9ff,#bebeff,#a4a4ff,#8e8eff,#7c7cff,#6c6cff,#5f5fff,#5454ff,#4a4aff,#4040ff,#3737ff,#2d2dff,#2222ff)"></div>
<div style="background:linear-gradient(90deg,#ff2e2e,#ff2c2c,#ff2a2a,#ff2828,#ff2626,#ff2424,#ff2222,#ff2020,#ff1e1e,#ff1d1d,#ff1b1b,#ff1919,#ff1818,#ff1717,#ff1515,#ff1414,#ff1414,#ff1313,#ff1212,#ff1212,#ff1212,#ff1212,#ff1212,#ff1313,#ff1313,#ff1414,#ff1414,#ff1515,#ff1616,#ff1717,#ff1818,#ff1a1a,#ff1c1c,#ff1e1e,#ff2121,#ff2424,#ff2727,#ff2b2b,#ff2f2f,#ff3434,#ff3838,#ff3c3c,#ff4040,#ff4444,#ff4848,#ff4c4c,#ff5050,#ff5555,#ff5a5a,#ff6060,#ff6868,#ff7272,#ff7f7f,#ff8f8f,#ffa2a2,#ffb9b9,#ffd3d3,#fff0f0,#f0f0ff,#d2d2ff,#b6b6ff,#9e9eff,#8b8bff,#7a7aff,#6d6dff,#6161ff,#5656ff,#4c4cff,#4141ff,#3434ff,#2727ff)"></div>
<div style="background:linear-gradient(90deg,#ff2d2d,#ff2c2c,#ff2929,#ff2727,#ff2525,#ff2323,#ff2121,#ff1f1f,#ff1d1d,#ff1c1c,#ff1a1a,#ff1818,#ff1717,#ff1616,#ff1515,#ff1414,#ff1313,#ff1212,#ff1111,#ff1111,#ff1111,#ff1111,#ff1111,#ff1111,#ff1111,#ff1212,#ff1212,#ff1313,#ff1414,#ff1515,#ff1616,#ff1717,#ff1919,#ff1b1b,#ff1e1e,#ff2020,#ff2424,#ff2828,#ff2b2b,#ff2f2f,#ff3333,#ff3737,#ff3b3b,#ff3f3f,#ff4343,#ff4747,#ff4b4b,#ff4f4f,#ff5454,#ff5a5a,#ff6060,#ff6969,#ff7474,#ff8181,#ff9191,#ffa5a5,#ffbdbd,#ffdada,#fff8f8,#e6e6ff,#c9c9ff,#b0b0ff,#9b9bff,#8989ff,#7a7aff,#6d6dff,#6060ff,#5555ff,#4848ff,#3b3bff,#2c2cff)"></div>
<div style="background:linear-gradient(90deg,#ff2d2d,#ff2b2b,#ff2929,#ff2727,#ff2424,#ff2222,#ff2020,#ff1e1e,#ff1c1c,#ff1b1b,#ff1919,#ff1818,#ff1616,#ff1515,#ff1414,#ff1313,#ff1212,#ff1111,#ff1111,#ff1010,#ff1010,#ff1010,#ff1010,#ff1010,#ff1010,#ff1010,#ff1111,#ff1111,#ff1212,#ff1212,#ff1414,#ff1515,#ff1616,#ff1818,#ff1b1b,#ff1d1d,#ff2020,#ff2424,#ff2727,#ff2b2b,#ff2f2f,#ff3333,#ff3737,#ff3a3a,#ff3e3e,#ff4242,#ff4646,#ff4a4a,#ff4f4f,#ff5454,#ff5a5a,#ff6161,#ff6a6a,#ff7575,#ff8383,#ff9494,#ffaaaa,#ffc5c5,#ffe3e3,#fbfbff,#ddddff,#c3c3ff,#acacff,#9898ff,#8787ff,#7777ff,#6969ff,#5c5cff,#4e4eff,#4040ff,#3232ff)"></div>
<div style="background:linear-gradient(90deg,#ff2d2d,#ff2b2b,#ff2929,#ff2626,#ff2424,#ff2222,#ff2020,#ff1e1e,#ff1c1c,#ff1a1a,#ff1919,#ff1717,#ff1616,#ff1414,#ff1313,#ff1212,#ff1111,#ff1111,#ff1010,#ff0f0f,#ff0f0f,#ff0f0f,#ff0f0f,#ff0e0e,#ff0f0f,#ff0f0f,#ff0f0f,#ff0f0f,#ff1010,#ff1111,#ff1212,#ff1313,#ff1414,#ff1616,#ff1818,#ff1a1a,#ff1d1d,#ff2020,#ff2424,#ff2727,#ff2b2b,#ff2e2e,#ff3232,#ff3636,#ff3939,#ff3d3d,#ff4141,#ff4545,#ff4949,#ff4f4f,#ff5454,#ff5b5b,#ff6262,#ff6b6b,#ff7777,#ff8686,#ff9999,#ffb2b2,#ffcfcf,#ffeded,#f2f2ff,#d7d7ff,#bebeff,#a7a7ff,#9393ff,#8181ff,#7171ff,#6161ff,#5353ff,#4444ff,#3838ff)"></div>
<div style="background:linear-gradient(90deg,#ff2d2d,#ff2b2b,#ff2929,#ff2626,#ff2424,#ff2222,#ff1f1f,#ff1d1d,#ff1c1c,#ff1a1a,#ff1818,#ff1717,#ff1515,#ff1414,#ff1313,#ff1212,#ff1111,#ff1010,#ff0f0f,#ff0f0f,#ff0e0e,#ff0e0e,#ff0e0e,#ff0e0e,#ff0d0d,#ff0e0e,#ff0e0e,#ff0e0e,#ff0f0f,#ff0f0f,#ff1010,#ff1111,#ff1212,#ff1414,#ff1616,#ff1818,#ff1a1a,#ff1d1d,#ff2020,#ff2323,#ff2727,#ff2a2a,#ff2e2e,#ff3131,#ff3535,#ff3838,#ff3c3c,#ff4040,#ff4545,#ff4a4a,#ff4f4f,#ff5555,#ff5b5b,#ff6363,#ff6c6c,#ff7979,#ff8a8a,#ffa1a1,#ffbcbc,#ffd9d9,#fff7f7,#ebebff,#d0d0ff,#b7b7ff,#a0a0ff,#8b8bff,#7777ff,#6666ff,#5656ff,#4848ff,#3e3eff)"></div>
<div style="background:linear-gradient(90deg,#ff2e2e,#ff2c2c,#ff2929,#ff2626,#ff2424,#ff2222,#ff1f1f,#ff1d1d,#ff1b1b,#ff1a1a,#ff1818,#ff1717,#ff1515,#ff1414,#ff1313,#ff1212,#ff1111,#ff1010,#ff0f0f,#ff0e0e,#ff0e0e,#ff0d0d,#ff0d0d,#ff0d0d,#ff0d0d,#ff0d0d,#ff0d0d,#ff0d0d,#ff0d0d,#ff0e0e,#ff0f0f,#ff1010,#ff1111,#ff1212,#ff1414,#ff1616,#ff1818,#ff1a1a,#ff1d1d,#ff2020,#ff2323,#ff2626,#ff2a2a,#ff2d2d,#ff3131,#ff3434,#ff3838,#ff3c3c,#ff4040,#ff4545,#ff4a4a,#ff5050,#ff5555,#ff5c5c,#ff6464,#ff6f6f,#ff7e7e,#ff9292,#ffaaaa,#ffc5c5,#ffe2e2,#ffffff,#e2e2ff,#c7c7ff,#acacff,#9393ff,#7d7dff,#6969ff,#5959ff,#4c4cff,#4444ff)"></div>
<div style="background:linear-gradient(90deg,#ff2e2e,#ff2c2c,#ff2929,#ff2727,#ff2424,#ff2222,#ff2020,#ff1e1e,#ff1c1c,#ff1a1a,#ff1818,#ff1717,#ff1515,#ff1414,#ff1313,#ff1111,#ff1010,#ff1010,#ff0f0f,#ff0e0e,#ff0d0d,#ff0d0d,#ff0c0c,#ff0c0c,#ff0c0c,#ff0c0c,#ff0c0c,#ff0c0c,#ff0c0c,#ff0d0d,#ff0d0d,#ff0e0e,#ff0f0f,#ff1010,#ff1212,#ff1414,#ff1515,#ff1818,#ff1a1a,#ff1d1d,#ff1f1f,#ff2222,#ff2626,#ff2929,#ff2c2c,#ff3030,#ff3434,#ff3838,#ff3c3c,#ff4040,#ff4545,#ff4a4a,#ff5050,#ff5555,#ff5c5c,#ff6666,#ff7373,#ff8484,#ff9999,#ffb2b2,#ffcece,#ffebeb,#f5f5ff,#d6d6ff,#b8b8ff,#9c9cff,#8282ff,#6c6cff,#5b5bff,#5050ff,#4b4bff)"></div>
<div style="background:linear-gradient(90deg,#ff2f2f,#ff2d2d,#ff2a2a,#ff2727,#ff2525,#ff2222,#ff2020,#ff1e1e,#ff1c1c,#ff1a1a,#ff1818,#ff1717,#ff1515,#ff1414,#ff1313,#ff1111,#ff1010,#ff0f0f,#ff0f0f,#ff0e0e,#ff0d0d,#ff0d0d,#ff0c0c,#ff0c0c,#ff0b0b,#ff0b0b,#ff0b0b,#ff0b0b,#ff0c0c,#ff0c0c,#ff0d0d,#ff0d0d,#ff0e0e,#ff0f0f,#ff1010,#ff1212,#ff1313,#ff1515,#ff1717,#ff1a1a,#ff1c1c,#ff1f1f,#ff2222,#ff2525,#ff2828,#ff2c2c,#ff2f2f,#ff3333,#ff3737,#ff3c3c,#ff4141,#ff4545,#ff4a4a,#ff4f4f,#ff5656,#ff5e5e,#ff6969,#ff7878,#ff8a8a,#ffa1a1,#ffbaba,#ffd8d8,#fff8f8,#e5e5ff,#c4c4ff,#a4a4ff,#8888ff,#7070ff,#5e5eff,#5353ff,#5151ff)"></div>
<div style="background:linear-gradient(90deg,#ff3030,#ff2e2e,#ff2b2b,#ff2828,#ff2626,#ff2323,#ff2121,#ff1f1f,#ff1d1d,#ff1b1b,#ff1919,#ff1717,#ff1616,#ff1414,#ff1313,#ff1212,#ff1010,#ff0f0f,#ff0e0e,#ff0e0e,#ff0d0d,#ff0c0c,#ff0c0c,#ff0b0b,#ff0b0b,#ff0b0b,#ff0b0b,#ff0b0b,#ff0b0b,#ff0b0b,#ff0c0c,#ff0c0c,#ff0d0d,#ff0e0e,#ff0f0f,#ff1010,#ff1212,#ff1313,#ff1515,#ff1717,#ff1919,#ff1c1c,#ff1e1e,#ff2121,#ff2424,#ff2828,#ff2b2b,#ff2f2f,#ff3333,#ff3737,#ff3c3c,#ff4040,#ff4545,#ff4a4a,#ff5050,#ff5757,#ff6161,#ff6d6d,#ff7d7d,#ff9090,#ffa9a9,#ffc6c6,#ffe7e7,#f3f3ff,#cfcfff,#adadff,#8e8eff,#7474ff,#6262ff,#5858ff,#5959ff)"></div>
<div style="background:linear-gradient(90deg,#ff3131,#ff2f2f,#ff2c2c,#ff2929,#ff2727,#ff2424,#ff2222,#ff2020,#ff1e1e,#ff1b1b,#ff1a1a,#ff1818,#ff1616,#ff1414,#ff1313,#ff1212,#ff1010,#ff0f0f,#ff0e0e,#ff0d0d,#ff0d0d,#ff0c0c,#ff0c0c,#ff0b0b,#ff0b0b,#ff0b0b,#ff0b0b,#ff0b0b,#ff0b0b,#ff0b0b,#ff0b0b,#ff0c0c,#ff0c0c,#ff0d0d,#ff0e0e,#ff0f0f,#ff1010,#ff1111,#ff1313,#ff1414,#ff1616,#ff1919,#ff1b1b,#ff1e1e,#ff2121,#ff2424,#ff2828,#ff2b2b,#ff2f2f,#ff3333,#ff3737,#ff3c3c,#ff4040,#ff4545,#ff4b4b,#ff5151,#ff5a5a,#ff6464,#ff7171,#ff8282,#ff9999,#ffb5b5,#ffd8d8,#fffdfd,#dbdbff,#b6b6ff,#9595ff,#7a7aff,#6666ff,#5d5dff,#6060ff)"></div>
<div style="background:linear-gradient(90deg,#ff3232,#ff3030,#ff2d2d,#ff2b2b,#ff2828,#ff2525,#ff2323,#ff2121,#ff1e1e,#ff1c1c,#ff1a1a,#ff1818,#ff1717,#ff1515,#ff1313,#ff1212,#ff1111,#ff0f0f,#ff0e0e,#ff0d0d,#ff0d0d,#ff0c0c,#ff0b0b,#ff0b0b,#ff0b0b,#ff0b0b,#ff0a0a,#ff0a0a,#ff0b0b,#ff0b0b,#ff0b0b,#ff0b0b,#ff0c0c,#ff0c0c,#ff0d0d,#ff0e0e,#ff0f0f,#ff1010,#ff1111,#ff1212,#ff1414,#ff1616,#ff1818,#ff1b1b,#ff1d1d,#ff2020,#ff2424,#ff2727,#ff2b2b,#ff2f2f,#ff3333,#ff3737,#ff3c3c,#ff4141,#ff4646,#ff4c4c,#ff5353,#ff5b5b,#ff6666,#ff7575,#ff8a8a,#ffa7a7,#ffc9c9,#ffefef,#e7e7ff,#c1c1ff,#9e9eff,#8181ff,#6d6dff,#6464ff,#6868ff)"></div>
<div style="background:linear-gradient(90deg,#ff3333,#ff3131,#ff2f2f,#ff2c2c,#ff2929,#ff2727,#ff2424,#ff2222,#ff2020,#ff1d1d,#ff1b1b,#ff1919,#ff1717,#ff1515,#ff1414,#ff1212,#ff1111,#ff1010,#ff0e0e,#ff0d0d,#ff0d0d,#ff0c0c,#ff0b0b,#ff0b0b,#ff0b0b,#ff0a0a,#ff0a0a,#ff0a0a,#ff0a0a,#ff0a0a,#ff0b0b,#ff0b0b,#ff0b0b,#ff0c0c,#ff0c0c,#ff0d0d,#ff0e0e,#ff0e0e,#ff0f0f,#ff1010,#ff1212,#ff1313,#ff1515,#ff1818,#ff1a1a,#ff1d1d,#ff2020,#ff2424,#ff2727,#ff2b2b,#ff2f2f,#ff3333,#ff3737,#ff3c3c,#ff4141,#ff4747,#ff4d4d,#ff5454,#ff5d5d,#ff6b6b,#ff7f7f,#ff9a9a,#ffbcbc,#ffe2e2,#f4f4ff,#cdcdff,#a9a9ff,#8b8bff,#7676ff,#6c6cff,#6f6fff)"></div>
<div style="background:linear-gradient(90deg,#ff3434,#ff3333,#ff3030,#ff2d2d,#ff2b2b,#ff2828,#ff2626,#ff2323,#ff2121,#ff1e1e,#ff1c1c,#ff1a1a,#ff1818,#ff1616,#ff1414,#ff1313,#ff1111,#ff1010,#ff0e0e,#ff0d0d,#ff0d0d,#ff0c0c,#ff0b0b,#ff0b0b,#ff0b0b,#ff0a0a,#ff0a0a,#ff0a0a,#ff0a0a,#ff0a0a,#ff0a0a,#ff0b0b,#ff0b0b,#ff0b0b,#ff0c0c,#ff0c0c,#ff0d0d,#ff0d0d,#ff0e0e,#ff0f0f,#ff1010,#ff1111,#ff1313,#ff1515,#ff1717,#ff1a1a,#ff1d1d,#ff2020,#ff2424,#ff2727,#ff2b2b,#ff2f2f,#ff3333,#ff3737,#ff3c3c,#ff4242,#ff4747,#ff4d4d,#ff5656,#ff6262,#ff7474,#ff8f8f,#ffb0b0,#ffd6d6,#fffdfd,#dadaff,#b6b6ff,#9797ff,#8181ff,#7676ff,#7878ff)"></div>
<div style="background:linear-gradient(90deg,#ff3636,#ff3434,#ff3131,#ff2f2f,#ff2c2c,#ff2929,#ff2727,#ff2424,#ff2222,#ff1f1f,#ff1d1d,#ff1b1b,#ff1919,#ff1717,#ff1515,#ff1313,#ff1111,#ff1010,#ff0f0f,#ff0e0e,#ff0d0d,#ff0c0c,#ff0b0b,#ff0b0b,#ff0b0b,#ff0a0a,#ff0a0a,#ff0a0a,#ff0a0a,#ff0a0a,#ff0a0a,#ff0a0a,#ff0b0b,#ff0b0b,#ff0b0b,#ff0b0b,#ff0c0c,#ff0c0c,#ff0d0d,#ff0e0e,#ff0e0e,#ff1010,#ff1111,#ff1313,#ff1515,#ff1717,#ff1a1a,#ff1d1d,#ff2020,#ff2323,#ff2727,#ff2b2b,#ff2f2f,#ff3333,#ff3838,#ff3d3d,#ff4242,#ff4848,#ff4f4f,#ff5b5b,#ff6c6c,#ff8585,#ffa5a5,#ffc9c9,#fff0f0,#e8e8ff,#c4c4ff,#a6a6ff,#8f8fff,#8181ff,#8080ff)"></div>
<div style="background:linear-gradient(90deg,#ff3737,#ff3535,#ff3333,#ff3030,#ff2d2d,#ff2b2b,#ff2828,#ff2626,#ff2323,#ff2020,#ff1e1e,#ff1c1c,#ff1919,#ff1717,#ff1515,#ff1313,#ff1212,#ff1010,#ff0f0f,#ff0e0e,#ff0d0d,#ff0c0c,#ff0b0b,#ff0b0b,#ff0b0b,#ff0a0a,#ff0a0a,#ff0a0a,#ff0a0a,#ff0a0a,#ff0a0a,#ff0a0a,#ff0a0a,#ff0a0a,#ff0b0b,#ff0b0b,#ff0b0b,#ff0b0b,#ff0c0c,#ff0c0c,#ff0d0d,#ff0e0e,#ff0f0f,#ff1111,#ff1313,#ff1515,#ff1717,#ff1a1a,#ff1d1d,#ff2020,#ff2323,#ff2727,#ff2b2b,#ff2f2f,#ff3434,#ff3939,#ff3d3d,#ff4343,#ff4a4a,#ff5454,#ff6565,#ff7c7c,#ff9a9a,#ffbdbd,#ffe2e2,#f7f7ff,#d4d4ff,#b6b6ff,#9d9dff,#8e8eff,#8888ff)"></div>
<div style="background:linear-gradient(90deg,#ff3838,#ff3636,#ff3434,#ff3131,#ff2f2f,#ff2c2c,#ff2929,#ff2727,#ff2424,#ff2121,#ff1f1f,#ff1c1c,#ff1a1a,#ff1818,#ff1616,#ff1414,#ff1212,#ff1010,#ff0f0f,#ff0e0e,#ff0d0d,#ff0c0c,#ff0b0b,#ff0b0b,#ff0b0b,#ff0a0a,#ff0a0a,#ff0a0a,#ff0a0a,#ff0a0a,#ff0a0a,#ff0a0a,#ff0a0a,#ff0a0a,#ff0a0a,#ff0a0a,#ff0a0a,#ff0b0b,#ff0b0b,#ff0b0b,#ff0c0c,#ff0d0d,#ff0e0e,#ff0f0f,#ff1111,#ff1313,#ff1515,#ff1717,#ff1a1a,#ff1d1d,#ff2020,#ff2323,#ff2727,#ff2b2b,#ff3030,#ff3434,#ff3939,#ff3e3e,#ff4545,#ff4f4f,#ff5e5e,#ff7474,#ff9090,#ffb0b0,#ffd3d3,#fff6f6,#e6e6ff,#c7c7ff,#adadff,#9b9bff,#9191ff)"></div>
<div style="background:linear-gradient(90deg,#ff3939,#ff3838,#ff3535,#ff3333,#ff3030,#ff2d2d,#ff2b2b,#ff2828,#ff2525,#ff2222,#ff2020,#ff1d1d,#ff1b1b,#ff1818,#ff1616,#ff1414,#ff1212,#ff1010,#ff0f0f,#ff0e0e,#ff0d0d,#ff0c0c,#ff0b0b,#ff0b0b,#ff0b0b,#ff0a0a,#ff0a0a,#ff0a0a,#ff0a0a,#ff0a0a,#ff0a0a,#ff0a0a,#ff0a0a,#ff0a0a,#ff0a0a,#ff0a0a,#ff0a0a,#ff0a0a,#ff0a0a,#ff0b0b,#ff0b0b,#ff0c0c,#ff0d0d,#ff0e0e,#ff0f0f,#ff1111,#ff1313,#ff1515,#ff1717,#ff1a1a,#ff1d1d,#ff2020,#ff2424,#ff2828,#ff2c2c,#ff3131,#ff3535,#ff3a3a,#ff4141,#ff4a4a,#ff5959,#ff6c6c,#ff8686,#ffa3a3,#ffc3c3,#ffe4e4,#f9f9ff,#dadaff,#bfbfff,#a8a8ff,#9999ff)"></div>
<div style="background:linear-gradient(90deg,#ff3a3a,#ff3939,#ff3636,#ff3434,#ff3131,#ff2e2e,#ff2c2c,#ff2929,#ff2626,#ff2323,#ff2121,#ff1e1e,#ff1b1b,#ff1919,#ff1616,#ff1414,#ff1212,#ff1111,#ff0f0f,#ff0e0e,#ff0d0d,#ff0c0c,#ff0b0b,#ff0b0b,#ff0a0a,#ff0a0a,#ff0a0a,#ff0a0a,#ff0a0a,#ff0a0a,#ff0a0a,#ff0a0a,#ff0a0a,#ff0a0a,#ff0909,#ff0909,#ff0909,#ff0a0a,#ff0a0a,#ff0a0a,#ff0a0a,#ff0b0b,#ff0b0b,#ff0c0c,#ff0e0e,#ff0f0f,#ff1111,#ff1313,#ff1515,#ff1818,#ff1b1b,#ff1e1e,#ff2121,#ff2525,#ff2929,#ff2d2d,#ff3232,#ff3737,#ff3d3d,#ff4646,#ff5353,#ff6565,#ff7c7c,#ff9696,#ffb4b4,#ffd2d2,#fff1f1,#eeeeff,#d1d1ff,#b6b6ff,#a1a1ff)"></div>
<div style="background:linear-gradient(90deg,#ff3c3c,#ff3a3a,#ff3838,#ff3535,#ff3232,#ff3030,#ff2d2d,#ff2a2a,#ff2727,#ff2424,#ff2121,#ff1f1f,#ff1c1c,#ff1919,#ff1717,#ff1515,#ff1313,#ff1111,#ff0f0f,#ff0e0e,#ff0d0d,#ff0c0c,#ff0b0b,#ff0b0b,#ff0a0a,#ff0a0a,#ff0a0a,#ff0a0a,#ff0a0a,#ff0909,#ff0909,#ff0909,#ff0909,#ff0909,#ff0909,#ff0909,#ff0909,#ff0909,#ff0909,#ff0909,#ff0909,#ff0a0a,#ff0b0b,#ff0b0b,#ff0d0d,#ff0e0e,#ff1010,#ff1111,#ff1414,#ff1616,#ff1919,#ff1b1b,#ff1f1f,#ff2222,#ff2626,#ff2a2a,#ff2f2f,#ff3434,#ff3a3a,#ff4343,#ff4e4e,#ff5e5e,#ff7272,#ff8a8a,#ffa4a4,#ffc0c0,#ffdede,#fffdfd,#e3e3ff,#c5c5ff,#aaaaff)"></div>
<div style="background:linear-gradient(90deg,#ff3d3d,#ff3b3b,#ff3939,#ff3636,#ff3333,#ff3131,#ff2e2e,#ff2b2b,#ff2828,#ff2525,#ff2222,#ff1f1f,#ff1c1c,#ff1a1a,#ff1717,#ff1515,#ff1313,#ff1111,#ff0f0f,#ff0e0e,#ff0d0d,#ff0c0c,#ff0b0b,#ff0b0b,#ff0a0a,#ff0a0a,#ff0a0a,#ff0a0a,#ff0909,#ff0909,#ff0909,#ff0909,#ff0909,#ff0909,#ff0909,#ff0909,#ff0909,#ff0909,#ff0909,#ff0909,#ff0909,#ff0909,#ff0a0a,#ff0b0b,#ff0c0c,#ff0d0d,#ff0e0e,#ff1010,#ff1212,#ff1414,#ff1717,#ff1a1a,#ff1d1d,#ff2020,#ff2323,#ff2727,#ff2c2c,#ff3131,#ff3737,#ff3f3f,#ff4a4a,#ff5858,#ff6969,#ff7e7e,#ff9595,#ffafaf,#ffcbcb,#ffeaea,#f4f4ff,#d3d3ff,#b3b3ff)"></div>
<div style="background:linear-gradient(90deg,#ff3e3e,#ff3c3c,#ff3a3a,#ff3737,#ff3535,#ff3232,#ff2f2f,#ff2c2c,#ff2929,#ff2626,#ff2323,#ff2020,#ff1d1d,#ff1a1a,#ff1818,#ff1515,#ff1313,#ff1111,#ff1010,#ff0e0e,#ff0d0d,#ff0c0c,#ff0b0b,#ff0b0b,#ff0a0a,#ff0a0a,#ff0a0a,#ff0a0a,#ff0909,#ff0909,#ff0909,#ff0909,#ff0909,#ff0909,#ff0909,#ff0909,#ff0909,#ff0808,#ff0808,#ff0808,#ff0808,#ff0909,#ff0909,#ff0a0a,#ff0b0b,#ff0c0c,#ff0d0d,#ff0f0f,#ff1111,#ff1313,#ff1515,#ff1818,#ff1b1b,#ff1e1e,#ff2121,#ff2525,#ff2929,#ff2e2e,#ff3434,#ff3c3c,#ff4646,#ff5252,#ff6161,#ff7373,#ff8888,#ffa0a0,#ffbaba,#ffd8d8,#fff9f9,#e1e1ff,#bebeff)"></div>
<div style="background:linear-gradient(90deg,#ff3f3f,#ff3d3d,#ff3b3b,#ff3838,#ff3636,#ff3333,#ff3030,#ff2d2d,#ff2a2a,#ff2727,#ff2424,#ff2121,#ff1e1e,#ff1b1b,#ff1818,#ff1616,#ff1414,#ff1212,#ff1010,#ff0e0e,#ff0d0d,#ff0c0c,#ff0b0b,#ff0b0b,#ff0a0a,#ff0a0a,#ff0a0a,#ff0909,#ff0909,#ff0909,#ff0909,#ff0909,#ff0909,#ff0909,#ff0909,#ff0909,#ff0808,#ff0808,#ff0808,#ff0808,#ff0808,#ff0808,#ff0909,#ff0909,#ff0a0a,#ff0b0b,#ff0d0d,#ff0e0e,#ff1010,#ff1212,#ff1414,#ff1717,#ff1919,#ff1c1c,#ff1f1f,#ff2323,#ff2727,#ff2c2c,#ff3232,#ff3939,#ff4242,#ff4d4d,#ff5a5a,#ff6a6a,#ff7c7c,#ff9292,#ffabab,#ffc8c8,#ffe9e9,#f0f0ff,#c9c9ff)"></div>
<div style="background:linear-gradient(90deg,#ff4040,#ff3e3e,#ff3c3c,#ff3939,#ff3737,#ff3434,#ff3131,#ff2e2e,#ff2b2b,#ff2828,#ff2525,#ff2222,#ff1f1f,#ff1c1c,#ff1919,#ff1717,#ff1414,#ff1212,#ff1010,#ff0f0f,#ff0e0e,#ff0d0d,#ff0c0c,#ff0b0b,#ff0a0a,#ff0a0a,#ff0a0a,#ff0a0a,#ff0909,#ff0909,#ff0909,#ff0909,#ff0909,#ff0909,#ff0909,#ff0808,#ff0808,#ff0808,#ff0808,#ff0808,#ff0808,#ff0808,#ff0909,#ff0909,#ff0a0a,#ff0b0b,#ff0c0c,#ff0e0e,#ff1010,#ff1111,#ff1414,#ff1616,#ff1818,#ff1b1b,#ff1e1e,#ff2121,#ff2525,#ff2a2a,#ff2f2f,#ff3636,#ff3e3e,#ff4848,#ff5454,#ff6262,#ff7272,#ff8686,#ff9e9e,#ffbaba,#ffdbdb,#fefeff,#d6d6ff)"></div>
<div style="background:linear-gradient(90deg,#ff4141,#ff4040,#ff3d3d,#ff3b3b,#ff3838,#ff3535,#ff3232,#ff2f2f,#ff2c2c,#ff2929,#ff2525,#ff2222,#ff1f1f,#ff1d1d,#ff1a1a,#ff1717,#ff1515,#ff1313,#ff1111,#ff0f0f,#ff0e0e,#ff0d0d,#ff0c0c,#ff0b0b,#ff0b0b,#ff0a0a,#ff0a0a,#ff0a0a,#ff0909,#ff0909,#ff0909,#ff0909,#ff0909,#ff0909,#ff0909,#ff0909,#ff0808,#ff0808,#ff0808,#ff0808,#ff0808,#ff0808,#ff0909,#ff0909,#ff0a0a,#ff0b0b,#ff0c0c,#ff0e0e,#ff0f0f,#ff1111,#ff1313,#ff1515,#ff1717,#ff1a1a,#ff1c1c,#ff1f1f,#ff2323,#ff2828,#ff2d2d,#ff3434,#ff3b3b,#ff4444,#ff4e4e,#ff5b5b,#ff6a6a,#ff7c7c,#ff9393,#ffaeae,#ffcdcd,#fff3f3,#e4e4ff)"></div>
<div style="background:linear-gradient(90deg,#ff4343,#ff4141,#ff3e3e,#ff3c3c,#ff3939,#ff3636,#ff3333,#ff3030,#ff2d2d,#ff2a2a,#ff2727,#ff2323,#ff2020,#ff1e1e,#ff1b1b,#ff1818,#ff1616,#ff1414,#ff1212,#ff1010,#ff0f0f,#ff0e0e,#ff0d0d,#ff0c0c,#ff0b0b,#ff0b0b,#ff0a0a,#ff0a0a,#ff0a0a,#ff0a0a,#ff0909,#ff0909,#ff0909,#ff0909,#ff0909,#ff0909,#ff0808,#ff0808,#ff0808,#ff0808,#ff0808,#ff0808,#ff0909,#ff0909,#ff0a0a,#ff0b0b,#ff0c0c,#ff0d0d,#ff0f0f,#ff1111,#ff1313,#ff1414,#ff1616,#ff1919,#ff1b1b,#ff1e1e,#ff2121,#ff2626,#ff2b2b,#ff3131,#ff3838,#ff4040,#ff4949,#ff5555,#ff6363,#ff7474,#ff8989,#ffa2a2,#ffc1c1,#ffe5e5,#f2f2ff)"></div>
<div style="background:linear-gradient(90deg,#ff4444,#ff4242,#ff4040,#ff3d3d,#ff3a3a,#ff3737,#ff3434,#ff3131,#ff2e2e,#ff2b2b,#ff2828,#ff2525,#ff2222,#ff1f1f,#ff1c1c,#ff1919,#ff1717,#ff1515,#ff1313,#ff1111,#ff1010,#ff0e0e,#ff0d0d,#ff0d0d,#ff0c0c,#ff0b0b,#ff0b0b,#ff0a0a,#ff0a0a,#ff0a0a,#ff0a0a,#ff0a0a,#ff0909,#ff0909,#ff0909,#ff0909,#ff0909,#ff0909,#ff0808,#ff0808,#ff0808,#ff0808,#ff0909,#ff0909,#ff0a0a,#ff0b0b,#ff0c0c,#ff0d0d,#ff0f0f,#ff1111,#ff1212,#ff1414,#ff1616,#ff1818,#ff1a1a,#ff1d1d,#ff2020,#ff2424,#ff2929,#ff2e2e,#ff3535,#ff3c3c,#ff4545,#ff4f4f,#ff5c5c,#ff6c6c,#ff8080,#ff9898,#ffb5b5,#ffd8d8,#fffdfd)"></div>
<div style="background:linear-gradient(90deg,#ff4545,#ff4343,#ff4141,#ff3e3e,#ff3b3b,#ff3838,#ff3535,#ff3232,#ff2f2f,#ff2c2c,#ff2929,#ff2626,#ff2323,#ff2020,#ff1d1d,#ff1b1b,#ff1818,#ff1616,#ff1414,#ff1212,#ff1111,#ff0f0f,#ff0e0e,#ff0d0d,#ff0d0d,#ff0c0c,#ff0b0b,#ff0b0b,#ff0b0b,#ff0a0a,#ff0a0a,#ff0a0a,#ff0a0a,#ff0a0a,#ff0a0a,#ff0909,#ff0909,#ff0909,#ff0909,#ff0909,#ff0909,#ff0909,#ff0909,#ff0a0a,#ff0a0a,#ff0b0b,#ff0c0c,#ff0e0e,#ff0f0f,#ff1010,#ff1212,#ff1414,#ff1515,#ff1717,#ff1919,#ff1b1b,#ff1e1e,#ff2222,#ff2626,#ff2c2c,#ff3232,#ff3939,#ff4141,#ff4a4a,#ff5656,#ff6565,#ff7878,#ff8f8f,#ffaaaa,#ffcbcb,#ffefef)"></div>
<div style="background:linear-gradient(90deg,#ff4747,#ff4545,#ff4242,#ff4040,#ff3d3d,#ff3a3a,#ff3737,#ff3434,#ff3131,#ff2d2d,#ff2a2a,#ff2727,#ff2424,#ff2121,#ff1f1f,#ff1c1c,#ff1a1a,#ff1717,#ff1515,#ff1414,#ff1212,#ff1111,#ff1010,#ff0f0f,#ff0e0e,#ff0d0d,#ff0c0c,#ff0c0c,#ff0b0b,#ff0b0b,#ff0b0b,#ff0b0b,#ff0a0a,#ff0a0a,#ff0a0a,#ff0a0a,#ff0a0a,#ff0909,#ff0909,#ff0909,#ff0909,#ff0909,#ff0909,#ff0a0a,#ff0b0b,#ff0b0b,#ff0c0c,#ff0e0e,#ff0f0f,#ff1010,#ff1212,#ff1313,#ff1515,#ff1616,#ff1818,#ff1a1a,#ff1d1d,#ff2020,#ff2424,#ff2929,#ff2f2f,#ff3535,#ff3d3d,#ff4646,#ff5151,#ff5f5f,#ff7070,#ff8686,#ff9f9f,#ffbebe,#ffdfdf)"></div>
<div style="background:linear-gradient(90deg,#ff4848,#ff4646,#ff4444,#ff4141,#ff3e3e,#ff3b3b,#ff3838,#ff3535,#ff3232,#ff2f2f,#ff2c2c,#ff2929,#ff2626,#ff2323,#ff2020,#ff1e1e,#ff1b1b,#ff1919,#ff1717,#ff1515,#ff1414,#ff1212,#ff1111,#ff1010,#ff0f0f,#ff0e0e,#ff0d0d,#ff0d0d,#ff0c0c,#ff0c0c,#ff0c0c,#ff0b0b,#ff0b0b,#ff0b0b,#ff0b0b,#ff0a0a,#ff0a0a,#ff0a0a,#ff0a0a,#ff0a0a,#ff0a0a,#ff0a0a,#ff0a0a,#ff0a0a,#ff0b0b,#ff0c0c,#ff0d0d,#ff0e0e,#ff0f0f,#ff1010,#ff1212,#ff1313,#ff1414,#ff1616,#ff1717,#ff1919,#ff1b1b,#ff1e1e,#ff2222,#ff2727,#ff2c2c,#ff3232,#ff3939,#ff4141,#ff4c4c,#ff5959,#ff6969,#ff7d7d,#ff9595,#ffb2b2,#ffd1d1)"></div>
<div style="background:linear-gradient(90deg,#ff4a4a,#ff4848,#ff4545,#ff4343,#ff4040,#ff3d3d,#ff3a3a,#ff3737,#ff3434,#ff3131,#ff2e2e,#ff2b2b,#ff2828,#ff2525,#ff2222,#ff2020,#ff1d1d,#ff1b1b,#ff1919,#ff1717,#ff1616,#ff1414,#ff1313,#ff1111,#ff1010,#ff1010,#ff0f0f,#ff0e0e,#ff0e0e,#ff0d0d,#ff0d0d,#ff0c0c,#ff0c0c,#ff0c0c,#ff0c0c,#ff0b0b,#ff0b0b,#ff0b0b,#ff0a0a,#ff0a0a,#ff0a0a,#ff0a0a,#ff0a0a,#ff0b0b,#ff0b0b,#ff0c0c,#ff0d0d,#ff0e0e,#ff0f0f,#ff1010,#ff1212,#ff1313,#ff1414,#ff1515,#ff1616,#ff1818,#ff1a1a,#ff1d1d,#ff2020,#ff2424,#ff2929,#ff2e2e,#ff3535,#ff3d3d,#ff4747,#ff5353,#ff6262,#ff7474,#ff8b8b,#ffa5a5,#ffc2c2)"></div>
<div style="background:linear-gradient(90deg,#ff4c4c,#ff4a4a,#ff4747,#ff4444,#ff4141,#ff3e3e,#ff3b3b,#ff3838,#ff3535,#ff3333,#ff3030,#ff2d2d,#ff2a2a,#ff2727,#ff2525,#ff2222,#ff2020,#ff1d1d,#ff1b1b,#ff1919,#ff1818,#ff1616,#ff1515,#ff1313,#ff1212,#ff1111,#ff1010,#ff1010,#ff0f0f,#ff0e0e,#ff0e0e,#ff0d0d,#ff0d0d,#ff0d0d,#ff0c0c,#ff0c0c,#ff0c0c,#ff0b0b,#ff0b0b,#ff0b0b,#ff0b0b,#ff0b0b,#ff0b0b,#ff0b0b,#ff0c0c,#ff0d0d,#ff0d0d,#ff0e0e,#ff0f0f,#ff1010,#ff1111,#ff1212,#ff1313,#ff1414,#ff1515,#ff1616,#ff1818,#ff1b1b,#ff1e1e,#ff2222,#ff2626,#ff2b2b,#ff3131,#ff3838,#ff4242,#ff4d4d,#ff5b5b,#ff6c6c,#ff8181,#ff9999,#ffb4b4)"></div>
<div style="background:linear-gradient(90deg,#ff4d4d,#ff4b4b,#ff4949,#ff4646,#ff4343,#ff4040,#ff3d3d,#ff3a3a,#ff3737,#ff3434,#ff3232,#ff2f2f,#ff2c2c,#ff2929,#ff2727,#ff2424,#ff2222,#ff2020,#ff1e1e,#ff1c1c,#ff1a1a,#ff1818,#ff1717,#ff1515,#ff1414,#ff1313,#ff1212,#ff1111,#ff1010,#ff1010,#ff0f0f,#ff0f0f,#ff0e0e,#ff0e0e,#ff0d0d,#ff0d0d,#ff0d0d,#ff0c0c,#ff0c0c,#ff0c0c,#ff0c0c,#ff0c0c,#ff0c0c,#ff0c0c,#ff0c0c,#ff0d0d,#ff0e0e,#ff0e0e,#ff0f0f,#ff1010,#ff1111,#ff1212,#ff1313,#ff1313,#ff1414,#ff1515,#ff1717,#ff1919,#ff1c1c,#ff1f1f,#ff2323,#ff2828,#ff2d2d,#ff3434,#ff3d3d,#ff4747,#ff5454,#ff6464,#ff7777,#ff8e8e,#ffa6a6)"></div>
<div style="background:linear-gradient(90deg,#ff4f4f,#ff4d4d,#ff4a4a,#ff4848,#ff4545,#ff4242,#ff3f3f,#ff3c3c,#ff3939,#ff3737,#ff3434,#ff3131,#ff2e2e,#ff2c2c,#ff2929,#ff2727,#ff2525,#ff2222,#ff2020,#ff1e1e,#ff1c1c,#ff1b1b,#ff1919,#ff1818,#ff1616,#ff1515,#ff1414,#ff1313,#ff1212,#ff1111,#ff1111,#ff1010,#ff1010,#ff0f0f,#ff0f0f,#ff0e0e,#ff0e0e,#ff0d0d,#ff0d0d,#ff0d0d,#ff0c0c,#ff0c0c,#ff0c0c,#ff0d0d,#ff0d0d,#ff0d0d,#ff0e0e,#ff0f0f,#ff0f0f,#ff1010,#ff1111,#ff1212,#ff1212,#ff1313,#ff1313,#ff1414,#ff1515,#ff1717,#ff1a1a,#ff1d1d,#ff2020,#ff2424,#ff2a2a,#ff3030,#ff3838,#ff4242,#ff4e4e,#ff5c5c,#ff6e6e,#ff8282,#ff9898)"></div>
<div style="background:linear-gradient(90deg,#ff5151,#ff4f4f,#ff4c4c,#ff4949,#ff4646,#ff4444,#ff4141,#ff3e3e,#ff3b3b,#ff3939,#ff3636,#ff3333,#ff3131,#ff2e2e,#ff2c2c,#ff2929,#ff2727,#ff2525,#ff2323,#ff2121,#ff1f1f,#ff1d1d,#ff1b1b,#ff1a1a,#ff1818,#ff1717,#ff1616,#ff1515,#ff1414,#ff1313,#ff1212,#ff1111,#ff1111,#ff1010,#ff1010,#ff0f0f,#ff0f0f,#ff0e0e,#ff0e0e,#ff0e0e,#ff0d0d,#ff0d0d,#ff0d0d,#ff0d0d,#ff0d0d,#ff0e0e,#ff0e0e,#ff0f0f,#ff1010,#ff1010,#ff1111,#ff1111,#ff1212,#ff1212,#ff1212,#ff1313,#ff1414,#ff1515,#ff1717,#ff1a1a,#ff1d1d,#ff2121,#ff2626,#ff2c2c,#ff3333,#ff3c3c,#ff4747,#ff5555,#ff6565,#ff7777,#ff8b8b)"></div>
<div style="background:linear-gradient(90deg,#ff5353,#ff5151,#ff4e4e,#ff4b4b,#ff4848,#ff4646,#ff4343,#ff4040,#ff3d3d,#ff3b3b,#ff3838,#ff3636,#ff3333,#ff3131,#ff2e2e,#ff2c2c,#ff2a2a,#ff2828,#ff2626,#ff2323,#ff2222,#ff2020,#ff1e1e,#ff1c1c,#ff1b1b,#ff1919,#ff1818,#ff1717,#ff1616,#ff1515,#ff1414,#ff1313,#ff1212,#ff1212,#ff1111,#ff1010,#ff1010,#ff0f0f,#ff0f0f,#ff0e0e,#ff0e0e,#ff0e0e,#ff0e0e,#ff0e0e,#ff0e0e,#ff0e0e,#ff0f0f,#ff0f0f,#ff1010,#ff1010,#ff1111,#ff1111,#ff1111,#ff1111,#ff1111,#ff1212,#ff1313,#ff1414,#ff1616,#ff1818,#ff1b1b,#ff1e1e,#ff2323,#ff2828,#ff2f2f,#ff3737,#ff4242,#ff4e4e,#ff5c5c,#ff6d6d,#ff7f7f)"></div>
<div style="background:linear-gradient(90deg,#ff5555,#ff5353,#ff5050,#ff4d4d,#ff4a4a,#ff4747,#ff4545,#ff4242,#ff3f3f,#ff3d3d,#ff3a3a,#ff3838,#ff3636,#ff3333,#ff3131,#ff2f2f,#ff2d2d,#ff2a2a,#ff2828,#ff2626,#ff2424,#ff2222,#ff2020,#ff1f1f,#ff1d1d,#ff1b1b,#ff1a1a,#ff1919,#ff1717,#ff1616,#ff1515,#ff1414,#ff1414,#ff1313,#ff1212,#ff1111,#ff1111,#ff1010,#ff1010,#ff0f0f,#ff0f0f,#ff0f0f,#ff0f0f,#ff0f0f,#ff0f0f,#ff0f0f,#ff0f0f,#ff0f0f,#ff1010,#ff1010,#ff1010,#ff1111,#ff1111,#ff1111,#ff1111,#ff1111,#ff1111,#ff1212,#ff1414,#ff1616,#ff1818,#ff1c1c,#ff2020,#ff2525,#ff2b2b,#ff3333,#ff3c3c,#ff4747,#ff5454,#ff6464,#ff7474)"></div>
<div style="background:linear-gradient(90deg,#ff5757,#ff5555,#ff5252,#ff4f4f,#ff4c4c,#ff4949,#ff4747,#ff4444,#ff4242,#ff3f3f,#ff3d3d,#ff3a3a,#ff3838,#ff3636,#ff3434,#ff3131,#ff2f2f,#ff2d2d,#ff2b2b,#ff2929,#ff2727,#ff2525,#ff2323,#ff2121,#ff1f1f,#ff1e1e,#ff1c1c,#ff1b1b,#ff1919,#ff1818,#ff1717,#ff1616,#ff1515,#ff1414,#ff1313,#ff1313,#ff1212,#ff1111,#ff1111,#ff1010,#ff1010,#ff1010,#ff0f0f,#ff0f0f,#ff0f0f,#ff0f0f,#ff1010,#ff1010,#ff1010,#ff1010,#ff1010,#ff1010,#ff1010,#ff1010,#ff1010,#ff1010,#ff1010,#ff1111,#ff1212,#ff1414,#ff1616,#ff1919,#ff1d1d,#ff2222,#ff2727,#ff2e2e,#ff3737,#ff4141,#ff4d4d,#ff5b5b,#ff6969)"></div>
<div style="background:linear-gradient(90deg,#ff5959,#ff5656,#ff5454,#ff5151,#ff4e4e,#ff4b4b,#ff4949,#ff4646,#ff4444,#ff4141,#ff3f3f,#ff3d3d,#ff3a3a,#ff3838,#ff3636,#ff3434,#ff3232,#ff3030,#ff2e2e,#ff2b2b,#ff2929,#ff2727,#ff2525,#ff2323,#ff2222,#ff2020,#ff1e1e,#ff1d1d,#ff1b1b,#ff1a1a,#ff1919,#ff1717,#ff1616,#ff1515,#ff1515,#ff1414,#ff1313,#ff1212,#ff1212,#ff1111,#ff1111,#ff1010,#ff1010,#ff1010,#ff1010,#ff1010,#ff1010,#ff1010,#ff1010,#ff1010,#ff1010,#ff1010,#ff1010,#ff1010,#ff0f0f,#ff0f0f,#ff0f0f,#ff1010,#ff1111,#ff1212,#ff1414,#ff1717,#ff1a1a,#ff1f1f,#ff2424,#ff2b2b,#ff3232,#ff3c3c,#ff4646,#ff5353,#ff6060)"></div>
<div style="background:linear-gradient(90deg,#ff5b5b,#ff5858,#ff5555,#ff5353,#ff5050,#ff4d4d,#ff4b4b,#ff4848,#ff4646,#ff4343,#ff4141,#ff3f3f,#ff3d3d,#ff3b3b,#ff3939,#ff3636,#ff3434,#ff3232,#ff3030,#ff2e2e,#ff2c2c,#ff2a2a,#ff2828,#ff2626,#ff2424,#ff2222,#ff2020,#ff1f1f,#ff1d1d,#ff1b1b,#ff1a1a,#ff1919,#ff1818,#ff1717,#ff1616,#ff1515,#ff1414,#ff1313,#ff1313,#ff1212,#ff1212,#ff1111,#ff1111,#ff1111,#ff1010,#ff1010,#ff1010,#ff1010,#ff1010,#ff1010,#ff1010,#ff1010,#ff1010,#ff0f0f,#ff0f0f,#ff0e0e,#ff0e0e,#ff0f0f,#ff0f0f,#ff1111,#ff1212,#ff1515,#ff1818,#ff1c1c,#ff2121,#ff2727,#ff2e2e,#ff3737,#ff4040,#ff4c4c,#ff5757)"></div>
<div style="background:linear-gradient(90deg,#ff5d5d,#ff5a5a,#ff5757,#ff5454,#ff5252,#ff4f4f,#ff4d4d,#ff4a4a,#ff4848,#ff4646,#ff4343,#ff4141,#ff3f3f,#ff3d3d,#ff3b3b,#ff3939,#ff3737,#ff3535,#ff3333,#ff3030,#ff2e2e,#ff2c2c,#ff2a2a,#ff2828,#ff2626,#ff2424,#ff2222,#ff2020,#ff1f1f,#ff1d1d,#ff1c1c,#ff1a1a,#ff1919,#ff1818,#ff1717,#ff1616,#ff1515,#ff1414,#ff1313,#ff1313,#ff1212,#ff1212,#ff1212,#ff1111,#ff1111,#ff1111,#ff1111,#ff1111,#ff1111,#ff1010,#ff1010,#ff1010,#ff0f0f,#ff0f0f,#ff0e0e,#ff0e0e,#ff0e0e,#ff0e0e,#ff0e0e,#ff0f0f,#ff1111,#ff1313,#ff1616,#ff1a1a,#ff1e1e,#ff2424,#ff2b2b,#ff3232,#ff3b3b,#ff4545,#ff5050)"></div>
<div style="background:linear-gradient(90deg,#ff5e5e,#ff5c5c,#ff5959,#ff5656,#ff5454,#ff5151,#ff4f4f,#ff4c4c,#ff4a4a,#ff4848,#ff4545,#ff4343,#ff4141,#ff3f3f,#ff3d3d,#ff3b3b,#ff3939,#ff3737,#ff3535,#ff3333,#ff3131,#ff2e2e,#ff2c2c,#ff2a2a,#ff2828,#ff2626,#ff2424,#ff2222,#ff2020,#ff1f1f,#ff1d1d,#ff1c1c,#ff1a1a,#ff1919,#ff1818,#ff1717,#ff1616,#ff1515,#ff1414,#ff1414,#ff1313,#ff1313,#ff1212,#ff1212,#ff1212,#ff1111,#ff1111,#ff1111,#ff1111,#ff1111,#ff1010,#ff1010,#ff0f0f,#ff0f0f,#ff0e0e,#ff0d0d,#ff0d0d,#ff0d0d,#ff0d0d,#ff0e0e,#ff1010,#ff1212,#ff1414,#ff1818,#ff1c1c,#ff2222,#ff2828,#ff2f2f,#ff3737,#ff4040,#ff4949)"></div>
<div style="background:linear-gradient(90deg,#ff6060,#ff5e5e,#ff5b5b,#ff5858,#ff5555,#ff5353,#ff5050,#ff4e4e,#ff4c4c,#ff4a4a,#ff4747,#ff4545,#ff4343,#ff4141,#ff3f3f,#ff3d3d,#ff3b3b,#ff3939,#ff3737,#ff3535,#ff3333,#ff3030,#ff2e2e,#ff2c2c,#ff2a2a,#ff2828,#ff2626,#ff2424,#ff2222,#ff2020,#ff1e1e,#ff1d1d,#ff1b1b,#ff1a1a,#ff1919,#ff1717,#ff1616,#ff1616,#ff1515,#ff1414,#ff1414,#ff1313,#ff1313,#ff1313,#ff1212,#ff1212,#ff1212,#ff1111,#ff1111,#ff1111,#ff1010,#ff1010,#ff0f0f,#ff0e0e,#ff0e0e,#ff0d0d,#ff0d0d,#ff0d0d,#ff0d0d,#ff0d0d,#ff0f0f,#ff1111,#ff1313,#ff1717,#ff1b1b,#ff2020,#ff2525,#ff2c2c,#ff3333,#ff3c3c,#ff4444)"></div>
<div style="background:linear-gradient(90deg,#ff6262,#ff6060,#ff5d5d,#ff5a5a,#ff5757,#ff5555,#ff5252,#ff5050,#ff4e4e,#ff4b4b,#ff4949,#ff4747,#ff4545,#ff4343,#ff4141,#ff3f3f,#ff3d3d,#ff3b3b,#ff3939,#ff3737,#ff3434,#ff3232,#ff3030,#ff2e2e,#ff2c2c,#ff2a2a,#ff2727,#ff2525,#ff2323,#ff2121,#ff2020,#ff1e1e,#ff1c1c,#ff1b1b,#ff1919,#ff1818,#ff1717,#ff1616,#ff1616,#ff1515,#ff1414,#ff1414,#ff1313,#ff1313,#ff1313,#ff1212,#ff1212,#ff1212,#ff1111,#ff1111,#ff1111,#ff1010,#ff0f0f,#ff0e0e,#ff0e0e,#ff0d0d,#ff0c0c,#ff0c0c,#ff0c0c,#ff0d0d,#ff0e0e,#ff1010,#ff1212,#ff1616,#ff1919,#ff1e1e,#ff2424,#ff2a2a,#ff3131,#ff3838,#ff4040)"></div>
<div style="background:linear-gradient(90deg,#ff6464,#ff6161,#ff5e5e,#ff5c5c,#ff5959,#ff5757,#ff5454,#ff5252,#ff4f4f,#ff4d4d,#ff4b4b,#ff4949,#ff4747,#ff4545,#ff4343,#ff4141,#ff3f3f,#ff3c3c,#ff3a3a,#ff3838,#ff3636,#ff3434,#ff3232,#ff2f2f,#ff2d2d,#ff2b2b,#ff2929,#ff2727,#ff2525,#ff2323,#ff2121,#ff1f1f,#ff1d1d,#ff1c1c,#ff1a1a,#ff1919,#ff1818,#ff1717,#ff1616,#ff1515,#ff1515,#ff1414,#ff1414,#ff1414,#ff1313,#ff1313,#ff1313,#ff1212,#ff1212,#ff1111,#ff1111,#ff1010,#ff0f0f,#ff0f0f,#ff0e0e,#ff0d0d,#ff0c0c,#ff0c0c,#ff0c0c,#ff0d0d,#ff0e0e,#ff0f0f,#ff1212,#ff1515,#ff1919,#ff1d1d,#ff2222,#ff2828,#ff2f2f,#ff3636,#ff3d3d)"></div>
<div style="background:linear-gradient(90deg,#ff6565,#ff6363,#ff6060,#ff5d5d,#ff5b5b,#ff5858,#ff5656,#ff5454,#ff5151,#ff4f4f,#ff4d4d,#ff4b4b,#ff4949,#ff4646,#ff4444,#ff4242,#ff4040,#ff3e3e,#ff3c3c,#ff3a3a,#ff3838,#ff3535,#ff3333,#ff3131,#ff2f2f,#ff2d2d,#ff2a2a,#ff2828,#ff2626,#ff2424,#ff2222,#ff2020,#ff1e1e,#ff1c1c,#ff1b1b,#ff1919,#ff1818,#ff1717,#ff1717,#ff1616,#ff1515,#ff1515,#ff1515,#ff1414,#ff1414,#ff1313,#ff1313,#ff1313,#ff1212,#ff1212,#ff1111,#ff1010,#ff1010,#ff0f0f,#ff0e0e,#ff0d0d,#ff0d0d,#ff0c0c,#ff0c0c,#ff0d0d,#ff0e0e,#ff0f0f,#ff1212,#ff1515,#ff1818,#ff1c1c,#ff2121,#ff2727,#ff2d2d,#ff3434,#ff3b3b)"></div>
<div style="background:linear-gradient(90deg,#ff6767,#ff6565,#ff6262,#ff5f5f,#ff5d5d,#ff5a5a,#ff5858,#ff5555,#ff5353,#ff5151,#ff4e4e,#ff4c4c,#ff4a4a,#ff4848,#ff4646,#ff4444,#ff4242,#ff3f3f,#ff3d3d,#ff3b3b,#ff3939,#ff3737,#ff3535,#ff3232,#ff3030,#ff2e2e,#ff2c2c,#ff2929,#ff2727,#ff2525,#ff2323,#ff2121,#ff1f1f,#ff1d1d,#ff1b1b,#ff1a1a,#ff1919,#ff1818,#ff1717,#ff1616,#ff1616,#ff1515,#ff1515,#ff1515,#ff1414,#ff1414,#ff1414,#ff1313,#ff1313,#ff1212,#ff1212,#ff1111,#ff1010,#ff0f0f,#ff0e0e,#ff0d0d,#ff0d0d,#ff0c0c,#ff0c0c,#ff0d0d,#ff0e0e,#ff0f0f,#ff1212,#ff1414,#ff1818,#ff1c1c,#ff2121,#ff2626,#ff2c2c,#ff3333,#ff3a3a)"></div>
<div style="background:linear-gradient(90deg,#ff6868,#ff6666,#ff6363,#ff6161,#ff5e5e,#ff5c5c,#ff5959,#ff5757,#ff5555,#ff5252,#ff5050,#ff4e4e,#ff4c4c,#ff4949,#ff4747,#ff4545,#ff4343,#ff4141,#ff3f3f,#ff3d3d,#ff3a3a,#ff3838,#ff3636,#ff3434,#ff3232,#ff2f2f,#ff2d2d,#ff2b2b,#ff2828,#ff2626,#ff2424,#ff2222,#ff2020,#ff1e1e,#ff1c1c,#ff1b1b,#ff1919,#ff1818,#ff1818,#ff1717,#ff1616,#ff1616,#ff1616,#ff1515,#ff1515,#ff1414,#ff1414,#ff1414,#ff1313,#ff1313,#ff1212,#ff1111,#ff1010,#ff1010,#ff0f0f,#ff0e0e,#ff0d0d,#ff0d0d,#ff0d0d,#ff0d0d,#ff0e0e,#ff1010,#ff1212,#ff1515,#ff1818,#ff1c1c,#ff2121,#ff2626,#ff2c2c,#ff3333,#ff3939)"></div>
<div style="background:linear-gradient(90deg,#ff6a6a,#ff6868,#ff6565,#ff6262,#ff6060,#ff5d5d,#ff5b5b,#ff5959,#ff5656,#ff5454,#ff5252,#ff4f4f,#ff4d4d,#ff4b4b,#ff4949,#ff4646,#ff4444,#ff4242,#ff4040,#ff3e3e,#ff3c3c,#ff3939,#ff3737,#ff3535,#ff3333,#ff3030,#ff2e2e,#ff2c2c,#ff2929,#ff2727,#ff2525,#ff2222,#ff2020,#ff1e1e,#ff1d1d,#ff1b1b,#ff1a1a,#ff1919,#ff1818,#ff1717,#ff1717,#ff1616,#ff1616,#ff1616,#ff1515,#ff1515,#ff1515,#ff1414,#ff1414,#ff1313,#ff1212,#ff1212,#ff1111,#ff1010,#ff0f0f,#ff0e0e,#ff0e0e,#ff0d0d,#ff0d0d,#ff0d0d,#ff0e0e,#ff1010,#ff1212,#ff1515,#ff1818,#ff1c1c,#ff2121,#ff2626,#ff2c2c,#ff3333,#ff3939)"></div>
<div style="background:linear-gradient(90deg,#ff6b6b,#ff6969,#ff6767,#ff6464,#ff6161,#ff5f5f,#ff5d5d,#ff5a5a,#ff5858,#ff5555,#ff5353,#ff5151,#ff4e4e,#ff4c4c,#ff4a4a,#ff4848,#ff4646,#ff4343,#ff4141,#ff3f3f,#ff3d3d,#ff3b3b,#ff3838,#ff3636,#ff3434,#ff3232,#ff2f2f,#ff2d2d,#ff2a2a,#ff2828,#ff2525,#ff2323,#ff2121,#ff1f1f,#ff1d1d,#ff1c1c,#ff1a1a,#ff1919,#ff1919,#ff1818,#ff1717,#ff1717,#ff1717,#ff1616,#ff1616,#ff1616,#ff1515,#ff1515,#ff1414,#ff1414,#ff1313,#ff1212,#ff1111,#ff1111,#ff1010,#ff0f0f,#ff0e0e,#ff0e0e,#ff0e0e,#ff0e0e,#ff0f0f,#ff1010,#ff1313,#ff1515,#ff1919,#ff1d1d,#ff2121,#ff2727,#ff2d2d,#ff3333,#ff3a3a)"></div>
<div style="background:linear-gradient(90deg,#ff6c6c,#ff6a6a,#ff6868,#ff6565,#ff6363,#ff6161,#ff5e5e,#ff5c5c,#ff5959,#ff5757,#ff5555,#ff5252,#ff5050,#ff4e4e,#ff4b4b,#ff4949,#ff4747,#ff4545,#ff4242,#ff4040,#ff3e3e,#ff3c3c,#ff3a3a,#ff3737,#ff3535,#ff3333,#ff3030,#ff2e2e,#ff2b2b,#ff2929,#ff2626,#ff2424,#ff2222,#ff1f1f,#ff1e1e,#ff1c1c,#ff1b1b,#ff1a1a,#ff1919,#ff1818,#ff1818,#ff1818,#ff1717,#ff1717,#ff1717,#ff1616,#ff1616,#ff1515,#ff1515,#ff1414,#ff1414,#ff1313,#ff1212,#ff1111,#ff1010,#ff0f0f,#ff0f0f,#ff0e0e,#ff0e0e,#ff0f0f,#ff0f0f,#ff1111,#ff1313,#ff1616,#ff1919,#ff1d1d,#ff2222,#ff2727,#ff2d2d,#ff3434,#ff3b3b)"></div>
<div style="background:linear-gradient(90deg,#ff6e6e,#ff6c6c,#ff6969,#ff6767,#ff6464,#ff6262,#ff6060,#ff5d5d,#ff5b5b,#ff5858,#ff5656,#ff5454,#ff5151,#ff4f4f,#ff4d4d,#ff4a4a,#ff4848,#ff4646,#ff4343,#ff4141,#ff3f3f,#ff3d3d,#ff3b3b,#ff3838,#ff3636,#ff3434,#ff3131,#ff2f2f,#ff2c2c,#ff2929,#ff2727,#ff2424,#ff2222,#ff2020,#ff1e1e,#ff1d1d,#ff1b1b,#ff1a1a,#ff1a1a,#ff1919,#ff1919,#ff1818,#ff1818,#ff1818,#ff1717,#ff1717,#ff1717,#ff1616,#ff1616,#ff1515,#ff1414,#ff1313,#ff1313,#ff1212,#ff1111,#ff1010,#ff0f0f,#ff0f0f,#ff0f0f,#ff0f0f,#ff1010,#ff1212,#ff1414,#ff1616,#ff1a1a,#ff1e1e,#ff2323,#ff2828,#ff2e2e,#ff3535,#ff3c3c)"></div>
<div style="background:linear-gradient(90deg,#ff6f6f,#ff6d6d,#ff6b6b,#ff6868,#ff6666,#ff6363,#ff6161,#ff5f5f,#ff5c5c,#ff5a5a,#ff5757,#ff5555,#ff5353,#ff5050,#ff4e4e,#ff4c4c,#ff4949,#ff4747,#ff4545,#ff4242,#ff4040,#ff3e3e,#ff3c3c,#ff3939,#ff3737,#ff3535,#ff3232,#ff3030,#ff2d2d,#ff2a2a,#ff2828,#ff2525,#ff2323,#ff2121,#ff1f1f,#ff1d1d,#ff1c1c,#ff1b1b,#ff1a1a,#ff1a1a,#ff1919,#ff1919,#ff1919,#ff1818,#ff1818,#ff1818,#ff1717,#ff1717,#ff1616,#ff1616,#ff1515,#ff1414,#ff1313,#ff1212,#ff1111,#ff1111,#ff1010,#ff0f0f,#ff0f0f,#ff1010,#ff1111,#ff1212,#ff1414,#ff1717,#ff1a1a,#ff1f1f,#ff2323,#ff2929,#ff2f2f,#ff3636,#ff3d3d)"></div>
<div style="background:linear-gradient(90deg,#ff7070,#ff6e6e,#ff6c6c,#ff6a6a,#ff6767,#ff6565,#ff6262,#ff6060,#ff5e5e,#ff5b5b,#ff5959,#ff5757,#ff5454,#ff5252,#ff4f4f,#ff4d4d,#ff4b4b,#ff4848,#ff4646,#ff4444,#ff4141,#ff3f3f,#ff3d3d,#ff3a3a,#ff3838,#ff3636,#ff3333,#ff3030,#ff2e2e,#ff2b2b,#ff2828,#ff2626,#ff2323,#ff2121,#ff1f1f,#ff1e1e,#ff1d1d,#ff1c1c,#ff1b1b,#ff1a1a,#ff1a1a,#ff1a1a,#ff1919,#ff1919,#ff1919,#ff1818,#ff1818,#ff1818,#ff1717,#ff1616,#ff1616,#ff1515,#ff1414,#ff1313,#ff1212,#ff1111,#ff1010,#ff1010,#ff1010,#ff1010,#ff1111,#ff1313,#ff1515,#ff1818,#ff1b1b,#ff1f1f,#ff2424,#ff2a2a,#ff3030,#ff3737,#ff3e3e)"></div>
<div style="background:linear-gradient(90deg,#ff7171,#ff6f6f,#ff6d6d,#ff6b6b,#ff6868,#ff6666,#ff6464,#ff6262,#ff5f5f,#ff5d5d,#ff5a5a,#ff5858,#ff5656,#ff5353,#ff5151,#ff4e4e,#ff4c4c,#ff4a4a,#ff4747,#ff4545,#ff4343,#ff4040,#ff3e3e,#ff3b3b,#ff3939,#ff3636,#ff3434,#ff3131,#ff2f2f,#ff2c2c,#ff2929,#ff2727,#ff2424,#ff2222,#ff2020,#ff1f1f,#ff1d1d,#ff1c1c,#ff1c1c,#ff1b1b,#ff1b1b,#ff1a1a,#ff1a1a,#ff1a1a,#ff1a1a,#ff1919,#ff1919,#ff1818,#ff1818,#ff1717,#ff1616,#ff1515,#ff1515,#ff1414,#ff1313,#ff1212,#ff1111,#ff1111,#ff1010,#ff1111,#ff1212,#ff1313,#ff1515,#ff1818,#ff1c1c,#ff2020,#ff2525,#ff2a2a,#ff3131,#ff3838,#ff4040)"></div>
<div style="background:linear-gradient(90deg,#ff7272,#ff7070,#ff6e6e,#ff6c6c,#ff6a6a,#ff6767,#ff6565,#ff6363,#ff6161,#ff5e5e,#ff5c5c,#ff5959,#ff5757,#ff5555,#ff5252,#ff5050,#ff4d4d,#ff4b4b,#ff4949,#ff4646,#ff4444,#ff4141,#ff3f3f,#ff3d3d,#ff3a3a,#ff3737,#ff3535,#ff3232,#ff2f2f,#ff2d2d,#ff2a2a,#ff2727,#ff2525,#ff2323,#ff2121,#ff1f1f,#ff1e1e,#ff1d1d,#ff1d1d,#ff1c1c,#ff1c1c,#ff1b1b,#ff1b1b,#ff1b1b,#ff1b1b,#ff1a1a,#ff1a1a,#ff1919,#ff1919,#ff1818,#ff1717,#ff1616,#ff1515,#ff1414,#ff1313,#ff1212,#ff1212,#ff1111,#ff1111,#ff1111,#ff1212,#ff1414,#ff1616,#ff1818,#ff1c1c,#ff2020,#ff2525,#ff2b2b,#ff3232,#ff3939,#ff4141)"></div>
<div style="background:linear-gradient(90deg,#ff7272,#ff7171,#ff6f6f,#ff6d6d,#ff6b6b,#ff6969,#ff6767,#ff6464,#ff6262,#ff6060,#ff5d5d,#ff5b5b,#ff5959,#ff5656,#ff5454,#ff5151,#ff4f4f,#ff4d4d,#ff4a4a,#ff4848,#ff4545,#ff4343,#ff4040,#ff3e3e,#ff3b3b,#ff3838,#ff3636,#ff3333,#ff3030,#ff2d2d,#ff2b2b,#ff2828,#ff2626,#ff2424,#ff2222,#ff2020,#ff1f1f,#ff1e1e,#ff1d1d,#ff1d1d,#ff1d1d,#ff1c1c,#ff1c1c,#ff1c1c,#ff1c1c,#ff1b1b,#ff1b1b,#ff1a1a,#ff1919,#ff1919,#ff1818,#ff1717,#ff1616,#ff1515,#ff1414,#ff1313,#ff1212,#ff1212,#ff1111,#ff1212,#ff1313,#ff1414,#ff1616,#ff1919,#ff1c1c,#ff2020,#ff2626,#ff2b2b,#ff3232,#ff3a3a,#ff4242)"></div>
<div style="background:linear-gradient(90deg,#ff7373,#ff7272,#ff7070,#ff6e6e,#ff6c6c,#ff6a6a,#ff6868,#ff6666,#ff6363,#ff6161,#ff5f5f,#ff5d5d,#ff5a5a,#ff5858,#ff5555,#ff5353,#ff5151,#ff4e4e,#ff4c4c,#ff4949,#ff4646,#ff4444,#ff4141,#ff3f3f,#ff3c3c,#ff3939,#ff3737,#ff3434,#ff3131,#ff2e2e,#ff2c2c,#ff2929,#ff2727,#ff2525,#ff2323,#ff2121,#ff2020,#ff1f1f,#ff1f1f,#ff1e1e,#ff1e1e,#ff1e1e,#ff1d1d,#ff1d1d,#ff1d1d,#ff1c1c,#ff1c1c,#ff1b1b,#ff1a1a,#ff1a1a,#ff1919,#ff1818,#ff1717,#ff1616,#ff1414,#ff1313,#ff1313,#ff1212,#ff1212,#ff1212,#ff1313,#ff1414,#ff1616,#ff1919,#ff1d1d,#ff2121,#ff2626,#ff2c2c,#ff3333,#ff3b3b,#ff4343)"></div>
<div style="background:linear-gradient(90deg,#ff7474,#ff7373,#ff7171,#ff6f6f,#ff6d6d,#ff6b6b,#ff6969,#ff6767,#ff6565,#ff6363,#ff6161,#ff5e5e,#ff5c5c,#ff5a5a,#ff5757,#ff5555,#ff5252,#ff5050,#ff4d4d,#ff4b4b,#ff4848,#ff4545,#ff4343,#ff4040,#ff3d3d,#ff3a3a,#ff3737,#ff3535,#ff3232,#ff2f2f,#ff2c2c,#ff2a2a,#ff2828,#ff2626,#ff2424,#ff2222,#ff2121,#ff2020,#ff2020,#ff1f1f,#ff1f1f,#ff1f1f,#ff1f1f,#ff1e1e,#ff1e1e,#ff1e1e,#ff1d1d,#ff1c1c,#ff1c1c,#ff1b1b,#ff1a1a,#ff1919,#ff1818,#ff1616,#ff1515,#ff1414,#ff1313,#ff1313,#ff1212,#ff1313,#ff1313,#ff1515,#ff1717,#ff1919,#ff1d1d,#ff2121,#ff2626,#ff2c2c,#ff3333,#ff3b3b,#ff4444)"></div>
<div style="background:linear-gradient(90deg,#ff7575,#ff7474,#ff7272,#ff7070,#ff6e6e,#ff6c6c,#ff6a6a,#ff6868,#ff6666,#ff6464,#ff6262,#ff6060,#ff5e5e,#ff5b5b,#ff5959,#ff5656,#ff5454,#ff5151,#ff4f4f,#ff4c4c,#ff4949,#ff4747,#ff4444,#ff4141,#ff3e3e,#ff3b3b,#ff3838,#ff3636,#ff3333,#ff3030,#ff2e2e,#ff2b2b,#ff2929,#ff2727,#ff2525,#ff2424,#ff2323,#ff2222,#ff2121,#ff2121,#ff2121,#ff2020,#ff2020,#ff2020,#ff1f1f,#ff1f1f,#ff1e1e,#ff1e1e,#ff1d1d,#ff1c1c,#ff1b1b,#ff1a1a,#ff1919,#ff1717,#ff1616,#ff1515,#ff1414,#ff1313,#ff1313,#ff1313,#ff1414,#ff1515,#ff1717,#ff1a1a,#ff1d1d,#ff2121,#ff2727,#ff2d2d,#ff3434,#ff3c3c,#ff4545)"></div>
<div style="background:linear-gradient(90deg,#ff7676,#ff7575,#ff7373,#ff7171,#ff7070,#ff6e6e,#ff6c6c,#ff6a6a,#ff6868,#ff6666,#ff6464,#ff6262,#ff5f5f,#ff5d5d,#ff5b5b,#ff5858,#ff5656,#ff5353,#ff5050,#ff4e4e,#ff4b4b,#ff4848,#ff4545,#ff4242,#ff3f3f,#ff3c3c,#ff3a3a,#ff3737,#ff3434,#ff3131,#ff2f2f,#ff2c2c,#ff2a2a,#ff2828,#ff2727,#ff2525,#ff2424,#ff2323,#ff2323,#ff2222,#ff2222,#ff2222,#ff2222,#ff2121,#ff2121,#ff2020,#ff2020,#ff1f1f,#ff1e1e,#ff1d1d,#ff1c1c,#ff1b1b,#ff1a1a,#ff1818,#ff1717,#ff1616,#ff1515,#ff1414,#ff1414,#ff1414,#ff1414,#ff1515,#ff1717,#ff1a1a,#ff1d1d,#ff2222,#ff2727,#ff2d2d,#ff3434,#ff3d3d,#ff4646)"></div>
<div style="background:linear-gradient(90deg,#ff7777,#ff7676,#ff7474,#ff7373,#ff7171,#ff6f6f,#ff6d6d,#ff6b6b,#ff6a6a,#ff6868,#ff6565,#ff6363,#ff6161,#ff5f5f,#ff5c5c,#ff5a5a,#ff5757,#ff5555,#ff5252,#ff4f4f,#ff4c4c,#ff4949,#ff4747,#ff4444,#ff4141,#ff3e3e,#ff3b3b,#ff3838,#ff3535,#ff3333,#ff3030,#ff2e2e,#ff2c2c,#ff2a2a,#ff2828,#ff2727,#ff2626,#ff2525,#ff2525,#ff2424,#ff2424,#ff2424,#ff2323,#ff2323,#ff2323,#ff2222,#ff2121,#ff2020,#ff2020,#ff1e1e,#ff1d1d,#ff1c1c,#ff1b1b,#ff1919,#ff1818,#ff1717,#ff1616,#ff1515,#ff1414,#ff1414,#ff1515,#ff1616,#ff1818,#ff1a1a,#ff1e1e,#ff2222,#ff2727,#ff2e2e,#ff3535,#ff3e3e,#ff4646)"></div>
<div style="background:linear-gradient(90deg,#ff7878,#ff7777,#ff7676,#ff7474,#ff7272,#ff7171,#ff6f6f,#ff6d6d,#ff6b6b,#ff6969,#ff6767,#ff6565,#ff6363,#ff6161,#ff5e5e,#ff5c5c,#ff5959,#ff5757,#ff5454,#ff5151,#ff4e4e,#ff4b4b,#ff4848,#ff4545,#ff4242,#ff3f3f,#ff3c3c,#ff3939,#ff3737,#ff3434,#ff3232,#ff2f2f,#ff2d2d,#ff2c2c,#ff2a2a,#ff2929,#ff2828,#ff2727,#ff2727,#ff2626,#ff2626,#ff2626,#ff2525,#ff2525,#ff2424,#ff2424,#ff2323,#ff2222,#ff2121,#ff2020,#ff1f1f,#ff1e1e,#ff1c1c,#ff1b1b,#ff1919,#ff1818,#ff1717,#ff1616,#ff1515,#ff1515,#ff1515,#ff1616,#ff1818,#ff1b1b,#ff1e1e,#ff2222,#ff2828,#ff2e2e,#ff3636,#ff3e3e,#ff4747)"></div>
<div style="background:linear-gradient(90deg,#ff7a7a,#ff7979,#ff7777,#ff7676,#ff7474,#ff7272,#ff7070,#ff6f6f,#ff6d6d,#ff6b6b,#ff6969,#ff6767,#ff6565,#ff6262,#ff6060,#ff5e5e,#ff5b5b,#ff5858,#ff5656,#ff5353,#ff5050,#ff4d4d,#ff4949,#ff4646,#ff4343,#ff4040,#ff3d3d,#ff3b3b,#ff3838,#ff3636,#ff3333,#ff3131,#ff2f2f,#ff2d2d,#ff2c2c,#ff2b2b,#ff2a2a,#ff2929,#ff2929,#ff2828,#ff2828,#ff2828,#ff2727,#ff2727,#ff2626,#ff2626,#ff2525,#ff2424,#ff2323,#ff2222,#ff2020,#ff1f1f,#ff1e1e,#ff1c1c,#ff1a1a,#ff1919,#ff1818,#ff1717,#ff1616,#ff1616,#ff1616,#ff1717,#ff1919,#ff1b1b,#ff1f1f,#ff2323,#ff2828,#ff2f2f,#ff3636,#ff3f3f,#ff4848)"></div>
<div style="background:linear-gradient(90deg,#ff7b7b,#ff7a7a,#ff7979,#ff7777,#ff7676,#ff7474,#ff7272,#ff7070,#ff6f6f,#ff6d6d,#ff6b6b,#ff6969,#ff6666,#ff6464,#ff6262,#ff5f5f,#ff5d5d,#ff5a5a,#ff5757,#ff5454,#ff5151,#ff4e4e,#ff4b4b,#ff4848,#ff4545,#ff4242,#ff3f3f,#ff3c3c,#ff3a3a,#ff3737,#ff3535,#ff3333,#ff3131,#ff3030,#ff2e2e,#ff2d2d,#ff2c2c,#ff2c2c,#ff2b2b,#ff2b2b,#ff2a2a,#ff2a2a,#ff2a2a,#ff2929,#ff2828,#ff2828,#ff2727,#ff2626,#ff2525,#ff2424,#ff2222,#ff2121,#ff1f1f,#ff1e1e,#ff1c1c,#ff1a1a,#ff1919,#ff1818,#ff1717,#ff1717,#ff1717,#ff1818,#ff1919,#ff1c1c,#ff1f1f,#ff2323,#ff2929,#ff2f2f,#ff3737,#ff4040,#ff4949)"></div>
<div style="background:linear-gradient(90deg,#ff7d7d,#ff7c7c,#ff7b7b,#ff7979,#ff7777,#ff7676,#ff7474,#ff7272,#ff7070,#ff6f6f,#ff6d6d,#ff6a6a,#ff6868,#ff6666,#ff6464,#ff6161,#ff5f5f,#ff5c5c,#ff5959,#ff5656,#ff5353,#ff5050,#ff4d4d,#ff4a4a,#ff4747,#ff4444,#ff4141,#ff3e3e,#ff3c3c,#ff3939,#ff3737,#ff3535,#ff3434,#ff3232,#ff3131,#ff3030,#ff2f2f,#ff2e2e,#ff2e2e,#ff2d2d,#ff2d2d,#ff2c2c,#ff2c2c,#ff2b2b,#ff2b2b,#ff2a2a,#ff2929,#ff2828,#ff2727,#ff2626,#ff2424,#ff2323,#ff2121,#ff1f1f,#ff1e1e,#ff1c1c,#ff1a1a,#ff1919,#ff1818,#ff1818,#ff1818,#ff1919,#ff1a1a,#ff1d1d,#ff2020,#ff2424,#ff2a2a,#ff3030,#ff3838,#ff4141,#ff4a4a)"></div>
<div style="background:linear-gradient(90deg,#ff8080,#ff7e7e,#ff7d7d,#ff7b7b,#ff7979,#ff7878,#ff7676,#ff7474,#ff7272,#ff7070,#ff6e6e,#ff6c6c,#ff6a6a,#ff6868,#ff6565,#ff6363,#ff6060,#ff5e5e,#ff5b5b,#ff5858,#ff5555,#ff5252,#ff4e4e,#ff4b4b,#ff4848,#ff4646,#ff4343,#ff4040,#ff3e3e,#ff3c3c,#ff3a3a,#ff3838,#ff3636,#ff3535,#ff3434,#ff3333,#ff3232,#ff3131,#ff3131,#ff3030,#ff3030,#ff2f2f,#ff2f2f,#ff2e2e,#ff2d2d,#ff2d2d,#ff2c2c,#ff2b2b,#ff2929,#ff2828,#ff2727,#ff2525,#ff2323,#ff2121,#ff2020,#ff1e1e,#ff1c1c,#ff1b1b,#ff1a1a,#ff1919,#ff1919,#ff1a1a,#ff1b1b,#ff1e1e,#ff2121,#ff2525,#ff2a2a,#ff3131,#ff3939,#ff4242,#ff4c4c)"></div>
<div style="background:linear-gradient(90deg,#ff8282,#ff8181,#ff7f7f,#ff7d7d,#ff7c7c,#ff7a7a,#ff7878,#ff7676,#ff7474,#ff7272,#ff7070,#ff6e6e,#ff6c6c,#ff6a6a,#ff6767,#ff6565,#ff6262,#ff5f5f,#ff5d5d,#ff5a5a,#ff5656,#ff5353,#ff5050,#ff4d4d,#ff4a4a,#ff4848,#ff4545,#ff4242,#ff4040,#ff3e3e,#ff3c3c,#ff3b3b,#ff3939,#ff3838,#ff3737,#ff3636,#ff3535,#ff3434,#ff3434,#ff3333,#ff3333,#ff3232,#ff3232,#ff3131,#ff3030,#ff2f2f,#ff2e2e,#ff2d2d,#ff2c2c,#ff2b2b,#ff2929,#ff2727,#ff2626,#ff2424,#ff2222,#ff2020,#ff1e1e,#ff1d1d,#ff1c1c,#ff1b1b,#ff1b1b,#ff1b1b,#ff1d1d,#ff1f1f,#ff2222,#ff2626,#ff2b2b,#ff3232,#ff3a3a,#ff4343,#ff4d4d)"></div>
<div style="background:linear-gradient(90deg,#ff8585,#ff8383,#ff8282,#ff8080,#ff7e7e,#ff7c7c,#ff7a7a,#ff7878,#ff7676,#ff7474,#ff7272,#ff7070,#ff6e6e,#ff6b6b,#ff6969,#ff6767,#ff6464,#ff6161,#ff5e5e,#ff5b5b,#ff5858,#ff5555,#ff5252,#ff4f4f,#ff4c4c,#ff4a4a,#ff4747,#ff4545,#ff4343,#ff4141,#ff3f3f,#ff3e3e,#ff3d3d,#ff3b3b,#ff3a3a,#ff3939,#ff3939,#ff3838,#ff3737,#ff3737,#ff3636,#ff3535,#ff3535,#ff3434,#ff3333,#ff3232,#ff3131,#ff3030,#ff2f2f,#ff2d2d,#ff2c2c,#ff2a2a,#ff2828,#ff2626,#ff2424,#ff2222,#ff2020,#ff1f1f,#ff1d1d,#ff1d1d,#ff1c1c,#ff1d1d,#ff1e1e,#ff2020,#ff2323,#ff2727,#ff2d2d,#ff3333,#ff3b3b,#ff4545,#ff4e4e)"></div>
<div style="background:linear-gradient(90deg,#ff8888,#ff8686,#ff8484,#ff8383,#ff8181,#ff7f7f,#ff7d7d,#ff7b7b,#ff7979,#ff7777,#ff7474,#ff7272,#ff7070,#ff6d6d,#ff6b6b,#ff6868,#ff6666,#ff6363,#ff6060,#ff5d5d,#ff5a5a,#ff5757,#ff5454,#ff5151,#ff4f4f,#ff4c4c,#ff4a4a,#ff4848,#ff4646,#ff4444,#ff4242,#ff4141,#ff4040,#ff3f3f,#ff3e3e,#ff3d3d,#ff3c3c,#ff3b3b,#ff3b3b,#ff3a3a,#ff3939,#ff3939,#ff3838,#ff3737,#ff3636,#ff3535,#ff3434,#ff3333,#ff3232,#ff3030,#ff2f2f,#ff2d2d,#ff2b2b,#ff2929,#ff2727,#ff2525,#ff2323,#ff2121,#ff2020,#ff1f1f,#ff1e1e,#ff1f1f,#ff2020,#ff2222,#ff2525,#ff2929,#ff2e2e,#ff3535,#ff3d3d,#ff4646,#ff5050)"></div>
<div style="background:linear-gradient(90deg,#ff8b8b,#ff8989,#ff8787,#ff8585,#ff8383,#ff8181,#ff7f7f,#ff7d7d,#ff7b7b,#ff7979,#ff7676,#ff7474,#ff7272,#ff6f6f,#ff6d6d,#ff6a6a,#ff6767,#ff6565,#ff6262,#ff5f5f,#ff5c5c,#ff5959,#ff5656,#ff5454,#ff5151,#ff4f4f,#ff4c4c,#ff4a4a,#ff4949,#ff4747,#ff4646,#ff4545,#ff4444,#ff4343,#ff4242,#ff4141,#ff4040,#ff3f3f,#ff3e3e,#ff3e3e,#ff3d3d,#ff3c3c,#ff3b3b,#ff3a3a,#ff3939,#ff3838,#ff3737,#ff3636,#ff3535,#ff3333,#ff3232,#ff3030,#ff2e2e,#ff2c2c,#ff2929,#ff2727,#ff2525,#ff2323,#ff2222,#ff2121,#ff2020,#ff2121,#ff2222,#ff2323,#ff2626,#ff2a2a,#ff3030,#ff3636,#ff3e3e,#ff4848,#ff5252)"></div>
<div style="background:linear-gradient(90deg,#ff8e8e,#ff8d8d,#ff8b8b,#ff8888,#ff8686,#ff8484,#ff8282,#ff8080,#ff7d7d,#ff7b7b,#ff7979,#ff7676,#ff7474,#ff7171,#ff6f6f,#ff6c6c,#ff6969,#ff6666,#ff6464,#ff6161,#ff5e5e,#ff5b5b,#ff5959,#ff5656,#ff5454,#ff5151,#ff4f4f,#ff4d4d,#ff4c4c,#ff4a4a,#ff4949,#ff4848,#ff4747,#ff4646,#ff4646,#ff4545,#ff4444,#ff4343,#ff4242,#ff4141,#ff4141,#ff4040,#ff3f3f,#ff3e3e,#ff3d3d,#ff3c3c,#ff3b3b,#ff3939,#ff3838,#ff3636,#ff3535,#ff3333,#ff3131,#ff2f2f,#ff2c2c,#ff2a2a,#ff2828,#ff2626,#ff2424,#ff2323,#ff2222,#ff2323,#ff2323,#ff2525,#ff2828,#ff2c2c,#ff3131,#ff3838,#ff4040,#ff4949,#ff5353)"></div>
<div style="background:linear-gradient(90deg,#ff9191,#ff9090,#ff8e8e,#ff8c8c,#ff8989,#ff8787,#ff8585,#ff8282,#ff8080,#ff7d7d,#ff7b7b,#ff7878,#ff7676,#ff7373,#ff7070,#ff6e6e,#ff6b6b,#ff6868,#ff6666,#ff6363,#ff6060,#ff5d5d,#ff5b5b,#ff5858,#ff5656,#ff5454,#ff5252,#ff5050,#ff4f4f,#ff4e4e,#ff4d4d,#ff4c4c,#ff4b4b,#ff4a4a,#ff4949,#ff4949,#ff4848,#ff4747,#ff4646,#ff4545,#ff4444,#ff4343,#ff4242,#ff4141,#ff4040,#ff3f3f,#ff3e3e,#ff3d3d,#ff3b3b,#ff3a3a,#ff3838,#ff3636,#ff3434,#ff3232,#ff2f2f,#ff2d2d,#ff2a2a,#ff2828,#ff2727,#ff2525,#ff2525,#ff2525,#ff2525,#ff2727,#ff2a2a,#ff2e2e,#ff3333,#ff3939,#ff4141,#ff4b4b,#ff5555)"></div>
<div style="background:linear-gradient(90deg,#ff9595,#ff9393,#ff9191,#ff8f8f,#ff8d8d,#ff8a8a,#ff8888,#ff8585,#ff8383,#ff8080,#ff7d7d,#ff7b7b,#ff7878,#ff7575,#ff7272,#ff7070,#ff6d6d,#ff6a6a,#ff6868,#ff6565,#ff6262,#ff6060,#ff5d5d,#ff5b5b,#ff5959,#ff5757,#ff5555,#ff5454,#ff5252,#ff5151,#ff5050,#ff5050,#ff4f4f,#ff4e4e,#ff4d4d,#ff4d4d,#ff4c4c,#ff4b4b,#ff4a4a,#ff4949,#ff4848,#ff4747,#ff4646,#ff4545,#ff4444,#ff4242,#ff4141,#ff4040,#ff3e3e,#ff3d3d,#ff3b3b,#ff3939,#ff3737,#ff3535,#ff3232,#ff3030,#ff2d2d,#ff2b2b,#ff2929,#ff2828,#ff2727,#ff2727,#ff2727,#ff2929,#ff2c2c,#ff2f2f,#ff3535,#ff3b3b,#ff4343,#ff4d4d,#ff5757)"></div>
<div style="background:linear-gradient(90deg,#ff9898,#ff9797,#ff9595,#ff9292,#ff9090,#ff8d8d,#ff8b8b,#ff8888,#ff8585,#ff8282,#ff8080,#ff7d7d,#ff7a7a,#ff7777,#ff7575,#ff7272,#ff6f6f,#ff6c6c,#ff6a6a,#ff6767,#ff6464,#ff6262,#ff6060,#ff5e5e,#ff5c5c,#ff5a5a,#ff5858,#ff5757,#ff5656,#ff5555,#ff5454,#ff5353,#ff5353,#ff5252,#ff5151,#ff5151,#ff5050,#ff4f4f,#ff4e4e,#ff4d4d,#ff4c4c,#ff4b4b,#ff4949,#ff4848,#ff4747,#ff4646,#ff4444,#ff4343,#ff4242,#ff4040,#ff3e3e,#ff3c3c,#ff3a3a,#ff3838,#ff3535,#ff3232,#ff3030,#ff2e2e,#ff2c2c,#ff2a2a,#ff2929,#ff2929,#ff2929,#ff2b2b,#ff2e2e,#ff3131,#ff3636,#ff3d3d,#ff4545,#ff4e4e,#ff5959)"></div>
<div style="background:linear-gradient(90deg,#ff9c9c,#ff9a9a,#ff9898,#ff9696,#ff9393,#ff9090,#ff8e8e,#ff8b8b,#ff8888,#ff8585,#ff8282,#ff7f7f,#ff7d7d,#ff7a7a,#ff7777,#ff7474,#ff7171,#ff6e6e,#ff6c6c,#ff6969,#ff6767,#ff6464,#ff6262,#ff6060,#ff5e5e,#ff5d5d,#ff5b5b,#ff5a5a,#ff5959,#ff5858,#ff5858,#ff5757,#ff5656,#ff5656,#ff5555,#ff5555,#ff5454,#ff5353,#ff5252,#ff5151,#ff4f4f,#ff4e4e,#ff4d4d,#ff4c4c,#ff4a4a,#ff4949,#ff4848,#ff4646,#ff4545,#ff4343,#ff4141,#ff3f3f,#ff3d3d,#ff3b3b,#ff3838,#ff3535,#ff3232,#ff3030,#ff2e2e,#ff2c2c,#ff2b2b,#ff2b2b,#ff2c2c,#ff2d2d,#ff3030,#ff3333,#ff3838,#ff3f3f,#ff4747,#ff5050,#ff5b5b)"></div>
<div style="background:linear-gradient(90deg,#ffa0a0,#ff9e9e,#ff9b9b,#ff9999,#ff9696,#ff9393,#ff9191,#ff8e8e,#ff8b8b,#ff8888,#ff8585,#ff8282,#ff7f7f,#ff7c7c,#ff7979,#ff7676,#ff7373,#ff7171,#ff6e6e,#ff6c6c,#ff6969,#ff6767,#ff6565,#ff6363,#ff6161,#ff6060,#ff5e5e,#ff5d5d,#ff5c5c,#ff5c5c,#ff5b5b,#ff5b5b,#ff5a5a,#ff5a5a,#ff5959,#ff5858,#ff5757,#ff5656,#ff5555,#ff5454,#ff5353,#ff5252,#ff5050,#ff4f4f,#ff4e4e,#ff4c4c,#ff4b4b,#ff4a4a,#ff4848,#ff4646,#ff4545,#ff4242,#ff4040,#ff3d3d,#ff3b3b,#ff3838,#ff3535,#ff3333,#ff3131,#ff2f2f,#ff2e2e,#ff2d2d,#ff2e2e,#ff2f2f,#ff3232,#ff3535,#ff3a3a,#ff4141,#ff4848,#ff5252,#ff5c5c)"></div>
<div style="background:linear-gradient(90deg,#ffa3a3,#ffa1a1,#ff9f9f,#ff9c9c,#ff9a9a,#ff9797,#ff9494,#ff9191,#ff8e8e,#ff8b8b,#ff8888,#ff8585,#ff8282,#ff7e7e,#ff7c7c,#ff7979,#ff7676,#ff7373,#ff7171,#ff6e6e,#ff6c6c,#ff6a6a,#ff6868,#ff6666,#ff6464,#ff6363,#ff6262,#ff6161,#ff6060,#ff5f5f,#ff5f5f,#ff5e5e,#ff5e5e,#ff5d5d,#ff5d5d,#ff5c5c,#ff5b5b,#ff5a5a,#ff5959,#ff5858,#ff5656,#ff5555,#ff5454,#ff5252,#ff5151,#ff5050,#ff4e4e,#ff4d4d,#ff4b4b,#ff4949,#ff4747,#ff4545,#ff4343,#ff4040,#ff3d3d,#ff3a3a,#ff3838,#ff3535,#ff3333,#ff3131,#ff3030,#ff3030,#ff3030,#ff3131,#ff3434,#ff3737,#ff3c3c,#ff4242,#ff4a4a,#ff5454,#ff5e5e)"></div>
<div style="background:linear-gradient(90deg,#ffa7a7,#ffa5a5,#ffa2a2,#ffa0a0,#ff9d9d,#ff9a9a,#ff9797,#ff9494,#ff9191,#ff8e8e,#ff8a8a,#ff8787,#ff8484,#ff8181,#ff7e7e,#ff7b7b,#ff7878,#ff7676,#ff7373,#ff7171,#ff6e6e,#ff6c6c,#ff6a6a,#ff6969,#ff6767,#ff6666,#ff6565,#ff6464,#ff6363,#ff6262,#ff6262,#ff6161,#ff6161,#ff6060,#ff6060,#ff5f5f,#ff5e5e,#ff5d5d,#ff5c5c,#ff5b5b,#ff5a5a,#ff5858,#ff5757,#ff5656,#ff5454,#ff5353,#ff5151,#ff5050,#ff4e4e,#ff4c4c,#ff4a4a,#ff4848,#ff4646,#ff4343,#ff4040,#ff3d3d,#ff3a3a,#ff3838,#ff3535,#ff3333,#ff3232,#ff3232,#ff3232,#ff3333,#ff3636,#ff3939,#ff3e3e,#ff4444,#ff4c4c,#ff5656,#ff6060)"></div>
<div style="background:linear-gradient(90deg,#ffaaaa,#ffa8a8,#ffa6a6,#ffa3a3,#ffa0a0,#ff9d9d,#ff9a9a,#ff9797,#ff9494,#ff9191,#ff8d8d,#ff8a8a,#ff8787,#ff8484,#ff8181,#ff7e7e,#ff7b7b,#ff7878,#ff7676,#ff7373,#ff7171,#ff6f6f,#ff6d6d,#ff6c6c,#ff6a6a,#ff6969,#ff6868,#ff6767,#ff6666,#ff6565,#ff6565,#ff6464,#ff6464,#ff6363,#ff6363,#ff6262,#ff6161,#ff6060,#ff5f5f,#ff5e5e,#ff5d5d,#ff5b5b,#ff5a5a,#ff5959,#ff5757,#ff5656,#ff5454,#ff5353,#ff5151,#ff4f4f,#ff4d4d,#ff4b4b,#ff4848,#ff4545,#ff4242,#ff3f3f,#ff3c3c,#ff3a3a,#ff3737,#ff3636,#ff3434,#ff3434,#ff3434,#ff3535,#ff3838,#ff3b3b,#ff4040,#ff4646,#ff4e4e,#ff5757,#ff6262)"></div>
<div style="background:linear-gradient(90deg,#ffadad,#ffabab,#ffa9a9,#ffa6a6,#ffa3a3,#ffa0a0,#ff9d9d,#ff9a9a,#ff9797,#ff9494,#ff9191,#ff8d8d,#ff8a8a,#ff8787,#ff8484,#ff8181,#ff7e7e,#ff7b7b,#ff7979,#ff7676,#ff7474,#ff7272,#ff7070,#ff6f6f,#ff6d6d,#ff6c6c,#ff6b6b,#ff6a6a,#ff6969,#ff6868,#ff6868,#ff6767,#ff6767,#ff6666,#ff6666,#ff6565,#ff6464,#ff6363,#ff6262,#ff6161,#ff6060,#ff5e5e,#ff5d5d,#ff5b5b,#ff5a5a,#ff5959,#ff5757,#ff5555,#ff5454,#ff5252,#ff4f4f,#ff4d4d,#ff4a4a,#ff4848,#ff4444,#ff4141,#ff3f3f,#ff3c3c,#ff3939,#ff3838,#ff3636,#ff3636,#ff3636,#ff3737,#ff3939,#ff3d3d,#ff4242,#ff4848,#ff5050,#ff5959,#ff6363)"></div>
<div style="background:linear-gradient(90deg,#ffb0b0,#ffafaf,#ffacac,#ffa9a9,#ffa7a7,#ffa4a4,#ffa1a1,#ff9d9d,#ff9a9a,#ff9797,#ff9494,#ff9090,#ff8d8d,#ff8a8a,#ff8787,#ff8484,#ff8181,#ff7e7e,#ff7c7c,#ff7979,#ff7777,#ff7575,#ff7373,#ff7272,#ff7070,#ff6f6f,#ff6e6e,#ff6d6d,#ff6c6c,#ff6b6b,#ff6b6b,#ff6a6a,#ff6969,#ff6969,#ff6868,#ff6767,#ff6767,#ff6666,#ff6565,#ff6363,#ff6262,#ff6161,#ff6060,#ff5e5e,#ff5d5d,#ff5b5b,#ff5a5a,#ff5858,#ff5656,#ff5454,#ff5252,#ff4f4f,#ff4d4d,#ff4a4a,#ff4747,#ff4444,#ff4141,#ff3e3e,#ff3b3b,#ff3a3a,#ff3838,#ff3838,#ff3838,#ff3939,#ff3b3b,#ff3f3f,#ff4444,#ff4a4a,#ff5252,#ff5b5b,#ff6565)"></div>
<div style="background:linear-gradient(90deg,#ffb3b3,#ffb2b2,#ffafaf,#ffadad,#ffaaaa,#ffa7a7,#ffa4a4,#ffa1a1,#ff9e9e,#ff9a9a,#ff9797,#ff9494,#ff9090,#ff8d8d,#ff8a8a,#ff8787,#ff8484,#ff8181,#ff7f7f,#ff7c7c,#ff7a7a,#ff7878,#ff7676,#ff7575,#ff7373,#ff7272,#ff7171,#ff7070,#ff6f6f,#ff6e6e,#ff6d6d,#ff6d6d,#ff6c6c,#ff6b6b,#ff6b6b,#ff6a6a,#ff6969,#ff6868,#ff6767,#ff6666,#ff6565,#ff6464,#ff6262,#ff6161,#ff5f5f,#ff5e5e,#ff5c5c,#ff5a5a,#ff5858,#ff5656,#ff5454,#ff5151,#ff4f4f,#ff4c4c,#ff4949,#ff4545,#ff4242,#ff4040,#ff3d3d,#ff3b3b,#ff3a3a,#ff3a3a,#ff3a3a,#ff3b3b,#ff3d3d,#ff4141,#ff4646,#ff4c4c,#ff5353,#ff5d5d,#ff6767)"></div>
<div style="background:linear-gradient(90deg,#ffb6b6,#ffb4b4,#ffb2b2,#ffb0b0,#ffadad,#ffaaaa,#ffa7a7,#ffa4a4,#ffa1a1,#ff9e9e,#ff9a9a,#ff9797,#ff9494,#ff9090,#ff8d8d,#ff8a8a,#ff8787,#ff8585,#ff8282,#ff8080,#ff7d7d,#ff7b7b,#ff7a7a,#ff7878,#ff7676,#ff7575,#ff7474,#ff7373,#ff7272,#ff7171,#ff7070,#ff6f6f,#ff6e6e,#ff6d6d,#ff6d6d,#ff6c6c,#ff6b6b,#ff6a6a,#ff6969,#ff6868,#ff6767,#ff6666,#ff6565,#ff6363,#ff6262,#ff6060,#ff5f5f,#ff5d5d,#ff5b5b,#ff5858,#ff5656,#ff5353,#ff5151,#ff4e4e,#ff4a4a,#ff4747,#ff4444,#ff4242,#ff3f3f,#ff3d3d,#ff3c3c,#ff3c3c,#ff3c3c,#ff3d3d,#ff3f3f,#ff4343,#ff4747,#ff4d4d,#ff5555,#ff5e5e,#ff6868)"></div>
<div style="background:linear-gradient(90deg,#ffb9b9,#ffb7b7,#ffb5b5,#ffb3b3,#ffb0b0,#ffadad,#ffaaaa,#ffa7a7,#ffa4a4,#ffa1a1,#ff9e9e,#ff9a9a,#ff9797,#ff9494,#ff9191,#ff8e8e,#ff8b8b,#ff8888,#ff8585,#ff8383,#ff8181,#ff7f7f,#ff7d7d,#ff7b7b,#ff7979,#ff7878,#ff7777,#ff7575,#ff7474,#ff7373,#ff7272,#ff7171,#ff7070,#ff7070,#ff6f6f,#ff6e6e,#ff6d6d,#ff6c6c,#ff6b6b,#ff6a6a,#ff6969,#ff6868,#ff6767,#ff6666,#ff6464,#ff6363,#ff6161,#ff5f5f,#ff5d5d,#ff5b5b,#ff5858,#ff5555,#ff5252,#ff4f4f,#ff4c4c,#ff4949,#ff4646,#ff4343,#ff4141,#ff3f3f,#ff3e3e,#ff3d3d,#ff3e3e,#ff3f3f,#ff4141,#ff4545,#ff4949,#ff4f4f,#ff5757,#ff6060,#ff6a6a)"></div>
<div style="background:linear-gradient(90deg,#ffbbbb,#ffbaba,#ffb8b8,#ffb6b6,#ffb3b3,#ffb0b0,#ffaeae,#ffabab,#ffa7a7,#ffa4a4,#ffa1a1,#ff9e9e,#ff9a9a,#ff9797,#ff9494,#ff9191,#ff8e8e,#ff8b8b,#ff8989,#ff8686,#ff8484,#ff8282,#ff8080,#ff7e7e,#ff7c7c,#ff7b7b,#ff7979,#ff7878,#ff7777,#ff7676,#ff7474,#ff7373,#ff7272,#ff7171,#ff7171,#ff7070,#ff6f6f,#ff6e6e,#ff6d6d,#ff6c6c,#ff6c6c,#ff6b6b,#ff6969,#ff6868,#ff6767,#ff6565,#ff6363,#ff6161,#ff5f5f,#ff5d5d,#ff5a5a,#ff5757,#ff5454,#ff5151,#ff4e4e,#ff4b4b,#ff4848,#ff4545,#ff4343,#ff4141,#ff4040,#ff3f3f,#ff4040,#ff4141,#ff4343,#ff4747,#ff4b4b,#ff5151,#ff5959,#ff6262,#ff6c6c)"></div>
<div style="background:linear-gradient(90deg,#ffbebe,#ffbdbd,#ffbbbb,#ffb9b9,#ffb6b6,#ffb4b4,#ffb1b1,#ffaeae,#ffabab,#ffa8a8,#ffa4a4,#ffa1a1,#ff9e9e,#ff9b9b,#ff9797,#ff9494,#ff9191,#ff8f8f,#ff8c8c,#ff8a8a,#ff8787,#ff8585,#ff8383,#ff8181,#ff8080,#ff7e7e,#ff7c7c,#ff7b7b,#ff7979,#ff7878,#ff7777,#ff7575,#ff7474,#ff7373,#ff7272,#ff7171,#ff7171,#ff7070,#ff6f6f,#ff6e6e,#ff6e6e,#ff6d6d,#ff6c6c,#ff6a6a,#ff6969,#ff6767,#ff6565,#ff6363,#ff6161,#ff5f5f,#ff5c5c,#ff5959,#ff5656,#ff5353,#ff5050,#ff4d4d,#ff4a4a,#ff4747,#ff4545,#ff4343,#ff4242,#ff4141,#ff4242,#ff4343,#ff4545,#ff4949,#ff4d4d,#ff5353,#ff5b5b,#ff6363,#ff6d6d)"></div>
<div style="background:linear-gradient(90deg,#ffc0c0,#ffbfbf,#ffbdbd,#ffbbbb,#ffb9b9,#ffb7b7,#ffb4b4,#ffb1b1,#ffaeae,#ffabab,#ffa8a8,#ffa5a5,#ffa1a1,#ff9e9e,#ff9b9b,#ff9898,#ff9595,#ff9292,#ff8f8f,#ff8d8d,#ff8b8b,#ff8888,#ff8686,#ff8484,#ff8383,#ff8181,#ff7f7f,#ff7d7d,#ff7c7c,#ff7a7a,#ff7979,#ff7878,#ff7676,#ff7575,#ff7474,#ff7373,#ff7272,#ff7272,#ff7171,#ff7070,#ff7070,#ff6f6f,#ff6e6e,#ff6d6d,#ff6b6b,#ff6a6a,#ff6868,#ff6565,#ff6363,#ff6161,#ff5e5e,#ff5b5b,#ff5858,#ff5555,#ff5252,#ff4f4f,#ff4c4c,#ff4949,#ff4747,#ff4545,#ff4444,#ff4343,#ff4444,#ff4545,#ff4747,#ff4b4b,#ff4f4f,#ff5555,#ff5c5c,#ff6565,#ff6f6f)"></div>
<div style="background:linear-gradient(90deg,#ffc3c3,#ffc2c2,#ffc0c0,#ffbebe,#ffbcbc,#ffbaba,#ffb7b7,#ffb4b4,#ffb1b1,#ffaeae,#ffabab,#ffa8a8,#ffa5a5,#ffa2a2,#ff9e9e,#ff9b9b,#ff9898,#ff9696,#ff9393,#ff9090,#ff8e8e,#ff8c8c,#ff8a8a,#ff8888,#ff8686,#ff8484,#ff8282,#ff8080,#ff7e7e,#ff7d7d,#ff7b7b,#ff7a7a,#ff7878,#ff7777,#ff7676,#ff7575,#ff7474,#ff7373,#ff7373,#ff7272,#ff7272,#ff7171,#ff7070,#ff6f6f,#ff6d6d,#ff6c6c,#ff6a6a,#ff6868,#ff6565,#ff6363,#ff6060,#ff5d5d,#ff5a5a,#ff5757,#ff5454,#ff5050,#ff4e4e,#ff4b4b,#ff4949,#ff4747,#ff4646,#ff4545,#ff4646,#ff4747,#ff4949,#ff4d4d,#ff5151,#ff5757,#ff5e5e,#ff6767,#ff7070)"></div>
<div style="background:linear-gradient(90deg,#ffc5c5,#ffc4c4,#ffc3c3,#ffc1c1,#ffbfbf,#ffbdbd,#ffbaba,#ffb7b7,#ffb4b4,#ffb2b2,#ffaeae,#ffabab,#ffa8a8,#ffa5a5,#ffa2a2,#ff9f9f,#ff9c9c,#ff9999,#ff9696,#ff9494,#ff9191,#ff8f8f,#ff8d8d,#ff8b8b,#ff8989,#ff8787,#ff8585,#ff8383,#ff8181,#ff7f7f,#ff7d7d,#ff7c7c,#ff7a7a,#ff7979,#ff7878,#ff7777,#ff7676,#ff7575,#ff7575,#ff7474,#ff7474,#ff7373,#ff7272,#ff7171,#ff7070,#ff6e6e,#ff6c6c,#ff6a6a,#ff6767,#ff6565,#ff6262,#ff5f5f,#ff5c5c,#ff5959,#ff5555,#ff5252,#ff5050,#ff4d4d,#ff4b4b,#ff4949,#ff4848,#ff4848,#ff4848,#ff4949,#ff4b4b,#ff4f4f,#ff5353,#ff5959,#ff6060,#ff6969,#ff7272)"></div>
<div style="background:linear-gradient(90deg,#ffc7c7,#ffc6c6,#ffc5c5,#ffc3c3,#ffc2c2,#ffbfbf,#ffbdbd,#ffbaba,#ffb8b8,#ffb5b5,#ffb2b2,#ffafaf,#ffacac,#ffa9a9,#ffa5a5,#ffa2a2,#ff9f9f,#ff9c9c,#ff9a9a,#ff9797,#ff9595,#ff9292,#ff9090,#ff8e8e,#ff8c8c,#ff8989,#ff8787,#ff8585,#ff8383,#ff8181,#ff7f7f,#ff7e7e,#ff7c7c,#ff7b7b,#ff7979,#ff7878,#ff7878,#ff7777,#ff7777,#ff7676,#ff7676,#ff7575,#ff7474,#ff7373,#ff7272,#ff7070,#ff6e6e,#ff6c6c,#ff6a6a,#ff6767,#ff6464,#ff6161,#ff5e5e,#ff5b5b,#ff5858,#ff5555,#ff5252,#ff4f4f,#ff4d4d,#ff4b4b,#ff4a4a,#ff4a4a,#ff4a4a,#ff4c4c,#ff4e4e,#ff5151,#ff5555,#ff5b5b,#ff6262,#ff6b6b,#ff7474)"></div>
<div style="background:linear-gradient(90deg,#ffc9c9,#ffc9c9,#ffc8c8,#ffc6c6,#ffc4c4,#ffc2c2,#ffc0c0,#ffbdbd,#ffbbbb,#ffb8b8,#ffb5b5,#ffb2b2,#ffafaf,#ffacac,#ffa9a9,#ffa6a6,#ffa3a3,#ffa0a0,#ff9d9d,#ff9a9a,#ff9898,#ff9595,#ff9393,#ff9191,#ff8f8f,#ff8c8c,#ff8a8a,#ff8888,#ff8686,#ff8484,#ff8282,#ff8080,#ff7e7e,#ff7c7c,#ff7b7b,#ff7a7a,#ff7979,#ff7979,#ff7979,#ff7878,#ff7878,#ff7777,#ff7777,#ff7676,#ff7474,#ff7373,#ff7171,#ff6e6e,#ff6c6c,#ff6969,#ff6666,#ff6363,#ff6060,#ff5d5d,#ff5a5a,#ff5757,#ff5454,#ff5252,#ff4f4f,#ff4e4e,#ff4d4d,#ff4c4c,#ff4d4d,#ff4e4e,#ff5050,#ff5353,#ff5858,#ff5d5d,#ff6464,#ff6c6c,#ff7575)"></div>
<div style="background:linear-gradient(90deg,#ffcccc,#ffcbcb,#ffcaca,#ffc8c8,#ffc7c7,#ffc5c5,#ffc3c3,#ffc0c0,#ffbebe,#ffbbbb,#ffb8b8,#ffb5b5,#ffb2b2,#ffafaf,#ffacac,#ffa9a9,#ffa6a6,#ffa3a3,#ffa0a0,#ff9e9e,#ff9b9b,#ff9999,#ff9696,#ff9494,#ff9191,#ff8f8f,#ff8d8d,#ff8a8a,#ff8888,#ff8686,#ff8484,#ff8282,#ff8080,#ff7e7e,#ff7d7d,#ff7c7c,#ff7b7b,#ff7b7b,#ff7b7b,#ff7a7a,#ff7a7a,#ff7979,#ff7979,#ff7878,#ff7777,#ff7575,#ff7373,#ff7171,#ff6e6e,#ff6c6c,#ff6969,#ff6666,#ff6363,#ff5f5f,#ff5c5c,#ff5959,#ff5757,#ff5454,#ff5252,#ff5050,#ff4f4f,#ff4f4f,#ff4f4f,#ff5050,#ff5353,#ff5656,#ff5a5a,#ff5f5f,#ff6666,#ff6e6e,#ff7777)"></div>
<div style="background:linear-gradient(90deg,#ffcece,#ffcdcd,#ffcccc,#ffcbcb,#ffc9c9,#ffc7c7,#ffc5c5,#ffc3c3,#ffc1c1,#ffbebe,#ffbbbb,#ffb8b8,#ffb5b5,#ffb2b2,#ffafaf,#ffacac,#ffa9a9,#ffa7a7,#ffa4a4,#ffa1a1,#ff9e9e,#ff9c9c,#ff9999,#ff9797,#ff9494,#ff9292,#ff8f8f,#ff8d8d,#ff8b8b,#ff8888,#ff8686,#ff8484,#ff8282,#ff8181,#ff7f7f,#ff7e7e,#ff7d7d,#ff7d7d,#ff7d7d,#ff7c7c,#ff7c7c,#ff7c7c,#ff7b7b,#ff7a7a,#ff7979,#ff7777,#ff7676,#ff7373,#ff7171,#ff6e6e,#ff6b6b,#ff6868,#ff6565,#ff6262,#ff5f5f,#ff5c5c,#ff5959,#ff5757,#ff5555,#ff5353,#ff5252,#ff5252,#ff5252,#ff5353,#ff5555,#ff5858,#ff5c5c,#ff6262,#ff6868,#ff7070,#ff7979)"></div>
<div style="background:linear-gradient(90deg,#ffd0d0,#ffcfcf,#ffcece,#ffcdcd,#ffcccc,#ffcaca,#ffc8c8,#ffc6c6,#ffc3c3,#ffc1c1,#ffbebe,#ffbbbb,#ffb8b8,#ffb5b5,#ffb3b3,#ffb0b0,#ffadad,#ffaaaa,#ffa7a7,#ffa4a4,#ffa1a1,#ff9f9f,#ff9c9c,#ff9a9a,#ff9797,#ff9595,#ff9292,#ff9090,#ff8d8d,#ff8b8b,#ff8989,#ff8686,#ff8484,#ff8383,#ff8181,#ff8080,#ff8080,#ff7f7f,#ff7f7f,#ff7f7f,#ff7e7e,#ff7e7e,#ff7e7e,#ff7d7d,#ff7c7c,#ff7a7a,#ff7878,#ff7676,#ff7474,#ff7171,#ff6e6e,#ff6b6b,#ff6868,#ff6565,#ff6262,#ff5f5f,#ff5c5c,#ff5a5a,#ff5858,#ff5656,#ff5555,#ff5555,#ff5555,#ff5656,#ff5858,#ff5b5b,#ff5f5f,#ff6464,#ff6b6b,#ff7272,#ff7b7b)"></div>
<div style="background:linear-gradient(90deg,#ffd2d2,#ffd1d1,#ffd0d0,#ffcfcf,#ffcece,#ffcccc,#ffcaca,#ffc8c8,#ffc6c6,#ffc3c3,#ffc1c1,#ffbebe,#ffbbbb,#ffb8b8,#ffb6b6,#ffb3b3,#ffb0b0,#ffadad,#ffaaaa,#ffa7a7,#ffa4a4,#ffa2a2,#ff9f9f,#ff9c9c,#ff9a9a,#ff9797,#ff9595,#ff9292,#ff9090,#ff8d8d,#ff8b8b,#ff8989,#ff8787,#ff8585,#ff8484,#ff8383,#ff8282,#ff8282,#ff8181,#ff8181,#ff8181,#ff8181,#ff8080,#ff7f7f,#ff7e7e,#ff7d7d,#ff7b7b,#ff7979,#ff7676,#ff7474,#ff7171,#ff6e6e,#ff6b6b,#ff6868,#ff6565,#ff6262,#ff5f5f,#ff5d5d,#ff5b5b,#ff5959,#ff5858,#ff5858,#ff5858,#ff5959,#ff5b5b,#ff5e5e,#ff6262,#ff6767,#ff6d6d,#ff7474,#ff7d7d)"></div>
<div style="background:linear-gradient(90deg,#ffd4d4,#ffd3d3,#ffd2d2,#ffd1d1,#ffd0d0,#ffcfcf,#ffcdcd,#ffcbcb,#ffc8c8,#ffc6c6,#ffc4c4,#ffc1c1,#ffbebe,#ffbbbb,#ffb8b8,#ffb5b5,#ffb3b3,#ffb0b0,#ffadad,#ffaaaa,#ffa7a7,#ffa4a4,#ffa2a2,#ff9f9f,#ff9d9d,#ff9a9a,#ff9797,#ff9595,#ff9292,#ff9090,#ff8e8e,#ff8c8c,#ff8a8a,#ff8888,#ff8787,#ff8686,#ff8585,#ff8484,#ff8484,#ff8484,#ff8484,#ff8383,#ff8383,#ff8282,#ff8181,#ff7f7f,#ff7e7e,#ff7c7c,#ff7979,#ff7777,#ff7474,#ff7272,#ff6f6f,#ff6c6c,#ff6969,#ff6666,#ff6363,#ff6161,#ff5e5e,#ff5d5d,#ff5c5c,#ff5b5b,#ff5b5b,#ff5c5c,#ff5e5e,#ff6161,#ff6464,#ff6969,#ff6f6f,#ff7777,#ff7f7f)"></div>
<div style="background:linear-gradient(90deg,#ffd5d5,#ffd5d5,#ffd4d4,#ffd3d3,#ffd2d2,#ffd1d1,#ffcfcf,#ffcdcd,#ffcbcb,#ffc8c8,#ffc6c6,#ffc3c3,#ffc1c1,#ffbebe,#ffbbbb,#ffb8b8,#ffb5b5,#ffb2b2,#ffb0b0,#ffadad,#ffaaaa,#ffa7a7,#ffa4a4,#ffa2a2,#ff9f9f,#ff9d9d,#ff9a9a,#ff9797,#ff9595,#ff9393,#ff9090,#ff8e8e,#ff8d8d,#ff8b8b,#ff8a8a,#ff8989,#ff8888,#ff8787,#ff8787,#ff8787,#ff8686,#ff8686,#ff8585,#ff8585,#ff8484,#ff8282,#ff8181,#ff7f7f,#ff7d7d,#ff7a7a,#ff7878,#ff7575,#ff7272,#ff6f6f,#ff6d6d,#ff6a6a,#ff6767,#ff6464,#ff6262,#ff6060,#ff5f5f,#ff5f5f,#ff5f5f,#ff5f5f,#ff6161,#ff6464,#ff6767,#ff6c6c,#ff7272,#ff7979,#ff8181)"></div>
<div style="background:linear-gradient(90deg,#ffd7d7,#ffd7d7,#ffd6d6,#ffd5d5,#ffd4d4,#ffd3d3,#ffd1d1,#ffcfcf,#ffcdcd,#ffcbcb,#ffc8c8,#ffc6c6,#ffc3c3,#ffc0c0,#ffbebe,#ffbbbb,#ffb8b8,#ffb5b5,#ffb2b2,#ffafaf,#ffadad,#ffaaaa,#ffa7a7,#ffa4a4,#ffa2a2,#ff9f9f,#ff9d9d,#ff9a9a,#ff9898,#ff9696,#ff9393,#ff9191,#ff9090,#ff8e8e,#ff8d8d,#ff8c8c,#ff8b8b,#ff8a8a,#ff8a8a,#ff8a8a,#ff8989,#ff8989,#ff8888,#ff8888,#ff8787,#ff8585,#ff8484,#ff8282,#ff8080,#ff7e7e,#ff7c7c,#ff7979,#ff7777,#ff7474,#ff7171,#ff6e6e,#ff6b6b,#ff6969,#ff6666,#ff6565,#ff6363,#ff6262,#ff6262,#ff6363,#ff6464,#ff6767,#ff6a6a,#ff6f6f,#ff7474,#ff7b7b,#ff8383)"></div>
<div style="background:linear-gradient(90deg,#ffd9d9,#ffd8d8,#ffd8d8,#ffd7d7,#ffd6d6,#ffd4d4,#ffd2d2,#ffd1d1,#ffcece,#ffcccc,#ffcaca,#ffc7c7,#ffc5c5,#ffc2c2,#ffbfbf,#ffbdbd,#ffbaba,#ffb7b7,#ffb4b4,#ffb1b1,#ffaeae,#ffacac,#ffa9a9,#ffa6a6,#ffa4a4,#ffa1a1,#ff9f9f,#ff9c9c,#ff9a9a,#ff9898,#ff9696,#ff9494,#ff9292,#ff9191,#ff9090,#ff8f8f,#ff8e8e,#ff8d8d,#ff8d8d,#ff8c8c,#ff8c8c,#ff8b8b,#ff8b8b,#ff8a8a,#ff8989,#ff8888,#ff8686,#ff8585,#ff8383,#ff8181,#ff7f7f,#ff7c7c,#ff7a7a,#ff7777,#ff7474,#ff7171,#ff6f6f,#ff6c6c,#ff6a6a,#ff6868,#ff6666,#ff6565,#ff6565,#ff6666,#ff6767,#ff6969,#ff6c6c,#ff7171,#ff7676,#ff7d7d,#ff8585)"></div>
</div>
<div class="hm" style="left:48px;top:326px;width:243px;height:243px">
<div style="background:linear-gradient(90deg,#ff4747,#ff4444,#ff4141,#ff3e3e,#ff3c3c,#ff3a3a,#ff3838,#ff3636,#ff3535,#ff3333,#ff3232,#ff3131,#ff3030,#ff2e2e,#ff2d2d,#ff2c2c,#ff2b2b,#ff2a2a,#ff2828,#ff2626,#ff2525,#ff2323,#ff2121,#ff1f1f,#ff1d1d,#ff1b1b,#ff1a1a,#ff1818,#ff1717,#ff1515,#ff1414,#ff1313,#ff1212,#ff1111,#ff1010,#ff0f0f,#ff0e0e,#ff0d0d,#ff0c0c,#ff0c0c,#ff0b0b,#ff0a0a,#ff0a0a,#ff0a0a,#ff0a0a,#ff0b0b,#ff0b0b,#ff0c0c,#ff0d0d,#ff0d0d,#ff0e0e,#ff0f0f,#ff0f0f,#ff1010,#ff1010,#ff1111,#ff1212,#ff1313,#ff1414,#ff1616,#ff1818,#ff1b1b,#ff1e1e,#ff2222,#ff2626,#ff2a2a,#ff2f2f,#ff3434,#ff3a3a,#ff4040)"></div>
<div style="background:linear-gradient(90deg,#ff4848,#ff4545,#ff4242,#ff3f3f,#ff3d3d,#ff3a3a,#ff3838,#ff3737,#ff3535,#ff3333,#ff3232,#ff3131,#ff2f2f,#ff2e2e,#ff2d2d,#ff2b2b,#ff2a2a,#ff2828,#ff2727,#ff2525,#ff2323,#ff2121,#ff1f1f,#ff1d1d,#ff1c1c,#ff1a1a,#ff1818,#ff1717,#ff1616,#ff1414,#ff1313,#ff1212,#ff1111,#ff1010,#ff0f0f,#ff0e0e,#ff0e0e,#ff0d0d,#ff0c0c,#ff0b0b,#ff0a0a,#ff0a0a,#ff0909,#ff0909,#ff0909,#ff0a0a,#ff0a0a,#ff0b0b,#ff0c0c,#ff0d0d,#ff0d0d,#ff0e0e,#ff0e0e,#ff0e0e,#ff0e0e,#ff0e0e,#ff0e0e,#ff0f0f,#ff1010,#ff1212,#ff1515,#ff1919,#ff1e1e,#ff2323,#ff2929,#ff2f2f,#ff3535,#ff3b3b,#ff4040,#ff4444)"></div>
<div style="background:linear-gradient(90deg,#ff4848,#ff4646,#ff4343,#ff4040,#ff3d3d,#ff3b3b,#ff3939,#ff3737,#ff3535,#ff3434,#ff3232,#ff3131,#ff2f2f,#ff2e2e,#ff2c2c,#ff2b2b,#ff2929,#ff2727,#ff2626,#ff2424,#ff2222,#ff2020,#ff1e1e,#ff1c1c,#ff1b1b,#ff1919,#ff1717,#ff1616,#ff1515,#ff1414,#ff1313,#ff1212,#ff1111,#ff1010,#ff0f0f,#ff0e0e,#ff0d0d,#ff0c0c,#ff0b0b,#ff0a0a,#ff0a0a,#ff0909,#ff0909,#ff0909,#ff0909,#ff0909,#ff0a0a,#ff0b0b,#ff0b0b,#ff0c0c,#ff0c0c,#ff0d0d,#ff0d0d,#ff0d0d,#ff0c0c,#ff0c0c,#ff0c0c,#ff0d0d,#ff0e0e,#ff1010,#ff1414,#ff1818,#ff1e1e,#ff2525,#ff2c2c,#ff3434,#ff3b3b,#ff4141,#ff4646,#ff4a4a)"></div>
<div style="background:linear-gradient(90deg,#ff4949,#ff4646,#ff4444,#ff4141,#ff3e3e,#ff3c3c,#ff3a3a,#ff3838,#ff3636,#ff3434,#ff3232,#ff3131,#ff2f2f,#ff2d2d,#ff2c2c,#ff2a2a,#ff2828,#ff2727,#ff2525,#ff2323,#ff2121,#ff1f1f,#ff1d1d,#ff1c1c,#ff1a1a,#ff1818,#ff1717,#ff1515,#ff1414,#ff1313,#ff1212,#ff1111,#ff1111,#ff1010,#ff0f0f,#ff0e0e,#ff0d0d,#ff0c0c,#ff0b0b,#ff0a0a,#ff0909,#ff0909,#ff0808,#ff0808,#ff0808,#ff0909,#ff0909,#ff0a0a,#ff0b0b,#ff0b0b,#ff0c0c,#ff0c0c,#ff0c0c,#ff0c0c,#ff0b0b,#ff0b0b,#ff0b0b,#ff0c0c,#ff0d0d,#ff1010,#ff1414,#ff1919,#ff2020,#ff2727,#ff2f2f,#ff3838,#ff3f3f,#ff4646,#ff4c4c,#ff5151)"></div>
<div style="background:linear-gradient(90deg,#ff4a4a,#ff4747,#ff4444,#ff4242,#ff3f3f,#ff3d3d,#ff3b3b,#ff3939,#ff3737,#ff3535,#ff3333,#ff3131,#ff2f2f,#ff2d2d,#ff2c2c,#ff2a2a,#ff2828,#ff2626,#ff2424,#ff2222,#ff2121,#ff1f1f,#ff1d1d,#ff1b1b,#ff1919,#ff1818,#ff1616,#ff1515,#ff1414,#ff1313,#ff1212,#ff1111,#ff1010,#ff0f0f,#ff0f0f,#ff0e0e,#ff0d0d,#ff0c0c,#ff0b0b,#ff0a0a,#ff0909,#ff0808,#ff0808,#ff0808,#ff0808,#ff0808,#ff0909,#ff0909,#ff0a0a,#ff0b0b,#ff0b0b,#ff0b0b,#ff0b0b,#ff0b0b,#ff0b0b,#ff0b0b,#ff0b0b,#ff0c0c,#ff0e0e,#ff1111,#ff1515,#ff1b1b,#ff2222,#ff2a2a,#ff3333,#ff3b3b,#ff4444,#ff4c4c,#ff5353,#ff5959)"></div>
<div style="background:linear-gradient(90deg,#ff4b4b,#ff4848,#ff4545,#ff4343,#ff4141,#ff3e3e,#ff3c3c,#ff3a3a,#ff3838,#ff3636,#ff3434,#ff3232,#ff3030,#ff2e2e,#ff2c2c,#ff2a2a,#ff2828,#ff2626,#ff2424,#ff2222,#ff2020,#ff1e1e,#ff1c1c,#ff1b1b,#ff1919,#ff1717,#ff1616,#ff1515,#ff1414,#ff1313,#ff1212,#ff1111,#ff1010,#ff0f0f,#ff0e0e,#ff0e0e,#ff0d0d,#ff0c0c,#ff0b0b,#ff0a0a,#ff0909,#ff0808,#ff0808,#ff0707,#ff0808,#ff0808,#ff0808,#ff0909,#ff0a0a,#ff0a0a,#ff0b0b,#ff0b0b,#ff0b0b,#ff0b0b,#ff0b0b,#ff0b0b,#ff0c0c,#ff0e0e,#ff1010,#ff1414,#ff1818,#ff1e1e,#ff2525,#ff2d2d,#ff3636,#ff3f3f,#ff4848,#ff5151,#ff5a5a,#ff6262)"></div>
<div style="background:linear-gradient(90deg,#ff4b4b,#ff4949,#ff4747,#ff4444,#ff4242,#ff3f3f,#ff3d3d,#ff3b3b,#ff3939,#ff3737,#ff3434,#ff3232,#ff3030,#ff2e2e,#ff2c2c,#ff2a2a,#ff2828,#ff2626,#ff2424,#ff2222,#ff2020,#ff1e1e,#ff1c1c,#ff1b1b,#ff1919,#ff1818,#ff1616,#ff1515,#ff1414,#ff1313,#ff1212,#ff1111,#ff1010,#ff0f0f,#ff0e0e,#ff0e0e,#ff0d0d,#ff0c0c,#ff0b0b,#ff0a0a,#ff0909,#ff0808,#ff0808,#ff0707,#ff0707,#ff0808,#ff0808,#ff0909,#ff0909,#ff0a0a,#ff0a0a,#ff0b0b,#ff0b0b,#ff0b0b,#ff0c0c,#ff0c0c,#ff0e0e,#ff1010,#ff1313,#ff1717,#ff1c1c,#ff2222,#ff2929,#ff3131,#ff3a3a,#ff4343,#ff4d4d,#ff5858,#ff6262,#ff6d6d)"></div>
<div style="background:linear-gradient(90deg,#ff4c4c,#ff4a4a,#ff4848,#ff4545,#ff4343,#ff4141,#ff3e3e,#ff3c3c,#ff3a3a,#ff3838,#ff3535,#ff3333,#ff3131,#ff2f2f,#ff2d2d,#ff2b2b,#ff2929,#ff2626,#ff2424,#ff2222,#ff2020,#ff1f1f,#ff1d1d,#ff1b1b,#ff1919,#ff1818,#ff1616,#ff1515,#ff1414,#ff1313,#ff1212,#ff1111,#ff1010,#ff0f0f,#ff0e0e,#ff0e0e,#ff0d0d,#ff0c0c,#ff0b0b,#ff0a0a,#ff0909,#ff0808,#ff0808,#ff0808,#ff0808,#ff0808,#ff0808,#ff0808,#ff0909,#ff0909,#ff0a0a,#ff0b0b,#ff0b0b,#ff0c0c,#ff0d0d,#ff0e0e,#ff1010,#ff1313,#ff1717,#ff1b1b,#ff2121,#ff2727,#ff2e2e,#ff3636,#ff3f3f,#ff4848,#ff5353,#ff5f5f,#ff6b6b,#ff7979)"></div>
<div style="background:linear-gradient(90deg,#ff4d4d,#ff4b4b,#ff4949,#ff4747,#ff4444,#ff4242,#ff4040,#ff3d3d,#ff3b3b,#ff3939,#ff3636,#ff3434,#ff3232,#ff3030,#ff2d2d,#ff2b2b,#ff2929,#ff2727,#ff2525,#ff2323,#ff2121,#ff1f1f,#ff1d1d,#ff1b1b,#ff1a1a,#ff1818,#ff1717,#ff1616,#ff1414,#ff1313,#ff1212,#ff1111,#ff1010,#ff1010,#ff0f0f,#ff0e0e,#ff0d0d,#ff0c0c,#ff0b0b,#ff0a0a,#ff0909,#ff0909,#ff0808,#ff0808,#ff0808,#ff0808,#ff0808,#ff0808,#ff0909,#ff0909,#ff0a0a,#ff0b0b,#ff0c0c,#ff0d0d,#ff0f0f,#ff1111,#ff1313,#ff1717,#ff1b1b,#ff2121,#ff2626,#ff2c2c,#ff3333,#ff3b3b,#ff4444,#ff4e4e,#ff5959,#ff6767,#ff7676,#ff8787)"></div>
<div style="background:linear-gradient(90deg,#ff4f4f,#ff4d4d,#ff4a4a,#ff4848,#ff4646,#ff4343,#ff4141,#ff3f3f,#ff3c3c,#ff3a3a,#ff3838,#ff3535,#ff3333,#ff3131,#ff2e2e,#ff2c2c,#ff2a2a,#ff2828,#ff2626,#ff2323,#ff2222,#ff2020,#ff1e1e,#ff1c1c,#ff1a1a,#ff1919,#ff1717,#ff1616,#ff1515,#ff1414,#ff1313,#ff1212,#ff1111,#ff1010,#ff0f0f,#ff0e0e,#ff0d0d,#ff0c0c,#ff0b0b,#ff0b0b,#ff0a0a,#ff0909,#ff0909,#ff0808,#ff0808,#ff0808,#ff0808,#ff0808,#ff0909,#ff0a0a,#ff0a0a,#ff0c0c,#ff0d0d,#ff0f0f,#ff1111,#ff1414,#ff1717,#ff1b1b,#ff2020,#ff2626,#ff2c2c,#ff3232,#ff3939,#ff4141,#ff4a4a,#ff5555,#ff6161,#ff7070,#ff8181,#ff9696)"></div>
<div style="background:linear-gradient(90deg,#ff5050,#ff4e4e,#ff4c4c,#ff4949,#ff4747,#ff4545,#ff4343,#ff4040,#ff3e3e,#ff3b3b,#ff3939,#ff3636,#ff3434,#ff3232,#ff2f2f,#ff2d2d,#ff2b2b,#ff2929,#ff2626,#ff2424,#ff2222,#ff2020,#ff1f1f,#ff1d1d,#ff1b1b,#ff1a1a,#ff1818,#ff1717,#ff1616,#ff1414,#ff1313,#ff1212,#ff1111,#ff1010,#ff0f0f,#ff0e0e,#ff0d0d,#ff0d0d,#ff0c0c,#ff0b0b,#ff0b0b,#ff0a0a,#ff0909,#ff0909,#ff0909,#ff0909,#ff0909,#ff0909,#ff0909,#ff0a0a,#ff0b0b,#ff0d0d,#ff0e0e,#ff1111,#ff1414,#ff1717,#ff1b1b,#ff2020,#ff2626,#ff2c2c,#ff3232,#ff3939,#ff4040,#ff4848,#ff5151,#ff5d5d,#ff6a6a,#ff7b7b,#ff8f8f,#ffa7a7)"></div>
<div style="background:linear-gradient(90deg,#ff5151,#ff4f4f,#ff4d4d,#ff4b4b,#ff4949,#ff4646,#ff4444,#ff4242,#ff3f3f,#ff3d3d,#ff3a3a,#ff3838,#ff3535,#ff3333,#ff3030,#ff2e2e,#ff2c2c,#ff2a2a,#ff2727,#ff2525,#ff2323,#ff2121,#ff2020,#ff1e1e,#ff1c1c,#ff1b1b,#ff1919,#ff1818,#ff1616,#ff1515,#ff1414,#ff1313,#ff1212,#ff1111,#ff1010,#ff0f0f,#ff0e0e,#ff0d0d,#ff0d0d,#ff0c0c,#ff0b0b,#ff0b0b,#ff0a0a,#ff0a0a,#ff0909,#ff0909,#ff0909,#ff0909,#ff0a0a,#ff0b0b,#ff0c0c,#ff0e0e,#ff1010,#ff1313,#ff1717,#ff1b1b,#ff2020,#ff2525,#ff2b2b,#ff3232,#ff3939,#ff3f3f,#ff4747,#ff4f4f,#ff5a5a,#ff6666,#ff7575,#ff8888,#ff9e9e,#ffb9b9)"></div>
<div style="background:linear-gradient(90deg,#ff5252,#ff5151,#ff4f4f,#ff4c4c,#ff4a4a,#ff4848,#ff4646,#ff4343,#ff4141,#ff3e3e,#ff3c3c,#ff3939,#ff3737,#ff3434,#ff3232,#ff2f2f,#ff2d2d,#ff2b2b,#ff2929,#ff2626,#ff2525,#ff2323,#ff2121,#ff1f1f,#ff1d1d,#ff1c1c,#ff1a1a,#ff1919,#ff1717,#ff1616,#ff1515,#ff1313,#ff1212,#ff1111,#ff1010,#ff0f0f,#ff0f0f,#ff0e0e,#ff0d0d,#ff0d0d,#ff0c0c,#ff0c0c,#ff0b0b,#ff0b0b,#ff0a0a,#ff0a0a,#ff0a0a,#ff0a0a,#ff0b0b,#ff0c0c,#ff0d0d,#ff0f0f,#ff1212,#ff1616,#ff1a1a,#ff1f1f,#ff2424,#ff2a2a,#ff3131,#ff3737,#ff3f3f,#ff4646,#ff4f4f,#ff5858,#ff6464,#ff7272,#ff8383,#ff9797,#ffb0b0,#ffcdcd)"></div>
<div style="background:linear-gradient(90deg,#ff5454,#ff5252,#ff5050,#ff4e4e,#ff4c4c,#ff4949,#ff4747,#ff4545,#ff4242,#ff4040,#ff3d3d,#ff3b3b,#ff3838,#ff3636,#ff3333,#ff3131,#ff2e2e,#ff2c2c,#ff2a2a,#ff2828,#ff2626,#ff2424,#ff2222,#ff2020,#ff1f1f,#ff1d1d,#ff1b1b,#ff1a1a,#ff1818,#ff1717,#ff1515,#ff1414,#ff1313,#ff1212,#ff1111,#ff1010,#ff0f0f,#ff0f0f,#ff0e0e,#ff0e0e,#ff0d0d,#ff0d0d,#ff0c0c,#ff0c0c,#ff0c0c,#ff0b0b,#ff0b0b,#ff0b0b,#ff0c0c,#ff0d0d,#ff0f0f,#ff1111,#ff1515,#ff1919,#ff1e1e,#ff2323,#ff2929,#ff2f2f,#ff3636,#ff3d3d,#ff4545,#ff4d4d,#ff5757,#ff6262,#ff6f6f,#ff7f7f,#ff9292,#ffa8a8,#ffc3c3,#ffe3e3)"></div>
<div style="background:linear-gradient(90deg,#ff5555,#ff5353,#ff5252,#ff5050,#ff4d4d,#ff4b4b,#ff4949,#ff4646,#ff4444,#ff4141,#ff3f3f,#ff3c3c,#ff3a3a,#ff3737,#ff3535,#ff3232,#ff3030,#ff2d2d,#ff2b2b,#ff2929,#ff2727,#ff2525,#ff2424,#ff2222,#ff2020,#ff1e1e,#ff1d1d,#ff1b1b,#ff1a1a,#ff1818,#ff1616,#ff1515,#ff1414,#ff1313,#ff1111,#ff1111,#ff1010,#ff0f0f,#ff0f0f,#ff0f0f,#ff0e0e,#ff0e0e,#ff0e0e,#ff0d0d,#ff0d0d,#ff0c0c,#ff0c0c,#ff0c0c,#ff0d0d,#ff0e0e,#ff1111,#ff1414,#ff1717,#ff1c1c,#ff2222,#ff2828,#ff2e2e,#ff3434,#ff3b3b,#ff4343,#ff4b4b,#ff5454,#ff5f5f,#ff6c6c,#ff7c7c,#ff8e8e,#ffa3a3,#ffbcbc,#ffd8d8,#fff9f9)"></div>
<div style="background:linear-gradient(90deg,#ff5757,#ff5555,#ff5353,#ff5151,#ff4f4f,#ff4d4d,#ff4a4a,#ff4848,#ff4545,#ff4343,#ff4040,#ff3e3e,#ff3b3b,#ff3939,#ff3636,#ff3434,#ff3131,#ff2f2f,#ff2d2d,#ff2b2b,#ff2929,#ff2727,#ff2525,#ff2323,#ff2222,#ff2020,#ff1e1e,#ff1d1d,#ff1b1b,#ff1919,#ff1818,#ff1616,#ff1515,#ff1313,#ff1212,#ff1212,#ff1111,#ff1010,#ff1010,#ff1010,#ff1010,#ff0f0f,#ff0f0f,#ff0f0f,#ff0e0e,#ff0e0e,#ff0e0e,#ff0e0e,#ff0f0f,#ff1010,#ff1313,#ff1616,#ff1b1b,#ff2020,#ff2626,#ff2c2c,#ff3333,#ff3939,#ff4040,#ff4848,#ff5151,#ff5c5c,#ff6969,#ff7878,#ff8a8a,#ff9f9f,#ffb6b6,#ffd0d0,#ffeeee,#f0f0ff)"></div>
<div style="background:linear-gradient(90deg,#ff5858,#ff5757,#ff5555,#ff5353,#ff5151,#ff4e4e,#ff4c4c,#ff4a4a,#ff4747,#ff4545,#ff4242,#ff3f3f,#ff3d3d,#ff3a3a,#ff3838,#ff3535,#ff3333,#ff3131,#ff2e2e,#ff2c2c,#ff2a2a,#ff2929,#ff2727,#ff2525,#ff2323,#ff2222,#ff2020,#ff1e1e,#ff1c1c,#ff1a1a,#ff1919,#ff1717,#ff1616,#ff1414,#ff1313,#ff1212,#ff1212,#ff1212,#ff1111,#ff1111,#ff1111,#ff1111,#ff1111,#ff1010,#ff1010,#ff1010,#ff1010,#ff1010,#ff1111,#ff1313,#ff1616,#ff1919,#ff1e1e,#ff2424,#ff2a2a,#ff3131,#ff3838,#ff3e3e,#ff4646,#ff4e4e,#ff5858,#ff6565,#ff7474,#ff8686,#ff9a9a,#ffb1b1,#ffcaca,#ffe6e6,#fbfbff,#dbdbff)"></div>
<div style="background:linear-gradient(90deg,#ff5a5a,#ff5858,#ff5656,#ff5454,#ff5252,#ff5050,#ff4e4e,#ff4b4b,#ff4949,#ff4646,#ff4444,#ff4141,#ff3e3e,#ff3c3c,#ff3939,#ff3737,#ff3434,#ff3232,#ff3030,#ff2e2e,#ff2c2c,#ff2a2a,#ff2929,#ff2727,#ff2525,#ff2323,#ff2121,#ff2020,#ff1e1e,#ff1c1c,#ff1a1a,#ff1818,#ff1717,#ff1515,#ff1414,#ff1414,#ff1313,#ff1313,#ff1313,#ff1313,#ff1313,#ff1313,#ff1313,#ff1212,#ff1212,#ff1212,#ff1212,#ff1212,#ff1414,#ff1616,#ff1919,#ff1d1d,#ff2222,#ff2828,#ff2f2f,#ff3636,#ff3d3d,#ff4343,#ff4b4b,#ff5454,#ff5f5f,#ff6e6e,#ff8080,#ff9494,#ffacac,#ffc5c5,#ffe0e0,#fffcfc,#e5e5ff,#c8c8ff)"></div>
<div style="background:linear-gradient(90deg,#ff5b5b,#ff5a5a,#ff5858,#ff5656,#ff5454,#ff5252,#ff4f4f,#ff4d4d,#ff4a4a,#ff4848,#ff4545,#ff4343,#ff4040,#ff3e3e,#ff3b3b,#ff3939,#ff3636,#ff3434,#ff3232,#ff3030,#ff2e2e,#ff2c2c,#ff2a2a,#ff2929,#ff2727,#ff2525,#ff2323,#ff2121,#ff1f1f,#ff1d1d,#ff1b1b,#ff1a1a,#ff1818,#ff1717,#ff1616,#ff1515,#ff1414,#ff1414,#ff1414,#ff1414,#ff1414,#ff1414,#ff1414,#ff1414,#ff1414,#ff1414,#ff1414,#ff1515,#ff1717,#ff1919,#ff1c1c,#ff2121,#ff2626,#ff2c2c,#ff3333,#ff3a3a,#ff4141,#ff4848,#ff5050,#ff5a5a,#ff6767,#ff7878,#ff8d8d,#ffa5a5,#ffbfbf,#ffdada,#fff6f6,#ececff,#d1d1ff,#b7b7ff)"></div>
<div style="background:linear-gradient(90deg,#ff5d5d,#ff5c5c,#ff5a5a,#ff5858,#ff5656,#ff5353,#ff5151,#ff4f4f,#ff4c4c,#ff4a4a,#ff4747,#ff4444,#ff4242,#ff3f3f,#ff3d3d,#ff3a3a,#ff3838,#ff3636,#ff3434,#ff3232,#ff3030,#ff2e2e,#ff2c2c,#ff2a2a,#ff2929,#ff2727,#ff2525,#ff2323,#ff2121,#ff1f1f,#ff1d1d,#ff1b1b,#ff1919,#ff1818,#ff1717,#ff1616,#ff1616,#ff1515,#ff1515,#ff1616,#ff1616,#ff1616,#ff1616,#ff1717,#ff1717,#ff1717,#ff1717,#ff1818,#ff1a1a,#ff1d1d,#ff2020,#ff2525,#ff2a2a,#ff3131,#ff3838,#ff3f3f,#ff4646,#ff4e4e,#ff5656,#ff6161,#ff7070,#ff8383,#ff9b9b,#ffb6b6,#ffd3d3,#fff1f1,#f1f1ff,#d5d5ff,#bdbdff,#a9a9ff)"></div>
<div style="background:linear-gradient(90deg,#ff5f5f,#ff5d5d,#ff5b5b,#ff5a5a,#ff5757,#ff5555,#ff5353,#ff5050,#ff4e4e,#ff4b4b,#ff4949,#ff4646,#ff4444,#ff4141,#ff3e3e,#ff3c3c,#ff3a3a,#ff3737,#ff3535,#ff3333,#ff3232,#ff3030,#ff2e2e,#ff2c2c,#ff2a2a,#ff2929,#ff2727,#ff2525,#ff2323,#ff2121,#ff1f1f,#ff1d1d,#ff1b1b,#ff1919,#ff1818,#ff1717,#ff1717,#ff1717,#ff1717,#ff1717,#ff1818,#ff1818,#ff1919,#ff1919,#ff1919,#ff1a1a,#ff1a1a,#ff1c1c,#ff1e1e,#ff2121,#ff2525,#ff2929,#ff2f2f,#ff3535,#ff3c3c,#ff4343,#ff4b4b,#ff5353,#ff5c5c,#ff6969,#ff7a7a,#ff9090,#ffabab,#ffc9c9,#ffe8e8,#f7f7ff,#dadaff,#c0c0ff,#acacff,#9e9eff)"></div>
<div style="background:linear-gradient(90deg,#ff6161,#ff5f5f,#ff5d5d,#ff5b5b,#ff5959,#ff5757,#ff5454,#ff5252,#ff5050,#ff4d4d,#ff4a4a,#ff4848,#ff4545,#ff4343,#ff4040,#ff3e3e,#ff3b3b,#ff3939,#ff3737,#ff3535,#ff3333,#ff3232,#ff3030,#ff2e2e,#ff2c2c,#ff2b2b,#ff2929,#ff2727,#ff2424,#ff2222,#ff2020,#ff1e1e,#ff1c1c,#ff1b1b,#ff1a1a,#ff1919,#ff1919,#ff1919,#ff1919,#ff1919,#ff1a1a,#ff1a1a,#ff1b1b,#ff1b1b,#ff1c1c,#ff1d1d,#ff1e1e,#ff1f1f,#ff2222,#ff2525,#ff2929,#ff2e2e,#ff3434,#ff3a3a,#ff4040,#ff4747,#ff4f4f,#ff5858,#ff6363,#ff7272,#ff8585,#ff9e9e,#ffbcbc,#ffdcdc,#fffdfd,#e1e1ff,#c4c4ff,#acacff,#9c9cff,#9494ff)"></div>
<div style="background:linear-gradient(90deg,#ff6262,#ff6161,#ff5f5f,#ff5d5d,#ff5b5b,#ff5959,#ff5656,#ff5454,#ff5151,#ff4f4f,#ff4c4c,#ff4949,#ff4747,#ff4444,#ff4242,#ff3f3f,#ff3d3d,#ff3b3b,#ff3939,#ff3737,#ff3535,#ff3333,#ff3232,#ff3030,#ff2e2e,#ff2c2c,#ff2a2a,#ff2828,#ff2626,#ff2424,#ff2222,#ff2020,#ff1e1e,#ff1d1d,#ff1b1b,#ff1b1b,#ff1a1a,#ff1a1a,#ff1b1b,#ff1b1b,#ff1c1c,#ff1c1c,#ff1d1d,#ff1e1e,#ff1f1f,#ff2020,#ff2222,#ff2424,#ff2626,#ff2a2a,#ff2e2e,#ff3333,#ff3838,#ff3e3e,#ff4444,#ff4c4c,#ff5454,#ff5e5e,#ff6b6b,#ff7c7c,#ff9292,#ffadad,#ffcdcd,#ffefef,#ededff,#ccccff,#b0b0ff,#9b9bff,#8e8eff,#8c8cff)"></div>
<div style="background:linear-gradient(90deg,#ff6464,#ff6363,#ff6161,#ff5f5f,#ff5c5c,#ff5a5a,#ff5858,#ff5555,#ff5353,#ff5050,#ff4e4e,#ff4b4b,#ff4949,#ff4646,#ff4444,#ff4141,#ff3f3f,#ff3d3d,#ff3b3b,#ff3939,#ff3737,#ff3535,#ff3434,#ff3232,#ff3030,#ff2e2e,#ff2c2c,#ff2a2a,#ff2828,#ff2626,#ff2424,#ff2222,#ff2020,#ff1e1e,#ff1d1d,#ff1c1c,#ff1c1c,#ff1c1c,#ff1c1c,#ff1d1d,#ff1e1e,#ff1f1f,#ff2020,#ff2121,#ff2222,#ff2424,#ff2626,#ff2828,#ff2b2b,#ff2f2f,#ff3434,#ff3838,#ff3d3d,#ff4242,#ff4848,#ff4f4f,#ff5959,#ff6565,#ff7474,#ff8888,#ffa0a0,#ffbebe,#ffdfdf,#fcfcff,#dadaff,#babaff,#a0a0ff,#8c8cff,#8383ff,#8585ff)"></div>
<div style="background:linear-gradient(90deg,#ff6666,#ff6464,#ff6262,#ff6060,#ff5e5e,#ff5c5c,#ff5959,#ff5757,#ff5454,#ff5252,#ff4f4f,#ff4d4d,#ff4a4a,#ff4848,#ff4545,#ff4343,#ff4141,#ff3e3e,#ff3c3c,#ff3b3b,#ff3939,#ff3737,#ff3535,#ff3434,#ff3232,#ff3030,#ff2e2e,#ff2c2c,#ff2a2a,#ff2828,#ff2626,#ff2424,#ff2222,#ff2020,#ff1f1f,#ff1e1e,#ff1e1e,#ff1e1e,#ff1e1e,#ff1f1f,#ff2020,#ff2121,#ff2323,#ff2424,#ff2626,#ff2828,#ff2a2a,#ff2d2d,#ff3131,#ff3535,#ff3939,#ff3e3e,#ff4242,#ff4747,#ff4c4c,#ff5353,#ff5e5e,#ff6c6c,#ff7f7f,#ff9595,#ffb1b1,#ffd0d0,#fff2f2,#eaeaff,#c8c8ff,#ababff,#9292ff,#8181ff,#7a7aff,#7e7eff)"></div>
<div style="background:linear-gradient(90deg,#ff6868,#ff6666,#ff6464,#ff6262,#ff6060,#ff5d5d,#ff5b5b,#ff5858,#ff5656,#ff5353,#ff5151,#ff4e4e,#ff4c4c,#ff4949,#ff4747,#ff4444,#ff4242,#ff4040,#ff3e3e,#ff3c3c,#ff3a3a,#ff3939,#ff3737,#ff3535,#ff3434,#ff3232,#ff3030,#ff2e2e,#ff2c2c,#ff2a2a,#ff2828,#ff2626,#ff2424,#ff2222,#ff2121,#ff2020,#ff2020,#ff2020,#ff2020,#ff2121,#ff2222,#ff2424,#ff2525,#ff2727,#ff2a2a,#ff2c2c,#ff2f2f,#ff3333,#ff3737,#ff3b3b,#ff3f3f,#ff4343,#ff4747,#ff4b4b,#ff4f4f,#ff5757,#ff6363,#ff7474,#ff8b8b,#ffa5a5,#ffc3c3,#ffe3e3,#f9f9ff,#d9d9ff,#babaff,#9f9fff,#8989ff,#7a7aff,#7474ff,#7878ff)"></div>
<div style="background:linear-gradient(90deg,#ff6a6a,#ff6868,#ff6666,#ff6464,#ff6161,#ff5f5f,#ff5c5c,#ff5a5a,#ff5757,#ff5555,#ff5252,#ff5050,#ff4d4d,#ff4b4b,#ff4848,#ff4646,#ff4444,#ff4242,#ff4040,#ff3e3e,#ff3c3c,#ff3a3a,#ff3939,#ff3737,#ff3535,#ff3434,#ff3232,#ff3030,#ff2e2e,#ff2c2c,#ff2a2a,#ff2828,#ff2626,#ff2525,#ff2323,#ff2323,#ff2222,#ff2222,#ff2323,#ff2323,#ff2525,#ff2626,#ff2828,#ff2b2b,#ff2d2d,#ff3131,#ff3434,#ff3838,#ff3d3d,#ff4141,#ff4545,#ff4949,#ff4c4c,#ff4f4f,#ff5353,#ff5b5b,#ff6969,#ff7d7d,#ff9898,#ffb6b6,#ffd7d7,#fff7f7,#e7e7ff,#c9c9ff,#adadff,#9696ff,#8383ff,#7676ff,#7070ff,#7272ff)"></div>
<div style="background:linear-gradient(90deg,#ff6c6c,#ff6a6a,#ff6868,#ff6565,#ff6363,#ff6161,#ff5e5e,#ff5b5b,#ff5959,#ff5656,#ff5454,#ff5151,#ff4f4f,#ff4c4c,#ff4a4a,#ff4848,#ff4545,#ff4343,#ff4141,#ff3f3f,#ff3e3e,#ff3c3c,#ff3a3a,#ff3939,#ff3737,#ff3535,#ff3434,#ff3232,#ff3030,#ff2e2e,#ff2c2c,#ff2a2a,#ff2828,#ff2727,#ff2626,#ff2525,#ff2525,#ff2525,#ff2525,#ff2626,#ff2727,#ff2929,#ff2b2b,#ff2e2e,#ff3232,#ff3535,#ff3a3a,#ff3e3e,#ff4343,#ff4747,#ff4b4b,#ff4f4f,#ff5151,#ff5353,#ff5858,#ff6060,#ff7070,#ff8888,#ffa6a6,#ffc8c8,#ffebeb,#f3f3ff,#d5d5ff,#babaff,#a3a3ff,#8f8fff,#8080ff,#7575ff,#6e6eff,#6c6cff)"></div>
<div style="background:linear-gradient(90deg,#ff6e6e,#ff6c6c,#ff6969,#ff6767,#ff6565,#ff6262,#ff6060,#ff5d5d,#ff5a5a,#ff5858,#ff5555,#ff5353,#ff5050,#ff4e4e,#ff4b4b,#ff4949,#ff4747,#ff4545,#ff4343,#ff4141,#ff3f3f,#ff3e3e,#ff3c3c,#ff3a3a,#ff3939,#ff3737,#ff3535,#ff3434,#ff3232,#ff3030,#ff2e2e,#ff2c2c,#ff2b2b,#ff2929,#ff2828,#ff2727,#ff2727,#ff2727,#ff2727,#ff2828,#ff2a2a,#ff2c2c,#ff2e2e,#ff3232,#ff3636,#ff3a3a,#ff3f3f,#ff4444,#ff4949,#ff4d4d,#ff5151,#ff5454,#ff5757,#ff5959,#ff5d5d,#ff6767,#ff7979,#ff9494,#ffb6b6,#ffdbdb,#ffffff,#dfdfff,#c4c4ff,#adadff,#9a9aff,#8b8bff,#7e7eff,#7474ff,#6c6cff,#6666ff)"></div>
<div style="background:linear-gradient(90deg,#ff7070,#ff6e6e,#ff6b6b,#ff6969,#ff6666,#ff6464,#ff6161,#ff5f5f,#ff5c5c,#ff5959,#ff5757,#ff5454,#ff5252,#ff4f4f,#ff4d4d,#ff4b4b,#ff4848,#ff4646,#ff4444,#ff4343,#ff4141,#ff3f3f,#ff3e3e,#ff3c3c,#ff3b3b,#ff3939,#ff3737,#ff3636,#ff3434,#ff3232,#ff3030,#ff2f2f,#ff2d2d,#ff2c2c,#ff2b2b,#ff2a2a,#ff2a2a,#ff2929,#ff2a2a,#ff2b2b,#ff2c2c,#ff2f2f,#ff3232,#ff3636,#ff3a3a,#ff3f3f,#ff4545,#ff4a4a,#ff4f4f,#ff5353,#ff5757,#ff5a5a,#ff5c5c,#ff5f5f,#ff6565,#ff7070,#ff8484,#ffa2a2,#ffc7c7,#ffeded,#ececff,#ceceff,#b5b5ff,#a2a2ff,#9393ff,#8787ff,#7d7dff,#7474ff,#6b6bff,#6161ff)"></div>
<div style="background:linear-gradient(90deg,#ff7272,#ff7070,#ff6d6d,#ff6b6b,#ff6868,#ff6565,#ff6363,#ff6060,#ff5d5d,#ff5b5b,#ff5858,#ff5656,#ff5353,#ff5151,#ff4e4e,#ff4c4c,#ff4a4a,#ff4848,#ff4646,#ff4444,#ff4242,#ff4141,#ff3f3f,#ff3e3e,#ff3c3c,#ff3b3b,#ff3939,#ff3838,#ff3636,#ff3434,#ff3333,#ff3131,#ff3030,#ff2f2f,#ff2e2e,#ff2d2d,#ff2c2c,#ff2c2c,#ff2d2d,#ff2e2e,#ff2f2f,#ff3232,#ff3535,#ff3939,#ff3f3f,#ff4444,#ff4a4a,#ff5050,#ff5555,#ff5959,#ff5c5c,#ff5f5f,#ff6262,#ff6767,#ff6f6f,#ff7d7d,#ff9393,#ffb3b3,#ffd8d8,#ffffff,#dbdbff,#bebeff,#a9a9ff,#9999ff,#8d8dff,#8484ff,#7c7cff,#7474ff,#6969ff,#5c5cff)"></div>
<div style="background:linear-gradient(90deg,#ff7474,#ff7272,#ff6f6f,#ff6c6c,#ff6a6a,#ff6767,#ff6464,#ff6262,#ff5f5f,#ff5c5c,#ff5a5a,#ff5757,#ff5555,#ff5252,#ff5050,#ff4e4e,#ff4b4b,#ff4949,#ff4848,#ff4646,#ff4444,#ff4343,#ff4141,#ff4040,#ff3e3e,#ff3d3d,#ff3b3b,#ff3a3a,#ff3838,#ff3737,#ff3535,#ff3434,#ff3333,#ff3131,#ff3030,#ff3030,#ff2f2f,#ff2f2f,#ff2f2f,#ff3030,#ff3232,#ff3535,#ff3939,#ff3d3d,#ff4343,#ff4a4a,#ff5050,#ff5656,#ff5a5a,#ff5e5e,#ff6161,#ff6464,#ff6969,#ff7070,#ff7b7b,#ff8c8c,#ffa5a5,#ffc5c5,#ffeaea,#eeeeff,#ccccff,#b2b2ff,#9f9fff,#9191ff,#8888ff,#8080ff,#7a7aff,#7171ff,#6666ff,#5757ff)"></div>
<div style="background:linear-gradient(90deg,#ff7676,#ff7474,#ff7171,#ff6e6e,#ff6c6c,#ff6969,#ff6666,#ff6363,#ff6161,#ff5e5e,#ff5b5b,#ff5959,#ff5656,#ff5454,#ff5151,#ff4f4f,#ff4d4d,#ff4b4b,#ff4949,#ff4747,#ff4646,#ff4444,#ff4343,#ff4141,#ff4040,#ff3f3f,#ff3d3d,#ff3c3c,#ff3b3b,#ff3939,#ff3838,#ff3737,#ff3535,#ff3434,#ff3333,#ff3333,#ff3232,#ff3232,#ff3232,#ff3333,#ff3535,#ff3838,#ff3c3c,#ff4242,#ff4848,#ff4f4f,#ff5656,#ff5b5b,#ff6060,#ff6262,#ff6565,#ff6969,#ff7070,#ff7b7b,#ff8a8a,#ff9e9e,#ffb9b9,#ffd9d9,#fffcfc,#dfdfff,#c0c0ff,#a8a8ff,#9797ff,#8c8cff,#8383ff,#7d7dff,#7676ff,#6e6eff,#6262ff,#5252ff)"></div>
<div style="background:linear-gradient(90deg,#ff7878,#ff7676,#ff7373,#ff7070,#ff6d6d,#ff6b6b,#ff6868,#ff6565,#ff6262,#ff6060,#ff5d5d,#ff5a5a,#ff5858,#ff5555,#ff5353,#ff5151,#ff4f4f,#ff4d4d,#ff4b4b,#ff4949,#ff4747,#ff4646,#ff4444,#ff4343,#ff4242,#ff4141,#ff3f3f,#ff3e3e,#ff3d3d,#ff3c3c,#ff3b3b,#ff3939,#ff3838,#ff3737,#ff3737,#ff3636,#ff3535,#ff3535,#ff3535,#ff3737,#ff3939,#ff3c3c,#ff4040,#ff4646,#ff4d4d,#ff5454,#ff5b5b,#ff6161,#ff6565,#ff6767,#ff6a6a,#ff6f6f,#ff7878,#ff8787,#ff9a9a,#ffb2b2,#ffcece,#ffeeee,#efefff,#d0d0ff,#b5b5ff,#a1a1ff,#9292ff,#8787ff,#7f7fff,#7979ff,#7272ff,#6a6aff,#5e5eff,#4d4dff)"></div>
<div style="background:linear-gradient(90deg,#ff7a7a,#ff7878,#ff7575,#ff7272,#ff6f6f,#ff6d6d,#ff6a6a,#ff6767,#ff6464,#ff6161,#ff5f5f,#ff5c5c,#ff5a5a,#ff5757,#ff5555,#ff5252,#ff5050,#ff4e4e,#ff4c4c,#ff4b4b,#ff4949,#ff4848,#ff4646,#ff4545,#ff4444,#ff4343,#ff4242,#ff4040,#ff3f3f,#ff3e3e,#ff3d3d,#ff3c3c,#ff3c3c,#ff3b3b,#ff3a3a,#ff3939,#ff3939,#ff3838,#ff3939,#ff3a3a,#ff3c3c,#ff4040,#ff4444,#ff4a4a,#ff5151,#ff5959,#ff6060,#ff6666,#ff6a6a,#ff6c6c,#ff6e6e,#ff7575,#ff8181,#ff9393,#ffabab,#ffc7c7,#ffe5e5,#fbfbff,#dedeff,#c3c3ff,#acacff,#9b9bff,#8d8dff,#8484ff,#7c7cff,#7575ff,#6e6eff,#6565ff,#5959ff,#4949ff)"></div>
<div style="background:linear-gradient(90deg,#ff7c7c,#ff7a7a,#ff7777,#ff7474,#ff7171,#ff6e6e,#ff6c6c,#ff6969,#ff6666,#ff6363,#ff6161,#ff5e5e,#ff5b5b,#ff5959,#ff5656,#ff5454,#ff5252,#ff5050,#ff4e4e,#ff4c4c,#ff4b4b,#ff4949,#ff4848,#ff4747,#ff4646,#ff4545,#ff4444,#ff4343,#ff4242,#ff4141,#ff4040,#ff4040,#ff3f3f,#ff3e3e,#ff3d3d,#ff3d3d,#ff3c3c,#ff3c3c,#ff3c3c,#ff3d3d,#ff4040,#ff4343,#ff4848,#ff4e4e,#ff5656,#ff5e5e,#ff6565,#ff6b6b,#ff6e6e,#ff7070,#ff7474,#ff7b7b,#ff8a8a,#ffa1a1,#ffbdbd,#ffdcdc,#fffbfb,#e7e7ff,#cdcdff,#b7b7ff,#a5a5ff,#9696ff,#8a8aff,#8181ff,#7979ff,#7171ff,#6969ff,#6060ff,#5454ff,#4545ff)"></div>
<div style="background:linear-gradient(90deg,#ff7e7e,#ff7c7c,#ff7979,#ff7676,#ff7373,#ff7171,#ff6e6e,#ff6b6b,#ff6868,#ff6565,#ff6262,#ff6060,#ff5d5d,#ff5b5b,#ff5858,#ff5656,#ff5454,#ff5252,#ff5050,#ff4e4e,#ff4d4d,#ff4b4b,#ff4a4a,#ff4949,#ff4848,#ff4747,#ff4646,#ff4545,#ff4545,#ff4444,#ff4343,#ff4343,#ff4242,#ff4242,#ff4141,#ff4040,#ff4040,#ff3f3f,#ff4040,#ff4141,#ff4444,#ff4747,#ff4c4c,#ff5353,#ff5a5a,#ff6262,#ff6a6a,#ff7070,#ff7373,#ff7575,#ff7979,#ff8383,#ff9494,#ffaeae,#ffcece,#ffefef,#efefff,#d4d4ff,#bfbfff,#adadff,#9e9eff,#9292ff,#8787ff,#7e7eff,#7676ff,#6e6eff,#6565ff,#5b5bff,#4f4fff,#4141ff)"></div>
<div style="background:linear-gradient(90deg,#ff8181,#ff7e7e,#ff7b7b,#ff7979,#ff7676,#ff7373,#ff7070,#ff6d6d,#ff6a6a,#ff6767,#ff6565,#ff6262,#ff5f5f,#ff5d5d,#ff5a5a,#ff5858,#ff5656,#ff5454,#ff5252,#ff5050,#ff4f4f,#ff4d4d,#ff4c4c,#ff4b4b,#ff4a4a,#ff4949,#ff4949,#ff4848,#ff4848,#ff4747,#ff4747,#ff4646,#ff4646,#ff4545,#ff4545,#ff4444,#ff4343,#ff4343,#ff4444,#ff4545,#ff4848,#ff4c4c,#ff5151,#ff5757,#ff5f5f,#ff6767,#ff6e6e,#ff7474,#ff7878,#ff7b7b,#ff8080,#ff8b8b,#ff9f9f,#ffbcbc,#ffdede,#fdfdff,#ddddff,#c4c4ff,#b1b1ff,#a3a3ff,#9797ff,#8d8dff,#8484ff,#7c7cff,#7373ff,#6a6aff,#6161ff,#5757ff,#4b4bff,#3d3dff)"></div>
<div style="background:linear-gradient(90deg,#ff8383,#ff8080,#ff7e7e,#ff7b7b,#ff7878,#ff7575,#ff7272,#ff6f6f,#ff6c6c,#ff6a6a,#ff6767,#ff6464,#ff6161,#ff5f5f,#ff5c5c,#ff5a5a,#ff5858,#ff5656,#ff5454,#ff5252,#ff5151,#ff5050,#ff4e4e,#ff4d4d,#ff4d4d,#ff4c4c,#ff4b4b,#ff4b4b,#ff4b4b,#ff4a4a,#ff4a4a,#ff4a4a,#ff4949,#ff4949,#ff4848,#ff4848,#ff4747,#ff4747,#ff4848,#ff4949,#ff4c4c,#ff5050,#ff5555,#ff5c5c,#ff6363,#ff6b6b,#ff7272,#ff7979,#ff7d7d,#ff8181,#ff8888,#ff9595,#ffabab,#ffc9c9,#ffeded,#ededff,#ceceff,#b7b7ff,#a6a6ff,#9b9bff,#9191ff,#8989ff,#8181ff,#7979ff,#7070ff,#6767ff,#5d5dff,#5353ff,#4747ff,#3a3aff)"></div>
<div style="background:linear-gradient(90deg,#ff8585,#ff8383,#ff8080,#ff7d7d,#ff7a7a,#ff7878,#ff7575,#ff7272,#ff6f6f,#ff6c6c,#ff6969,#ff6666,#ff6363,#ff6161,#ff5e5e,#ff5c5c,#ff5a5a,#ff5858,#ff5656,#ff5454,#ff5353,#ff5252,#ff5151,#ff5050,#ff4f4f,#ff4f4f,#ff4e4e,#ff4e4e,#ff4e4e,#ff4e4e,#ff4d4d,#ff4d4d,#ff4d4d,#ff4d4d,#ff4c4c,#ff4c4c,#ff4b4b,#ff4b4b,#ff4c4c,#ff4d4d,#ff5050,#ff5555,#ff5a5a,#ff6161,#ff6868,#ff6f6f,#ff7676,#ff7d7d,#ff8282,#ff8888,#ff9191,#ffa0a0,#ffb7b7,#ffd7d7,#fffbfb,#e0e0ff,#c1c1ff,#acacff,#9d9dff,#9393ff,#8c8cff,#8585ff,#7e7eff,#7676ff,#6d6dff,#6464ff,#5a5aff,#4f4fff,#4444ff,#3636ff)"></div>
<div style="background:linear-gradient(90deg,#ff8787,#ff8585,#ff8282,#ff8080,#ff7d7d,#ff7a7a,#ff7777,#ff7474,#ff7171,#ff6e6e,#ff6b6b,#ff6969,#ff6666,#ff6363,#ff6161,#ff5e5e,#ff5c5c,#ff5a5a,#ff5858,#ff5757,#ff5555,#ff5454,#ff5353,#ff5252,#ff5252,#ff5151,#ff5151,#ff5151,#ff5151,#ff5151,#ff5151,#ff5151,#ff5151,#ff5151,#ff5151,#ff5050,#ff5050,#ff4f4f,#ff5050,#ff5252,#ff5555,#ff5a5a,#ff5f5f,#ff6565,#ff6c6c,#ff7373,#ff7a7a,#ff8080,#ff8787,#ff8f8f,#ff9a9a,#ffabab,#ffc4c4,#ffe4e4,#f6f6ff,#d4d4ff,#b7b7ff,#a2a2ff,#9595ff,#8d8dff,#8686ff,#8080ff,#7a7aff,#7272ff,#6a6aff,#6161ff,#5757ff,#4c4cff,#4040ff,#3333ff)"></div>
<div style="background:linear-gradient(90deg,#ff8989,#ff8787,#ff8585,#ff8282,#ff8080,#ff7d7d,#ff7a7a,#ff7777,#ff7474,#ff7171,#ff6e6e,#ff6b6b,#ff6868,#ff6565,#ff6363,#ff6060,#ff5e5e,#ff5c5c,#ff5a5a,#ff5959,#ff5858,#ff5656,#ff5656,#ff5555,#ff5555,#ff5454,#ff5454,#ff5454,#ff5454,#ff5454,#ff5555,#ff5555,#ff5555,#ff5555,#ff5555,#ff5454,#ff5454,#ff5454,#ff5555,#ff5757,#ff5a5a,#ff5f5f,#ff6464,#ff6a6a,#ff7070,#ff7777,#ff7d7d,#ff8484,#ff8d8d,#ff9797,#ffa5a5,#ffb8b8,#ffd1d1,#fff1f1,#eaeaff,#c9c9ff,#aeaeff,#9a9aff,#8e8eff,#8787ff,#8181ff,#7c7cff,#7676ff,#6f6fff,#6767ff,#5e5eff,#5555ff,#4a4aff,#3e3eff,#3030ff)"></div>
<div style="background:linear-gradient(90deg,#ff8c8c,#ff8a8a,#ff8787,#ff8585,#ff8282,#ff7f7f,#ff7c7c,#ff7979,#ff7676,#ff7373,#ff7070,#ff6d6d,#ff6b6b,#ff6868,#ff6565,#ff6363,#ff6161,#ff5f5f,#ff5d5d,#ff5b5b,#ff5a5a,#ff5959,#ff5858,#ff5858,#ff5757,#ff5757,#ff5757,#ff5757,#ff5858,#ff5858,#ff5858,#ff5959,#ff5959,#ff5959,#ff5959,#ff5959,#ff5858,#ff5858,#ff5959,#ff5b5b,#ff5f5f,#ff6464,#ff6a6a,#ff6f6f,#ff7575,#ff7a7a,#ff8181,#ff8888,#ff9292,#ff9f9f,#ffafaf,#ffc4c4,#ffdfdf,#ffffff,#dedeff,#bfbfff,#a6a6ff,#9494ff,#8989ff,#8282ff,#7d7dff,#7878ff,#7272ff,#6b6bff,#6464ff,#5b5bff,#5252ff,#4747ff,#3b3bff,#2d2dff)"></div>
<div style="background:linear-gradient(90deg,#ff8e8e,#ff8c8c,#ff8a8a,#ff8787,#ff8585,#ff8282,#ff7f7f,#ff7c7c,#ff7979,#ff7676,#ff7373,#ff7070,#ff6d6d,#ff6a6a,#ff6868,#ff6565,#ff6363,#ff6161,#ff5f5f,#ff5e5e,#ff5d5d,#ff5c5c,#ff5b5b,#ff5b5b,#ff5a5a,#ff5a5a,#ff5a5a,#ff5b5b,#ff5b5b,#ff5c5c,#ff5c5c,#ff5d5d,#ff5d5d,#ff5d5d,#ff5e5e,#ff5d5d,#ff5d5d,#ff5d5d,#ff5e5e,#ff6161,#ff6565,#ff6a6a,#ff6f6f,#ff7575,#ff7a7a,#ff7f7f,#ff8484,#ff8d8d,#ff9898,#ffa7a7,#ffbaba,#ffd2d2,#ffeded,#f2f2ff,#d3d3ff,#b6b6ff,#9f9fff,#8e8eff,#8484ff,#7d7dff,#7878ff,#7373ff,#6e6eff,#6767ff,#6060ff,#5858ff,#4f4fff,#4444ff,#3838ff,#2b2bff)"></div>
<div style="background:linear-gradient(90deg,#ff9090,#ff8e8e,#ff8c8c,#ff8a8a,#ff8787,#ff8484,#ff8282,#ff7f7f,#ff7c7c,#ff7878,#ff7575,#ff7272,#ff7070,#ff6d6d,#ff6a6a,#ff6868,#ff6565,#ff6363,#ff6262,#ff6060,#ff5f5f,#ff5e5e,#ff5e5e,#ff5e5e,#ff5d5d,#ff5e5e,#ff5e5e,#ff5e5e,#ff5f5f,#ff6060,#ff6060,#ff6161,#ff6161,#ff6262,#ff6262,#ff6262,#ff6262,#ff6262,#ff6363,#ff6666,#ff6a6a,#ff6f6f,#ff7575,#ff7a7a,#ff7f7f,#ff8383,#ff8989,#ff9191,#ff9e9e,#ffb0b0,#ffc6c6,#ffdfdf,#fffbfb,#e5e5ff,#c8c8ff,#aeaeff,#9898ff,#8989ff,#7f7fff,#7979ff,#7474ff,#6f6fff,#6a6aff,#6363ff,#5c5cff,#5454ff,#4b4bff,#4141ff,#3535ff,#2828ff)"></div>
<div style="background:linear-gradient(90deg,#ff9292,#ff9090,#ff8e8e,#ff8c8c,#ff8a8a,#ff8787,#ff8484,#ff8181,#ff7e7e,#ff7b7b,#ff7878,#ff7575,#ff7272,#ff6f6f,#ff6d6d,#ff6a6a,#ff6868,#ff6666,#ff6464,#ff6363,#ff6262,#ff6161,#ff6161,#ff6161,#ff6161,#ff6161,#ff6161,#ff6262,#ff6363,#ff6363,#ff6464,#ff6565,#ff6666,#ff6666,#ff6767,#ff6767,#ff6767,#ff6767,#ff6969,#ff6c6c,#ff7070,#ff7575,#ff7b7b,#ff8080,#ff8484,#ff8787,#ff8d8d,#ff9696,#ffa5a5,#ffb9b9,#ffd1d1,#ffecec,#f5f5ff,#d9d9ff,#bebeff,#a6a6ff,#9292ff,#8585ff,#7b7bff,#7575ff,#7070ff,#6b6bff,#6666ff,#5f5fff,#5858ff,#5151ff,#4848ff,#3e3eff,#3232ff,#2626ff)"></div>
<div style="background:linear-gradient(90deg,#ff9494,#ff9292,#ff9090,#ff8e8e,#ff8c8c,#ff8989,#ff8787,#ff8484,#ff8181,#ff7e7e,#ff7b7b,#ff7878,#ff7575,#ff7272,#ff6f6f,#ff6d6d,#ff6b6b,#ff6969,#ff6767,#ff6666,#ff6565,#ff6464,#ff6464,#ff6464,#ff6464,#ff6464,#ff6565,#ff6666,#ff6666,#ff6767,#ff6868,#ff6969,#ff6a6a,#ff6b6b,#ff6b6b,#ff6c6c,#ff6c6c,#ff6d6d,#ff6e6e,#ff7171,#ff7676,#ff7b7b,#ff8181,#ff8686,#ff8989,#ff8d8d,#ff9292,#ff9c9c,#ffacac,#ffc3c3,#ffdddd,#fffafa,#e7e7ff,#ccccff,#b4b4ff,#9e9eff,#8d8dff,#8181ff,#7878ff,#7272ff,#6c6cff,#6767ff,#6262ff,#5b5bff,#5454ff,#4d4dff,#4444ff,#3a3aff,#3030ff,#2424ff)"></div>
<div style="background:linear-gradient(90deg,#ff9696,#ff9494,#ff9393,#ff9191,#ff8e8e,#ff8c8c,#ff8989,#ff8686,#ff8383,#ff8080,#ff7d7d,#ff7a7a,#ff7777,#ff7474,#ff7272,#ff6f6f,#ff6d6d,#ff6b6b,#ff6a6a,#ff6969,#ff6868,#ff6767,#ff6767,#ff6767,#ff6767,#ff6868,#ff6969,#ff6969,#ff6a6a,#ff6b6b,#ff6c6c,#ff6d6d,#ff6e6e,#ff6f6f,#ff7070,#ff7171,#ff7171,#ff7272,#ff7474,#ff7777,#ff7c7c,#ff8282,#ff8787,#ff8c8c,#ff8f8f,#ff9292,#ff9898,#ffa3a3,#ffb4b4,#ffcdcd,#ffe9e9,#f7f7ff,#dadaff,#c1c1ff,#aaaaff,#9797ff,#8888ff,#7d7dff,#7575ff,#6e6eff,#6969ff,#6363ff,#5e5eff,#5757ff,#5050ff,#4949ff,#4040ff,#3737ff,#2d2dff,#2222ff)"></div>
<div style="background:linear-gradient(90deg,#ff9797,#ff9696,#ff9595,#ff9393,#ff9090,#ff8e8e,#ff8b8b,#ff8888,#ff8585,#ff8383,#ff8080,#ff7d7d,#ff7a7a,#ff7777,#ff7474,#ff7272,#ff7070,#ff6e6e,#ff6d6d,#ff6c6c,#ff6b6b,#ff6b6b,#ff6a6a,#ff6b6b,#ff6b6b,#ff6c6c,#ff6c6c,#ff6d6d,#ff6e6e,#ff6f6f,#ff7070,#ff7171,#ff7373,#ff7474,#ff7575,#ff7676,#ff7777,#ff7878,#ff7a7a,#ff7e7e,#ff8282,#ff8888,#ff8d8d,#ff9292,#ff9595,#ff9898,#ff9f9f,#ffaaaa,#ffbdbd,#ffd7d7,#fff5f5,#ebebff,#ceceff,#b6b6ff,#a2a2ff,#9191ff,#8484ff,#7a7aff,#7272ff,#6b6bff,#6666ff,#6060ff,#5a5aff,#5353ff,#4c4cff,#4545ff,#3d3dff,#3434ff,#2b2bff,#2020ff)"></div>
<div style="background:linear-gradient(90deg,#ff9999,#ff9898,#ff9696,#ff9595,#ff9292,#ff9090,#ff8d8d,#ff8b8b,#ff8888,#ff8585,#ff8282,#ff7f7f,#ff7c7c,#ff7a7a,#ff7777,#ff7575,#ff7373,#ff7171,#ff7070,#ff6f6f,#ff6e6e,#ff6e6e,#ff6e6e,#ff6e6e,#ff6f6f,#ff6f6f,#ff7070,#ff7171,#ff7272,#ff7373,#ff7474,#ff7676,#ff7777,#ff7878,#ff7a7a,#ff7b7b,#ff7c7c,#ff7e7e,#ff8181,#ff8484,#ff8989,#ff8e8e,#ff9494,#ff9898,#ff9b9b,#ffa0a0,#ffa7a7,#ffb3b3,#ffc7c7,#ffe2e2,#fdfdff,#dfdfff,#c3c3ff,#acacff,#9a9aff,#8b8bff,#8080ff,#7676ff,#6f6fff,#6868ff,#6262ff,#5d5dff,#5656ff,#5050ff,#4949ff,#4141ff,#3a3aff,#3131ff,#2828ff,#1e1eff)"></div>
<div style="background:linear-gradient(90deg,#ff9b9b,#ff9a9a,#ff9898,#ff9696,#ff9494,#ff9292,#ff8f8f,#ff8d8d,#ff8a8a,#ff8787,#ff8484,#ff8181,#ff7f7f,#ff7c7c,#ff7a7a,#ff7777,#ff7676,#ff7474,#ff7373,#ff7272,#ff7171,#ff7171,#ff7171,#ff7272,#ff7272,#ff7373,#ff7474,#ff7575,#ff7676,#ff7777,#ff7878,#ff7a7a,#ff7b7b,#ff7d7d,#ff7e7e,#ff8080,#ff8282,#ff8484,#ff8787,#ff8b8b,#ff9090,#ff9595,#ff9a9a,#ff9e9e,#ffa2a2,#ffa7a7,#ffb0b0,#ffbdbd,#ffd2d2,#ffeeee,#f2f2ff,#d3d3ff,#b9b9ff,#a4a4ff,#9393ff,#8686ff,#7c7cff,#7373ff,#6c6cff,#6666ff,#6060ff,#5959ff,#5353ff,#4c4cff,#4545ff,#3e3eff,#3636ff,#2e2eff,#2626ff,#1d1dff)"></div>
<div style="background:linear-gradient(90deg,#ff9c9c,#ff9b9b,#ff9a9a,#ff9898,#ff9696,#ff9494,#ff9191,#ff8f8f,#ff8c8c,#ff8989,#ff8686,#ff8484,#ff8181,#ff7f7f,#ff7c7c,#ff7a7a,#ff7878,#ff7777,#ff7676,#ff7575,#ff7575,#ff7575,#ff7575,#ff7676,#ff7676,#ff7777,#ff7878,#ff7979,#ff7a7a,#ff7b7b,#ff7c7c,#ff7e7e,#ff7f7f,#ff8181,#ff8383,#ff8585,#ff8888,#ff8b8b,#ff8e8e,#ff9292,#ff9696,#ff9b9b,#ffa0a0,#ffa5a5,#ffaaaa,#ffb0b0,#ffbaba,#ffc9c9,#ffdede,#fffafa,#e6e6ff,#c9c9ff,#b0b0ff,#9c9cff,#8d8dff,#8282ff,#7878ff,#7171ff,#6a6aff,#6363ff,#5d5dff,#5656ff,#5050ff,#4949ff,#4242ff,#3b3bff,#3333ff,#2c2cff,#2424ff,#1b1bff)"></div>
<div style="background:linear-gradient(90deg,#ff9d9d,#ff9c9c,#ff9b9b,#ff9a9a,#ff9898,#ff9595,#ff9393,#ff9191,#ff8e8e,#ff8b8b,#ff8989,#ff8686,#ff8383,#ff8181,#ff7f7f,#ff7d7d,#ff7b7b,#ff7a7a,#ff7979,#ff7979,#ff7878,#ff7979,#ff7979,#ff7a7a,#ff7a7a,#ff7b7b,#ff7c7c,#ff7d7d,#ff7e7e,#ff7f7f,#ff8080,#ff8282,#ff8484,#ff8686,#ff8888,#ff8b8b,#ff8e8e,#ff9292,#ff9595,#ff9999,#ff9d9d,#ffa2a2,#ffa6a6,#ffacac,#ffb2b2,#ffb9b9,#ffc5c5,#ffd5d5,#ffebeb,#f8f8ff,#dbdbff,#bfbfff,#a7a7ff,#9595ff,#8888ff,#7e7eff,#7575ff,#6e6eff,#6767ff,#6161ff,#5a5aff,#5454ff,#4d4dff,#4646ff,#3f3fff,#3838ff,#3131ff,#2929ff,#2222ff,#1a1aff)"></div>
<div style="background:linear-gradient(90deg,#ff9e9e,#ff9e9e,#ff9c9c,#ff9b9b,#ff9999,#ff9797,#ff9595,#ff9292,#ff9090,#ff8d8d,#ff8b8b,#ff8888,#ff8686,#ff8484,#ff8282,#ff8080,#ff7e7e,#ff7d7d,#ff7c7c,#ff7c7c,#ff7c7c,#ff7c7c,#ff7d7d,#ff7e7e,#ff7e7e,#ff7f7f,#ff8080,#ff8181,#ff8282,#ff8383,#ff8585,#ff8686,#ff8888,#ff8a8a,#ff8d8d,#ff9090,#ff9494,#ff9898,#ff9d9d,#ffa1a1,#ffa5a5,#ffa9a9,#ffadad,#ffb3b3,#ffbaba,#ffc3c3,#ffd0d0,#ffe1e1,#fff8f8,#ececff,#d0d0ff,#b6b6ff,#a0a0ff,#8f8fff,#8383ff,#7a7aff,#7272ff,#6b6bff,#6565ff,#5e5eff,#5858ff,#5151ff,#4a4aff,#4343ff,#3c3cff,#3535ff,#2e2eff,#2727ff,#2020ff,#1818ff)"></div>
<div style="background:linear-gradient(90deg,#ffa0a0,#ff9f9f,#ff9e9e,#ff9c9c,#ff9b9b,#ff9999,#ff9696,#ff9494,#ff9292,#ff8f8f,#ff8d8d,#ff8b8b,#ff8888,#ff8686,#ff8484,#ff8383,#ff8181,#ff8080,#ff8080,#ff8080,#ff8080,#ff8080,#ff8181,#ff8282,#ff8383,#ff8484,#ff8585,#ff8686,#ff8787,#ff8888,#ff8989,#ff8b8b,#ff8d8d,#ff8f8f,#ff9292,#ff9696,#ff9b9b,#ff9f9f,#ffa4a4,#ffa8a8,#ffacac,#ffb0b0,#ffb4b4,#ffbaba,#ffc3c3,#ffcece,#ffdcdc,#ffeeee,#f9f9ff,#e0e0ff,#c6c6ff,#aeaeff,#9999ff,#8a8aff,#7f7fff,#7777ff,#7070ff,#6969ff,#6262ff,#5c5cff,#5555ff,#4e4eff,#4848ff,#4141ff,#3a3aff,#3333ff,#2c2cff,#2525ff,#1e1eff,#1717ff)"></div>
<div style="background:linear-gradient(90deg,#ffa1a1,#ffa0a0,#ff9f9f,#ff9e9e,#ff9c9c,#ff9a9a,#ff9898,#ff9696,#ff9494,#ff9191,#ff8f8f,#ff8d8d,#ff8b8b,#ff8989,#ff8787,#ff8585,#ff8484,#ff8383,#ff8383,#ff8383,#ff8383,#ff8484,#ff8585,#ff8686,#ff8787,#ff8888,#ff8989,#ff8a8a,#ff8b8b,#ff8c8c,#ff8d8d,#ff8f8f,#ff9191,#ff9494,#ff9898,#ff9c9c,#ffa1a1,#ffa6a6,#ffabab,#ffb0b0,#ffb3b3,#ffb7b7,#ffbcbc,#ffc2c2,#ffcccc,#ffd9d9,#ffe8e8,#fffbfb,#ececff,#d4d4ff,#bcbcff,#a6a6ff,#9393ff,#8686ff,#7c7cff,#7474ff,#6d6dff,#6767ff,#6060ff,#5a5aff,#5353ff,#4c4cff,#4545ff,#3e3eff,#3737ff,#3030ff,#2929ff,#2323ff,#1c1cff,#1616ff)"></div>
<div style="background:linear-gradient(90deg,#ffa2a2,#ffa1a1,#ffa0a0,#ff9f9f,#ff9d9d,#ff9c9c,#ff9a9a,#ff9797,#ff9595,#ff9393,#ff9191,#ff8f8f,#ff8d8d,#ff8b8b,#ff8a8a,#ff8888,#ff8787,#ff8787,#ff8686,#ff8787,#ff8787,#ff8888,#ff8989,#ff8a8a,#ff8b8b,#ff8c8c,#ff8e8e,#ff8f8f,#ff9090,#ff9191,#ff9292,#ff9494,#ff9696,#ff9999,#ff9d9d,#ffa2a2,#ffa7a7,#ffadad,#ffb3b3,#ffb7b7,#ffbbbb,#ffbfbf,#ffc4c4,#ffcbcb,#ffd6d6,#ffe4e4,#fff5f5,#f6f6ff,#e0e0ff,#c9c9ff,#b3b3ff,#9f9fff,#8e8eff,#8282ff,#7878ff,#7171ff,#6b6bff,#6565ff,#5e5eff,#5858ff,#5151ff,#4a4aff,#4343ff,#3c3cff,#3535ff,#2e2eff,#2727ff,#2121ff,#1b1bff,#1515ff)"></div>
<div style="background:linear-gradient(90deg,#ffa3a3,#ffa2a2,#ffa1a1,#ffa0a0,#ff9f9f,#ff9d9d,#ff9b9b,#ff9999,#ff9797,#ff9595,#ff9393,#ff9191,#ff8f8f,#ff8e8e,#ff8c8c,#ff8b8b,#ff8a8a,#ff8a8a,#ff8a8a,#ff8a8a,#ff8b8b,#ff8c8c,#ff8d8d,#ff8e8e,#ff9090,#ff9191,#ff9292,#ff9393,#ff9494,#ff9595,#ff9797,#ff9999,#ff9b9b,#ff9e9e,#ffa3a3,#ffa8a8,#ffaeae,#ffb4b4,#ffbaba,#ffbfbf,#ffc3c3,#ffc7c7,#ffcccc,#ffd4d4,#ffe0e0,#ffefef,#fdfdff,#e9e9ff,#d4d4ff,#bfbfff,#aaaaff,#9898ff,#8989ff,#7e7eff,#7676ff,#6f6fff,#6969ff,#6363ff,#5c5cff,#5656ff,#4f4fff,#4848ff,#4141ff,#3a3aff,#3333ff,#2c2cff,#2525ff,#1f1fff,#1919ff,#1414ff)"></div>
<div style="background:linear-gradient(90deg,#ffa4a4,#ffa4a4,#ffa3a3,#ffa1a1,#ffa0a0,#ff9e9e,#ff9d9d,#ff9b9b,#ff9999,#ff9797,#ff9595,#ff9393,#ff9292,#ff9090,#ff8f8f,#ff8e8e,#ff8d8d,#ff8d8d,#ff8d8d,#ff8e8e,#ff8f8f,#ff9090,#ff9191,#ff9393,#ff9494,#ff9595,#ff9797,#ff9898,#ff9999,#ff9a9a,#ff9c9c,#ff9e9e,#ffa1a1,#ffa4a4,#ffa8a8,#ffaeae,#ffb4b4,#ffbbbb,#ffc1c1,#ffc7c7,#ffcbcb,#ffcfcf,#ffd5d5,#ffdede,#ffebeb,#fffbfb,#f1f1ff,#ddddff,#c9c9ff,#b5b5ff,#a2a2ff,#9292ff,#8585ff,#7b7bff,#7373ff,#6d6dff,#6767ff,#6161ff,#5b5bff,#5454ff,#4d4dff,#4646ff,#3f3fff,#3838ff,#3131ff,#2a2aff,#2323ff,#1d1dff,#1818ff,#1313ff)"></div>
<div style="background:linear-gradient(90deg,#ffa5a5,#ffa5a5,#ffa4a4,#ffa3a3,#ffa1a1,#ffa0a0,#ff9e9e,#ff9d9d,#ff9b9b,#ff9999,#ff9797,#ff9696,#ff9494,#ff9393,#ff9292,#ff9191,#ff9191,#ff9090,#ff9191,#ff9191,#ff9292,#ff9494,#ff9595,#ff9797,#ff9898,#ff9a9a,#ff9c9c,#ff9d9d,#ff9e9e,#ffa0a0,#ffa1a1,#ffa4a4,#ffa6a6,#ffaaaa,#ffaeae,#ffb4b4,#ffbaba,#ffc1c1,#ffc8c8,#ffcece,#ffd3d3,#ffd8d8,#ffdfdf,#ffe8e8,#fff6f6,#f8f8ff,#e5e5ff,#d1d1ff,#bebeff,#ababff,#9b9bff,#8c8cff,#8181ff,#7878ff,#7171ff,#6b6bff,#6565ff,#5f5fff,#5959ff,#5252ff,#4b4bff,#4444ff,#3d3dff,#3636ff,#2f2fff,#2828ff,#2222ff,#1c1cff,#1616ff,#1212ff)"></div>
<div style="background:linear-gradient(90deg,#ffa6a6,#ffa6a6,#ffa5a5,#ffa4a4,#ffa3a3,#ffa1a1,#ffa0a0,#ff9e9e,#ff9d9d,#ff9b9b,#ff9999,#ff9898,#ff9797,#ff9595,#ff9595,#ff9494,#ff9494,#ff9494,#ff9494,#ff9595,#ff9696,#ff9898,#ff9999,#ff9b9b,#ff9d9d,#ff9f9f,#ffa0a0,#ffa2a2,#ffa3a3,#ffa5a5,#ffa7a7,#ffa9a9,#ffacac,#ffb0b0,#ffb4b4,#ffbaba,#ffc1c1,#ffc8c8,#ffcfcf,#ffd6d6,#ffdbdb,#ffe1e1,#ffe9e9,#fff3f3,#fdfdff,#ececff,#d9d9ff,#c6c6ff,#b4b4ff,#a3a3ff,#9494ff,#8787ff,#7d7dff,#7575ff,#6e6eff,#6969ff,#6363ff,#5d5dff,#5757ff,#5050ff,#4949ff,#4242ff,#3b3bff,#3333ff,#2d2dff,#2626ff,#2020ff,#1a1aff,#1515ff,#1111ff)"></div>
<div style="background:linear-gradient(90deg,#ffa8a8,#ffa7a7,#ffa7a7,#ffa6a6,#ffa4a4,#ffa3a3,#ffa2a2,#ffa0a0,#ff9f9f,#ff9d9d,#ff9c9c,#ff9a9a,#ff9999,#ff9898,#ff9797,#ff9797,#ff9797,#ff9797,#ff9898,#ff9999,#ff9a9a,#ff9c9c,#ff9e9e,#ffa0a0,#ffa2a2,#ffa4a4,#ffa6a6,#ffa7a7,#ffa9a9,#ffabab,#ffadad,#ffafaf,#ffb2b2,#ffb6b6,#ffbbbb,#ffc1c1,#ffc8c8,#ffcfcf,#ffd6d6,#ffdddd,#ffe4e4,#ffebeb,#fff3f3,#fffefe,#f1f1ff,#e0e0ff,#ceceff,#bbbbff,#aaaaff,#9b9bff,#8e8eff,#8383ff,#7979ff,#7272ff,#6c6cff,#6767ff,#6161ff,#5b5bff,#5555ff,#4e4eff,#4747ff,#4040ff,#3838ff,#3131ff,#2b2bff,#2424ff,#1e1eff,#1919ff,#1414ff,#1010ff)"></div>
<div style="background:linear-gradient(90deg,#ffa9a9,#ffa9a9,#ffa8a8,#ffa7a7,#ffa6a6,#ffa5a5,#ffa4a4,#ffa2a2,#ffa1a1,#ff9f9f,#ff9e9e,#ff9d9d,#ff9c9c,#ff9b9b,#ff9a9a,#ff9a9a,#ff9a9a,#ff9a9a,#ff9b9b,#ff9c9c,#ff9e9e,#ffa0a0,#ffa2a2,#ffa4a4,#ffa6a6,#ffa9a9,#ffabab,#ffadad,#ffafaf,#ffb1b1,#ffb3b3,#ffb6b6,#ffb9b9,#ffbdbd,#ffc2c2,#ffc7c7,#ffcece,#ffd6d6,#ffdddd,#ffe5e5,#ffecec,#fff4f4,#fffefe,#f4f4ff,#e5e5ff,#d4d4ff,#c2c2ff,#b1b1ff,#a1a1ff,#9393ff,#8888ff,#7e7eff,#7676ff,#7070ff,#6a6aff,#6565ff,#5f5fff,#5959ff,#5353ff,#4c4cff,#4444ff,#3d3dff,#3636ff,#2f2fff,#2828ff,#2222ff,#1c1cff,#1717ff,#1313ff,#0f0fff)"></div>
<div style="background:linear-gradient(90deg,#ffaaaa,#ffaaaa,#ffaaaa,#ffa9a9,#ffa8a8,#ffa7a7,#ffa6a6,#ffa4a4,#ffa3a3,#ffa2a2,#ffa0a0,#ff9f9f,#ff9e9e,#ff9d9d,#ff9d9d,#ff9d9d,#ff9d9d,#ff9d9d,#ff9e9e,#ffa0a0,#ffa2a2,#ffa4a4,#ffa6a6,#ffa8a8,#ffabab,#ffadad,#ffb0b0,#ffb2b2,#ffb4b4,#ffb7b7,#ffb9b9,#ffbcbc,#ffbfbf,#ffc4c4,#ffc8c8,#ffcece,#ffd5d5,#ffdcdc,#ffe4e4,#ffecec,#fff5f5,#fffefe,#f5f5ff,#e8e8ff,#d9d9ff,#c9c9ff,#b7b7ff,#a7a7ff,#9999ff,#8d8dff,#8383ff,#7b7bff,#7474ff,#6e6eff,#6868ff,#6363ff,#5d5dff,#5757ff,#5050ff,#4949ff,#4242ff,#3b3bff,#3434ff,#2d2dff,#2626ff,#2020ff,#1b1bff,#1616ff,#1111ff,#0e0eff)"></div>
<div style="background:linear-gradient(90deg,#ffacac,#ffacac,#ffabab,#ffabab,#ffaaaa,#ffa9a9,#ffa8a8,#ffa6a6,#ffa5a5,#ffa4a4,#ffa3a3,#ffa2a2,#ffa1a1,#ffa0a0,#ffa0a0,#ffa0a0,#ffa0a0,#ffa1a1,#ffa2a2,#ffa3a3,#ffa5a5,#ffa8a8,#ffaaaa,#ffadad,#ffb0b0,#ffb2b2,#ffb5b5,#ffb8b8,#ffbaba,#ffbdbd,#ffc0c0,#ffc3c3,#ffc6c6,#ffcaca,#ffcfcf,#ffd5d5,#ffdcdc,#ffe3e3,#ffebeb,#fff4f4,#fffdfd,#f6f6ff,#eaeaff,#ddddff,#ceceff,#bdbdff,#adadff,#9e9eff,#9191ff,#8787ff,#7e7eff,#7777ff,#7171ff,#6b6bff,#6666ff,#6161ff,#5b5bff,#5454ff,#4e4eff,#4747ff,#3f3fff,#3838ff,#3131ff,#2b2bff,#2424ff,#1e1eff,#1919ff,#1414ff,#1010ff,#0d0dff)"></div>
<div style="background:linear-gradient(90deg,#ffadad,#ffadad,#ffadad,#ffadad,#ffacac,#ffabab,#ffaaaa,#ffa9a9,#ffa7a7,#ffa6a6,#ffa5a5,#ffa4a4,#ffa3a3,#ffa3a3,#ffa3a3,#ffa3a3,#ffa3a3,#ffa4a4,#ffa5a5,#ffa7a7,#ffa9a9,#ffacac,#ffaeae,#ffb1b1,#ffb4b4,#ffb7b7,#ffbaba,#ffbdbd,#ffc0c0,#ffc3c3,#ffc6c6,#ffcaca,#ffcdcd,#ffd1d1,#ffd6d6,#ffdcdc,#ffe2e2,#ffe9e9,#fff2f2,#fffbfb,#f8f8ff,#ededff,#e0e0ff,#d2d2ff,#c2c2ff,#b3b3ff,#a4a4ff,#9696ff,#8b8bff,#8282ff,#7a7aff,#7474ff,#6f6fff,#6969ff,#6464ff,#5e5eff,#5858ff,#5252ff,#4b4bff,#4444ff,#3d3dff,#3636ff,#2f2fff,#2828ff,#2222ff,#1c1cff,#1717ff,#1313ff,#0f0fff,#0c0cff)"></div>
<div style="background:linear-gradient(90deg,#ffafaf,#ffafaf,#ffafaf,#ffafaf,#ffaeae,#ffadad,#ffacac,#ffabab,#ffaaaa,#ffa9a9,#ffa8a8,#ffa7a7,#ffa6a6,#ffa6a6,#ffa5a5,#ffa6a6,#ffa6a6,#ffa7a7,#ffa9a9,#ffabab,#ffadad,#ffb0b0,#ffb3b3,#ffb6b6,#ffb9b9,#ffbcbc,#ffc0c0,#ffc3c3,#ffc6c6,#ffc9c9,#ffcdcd,#ffd0d0,#ffd4d4,#ffd8d8,#ffdddd,#ffe3e3,#ffe9e9,#fff0f0,#fff8f8,#fcfcff,#f0f0ff,#e4e4ff,#d6d6ff,#c7c7ff,#b8b8ff,#a9a9ff,#9b9bff,#8f8fff,#8585ff,#7d7dff,#7777ff,#7171ff,#6c6cff,#6767ff,#6262ff,#5c5cff,#5656ff,#4f4fff,#4848ff,#4141ff,#3a3aff,#3333ff,#2c2cff,#2626ff,#2020ff,#1a1aff,#1515ff,#1111ff,#0e0eff,#0b0bff)"></div>
<div style="background:linear-gradient(90deg,#ffb1b1,#ffb1b1,#ffb1b1,#ffb1b1,#ffb0b0,#ffafaf,#ffaeae,#ffadad,#ffacac,#ffabab,#ffaaaa,#ffa9a9,#ffa9a9,#ffa8a8,#ffa8a8,#ffa9a9,#ffa9a9,#ffaaaa,#ffacac,#ffaeae,#ffb1b1,#ffb4b4,#ffb7b7,#ffbaba,#ffbebe,#ffc1c1,#ffc5c5,#ffc8c8,#ffcccc,#ffcfcf,#ffd3d3,#ffd7d7,#ffdbdb,#ffdfdf,#ffe4e4,#ffe9e9,#ffefef,#fff7f7,#ffffff,#f5f5ff,#e9e9ff,#dbdbff,#cdcdff,#bebeff,#afafff,#a1a1ff,#9494ff,#8989ff,#8080ff,#7979ff,#7474ff,#6f6fff,#6a6aff,#6565ff,#5f5fff,#5959ff,#5353ff,#4c4cff,#4545ff,#3e3eff,#3737ff,#3030ff,#2a2aff,#2323ff,#1e1eff,#1818ff,#1414ff,#1010ff,#0d0dff,#0a0aff)"></div>
<div style="background:linear-gradient(90deg,#ffb2b2,#ffb3b3,#ffb3b3,#ffb3b3,#ffb2b2,#ffb2b2,#ffb1b1,#ffb0b0,#ffafaf,#ffaeae,#ffadad,#ffacac,#ffacac,#ffabab,#ffabab,#ffacac,#ffacac,#ffaeae,#ffafaf,#ffb2b2,#ffb4b4,#ffb8b8,#ffbbbb,#ffbfbf,#ffc2c2,#ffc6c6,#ffcaca,#ffcece,#ffd2d2,#ffd5d5,#ffd9d9,#ffdddd,#ffe1e1,#ffe6e6,#ffebeb,#fff0f0,#fff6f6,#fffdfd,#f8f8ff,#eeeeff,#e2e2ff,#d3d3ff,#c5c5ff,#b6b6ff,#a7a7ff,#9a9aff,#8e8eff,#8484ff,#7c7cff,#7676ff,#7171ff,#6d6dff,#6868ff,#6363ff,#5d5dff,#5757ff,#5050ff,#4949ff,#4242ff,#3b3bff,#3434ff,#2e2eff,#2727ff,#2121ff,#1c1cff,#1717ff,#1212ff,#0e0eff,#0c0cff,#0a0aff)"></div>
<div style="background:linear-gradient(90deg,#ffb4b4,#ffb5b5,#ffb5b5,#ffb5b5,#ffb4b4,#ffb4b4,#ffb3b3,#ffb2b2,#ffb1b1,#ffb0b0,#ffafaf,#ffafaf,#ffaeae,#ffaeae,#ffaeae,#ffaeae,#ffafaf,#ffb1b1,#ffb3b3,#ffb5b5,#ffb8b8,#ffbbbb,#ffbfbf,#ffc3c3,#ffc7c7,#ffcbcb,#ffcfcf,#ffd3d3,#ffd7d7,#ffdbdb,#ffdfdf,#ffe3e3,#ffe8e8,#ffecec,#fff1f1,#fff6f6,#fffcfc,#fbfbff,#f2f2ff,#e8e8ff,#dbdbff,#cdcdff,#bebeff,#afafff,#a1a1ff,#9595ff,#8a8aff,#8181ff,#7979ff,#7474ff,#6f6fff,#6a6aff,#6666ff,#6060ff,#5a5aff,#5454ff,#4d4dff,#4646ff,#3f3fff,#3838ff,#3131ff,#2b2bff,#2525ff,#1f1fff,#1919ff,#1515ff,#1111ff,#0d0dff,#0b0bff,#0909ff)"></div>
<div style="background:linear-gradient(90deg,#ffb6b6,#ffb6b6,#ffb7b7,#ffb7b7,#ffb7b7,#ffb6b6,#ffb5b5,#ffb5b5,#ffb4b4,#ffb3b3,#ffb2b2,#ffb1b1,#ffb1b1,#ffb1b1,#ffb1b1,#ffb1b1,#ffb2b2,#ffb4b4,#ffb6b6,#ffb9b9,#ffbcbc,#ffbfbf,#ffc3c3,#ffc7c7,#ffcbcb,#ffd0d0,#ffd4d4,#ffd8d8,#ffdcdc,#ffe0e0,#ffe5e5,#ffe9e9,#ffeded,#fff2f2,#fff7f7,#fffcfc,#fcfcff,#f5f5ff,#ececff,#e1e1ff,#d5d5ff,#c7c7ff,#b8b8ff,#aaaaff,#9d9dff,#9191ff,#8787ff,#7e7eff,#7777ff,#7272ff,#6d6dff,#6868ff,#6363ff,#5e5eff,#5858ff,#5151ff,#4a4aff,#4343ff,#3c3cff,#3535ff,#2f2fff,#2828ff,#2222ff,#1d1dff,#1818ff,#1313ff,#0f0fff,#0c0cff,#0a0aff,#0808ff)"></div>
<div style="background:linear-gradient(90deg,#ffb7b7,#ffb8b8,#ffb9b9,#ffb9b9,#ffb9b9,#ffb8b8,#ffb8b8,#ffb7b7,#ffb6b6,#ffb5b5,#ffb5b5,#ffb4b4,#ffb4b4,#ffb3b3,#ffb4b4,#ffb4b4,#ffb5b5,#ffb7b7,#ffb9b9,#ffbcbc,#ffbfbf,#ffc3c3,#ffc7c7,#ffcbcb,#ffd0d0,#ffd4d4,#ffd9d9,#ffdddd,#ffe1e1,#ffe5e5,#ffeaea,#ffeeee,#fff3f3,#fff8f8,#fffdfd,#fcfcff,#f6f6ff,#efefff,#e6e6ff,#dcdcff,#cfcfff,#c2c2ff,#b4b4ff,#a6a6ff,#9999ff,#8e8eff,#8484ff,#7c7cff,#7575ff,#7070ff,#6b6bff,#6666ff,#6161ff,#5b5bff,#5555ff,#4e4eff,#4747ff,#4040ff,#3939ff,#3232ff,#2c2cff,#2626ff,#2020ff,#1b1bff,#1616ff,#1111ff,#0e0eff,#0b0bff,#0909ff,#0707ff)"></div>
<div style="background:linear-gradient(90deg,#ffb9b9,#ffbaba,#ffbbbb,#ffbbbb,#ffbbbb,#ffbbbb,#ffbaba,#ffb9b9,#ffb9b9,#ffb8b8,#ffb7b7,#ffb7b7,#ffb6b6,#ffb6b6,#ffb7b7,#ffb7b7,#ffb8b8,#ffbaba,#ffbcbc,#ffbfbf,#ffc3c3,#ffc7c7,#ffcbcb,#ffcfcf,#ffd4d4,#ffd8d8,#ffdddd,#ffe1e1,#ffe6e6,#ffeaea,#ffefef,#fff3f3,#fff8f8,#fffdfd,#fcfcff,#f7f7ff,#f0f0ff,#e9e9ff,#e1e1ff,#d6d6ff,#cacaff,#bdbdff,#b0b0ff,#a2a2ff,#9696ff,#8c8cff,#8383ff,#7b7bff,#7474ff,#6f6fff,#6a6aff,#6464ff,#5f5fff,#5959ff,#5252ff,#4b4bff,#4444ff,#3d3dff,#3636ff,#3030ff,#2929ff,#2323ff,#1e1eff,#1919ff,#1414ff,#1010ff,#0d0dff,#0a0aff,#0808ff,#0606ff)"></div>
<div style="background:linear-gradient(90deg,#ffbbbb,#ffbcbc,#ffbdbd,#ffbdbd,#ffbdbd,#ffbdbd,#ffbcbc,#ffbcbc,#ffbbbb,#ffbaba,#ffbaba,#ffb9b9,#ffb9b9,#ffb9b9,#ffb9b9,#ffbaba,#ffbbbb,#ffbdbd,#ffc0c0,#ffc3c3,#ffc6c6,#ffcaca,#ffcfcf,#ffd3d3,#ffd8d8,#ffdcdc,#ffe1e1,#ffe6e6,#ffeaea,#ffeeee,#fff3f3,#fff7f7,#fffcfc,#fdfdff,#f7f7ff,#f2f2ff,#ebebff,#e4e4ff,#dcdcff,#d2d2ff,#c6c6ff,#b9b9ff,#acacff,#a0a0ff,#9494ff,#8a8aff,#8282ff,#7a7aff,#7373ff,#6d6dff,#6868ff,#6363ff,#5d5dff,#5656ff,#5050ff,#4949ff,#4141ff,#3a3aff,#3434ff,#2d2dff,#2727ff,#2121ff,#1c1cff,#1717ff,#1212ff,#0f0fff,#0b0bff,#0909ff,#0707ff,#0606ff)"></div>
<div style="background:linear-gradient(90deg,#ffbdbd,#ffbebe,#ffbfbf,#ffbfbf,#ffbfbf,#ffbfbf,#ffbebe,#ffbebe,#ffbdbd,#ffbdbd,#ffbcbc,#ffbcbc,#ffbcbc,#ffbcbc,#ffbcbc,#ffbdbd,#ffbebe,#ffc0c0,#ffc3c3,#ffc6c6,#ffcaca,#ffcece,#ffd2d2,#ffd7d7,#ffdbdb,#ffe0e0,#ffe5e5,#ffe9e9,#ffeeee,#fff2f2,#fff7f7,#fffbfb,#fefeff,#f9f9ff,#f3f3ff,#eeeeff,#e7e7ff,#e0e0ff,#d7d7ff,#cdcdff,#c2c2ff,#b6b6ff,#aaaaff,#9e9eff,#9393ff,#8989ff,#8181ff,#7979ff,#7272ff,#6c6cff,#6767ff,#6161ff,#5b5bff,#5454ff,#4d4dff,#4646ff,#3f3fff,#3838ff,#3131ff,#2b2bff,#2525ff,#1f1fff,#1a1aff,#1515ff,#1111ff,#0d0dff,#0a0aff,#0808ff,#0606ff,#0505ff)"></div>
<div style="background:linear-gradient(90deg,#ffbebe,#ffc0c0,#ffc0c0,#ffc1c1,#ffc1c1,#ffc1c1,#ffc1c1,#ffc0c0,#ffc0c0,#ffbfbf,#ffbfbf,#ffbebe,#ffbebe,#ffbfbf,#ffbfbf,#ffc0c0,#ffc1c1,#ffc3c3,#ffc6c6,#ffc9c9,#ffcdcd,#ffd1d1,#ffd5d5,#ffdada,#ffdfdf,#ffe4e4,#ffe8e8,#ffeded,#fff1f1,#fff6f6,#fffafa,#ffffff,#fbfbff,#f5f5ff,#f0f0ff,#eaeaff,#e3e3ff,#dcdcff,#d4d4ff,#cacaff,#bfbfff,#b3b3ff,#a7a7ff,#9c9cff,#9191ff,#8888ff,#8080ff,#7878ff,#7272ff,#6b6bff,#6565ff,#5f5fff,#5858ff,#5151ff,#4a4aff,#4343ff,#3c3cff,#3535ff,#2f2fff,#2828ff,#2323ff,#1d1dff,#1818ff,#1414ff,#1010ff,#0c0cff,#0909ff,#0707ff,#0606ff,#0404ff)"></div>
<div style="background:linear-gradient(90deg,#ffc0c0,#ffc1c1,#ffc2c2,#ffc3c3,#ffc3c3,#ffc3c3,#ffc3c3,#ffc2c2,#ffc2c2,#ffc1c1,#ffc1c1,#ffc1c1,#ffc1c1,#ffc1c1,#ffc2c2,#ffc3c3,#ffc5c5,#ffc7c7,#ffc9c9,#ffcccc,#ffd0d0,#ffd4d4,#ffd9d9,#ffdddd,#ffe2e2,#ffe7e7,#ffebeb,#fff0f0,#fff4f4,#fff9f9,#fffdfd,#fcfcff,#f8f8ff,#f3f3ff,#ededff,#e7e7ff,#e0e0ff,#d9d9ff,#d0d0ff,#c7c7ff,#bcbcff,#b1b1ff,#a5a5ff,#9a9aff,#9090ff,#8787ff,#7f7fff,#7878ff,#7171ff,#6a6aff,#6363ff,#5d5dff,#5656ff,#4f4fff,#4848ff,#4141ff,#3a3aff,#3333ff,#2c2cff,#2626ff,#2121ff,#1c1cff,#1717ff,#1313ff,#0f0fff,#0b0bff,#0909ff,#0707ff,#0505ff,#0404ff)"></div>
<div style="background:linear-gradient(90deg,#ffc2c2,#ffc3c3,#ffc4c4,#ffc4c4,#ffc5c5,#ffc5c5,#ffc5c5,#ffc4c4,#ffc4c4,#ffc4c4,#ffc4c4,#ffc4c4,#ffc4c4,#ffc4c4,#ffc5c5,#ffc6c6,#ffc8c8,#ffcaca,#ffcccc,#ffd0d0,#ffd3d3,#ffd7d7,#ffdcdc,#ffe0e0,#ffe5e5,#ffeaea,#ffeeee,#fff3f3,#fff7f7,#fffbfb,#fefeff,#fafaff,#f5f5ff,#f0f0ff,#ebebff,#e4e4ff,#dedeff,#d6d6ff,#cdcdff,#c4c4ff,#b9b9ff,#aeaeff,#a3a3ff,#9999ff,#8f8fff,#8686ff,#7e7eff,#7777ff,#7070ff,#6969ff,#6262ff,#5b5bff,#5454ff,#4d4dff,#4545ff,#3e3eff,#3737ff,#3131ff,#2a2aff,#2525ff,#1f1fff,#1a1aff,#1616ff,#1111ff,#0e0eff,#0b0bff,#0808ff,#0606ff,#0404ff,#0303ff)"></div>
<div style="background:linear-gradient(90deg,#ffc4c4,#ffc5c5,#ffc6c6,#ffc6c6,#ffc6c6,#ffc7c7,#ffc7c7,#ffc6c6,#ffc6c6,#ffc6c6,#ffc6c6,#ffc6c6,#ffc6c6,#ffc7c7,#ffc8c8,#ffc9c9,#ffcbcb,#ffcdcd,#ffd0d0,#ffd3d3,#ffd7d7,#ffdbdb,#ffdfdf,#ffe3e3,#ffe8e8,#ffeded,#fff1f1,#fff5f5,#fff9f9,#fffefe,#fcfcff,#f8f8ff,#f3f3ff,#eeeeff,#e8e8ff,#e2e2ff,#dbdbff,#d4d4ff,#cbcbff,#c2c2ff,#b7b7ff,#adadff,#a2a2ff,#9898ff,#8e8eff,#8585ff,#7d7dff,#7676ff,#6e6eff,#6767ff,#6060ff,#5959ff,#5252ff,#4a4aff,#4343ff,#3c3cff,#3535ff,#2f2fff,#2929ff,#2323ff,#1e1eff,#1919ff,#1414ff,#1111ff,#0d0dff,#0a0aff,#0808ff,#0505ff,#0404ff,#0303ff)"></div>
<div style="background:linear-gradient(90deg,#ffc5c5,#ffc6c6,#ffc7c7,#ffc8c8,#ffc8c8,#ffc8c8,#ffc8c8,#ffc8c8,#ffc8c8,#ffc8c8,#ffc8c8,#ffc9c9,#ffc9c9,#ffcaca,#ffcbcb,#ffcccc,#ffcece,#ffd0d0,#ffd3d3,#ffd6d6,#ffdada,#ffdede,#ffe2e2,#ffe6e6,#ffebeb,#ffefef,#fff3f3,#fff8f8,#fffcfc,#fefeff,#fafaff,#f6f6ff,#f1f1ff,#ececff,#e7e7ff,#e0e0ff,#d9d9ff,#d2d2ff,#c9c9ff,#c0c0ff,#b5b5ff,#ababff,#a0a0ff,#9696ff,#8d8dff,#8484ff,#7c7cff,#7575ff,#6d6dff,#6666ff,#5e5eff,#5757ff,#4f4fff,#4848ff,#4141ff,#3a3aff,#3333ff,#2d2dff,#2727ff,#2121ff,#1c1cff,#1818ff,#1313ff,#1010ff,#0c0cff,#0a0aff,#0707ff,#0505ff,#0303ff,#0202ff)"></div>
<div style="background:linear-gradient(90deg,#ffc7c7,#ffc8c8,#ffc9c9,#ffcaca,#ffcaca,#ffcaca,#ffcaca,#ffcbcb,#ffcbcb,#ffcbcb,#ffcbcb,#ffcbcb,#ffcccc,#ffcdcd,#ffcece,#ffcfcf,#ffd1d1,#ffd3d3,#ffd6d6,#ffd9d9,#ffdddd,#ffe1e1,#ffe5e5,#ffe9e9,#ffeded,#fff2f2,#fff6f6,#fffafa,#fffefe,#fdfdff,#f9f9ff,#f4f4ff,#f0f0ff,#ebebff,#e5e5ff,#dfdfff,#d8d8ff,#d0d0ff,#c7c7ff,#bebeff,#b4b4ff,#a9a9ff,#9f9fff,#9595ff,#8c8cff,#8383ff,#7b7bff,#7373ff,#6c6cff,#6464ff,#5c5cff,#5555ff,#4d4dff,#4646ff,#3f3fff,#3838ff,#3131ff,#2b2bff,#2525ff,#2020ff,#1b1bff,#1717ff,#1313ff,#0f0fff,#0c0cff,#0909ff,#0707ff,#0505ff,#0303ff,#0202ff)"></div>
<div style="background:linear-gradient(90deg,#ffc9c9,#ffcaca,#ffcbcb,#ffcbcb,#ffcccc,#ffcccc,#ffcccc,#ffcdcd,#ffcdcd,#ffcdcd,#ffcdcd,#ffcece,#ffcfcf,#ffd0d0,#ffd1d1,#ffd2d2,#ffd4d4,#ffd6d6,#ffd9d9,#ffdcdc,#ffe0e0,#ffe4e4,#ffe8e8,#ffecec,#fff0f0,#fff4f4,#fff8f8,#fffcfc,#fefeff,#fbfbff,#f7f7ff,#f3f3ff,#eeeeff,#e9e9ff,#e4e4ff,#ddddff,#d6d6ff,#ceceff,#c5c5ff,#bcbcff,#b2b2ff,#a8a8ff,#9d9dff,#9494ff,#8b8bff,#8282ff,#7a7aff,#7272ff,#6a6aff,#6262ff,#5a5aff,#5353ff,#4b4bff,#4444ff,#3c3cff,#3636ff,#2f2fff,#2929ff,#2424ff,#1f1fff,#1a1aff,#1616ff,#1212ff,#0e0eff,#0b0bff,#0909ff,#0606ff,#0404ff,#0303ff,#0101ff)"></div>
<div style="background:linear-gradient(90deg,#ffcbcb,#ffcccc,#ffcdcd,#ffcdcd,#ffcece,#ffcece,#ffcece,#ffcfcf,#ffcfcf,#ffcfcf,#ffd0d0,#ffd1d1,#ffd1d1,#ffd2d2,#ffd4d4,#ffd5d5,#ffd7d7,#ffdada,#ffdcdc,#ffe0e0,#ffe3e3,#ffe7e7,#ffebeb,#ffefef,#fff3f3,#fff7f7,#fffbfb,#fffefe,#fcfcff,#f9f9ff,#f5f5ff,#f1f1ff,#ededff,#e8e8ff,#e2e2ff,#dcdcff,#d4d4ff,#ccccff,#c4c4ff,#babaff,#b0b0ff,#a6a6ff,#9c9cff,#9292ff,#8989ff,#8080ff,#7878ff,#7070ff,#6868ff,#6060ff,#5858ff,#5050ff,#4949ff,#4141ff,#3a3aff,#3434ff,#2e2eff,#2828ff,#2222ff,#1e1eff,#1919ff,#1515ff,#1111ff,#0e0eff,#0b0bff,#0808ff,#0606ff,#0404ff,#0202ff,#0101ff)"></div>
<div style="background:linear-gradient(90deg,#ffcdcd,#ffcece,#ffcfcf,#ffcfcf,#ffd0d0,#ffd0d0,#ffd1d1,#ffd1d1,#ffd1d1,#ffd2d2,#ffd3d3,#ffd3d3,#ffd4d4,#ffd5d5,#ffd7d7,#ffd9d9,#ffdbdb,#ffdddd,#ffe0e0,#ffe3e3,#ffe6e6,#ffeaea,#ffeeee,#fff2f2,#fff5f5,#fff9f9,#fffdfd,#fefeff,#fafaff,#f7f7ff,#f3f3ff,#f0f0ff,#ebebff,#e6e6ff,#e1e1ff,#dadaff,#d3d3ff,#cbcbff,#c2c2ff,#b8b8ff,#afafff,#a4a4ff,#9a9aff,#9191ff,#8888ff,#7f7fff,#7676ff,#6e6eff,#6666ff,#5e5eff,#5656ff,#4e4eff,#4747ff,#3f3fff,#3838ff,#3232ff,#2c2cff,#2626ff,#2121ff,#1c1cff,#1818ff,#1414ff,#1111ff,#0d0dff,#0b0bff,#0808ff,#0606ff,#0404ff,#0202ff,#0101ff)"></div>
<div style="background:linear-gradient(90deg,#ffd0d0,#ffd0d0,#ffd1d1,#ffd1d1,#ffd2d2,#ffd2d2,#ffd3d3,#ffd3d3,#ffd4d4,#ffd4d4,#ffd5d5,#ffd6d6,#ffd7d7,#ffd9d9,#ffdada,#ffdcdc,#ffdede,#ffe0e0,#ffe3e3,#ffe6e6,#ffeaea,#ffeded,#fff1f1,#fff5f5,#fff8f8,#fffcfc,#ffffff,#fbfbff,#f8f8ff,#f5f5ff,#f2f2ff,#eeeeff,#eaeaff,#e5e5ff,#dfdfff,#d9d9ff,#d1d1ff,#c9c9ff,#c0c0ff,#b7b7ff,#adadff,#a3a3ff,#9999ff,#8f8fff,#8686ff,#7d7dff,#7575ff,#6c6cff,#6464ff,#5c5cff,#5454ff,#4c4cff,#4444ff,#3d3dff,#3737ff,#3030ff,#2a2aff,#2525ff,#2020ff,#1b1bff,#1717ff,#1313ff,#1010ff,#0d0dff,#0a0aff,#0808ff,#0606ff,#0404ff,#0202ff,#0101ff)"></div>
<div style="background:linear-gradient(90deg,#ffd2d2,#ffd3d3,#ffd3d3,#ffd4d4,#ffd4d4,#ffd5d5,#ffd5d5,#ffd6d6,#ffd6d6,#ffd7d7,#ffd8d8,#ffd9d9,#ffdada,#ffdcdc,#ffdddd,#ffdfdf,#ffe1e1,#ffe4e4,#ffe6e6,#ffeaea,#ffeded,#fff0f0,#fff4f4,#fff8f8,#fffbfb,#ffffff,#fcfcff,#f9f9ff,#f6f6ff,#f3f3ff,#f0f0ff,#ececff,#e8e8ff,#e3e3ff,#ddddff,#d7d7ff,#cfcfff,#c7c7ff,#bebeff,#b5b5ff,#ababff,#a1a1ff,#9797ff,#8d8dff,#8484ff,#7b7bff,#7272ff,#6a6aff,#6262ff,#5a5aff,#5252ff,#4a4aff,#4242ff,#3b3bff,#3535ff,#2f2fff,#2929ff,#2424ff,#1f1fff,#1a1aff,#1616ff,#1313ff,#0f0fff,#0c0cff,#0a0aff,#0707ff,#0505ff,#0303ff,#0202ff,#0000ff)"></div>
<div style="background:linear-gradient(90deg,#ffd5d5,#ffd5d5,#ffd6d6,#ffd6d6,#ffd7d7,#ffd7d7,#ffd8d8,#ffd8d8,#ffd9d9,#ffdada,#ffdbdb,#ffdcdc,#ffdddd,#ffdfdf,#ffe1e1,#ffe2e2,#ffe5e5,#ffe7e7,#ffeaea,#ffeded,#fff0f0,#fff4f4,#fff7f7,#fffbfb,#fffefe,#fcfcff,#f9f9ff,#f6f6ff,#f3f3ff,#f0f0ff,#ededff,#eaeaff,#e6e6ff,#e1e1ff,#dbdbff,#d5d5ff,#cdcdff,#c5c5ff,#bcbcff,#b3b3ff,#a9a9ff,#9f9fff,#9595ff,#8b8bff,#8282ff,#7979ff,#7070ff,#6868ff,#6060ff,#5757ff,#4f4fff,#4848ff,#4040ff,#3939ff,#3333ff,#2d2dff,#2727ff,#2222ff,#1e1eff,#1919ff,#1616ff,#1212ff,#0f0fff,#0c0cff,#0909ff,#0707ff,#0505ff,#0303ff,#0202ff,#0000ff)"></div>
<div style="background:linear-gradient(90deg,#ffd8d8,#ffd8d8,#ffd8d8,#ffd9d9,#ffd9d9,#ffdada,#ffdada,#ffdbdb,#ffdcdc,#ffdddd,#ffdede,#ffdfdf,#ffe0e0,#ffe2e2,#ffe4e4,#ffe6e6,#ffe8e8,#ffebeb,#ffeeee,#fff1f1,#fff4f4,#fff7f7,#fffbfb,#fffefe,#fdfdff,#f9f9ff,#f6f6ff,#f3f3ff,#f0f0ff,#eeeeff,#ebebff,#e7e7ff,#e3e3ff,#dedeff,#d9d9ff,#d2d2ff,#cbcbff,#c3c3ff,#babaff,#b0b0ff,#a6a6ff,#9d9dff,#9393ff,#8989ff,#8080ff,#7777ff,#6e6eff,#6666ff,#5d5dff,#5555ff,#4d4dff,#4646ff,#3e3eff,#3838ff,#3131ff,#2c2cff,#2626ff,#2121ff,#1d1dff,#1818ff,#1515ff,#1111ff,#0e0eff,#0b0bff,#0909ff,#0707ff,#0505ff,#0303ff,#0101ff,#0000ff)"></div>
<div style="background:linear-gradient(90deg,#ffdbdb,#ffdbdb,#ffdbdb,#ffdbdb,#ffdcdc,#ffdcdc,#ffdddd,#ffdede,#ffdfdf,#ffe0e0,#ffe1e1,#ffe2e2,#ffe4e4,#ffe5e5,#ffe7e7,#ffe9e9,#ffecec,#ffeeee,#fff1f1,#fff4f4,#fff7f7,#fffbfb,#fffefe,#fcfcff,#f9f9ff,#f6f6ff,#f3f3ff,#f0f0ff,#ededff,#eaeaff,#e7e7ff,#e4e4ff,#e0e0ff,#dcdcff,#d6d6ff,#d0d0ff,#c8c8ff,#c0c0ff,#b7b7ff,#aeaeff,#a4a4ff,#9a9aff,#9090ff,#8787ff,#7d7dff,#7575ff,#6c6cff,#6363ff,#5b5bff,#5353ff,#4b4bff,#4444ff,#3d3dff,#3636ff,#3030ff,#2a2aff,#2525ff,#2020ff,#1c1cff,#1818ff,#1414ff,#1010ff,#0d0dff,#0b0bff,#0808ff,#0606ff,#0404ff,#0303ff,#0101ff,#0000ff)"></div>
<div style="background:linear-gradient(90deg,#ffdede,#ffdede,#ffdede,#ffdede,#ffdfdf,#ffdfdf,#ffe0e0,#ffe1e1,#ffe2e2,#ffe3e3,#ffe4e4,#ffe5e5,#ffe7e7,#ffe9e9,#ffebeb,#ffeded,#ffefef,#fff2f2,#fff5f5,#fff8f8,#fffbfb,#fffefe,#fcfcff,#f9f9ff,#f5f5ff,#f2f2ff,#efefff,#ececff,#eaeaff,#e7e7ff,#e4e4ff,#e1e1ff,#ddddff,#d8d8ff,#d3d3ff,#cdcdff,#c5c5ff,#bdbdff,#b4b4ff,#ababff,#a1a1ff,#9797ff,#8e8eff,#8484ff,#7b7bff,#7272ff,#6969ff,#6161ff,#5959ff,#5151ff,#4949ff,#4242ff,#3b3bff,#3434ff,#2e2eff,#2929ff,#2424ff,#1f1fff,#1a1aff,#1717ff,#1313ff,#1010ff,#0d0dff,#0a0aff,#0808ff,#0606ff,#0404ff,#0202ff,#0101ff,#0000ff)"></div>
<div style="background:linear-gradient(90deg,#ffe1e1,#ffe1e1,#ffe1e1,#ffe1e1,#ffe2e2,#ffe2e2,#ffe3e3,#ffe4e4,#ffe5e5,#ffe6e6,#ffe7e7,#ffe9e9,#ffeaea,#ffecec,#ffeeee,#fff0f0,#fff3f3,#fff6f6,#fff9f9,#fffcfc,#ffffff,#fcfcff,#f8f8ff,#f5f5ff,#f2f2ff,#efefff,#ececff,#e9e9ff,#e6e6ff,#e3e3ff,#e0e0ff,#ddddff,#d9d9ff,#d5d5ff,#cfcfff,#c9c9ff,#c2c2ff,#babaff,#b1b1ff,#a8a8ff,#9e9eff,#9494ff,#8b8bff,#8282ff,#7878ff,#7070ff,#6767ff,#5f5fff,#5757ff,#4f4fff,#4747ff,#4040ff,#3939ff,#3333ff,#2d2dff,#2727ff,#2222ff,#1e1eff,#1919ff,#1616ff,#1212ff,#0f0fff,#0c0cff,#0909ff,#0707ff,#0505ff,#0303ff,#0202ff,#0101ff,#0000ff)"></div>
<div style="background:linear-gradient(90deg,#ffe4e4,#ffe4e4,#ffe4e4,#ffe5e5,#ffe5e5,#ffe5e5,#ffe6e6,#ffe7e7,#ffe8e8,#ffe9e9,#ffeaea,#ffecec,#ffeeee,#fff0f0,#fff2f2,#fff4f4,#fff7f7,#fff9f9,#fffcfc,#ffffff,#fbfbff,#f8f8ff,#f5f5ff,#f1f1ff,#eeeeff,#ebebff,#e8e8ff,#e5e5ff,#e2e2ff,#e0e0ff,#ddddff,#d9d9ff,#d6d6ff,#d1d1ff,#ccccff,#c5c5ff,#bebeff,#b6b6ff,#adadff,#a4a4ff,#9b9bff,#9191ff,#8888ff,#7f7fff,#7676ff,#6d6dff,#6565ff,#5c5cff,#5454ff,#4d4dff,#4545ff,#3e3eff,#3737ff,#3131ff,#2b2bff,#2626ff,#2121ff,#1d1dff,#1818ff,#1515ff,#1111ff,#0e0eff,#0b0bff,#0909ff,#0707ff,#0505ff,#0303ff,#0202ff,#0101ff,#0000ff)"></div>
<div style="background:linear-gradient(90deg,#ffe8e8,#ffe8e8,#ffe8e8,#ffe8e8,#ffe8e8,#ffe9e9,#ffe9e9,#ffeaea,#ffebeb,#ffecec,#ffeeee,#ffefef,#fff1f1,#fff3f3,#fff5f5,#fff8f8,#fffafa,#fffdfd,#fefeff,#fbfbff,#f7f7ff,#f4f4ff,#f1f1ff,#ededff,#eaeaff,#e7e7ff,#e4e4ff,#e1e1ff,#dedeff,#dbdbff,#d9d9ff,#d5d5ff,#d2d2ff,#cdcdff,#c8c8ff,#c2c2ff,#babaff,#b2b2ff,#aaaaff,#a1a1ff,#9898ff,#8e8eff,#8585ff,#7c7cff,#7373ff,#6a6aff,#6262ff,#5a5aff,#5252ff,#4b4bff,#4343ff,#3c3cff,#3636ff,#3030ff,#2a2aff,#2525ff,#2020ff,#1c1cff,#1717ff,#1414ff,#1010ff,#0d0dff,#0b0bff,#0808ff,#0606ff,#0404ff,#0303ff,#0101ff,#0000ff,#0000ff)"></div>
<div style="background:linear-gradient(90deg,#ffebeb,#ffebeb,#ffebeb,#ffebeb,#ffebeb,#ffecec,#ffeded,#ffeded,#ffeeee,#fff0f0,#fff1f1,#fff3f3,#fff5f5,#fff7f7,#fff9f9,#fffbfb,#fffefe,#fdfdff,#fafaff,#f7f7ff,#f4f4ff,#f0f0ff,#ededff,#e9e9ff,#e6e6ff,#e3e3ff,#e0e0ff,#ddddff,#dadaff,#d7d7ff,#d4d4ff,#d1d1ff,#cdcdff,#c9c9ff,#c4c4ff,#bebeff,#b7b7ff,#afafff,#a6a6ff,#9d9dff,#9494ff,#8b8bff,#8282ff,#7979ff,#7070ff,#6868ff,#6060ff,#5858ff,#5050ff,#4949ff,#4141ff,#3b3bff,#3434ff,#2e2eff,#2929ff,#2424ff,#1f1fff,#1b1bff,#1616ff,#1313ff,#0f0fff,#0c0cff,#0a0aff,#0707ff,#0505ff,#0404ff,#0202ff,#0101ff,#0000ff,#0000ff)"></div>
<div style="background:linear-gradient(90deg,#ffefef,#ffefef,#ffeeee,#ffeeee,#ffefef,#ffefef,#fff0f0,#fff1f1,#fff2f2,#fff3f3,#fff5f5,#fff6f6,#fff8f8,#fffafa,#fffcfc,#ffffff,#fcfcff,#f9f9ff,#f6f6ff,#f3f3ff,#f0f0ff,#ececff,#e9e9ff,#e5e5ff,#e2e2ff,#dfdfff,#dbdbff,#d9d9ff,#d6d6ff,#d3d3ff,#d0d0ff,#cdcdff,#c9c9ff,#c5c5ff,#c0c0ff,#babaff,#b3b3ff,#ababff,#a3a3ff,#9a9aff,#9191ff,#8888ff,#7f7fff,#7676ff,#6d6dff,#6565ff,#5d5dff,#5555ff,#4e4eff,#4747ff,#4040ff,#3939ff,#3333ff,#2d2dff,#2828ff,#2323ff,#1e1eff,#1a1aff,#1616ff,#1212ff,#0f0fff,#0c0cff,#0909ff,#0707ff,#0505ff,#0303ff,#0202ff,#0101ff,#0000ff,#0000ff)"></div>
<div style="background:linear-gradient(90deg,#fff2f2,#fff2f2,#fff2f2,#fff2f2,#fff2f2,#fff3f3,#fff3f3,#fff4f4,#fff5f5,#fff6f6,#fff8f8,#fffafa,#fffcfc,#fffefe,#fefeff,#fbfbff,#f9f9ff,#f6f6ff,#f3f3ff,#efefff,#ececff,#e8e8ff,#e5e5ff,#e1e1ff,#dedeff,#dadaff,#d7d7ff,#d4d4ff,#d2d2ff,#cfcfff,#ccccff,#c9c9ff,#c5c5ff,#c1c1ff,#bcbcff,#b6b6ff,#afafff,#a7a7ff,#9f9fff,#9696ff,#8d8dff,#8585ff,#7c7cff,#7373ff,#6b6bff,#6262ff,#5b5bff,#5353ff,#4c4cff,#4545ff,#3e3eff,#3838ff,#3131ff,#2c2cff,#2626ff,#2121ff,#1d1dff,#1919ff,#1515ff,#1111ff,#0e0eff,#0b0bff,#0808ff,#0606ff,#0404ff,#0303ff,#0101ff,#0000ff,#0000ff,#0000ff)"></div>
<div style="background:linear-gradient(90deg,#fff6f6,#fff5f5,#fff5f5,#fff5f5,#fff5f5,#fff6f6,#fff7f7,#fff7f7,#fff9f9,#fffafa,#fffbfb,#fffdfd,#ffffff,#fdfdff,#fafaff,#f8f8ff,#f5f5ff,#f2f2ff,#efefff,#ececff,#e8e8ff,#e4e4ff,#e1e1ff,#ddddff,#dadaff,#d6d6ff,#d3d3ff,#d0d0ff,#cdcdff,#cbcbff,#c8c8ff,#c4c4ff,#c1c1ff,#bcbcff,#b7b7ff,#b2b2ff,#ababff,#a3a3ff,#9b9bff,#9393ff,#8a8aff,#8181ff,#7979ff,#7070ff,#6868ff,#6060ff,#5858ff,#5151ff,#4a4aff,#4343ff,#3c3cff,#3636ff,#3030ff,#2b2bff,#2525ff,#2020ff,#1c1cff,#1818ff,#1414ff,#1010ff,#0d0dff,#0a0aff,#0808ff,#0505ff,#0404ff,#0202ff,#0101ff,#0000ff,#0000ff,#0000ff)"></div>
<div style="background:linear-gradient(90deg,#fff9f9,#fff9f9,#fff8f8,#fff9f9,#fff9f9,#fff9f9,#fffafa,#fffbfb,#fffcfc,#fffdfd,#ffffff,#fdfdff,#fcfcff,#f9f9ff,#f7f7ff,#f4f4ff,#f2f2ff,#efefff,#ebebff,#e8e8ff,#e4e4ff,#e1e1ff,#ddddff,#d9d9ff,#d6d6ff,#d2d2ff,#cfcfff,#ccccff,#c9c9ff,#c7c7ff,#c4c4ff,#c0c0ff,#bdbdff,#b8b8ff,#b3b3ff,#aeaeff,#a7a7ff,#a0a0ff,#9898ff,#8f8fff,#8787ff,#7e7eff,#7575ff,#6d6dff,#6565ff,#5d5dff,#5656ff,#4e4eff,#4747ff,#4141ff,#3b3bff,#3535ff,#2f2fff,#2929ff,#2424ff,#1f1fff,#1b1bff,#1717ff,#1313ff,#0f0fff,#0c0cff,#0909ff,#0707ff,#0505ff,#0303ff,#0202ff,#0101ff,#0000ff,#0000ff,#0000ff)"></div>
<div style="background:linear-gradient(90deg,#fffcfc,#fffcfc,#fffcfc,#fffcfc,#fffcfc,#fffdfd,#fffdfd,#fffefe,#ffffff,#fdfdff,#fcfcff,#fafaff,#f8f8ff,#f6f6ff,#f3f3ff,#f1f1ff,#eeeeff,#ebebff,#e8e8ff,#e4e4ff,#e1e1ff,#ddddff,#d9d9ff,#d5d5ff,#d2d2ff,#ceceff,#cbcbff,#c8c8ff,#c5c5ff,#c2c2ff,#c0c0ff,#bcbcff,#b9b9ff,#b4b4ff,#b0b0ff,#aaaaff,#a3a3ff,#9c9cff,#9494ff,#8c8cff,#8383ff,#7b7bff,#7272ff,#6a6aff,#6262ff,#5a5aff,#5353ff,#4c4cff,#4545ff,#3f3fff,#3939ff,#3333ff,#2d2dff,#2828ff,#2323ff,#1e1eff,#1a1aff,#1616ff,#1212ff,#0f0fff,#0b0bff,#0909ff,#0606ff,#0404ff,#0202ff,#0101ff,#0000ff,#0000ff,#0000ff,#0000ff)"></div>
<div style="background:linear-gradient(90deg,#ffffff,#ffffff,#ffffff,#ffffff,#ffffff,#fefeff,#fdfdff,#fdfdff,#fbfbff,#fafaff,#f8f8ff,#f7f7ff,#f5f5ff,#f3f3ff,#f0f0ff,#ededff,#ebebff,#e7e7ff,#e4e4ff,#e1e1ff,#ddddff,#d9d9ff,#d5d5ff,#d2d2ff,#ceceff,#cbcbff,#c7c7ff,#c4c4ff,#c1c1ff,#bfbfff,#bcbcff,#b8b8ff,#b5b5ff,#b1b1ff,#acacff,#a6a6ff,#a0a0ff,#9898ff,#9191ff,#8888ff,#8080ff,#7878ff,#6f6fff,#6767ff,#5f5fff,#5858ff,#5151ff,#4a4aff,#4343ff,#3d3dff,#3737ff,#3232ff,#2c2cff,#2727ff,#2222ff,#1d1dff,#1919ff,#1515ff,#1111ff,#0e0eff,#0b0bff,#0808ff,#0606ff,#0404ff,#0202ff,#0101ff,#0000ff,#0000ff,#0000ff,#0000ff)"></div>
<div style="background:linear-gradient(90deg,#fcfcff,#fcfcff,#fcfcff,#fcfcff,#fcfcff,#fbfbff,#fafaff,#f9f9ff,#f8f8ff,#f7f7ff,#f5f5ff,#f3f3ff,#f1f1ff,#efefff,#ededff,#eaeaff,#e7e7ff,#e4e4ff,#e1e1ff,#ddddff,#d9d9ff,#d6d6ff,#d2d2ff,#ceceff,#cacaff,#c7c7ff,#c4c4ff,#c1c1ff,#bebeff,#bbbbff,#b8b8ff,#b5b5ff,#b1b1ff,#adadff,#a8a8ff,#a3a3ff,#9c9cff,#9595ff,#8d8dff,#8585ff,#7d7dff,#7575ff,#6c6cff,#6464ff,#5c5cff,#5555ff,#4e4eff,#4848ff,#4141ff,#3b3bff,#3636ff,#3030ff,#2b2bff,#2626ff,#2121ff,#1d1dff,#1818ff,#1414ff,#1111ff,#0d0dff,#0a0aff,#0707ff,#0505ff,#0303ff,#0202ff,#0000ff,#0000ff,#0000ff,#0000ff,#0000ff)"></div>
<div style="background:linear-gradient(90deg,#fafaff,#fafaff,#f9f9ff,#f9f9ff,#f9f9ff,#f8f8ff,#f7f7ff,#f6f6ff,#f5f5ff,#f4f4ff,#f2f2ff,#f0f0ff,#eeeeff,#ececff,#e9e9ff,#e7e7ff,#e4e4ff,#e1e1ff,#ddddff,#dadaff,#d6d6ff,#d2d2ff,#ceceff,#cbcbff,#c7c7ff,#c3c3ff,#c0c0ff,#bdbdff,#babaff,#b7b7ff,#b5b5ff,#b1b1ff,#aeaeff,#aaaaff,#a5a5ff,#a0a0ff,#9999ff,#9292ff,#8a8aff,#8282ff,#7a7aff,#7272ff,#6969ff,#6161ff,#5a5aff,#5353ff,#4c4cff,#4545ff,#3f3fff,#3a3aff,#3434ff,#2f2fff,#2a2aff,#2525ff,#2020ff,#1c1cff,#1717ff,#1313ff,#1010ff,#0c0cff,#0909ff,#0707ff,#0505ff,#0303ff,#0101ff,#0000ff,#0000ff,#0000ff,#0000ff,#0000ff)"></div>
<div style="background:linear-gradient(90deg,#f7f7ff,#f7f7ff,#f7f7ff,#f6f6ff,#f6f6ff,#f5f5ff,#f4f4ff,#f3f3ff,#f2f2ff,#f0f0ff,#efefff,#ededff,#ebebff,#e9e9ff,#e6e6ff,#e4e4ff,#e1e1ff,#dedeff,#dadaff,#d7d7ff,#d3d3ff,#cfcfff,#cbcbff,#c7c7ff,#c4c4ff,#c0c0ff,#bdbdff,#babaff,#b7b7ff,#b4b4ff,#b1b1ff,#aeaeff,#ababff,#a7a7ff,#a2a2ff,#9d9dff,#9696ff,#8f8fff,#8787ff,#7f7fff,#7777ff,#6f6fff,#6767ff,#5f5fff,#5757ff,#5050ff,#4a4aff,#4343ff,#3d3dff,#3838ff,#3232ff,#2d2dff,#2828ff,#2424ff,#1f1fff,#1b1bff,#1717ff,#1313ff,#0f0fff,#0c0cff,#0909ff,#0606ff,#0404ff,#0202ff,#0101ff,#0000ff,#0000ff,#0000ff,#0000ff,#0000ff)"></div>
<div style="background:linear-gradient(90deg,#f5f5ff,#f5f5ff,#f4f4ff,#f4f4ff,#f3f3ff,#f2f2ff,#f1f1ff,#f0f0ff,#efefff,#ededff,#ececff,#eaeaff,#e8e8ff,#e6e6ff,#e3e3ff,#e0e0ff,#dedeff,#dadaff,#d7d7ff,#d3d3ff,#d0d0ff,#ccccff,#c8c8ff,#c4c4ff,#c0c0ff,#bdbdff,#b9b9ff,#b7b7ff,#b4b4ff,#b1b1ff,#aeaeff,#ababff,#a8a8ff,#a4a4ff,#9f9fff,#9a9aff,#9393ff,#8c8cff,#8585ff,#7d7dff,#7474ff,#6c6cff,#6464ff,#5c5cff,#5555ff,#4e4eff,#4747ff,#4141ff,#3b3bff,#3636ff,#3131ff,#2c2cff,#2727ff,#2323ff,#1e1eff,#1a1aff,#1616ff,#1212ff,#0f0fff,#0b0bff,#0808ff,#0606ff,#0404ff,#0202ff,#0101ff,#0000ff,#0000ff,#0000ff,#0000ff,#0000ff)"></div>
<div style="background:linear-gradient(90deg,#f3f3ff,#f2f2ff,#f2f2ff,#f1f1ff,#f0f0ff,#efefff,#eeeeff,#ededff,#ececff,#eaeaff,#e9e9ff,#e7e7ff,#e5e5ff,#e3e3ff,#e0e0ff,#ddddff,#dbdbff,#d7d7ff,#d4d4ff,#d0d0ff,#cdcdff,#c9c9ff,#c5c5ff,#c1c1ff,#bdbdff,#babaff,#b6b6ff,#b3b3ff,#b1b1ff,#aeaeff,#ababff,#a9a9ff,#a5a5ff,#a1a1ff,#9d9dff,#9797ff,#9191ff,#8a8aff,#8282ff,#7a7aff,#7272ff,#6969ff,#6161ff,#5959ff,#5252ff,#4b4bff,#4545ff,#3f3fff,#3a3aff,#3434ff,#2f2fff,#2b2bff,#2626ff,#2222ff,#1d1dff,#1919ff,#1515ff,#1111ff,#0e0eff,#0b0bff,#0808ff,#0505ff,#0303ff,#0202ff,#0000ff,#0000ff,#0000ff,#0000ff,#0000ff,#0000ff)"></div>
<div style="background:linear-gradient(90deg,#f1f1ff,#f0f0ff,#efefff,#eeeeff,#ededff,#ececff,#ebebff,#eaeaff,#e9e9ff,#e7e7ff,#e6e6ff,#e4e4ff,#e2e2ff,#e0e0ff,#ddddff,#dadaff,#d8d8ff,#d4d4ff,#d1d1ff,#cdcdff,#cacaff,#c6c6ff,#c2c2ff,#bebeff,#babaff,#b7b7ff,#b3b3ff,#b1b1ff,#aeaeff,#ababff,#a9a9ff,#a6a6ff,#a3a3ff,#9f9fff,#9a9aff,#9595ff,#8e8eff,#8787ff,#7f7fff,#7777ff,#6f6fff,#6767ff,#5f5fff,#5757ff,#5050ff,#4949ff,#4343ff,#3d3dff,#3838ff,#3333ff,#2e2eff,#2929ff,#2525ff,#2121ff,#1c1cff,#1818ff,#1414ff,#1111ff,#0d0dff,#0a0aff,#0707ff,#0505ff,#0303ff,#0202ff,#0000ff,#0000ff,#0000ff,#0000ff,#0000ff,#0000ff)"></div>
<div style="background:linear-gradient(90deg,#efefff,#eeeeff,#ededff,#ececff,#ebebff,#eaeaff,#e9e9ff,#e7e7ff,#e6e6ff,#e4e4ff,#e3e3ff,#e1e1ff,#dfdfff,#ddddff,#dadaff,#d8d8ff,#d5d5ff,#d2d2ff,#ceceff,#cbcbff,#c7c7ff,#c3c3ff,#bfbfff,#bbbbff,#b7b7ff,#b4b4ff,#b1b1ff,#aeaeff,#ababff,#a9a9ff,#a6a6ff,#a3a3ff,#a0a0ff,#9c9cff,#9898ff,#9292ff,#8c8cff,#8585ff,#7d7dff,#7575ff,#6d6dff,#6464ff,#5c5cff,#5555ff,#4d4dff,#4747ff,#4141ff,#3b3bff,#3636ff,#3131ff,#2c2cff,#2828ff,#2424ff,#1f1fff,#1b1bff,#1717ff,#1414ff,#1010ff,#0d0dff,#0a0aff,#0707ff,#0505ff,#0303ff,#0101ff,#0000ff,#0000ff,#0000ff,#0000ff,#0000ff,#0000ff)"></div>
<div style="background:linear-gradient(90deg,#ededff,#ececff,#ebebff,#eaeaff,#e8e8ff,#e7e7ff,#e6e6ff,#e5e5ff,#e3e3ff,#e2e2ff,#e0e0ff,#dedeff,#dcdcff,#dadaff,#d7d7ff,#d5d5ff,#d2d2ff,#cfcfff,#cbcbff,#c8c8ff,#c4c4ff,#c0c0ff,#bcbcff,#b8b8ff,#b5b5ff,#b1b1ff,#aeaeff,#ababff,#a9a9ff,#a6a6ff,#a4a4ff,#a1a1ff,#9e9eff,#9a9aff,#9696ff,#9090ff,#8a8aff,#8383ff,#7b7bff,#7373ff,#6a6aff,#6262ff,#5a5aff,#5252ff,#4b4bff,#4545ff,#3f3fff,#3939ff,#3434ff,#2f2fff,#2b2bff,#2727ff,#2323ff,#1e1eff,#1b1bff,#1717ff,#1313ff,#1010ff,#0c0cff,#0909ff,#0707ff,#0404ff,#0303ff,#0101ff,#0000ff,#0000ff,#0000ff,#0000ff,#0000ff,#0000ff)"></div>
<div style="background:linear-gradient(90deg,#ebebff,#eaeaff,#e9e9ff,#e7e7ff,#e6e6ff,#e5e5ff,#e3e3ff,#e2e2ff,#e1e1ff,#dfdfff,#ddddff,#dbdbff,#d9d9ff,#d7d7ff,#d5d5ff,#d2d2ff,#cfcfff,#ccccff,#c9c9ff,#c5c5ff,#c1c1ff,#bdbdff,#babaff,#b6b6ff,#b2b2ff,#afafff,#ababff,#a9a9ff,#a6a6ff,#a4a4ff,#a2a2ff,#9f9fff,#9c9cff,#9898ff,#9494ff,#8e8eff,#8888ff,#8080ff,#7979ff,#7070ff,#6868ff,#6060ff,#5858ff,#5050ff,#4949ff,#4343ff,#3d3dff,#3737ff,#3232ff,#2e2eff,#2a2aff,#2525ff,#2121ff,#1d1dff,#1a1aff,#1616ff,#1212ff,#0f0fff,#0c0cff,#0909ff,#0606ff,#0404ff,#0202ff,#0101ff,#0000ff,#0000ff,#0000ff,#0000ff,#0000ff,#0000ff)"></div>
<div style="background:linear-gradient(90deg,#e9e9ff,#e8e8ff,#e7e7ff,#e5e5ff,#e4e4ff,#e2e2ff,#e1e1ff,#e0e0ff,#dedeff,#dcdcff,#dbdbff,#d9d9ff,#d7d7ff,#d5d5ff,#d2d2ff,#d0d0ff,#cdcdff,#cacaff,#c6c6ff,#c3c3ff,#bfbfff,#bbbbff,#b7b7ff,#b3b3ff,#b0b0ff,#acacff,#a9a9ff,#a6a6ff,#a4a4ff,#a2a2ff,#9f9fff,#9d9dff,#9a9aff,#9696ff,#9292ff,#8c8cff,#8686ff,#7e7eff,#7777ff,#6e6eff,#6666ff,#5d5dff,#5555ff,#4e4eff,#4747ff,#4040ff,#3b3bff,#3535ff,#3131ff,#2c2cff,#2828ff,#2424ff,#2020ff,#1c1cff,#1919ff,#1515ff,#1212ff,#0e0eff,#0b0bff,#0909ff,#0606ff,#0404ff,#0202ff,#0101ff,#0000ff,#0000ff,#0000ff,#0000ff,#0000ff,#0000ff)"></div>
<div style="background:linear-gradient(90deg,#e8e8ff,#e6e6ff,#e5e5ff,#e3e3ff,#e2e2ff,#e0e0ff,#dfdfff,#ddddff,#dcdcff,#dadaff,#d8d8ff,#d6d6ff,#d4d4ff,#d2d2ff,#d0d0ff,#cdcdff,#cacaff,#c7c7ff,#c4c4ff,#c0c0ff,#bcbcff,#b9b9ff,#b5b5ff,#b1b1ff,#adadff,#aaaaff,#a7a7ff,#a4a4ff,#a2a2ff,#a0a0ff,#9d9dff,#9b9bff,#9898ff,#9494ff,#9090ff,#8a8aff,#8484ff,#7c7cff,#7575ff,#6c6cff,#6464ff,#5b5bff,#5353ff,#4c4cff,#4545ff,#3e3eff,#3939ff,#3434ff,#2f2fff,#2b2bff,#2727ff,#2323ff,#1f1fff,#1b1bff,#1818ff,#1414ff,#1111ff,#0e0eff,#0b0bff,#0808ff,#0606ff,#0404ff,#0202ff,#0101ff,#0000ff,#0000ff,#0000ff,#0000ff,#0000ff,#0000ff)"></div>
<div style="background:linear-gradient(90deg,#e6e6ff,#e5e5ff,#e3e3ff,#e1e1ff,#dfdfff,#dedeff,#dcdcff,#dbdbff,#d9d9ff,#d7d7ff,#d6d6ff,#d4d4ff,#d2d2ff,#d0d0ff,#cdcdff,#cbcbff,#c8c8ff,#c5c5ff,#c2c2ff,#bebeff,#babaff,#b6b6ff,#b2b2ff,#afafff,#ababff,#a8a8ff,#a5a5ff,#a2a2ff,#a0a0ff,#9e9eff,#9b9bff,#9999ff,#9696ff,#9292ff,#8e8eff,#8888ff,#8282ff,#7b7bff,#7373ff,#6a6aff,#6262ff,#5959ff,#5151ff,#4a4aff,#4343ff,#3c3cff,#3737ff,#3232ff,#2d2dff,#2929ff,#2525ff,#2222ff,#1e1eff,#1b1bff,#1717ff,#1414ff,#1010ff,#0d0dff,#0b0bff,#0808ff,#0606ff,#0404ff,#0202ff,#0101ff,#0000ff,#0000ff,#0000ff,#0000ff,#0000ff,#0000ff)"></div>
<div style="background:linear-gradient(90deg,#e5e5ff,#e3e3ff,#e1e1ff,#dfdfff,#ddddff,#dcdcff,#dadaff,#d9d9ff,#d7d7ff,#d5d5ff,#d3d3ff,#d2d2ff,#d0d0ff,#cdcdff,#cbcbff,#c9c9ff,#c6c6ff,#c3c3ff,#bfbfff,#bcbcff,#b8b8ff,#b4b4ff,#b0b0ff,#acacff,#a9a9ff,#a5a5ff,#a3a3ff,#a0a0ff,#9e9eff,#9c9cff,#9a9aff,#9797ff,#9494ff,#9191ff,#8c8cff,#8787ff,#8080ff,#7979ff,#7171ff,#6868ff,#6060ff,#5757ff,#4f4fff,#4848ff,#4141ff,#3b3bff,#3535ff,#3030ff,#2c2cff,#2828ff,#2424ff,#2020ff,#1d1dff,#1a1aff,#1616ff,#1313ff,#1010ff,#0d0dff,#0a0aff,#0808ff,#0505ff,#0404ff,#0202ff,#0101ff,#0000ff,#0000ff,#0000ff,#0000ff,#0000ff,#0000ff)"></div>
<div style="background:linear-gradient(90deg,#e3e3ff,#e1e1ff,#dfdfff,#ddddff,#dbdbff,#dadaff,#d8d8ff,#d6d6ff,#d5d5ff,#d3d3ff,#d1d1ff,#cfcfff,#cdcdff,#cbcbff,#c9c9ff,#c6c6ff,#c4c4ff,#c1c1ff,#bdbdff,#babaff,#b6b6ff,#b2b2ff,#aeaeff,#aaaaff,#a7a7ff,#a3a3ff,#a1a1ff,#9e9eff,#9c9cff,#9a9aff,#9898ff,#9595ff,#9393ff,#8f8fff,#8b8bff,#8585ff,#7f7fff,#7777ff,#6f6fff,#6767ff,#5e5eff,#5555ff,#4d4dff,#4646ff,#3f3fff,#3939ff,#3333ff,#2f2fff,#2a2aff,#2626ff,#2323ff,#1f1fff,#1c1cff,#1919ff,#1515ff,#1212ff,#0f0fff,#0c0cff,#0a0aff,#0707ff,#0505ff,#0404ff,#0202ff,#0101ff,#0000ff,#0000ff,#0000ff,#0000ff,#0000ff,#0000ff)"></div>
<div style="background:linear-gradient(90deg,#e2e2ff,#e0e0ff,#ddddff,#dbdbff,#dadaff,#d8d8ff,#d6d6ff,#d4d4ff,#d3d3ff,#d1d1ff,#cfcfff,#cdcdff,#cbcbff,#c9c9ff,#c7c7ff,#c4c4ff,#c2c2ff,#bfbfff,#bbbbff,#b8b8ff,#b4b4ff,#b0b0ff,#acacff,#a8a8ff,#a5a5ff,#a2a2ff,#9f9fff,#9c9cff,#9a9aff,#9898ff,#9696ff,#9494ff,#9191ff,#8d8dff,#8989ff,#8383ff,#7d7dff,#7575ff,#6d6dff,#6565ff,#5c5cff,#5454ff,#4b4bff,#4444ff,#3d3dff,#3737ff,#3232ff,#2d2dff,#2929ff,#2525ff,#2121ff,#1e1eff,#1b1bff,#1818ff,#1515ff,#1212ff,#0f0fff,#0c0cff,#0909ff,#0707ff,#0505ff,#0404ff,#0202ff,#0101ff,#0101ff,#0000ff,#0000ff,#0000ff,#0000ff,#0000ff)"></div>
<div style="background:linear-gradient(90deg,#e0e0ff,#dedeff,#dcdcff,#dadaff,#d8d8ff,#d6d6ff,#d4d4ff,#d3d3ff,#d1d1ff,#cfcfff,#cdcdff,#ccccff,#cacaff,#c7c7ff,#c5c5ff,#c3c3ff,#c0c0ff,#bdbdff,#b9b9ff,#b6b6ff,#b2b2ff,#aeaeff,#aaaaff,#a7a7ff,#a3a3ff,#a0a0ff,#9d9dff,#9a9aff,#9898ff,#9696ff,#9494ff,#9292ff,#8f8fff,#8c8cff,#8787ff,#8282ff,#7b7bff,#7474ff,#6c6cff,#6363ff,#5a5aff,#5252ff,#4a4aff,#4242ff,#3b3bff,#3535ff,#3030ff,#2b2bff,#2727ff,#2323ff,#2020ff,#1d1dff,#1a1aff,#1717ff,#1414ff,#1111ff,#0e0eff,#0c0cff,#0909ff,#0707ff,#0505ff,#0404ff,#0202ff,#0101ff,#0101ff,#0000ff,#0000ff,#0000ff,#0000ff,#0000ff)"></div>
<div style="background:linear-gradient(90deg,#dfdfff,#dcdcff,#dadaff,#d8d8ff,#d6d6ff,#d4d4ff,#d3d3ff,#d1d1ff,#cfcfff,#cdcdff,#ccccff,#cacaff,#c8c8ff,#c6c6ff,#c3c3ff,#c1c1ff,#bebeff,#bbbbff,#b8b8ff,#b4b4ff,#b0b0ff,#acacff,#a9a9ff,#a5a5ff,#a1a1ff,#9e9eff,#9b9bff,#9999ff,#9797ff,#9595ff,#9393ff,#9090ff,#8e8eff,#8a8aff,#8686ff,#8080ff,#7a7aff,#7272ff,#6a6aff,#6161ff,#5959ff,#5050ff,#4848ff,#4040ff,#3a3aff,#3434ff,#2e2eff,#2a2aff,#2626ff,#2222ff,#1f1fff,#1c1cff,#1919ff,#1616ff,#1313ff,#1010ff,#0e0eff,#0b0bff,#0909ff,#0707ff,#0505ff,#0404ff,#0202ff,#0202ff,#0101ff,#0000ff,#0000ff,#0000ff,#0000ff,#0000ff)"></div>
<div style="background:linear-gradient(90deg,#ddddff,#dbdbff,#d8d8ff,#d6d6ff,#d5d5ff,#d3d3ff,#d1d1ff,#cfcfff,#ceceff,#ccccff,#cacaff,#c8c8ff,#c6c6ff,#c4c4ff,#c2c2ff,#bfbfff,#bcbcff,#b9b9ff,#b6b6ff,#b2b2ff,#afafff,#ababff,#a7a7ff,#a3a3ff,#a0a0ff,#9c9cff,#9a9aff,#9797ff,#9595ff,#9393ff,#9191ff,#8f8fff,#8c8cff,#8989ff,#8484ff,#7f7fff,#7878ff,#7070ff,#6868ff,#6060ff,#5757ff,#4e4eff,#4646ff,#3f3fff,#3838ff,#3232ff,#2d2dff,#2828ff,#2424ff,#2121ff,#1d1dff,#1a1aff,#1818ff,#1515ff,#1212ff,#1010ff,#0d0dff,#0b0bff,#0909ff,#0707ff,#0505ff,#0404ff,#0303ff,#0202ff,#0101ff,#0101ff,#0000ff,#0000ff,#0000ff,#0000ff)"></div>
<div style="background:linear-gradient(90deg,#dbdbff,#d9d9ff,#d7d7ff,#d5d5ff,#d3d3ff,#d1d1ff,#cfcfff,#ceceff,#ccccff,#cacaff,#c9c9ff,#c7c7ff,#c5c5ff,#c3c3ff,#c0c0ff,#bebeff,#bbbbff,#b8b8ff,#b5b5ff,#b1b1ff,#adadff,#a9a9ff,#a5a5ff,#a2a2ff,#9e9eff,#9b9bff,#9898ff,#9696ff,#9494ff,#9292ff,#9090ff,#8d8dff,#8a8aff,#8787ff,#8383ff,#7d7dff,#7676ff,#6f6fff,#6767ff,#5e5eff,#5555ff,#4d4dff,#4545ff,#3d3dff,#3636ff,#3131ff,#2b2bff,#2727ff,#2323ff,#1f1fff,#1c1cff,#1919ff,#1717ff,#1414ff,#1111ff,#0f0fff,#0d0dff,#0a0aff,#0808ff,#0707ff,#0505ff,#0404ff,#0303ff,#0202ff,#0101ff,#0101ff,#0000ff,#0000ff,#0000ff,#0000ff)"></div>
<div style="background:linear-gradient(90deg,#d9d9ff,#d7d7ff,#d5d5ff,#d3d3ff,#d2d2ff,#d0d0ff,#ceceff,#ccccff,#cbcbff,#c9c9ff,#c7c7ff,#c5c5ff,#c3c3ff,#c1c1ff,#bfbfff,#bcbcff,#babaff,#b7b7ff,#b3b3ff,#b0b0ff,#acacff,#a8a8ff,#a4a4ff,#a0a0ff,#9d9dff,#9999ff,#9797ff,#9494ff,#9292ff,#9090ff,#8e8eff,#8c8cff,#8989ff,#8585ff,#8181ff,#7b7bff,#7575ff,#6d6dff,#6565ff,#5d5dff,#5454ff,#4b4bff,#4343ff,#3c3cff,#3535ff,#2f2fff,#2a2aff,#2525ff,#2222ff,#1e1eff,#1b1bff,#1818ff,#1515ff,#1313ff,#1111ff,#0e0eff,#0c0cff,#0a0aff,#0808ff,#0707ff,#0505ff,#0404ff,#0303ff,#0202ff,#0101ff,#0101ff,#0000ff,#0000ff,#0000ff,#0000ff)"></div>
<div style="background:linear-gradient(90deg,#d8d8ff,#d6d6ff,#d4d4ff,#d2d2ff,#d0d0ff,#ceceff,#cdcdff,#cbcbff,#cacaff,#c8c8ff,#c6c6ff,#c4c4ff,#c2c2ff,#c0c0ff,#bebeff,#bbbbff,#b8b8ff,#b5b5ff,#b2b2ff,#aeaeff,#ababff,#a7a7ff,#a3a3ff,#9f9fff,#9b9bff,#9898ff,#9595ff,#9393ff,#9191ff,#8f8fff,#8c8cff,#8a8aff,#8787ff,#8484ff,#7f7fff,#7a7aff,#7373ff,#6c6cff,#6363ff,#5b5bff,#5252ff,#4a4aff,#4242ff,#3a3aff,#3434ff,#2e2eff,#2929ff,#2424ff,#2020ff,#1d1dff,#1a1aff,#1717ff,#1414ff,#1212ff,#1010ff,#0e0eff,#0c0cff,#0a0aff,#0808ff,#0707ff,#0505ff,#0404ff,#0303ff,#0202ff,#0202ff,#0101ff,#0101ff,#0000ff,#0000ff,#0000ff)"></div>
<div style="background:linear-gradient(90deg,#d6d6ff,#d4d4ff,#d3d3ff,#d1d1ff,#cfcfff,#ceceff,#ccccff,#cacaff,#c9c9ff,#c7c7ff,#c5c5ff,#c3c3ff,#c1c1ff,#bfbfff,#bdbdff,#babaff,#b8b8ff,#b4b4ff,#b1b1ff,#aeaeff,#aaaaff,#a6a6ff,#a2a2ff,#9e9eff,#9b9bff,#9797ff,#9494ff,#9292ff,#9090ff,#8d8dff,#8b8bff,#8989ff,#8686ff,#8282ff,#7e7eff,#7878ff,#7272ff,#6a6aff,#6262ff,#5a5aff,#5151ff,#4949ff,#4141ff,#3939ff,#3333ff,#2d2dff,#2828ff,#2323ff,#1f1fff,#1c1cff,#1919ff,#1616ff,#1414ff,#1111ff,#0f0fff,#0d0dff,#0b0bff,#0a0aff,#0808ff,#0707ff,#0505ff,#0404ff,#0303ff,#0202ff,#0202ff,#0101ff,#0101ff,#0000ff,#0000ff,#0000ff)"></div>
</div>
<svg width="685" height="607" viewBox="0 0 685 607" font-family="Liberation Sans, sans-serif"><defs><linearGradient id="cbA" x1="0" y1="0" x2="0" y2="1"><stop offset="0.0000" stop-color="#ff9292"/><stop offset="0.0417" stop-color="#ffa1a1"/><stop offset="0.0833" stop-color="#ffb0b0"/><stop offset="0.1250" stop-color="#ffbfbf"/><stop offset="0.1667" stop-color="#ffcece"/><stop offset="0.2083" stop-color="#ffdddd"/><stop offset="0.2500" stop-color="#ffeded"/><stop offset="0.2917" stop-color="#fffcfc"/><stop offset="0.3333" stop-color="#f3f3ff"/><stop offset="0.3750" stop-color="#e4e4ff"/><stop offset="0.4167" stop-color="#d5d5ff"/><stop offset="0.4583" stop-color="#c6c6ff"/><stop offset="0.5000" stop-color="#b6b6ff"/><stop offset="0.5417" stop-color="#a7a7ff"/><stop offset="0.5833" stop-color="#9898ff"/><stop offset="0.6250" stop-color="#8989ff"/><stop offset="0.6667" stop-color="#7a7aff"/><stop offset="0.7083" stop-color="#6a6aff"/><stop offset="0.7500" stop-color="#5b5bff"/><stop offset="0.7917" stop-color="#4c4cff"/><stop offset="0.8333" stop-color="#3d3dff"/><stop offset="0.8750" stop-color="#2e2eff"/><stop offset="0.9167" stop-color="#1f1fff"/><stop offset="0.9583" stop-color="#0f0fff"/><stop offset="1.0000" stop-color="#0000ff"/></linearGradient><linearGradient id="cbB" x1="0" y1="0" x2="0" y2="1"><stop offset="0.0000" stop-color="#ff0808"/><stop offset="0.0417" stop-color="#ff1d1d"/><stop offset="0.0833" stop-color="#ff3131"/><stop offset="0.1250" stop-color="#ff4646"/><stop offset="0.1667" stop-color="#ff5b5b"/><stop offset="0.2083" stop-color="#ff7070"/><stop offset="0.2500" stop-color="#ff8585"/><stop offset="0.2917" stop-color="#ff9a9a"/><stop offset="0.3333" stop-color="#ffafaf"/><stop offset="0.3750" stop-color="#ffc4c4"/><stop offset="0.4167" stop-color="#ffd9d9"/><stop offset="0.4583" stop-color="#ffeeee"/><stop offset="0.5000" stop-color="#fbfbff"/><stop offset="0.5417" stop-color="#e6e6ff"/><stop offset="0.5833" stop-color="#d1d1ff"/><stop offset="0.6250" stop-color="#bdbdff"/><stop offset="0.6667" stop-color="#a8a8ff"/><stop offset="0.7083" stop-color="#9393ff"/><stop offset="0.7500" stop-color="#7e7eff"/><stop offset="0.7917" stop-color="#6969ff"/><stop offset="0.8333" stop-color="#5454ff"/><stop offset="0.8750" stop-color="#3f3fff"/><stop offset="0.9167" stop-color="#2a2aff"/><stop offset="0.9583" stop-color="#1515ff"/><stop offset="1.0000" stop-color="#0000ff"/></linearGradient><linearGradient id="cbC" x1="0" y1="0" x2="0" y2="1"><stop offset="0.0000" stop-color="#ff0606"/><stop offset="0.0417" stop-color="#ff1b1b"/><stop offset="0.0833" stop-color="#ff3030"/><stop offset="0.1250" stop-color="#ff4545"/><stop offset="0.1667" stop-color="#ff5959"/><stop offset="0.2083" stop-color="#ff6e6e"/><stop offset="0.2500" stop-color="#ff8383"/><stop offset="0.2917" stop-color="#ff9898"/><stop offset="0.3333" stop-color="#ffadad"/><stop offset="0.3750" stop-color="#ffc2c2"/><stop offset="0.4167" stop-color="#ffd7d7"/><stop offset="0.4583" stop-color="#ffecec"/><stop offset="0.5000" stop-color="#fdfdff"/><stop offset="0.5417" stop-color="#e8e8ff"/><stop offset="0.5833" stop-color="#d3d3ff"/><stop offset="0.6250" stop-color="#bebeff"/><stop offset="0.6667" stop-color="#a9a9ff"/><stop offset="0.7083" stop-color="#9494ff"/><stop offset="0.7500" stop-color="#7f7fff"/><stop offset="0.7917" stop-color="#6a6aff"/><stop offset="0.8333" stop-color="#5555ff"/><stop offset="0.8750" stop-color="#4040ff"/><stop offset="0.9167" stop-color="#2b2bff"/><stop offset="0.9583" stop-color="#1616ff"/><stop offset="1.0000" stop-color="#0101ff"/></linearGradient></defs><line x1="83.85" y1="264.50" x2="83.85" y2="258.50" stroke="#000" stroke-width="1.60"/><line x1="83.85" y1="19.80" x2="83.85" y2="25.80" stroke="#000" stroke-width="1.60"/><line x1="206.25" y1="264.50" x2="206.25" y2="258.50" stroke="#000" stroke-width="1.60"/><line x1="206.25" y1="19.80" x2="206.25" y2="25.80" stroke="#000" stroke-width="1.60"/><line x1="56.69" y1="264.50" x2="56.69" y2="261.30" stroke="#000" stroke-width="1.60"/><line x1="56.69" y1="19.80" x2="56.69" y2="23.00" stroke="#000" stroke-width="1.60"/><line x1="64.89" y1="264.50" x2="64.89" y2="261.30" stroke="#000" stroke-width="1.60"/><line x1="64.89" y1="19.80" x2="64.89" y2="23.00" stroke="#000" stroke-width="1.60"/><line x1="71.98" y1="264.50" x2="71.98" y2="261.30" stroke="#000" stroke-width="1.60"/><line x1="71.98" y1="19.80" x2="71.98" y2="23.00" stroke="#000" stroke-width="1.60"/><line x1="78.25" y1="264.50" x2="78.25" y2="261.30" stroke="#000" stroke-width="1.60"/><line x1="78.25" y1="19.80" x2="78.25" y2="23.00" stroke="#000" stroke-width="1.60"/><line x1="120.69" y1="264.50" x2="120.69" y2="261.30" stroke="#000" stroke-width="1.60"/><line x1="120.69" y1="19.80" x2="120.69" y2="23.00" stroke="#000" stroke-width="1.60"/><line x1="142.25" y1="264.50" x2="142.25" y2="261.30" stroke="#000" stroke-width="1.60"/><line x1="142.25" y1="19.80" x2="142.25" y2="23.00" stroke="#000" stroke-width="1.60"/><line x1="157.54" y1="264.50" x2="157.54" y2="261.30" stroke="#000" stroke-width="1.60"/><line x1="157.54" y1="19.80" x2="157.54" y2="23.00" stroke="#000" stroke-width="1.60"/><line x1="169.40" y1="264.50" x2="169.40" y2="261.30" stroke="#000" stroke-width="1.60"/><line x1="169.40" y1="19.80" x2="169.40" y2="23.00" stroke="#000" stroke-width="1.60"/><line x1="179.09" y1="264.50" x2="179.09" y2="261.30" stroke="#000" stroke-width="1.60"/><line x1="179.09" y1="19.80" x2="179.09" y2="23.00" stroke="#000" stroke-width="1.60"/><line x1="187.29" y1="264.50" x2="187.29" y2="261.30" stroke="#000" stroke-width="1.60"/><line x1="187.29" y1="19.80" x2="187.29" y2="23.00" stroke="#000" stroke-width="1.60"/><line x1="194.38" y1="264.50" x2="194.38" y2="261.30" stroke="#000" stroke-width="1.60"/><line x1="194.38" y1="19.80" x2="194.38" y2="23.00" stroke="#000" stroke-width="1.60"/><line x1="200.65" y1="264.50" x2="200.65" y2="261.30" stroke="#000" stroke-width="1.60"/><line x1="200.65" y1="19.80" x2="200.65" y2="23.00" stroke="#000" stroke-width="1.60"/><line x1="243.09" y1="264.50" x2="243.09" y2="261.30" stroke="#000" stroke-width="1.60"/><line x1="243.09" y1="19.80" x2="243.09" y2="23.00" stroke="#000" stroke-width="1.60"/><line x1="264.65" y1="264.50" x2="264.65" y2="261.30" stroke="#000" stroke-width="1.60"/><line x1="264.65" y1="19.80" x2="264.65" y2="23.00" stroke="#000" stroke-width="1.60"/><line x1="279.94" y1="264.50" x2="279.94" y2="261.30" stroke="#000" stroke-width="1.60"/><line x1="279.94" y1="19.80" x2="279.94" y2="23.00" stroke="#000" stroke-width="1.60"/><line x1="47.00" y1="232.00" x2="53.00" y2="232.00" stroke="#000" stroke-width="1.60"/><line x1="291.80" y1="232.00" x2="285.80" y2="232.00" stroke="#000" stroke-width="1.60"/><line x1="47.00" y1="124.00" x2="53.00" y2="124.00" stroke="#000" stroke-width="1.60"/><line x1="291.80" y1="124.00" x2="285.80" y2="124.00" stroke="#000" stroke-width="1.60"/><line x1="47.00" y1="255.96" x2="50.20" y2="255.96" stroke="#000" stroke-width="1.60"/><line x1="291.80" y1="255.96" x2="288.60" y2="255.96" stroke="#000" stroke-width="1.60"/><line x1="47.00" y1="248.73" x2="50.20" y2="248.73" stroke="#000" stroke-width="1.60"/><line x1="291.80" y1="248.73" x2="288.60" y2="248.73" stroke="#000" stroke-width="1.60"/><line x1="47.00" y1="242.47" x2="50.20" y2="242.47" stroke="#000" stroke-width="1.60"/><line x1="291.80" y1="242.47" x2="288.60" y2="242.47" stroke="#000" stroke-width="1.60"/><line x1="47.00" y1="236.94" x2="50.20" y2="236.94" stroke="#000" stroke-width="1.60"/><line x1="291.80" y1="236.94" x2="288.60" y2="236.94" stroke="#000" stroke-width="1.60"/><line x1="47.00" y1="199.49" x2="50.20" y2="199.49" stroke="#000" stroke-width="1.60"/><line x1="291.80" y1="199.49" x2="288.60" y2="199.49" stroke="#000" stroke-width="1.60"/><line x1="47.00" y1="180.47" x2="50.20" y2="180.47" stroke="#000" stroke-width="1.60"/><line x1="291.80" y1="180.47" x2="288.60" y2="180.47" stroke="#000" stroke-width="1.60"/><line x1="47.00" y1="166.98" x2="50.20" y2="166.98" stroke="#000" stroke-width="1.60"/><line x1="291.80" y1="166.98" x2="288.60" y2="166.98" stroke="#000" stroke-width="1.60"/><line x1="47.00" y1="156.51" x2="50.20" y2="156.51" stroke="#000" stroke-width="1.60"/><line x1="291.80" y1="156.51" x2="288.60" y2="156.51" stroke="#000" stroke-width="1.60"/><line x1="47.00" y1="147.96" x2="50.20" y2="147.96" stroke="#000" stroke-width="1.60"/><line x1="291.80" y1="147.96" x2="288.60" y2="147.96" stroke="#000" stroke-width="1.60"/><line x1="47.00" y1="140.73" x2="50.20" y2="140.73" stroke="#000" stroke-width="1.60"/><line x1="291.80" y1="140.73" x2="288.60" y2="140.73" stroke="#000" stroke-width="1.60"/><line x1="47.00" y1="134.47" x2="50.20" y2="134.47" stroke="#000" stroke-width="1.60"/><line x1="291.80" y1="134.47" x2="288.60" y2="134.47" stroke="#000" stroke-width="1.60"/><line x1="47.00" y1="128.94" x2="50.20" y2="128.94" stroke="#000" stroke-width="1.60"/><line x1="291.80" y1="128.94" x2="288.60" y2="128.94" stroke="#000" stroke-width="1.60"/><line x1="47.00" y1="91.49" x2="50.20" y2="91.49" stroke="#000" stroke-width="1.60"/><line x1="291.80" y1="91.49" x2="288.60" y2="91.49" stroke="#000" stroke-width="1.60"/><line x1="47.00" y1="72.47" x2="50.20" y2="72.47" stroke="#000" stroke-width="1.60"/><line x1="291.80" y1="72.47" x2="288.60" y2="72.47" stroke="#000" stroke-width="1.60"/><line x1="47.00" y1="58.98" x2="50.20" y2="58.98" stroke="#000" stroke-width="1.60"/><line x1="291.80" y1="58.98" x2="288.60" y2="58.98" stroke="#000" stroke-width="1.60"/><line x1="47.00" y1="48.51" x2="50.20" y2="48.51" stroke="#000" stroke-width="1.60"/><line x1="291.80" y1="48.51" x2="288.60" y2="48.51" stroke="#000" stroke-width="1.60"/><line x1="47.00" y1="39.96" x2="50.20" y2="39.96" stroke="#000" stroke-width="1.60"/><line x1="291.80" y1="39.96" x2="288.60" y2="39.96" stroke="#000" stroke-width="1.60"/><line x1="47.00" y1="32.73" x2="50.20" y2="32.73" stroke="#000" stroke-width="1.60"/><line x1="291.80" y1="32.73" x2="288.60" y2="32.73" stroke="#000" stroke-width="1.60"/><line x1="47.00" y1="26.47" x2="50.20" y2="26.47" stroke="#000" stroke-width="1.60"/><line x1="291.80" y1="26.47" x2="288.60" y2="26.47" stroke="#000" stroke-width="1.60"/><line x1="47.00" y1="20.94" x2="50.20" y2="20.94" stroke="#000" stroke-width="1.60"/><line x1="291.80" y1="20.94" x2="288.60" y2="20.94" stroke="#000" stroke-width="1.60"/><rect x="47.00" y="19.80" width="244.80" height="244.70" fill="none" stroke="#000" stroke-width="2.00"/><text x="72.79" y="282.50" font-size="12.20" textLength="14.25" lengthAdjust="spacingAndGlyphs" fill="#222">10</text><text x="87.64" y="276.90" font-size="8.20" textLength="7.66" lengthAdjust="spacingAndGlyphs" fill="#222">-2</text><text x="194.19" y="282.50" font-size="12.20" textLength="14.25" lengthAdjust="spacingAndGlyphs" fill="#222">10</text><text x="209.04" y="276.90" font-size="8.20" textLength="7.66" lengthAdjust="spacingAndGlyphs" fill="#222">-1</text><text x="96.79" y="300.10" font-size="15.80" textLength="143.81" lengthAdjust="spacingAndGlyphs" fill="#222">PCD probability (c)</text><line x1="435.75" y1="265.50" x2="435.75" y2="259.50" stroke="#000" stroke-width="1.60"/><line x1="435.75" y1="21.20" x2="435.75" y2="27.20" stroke="#000" stroke-width="1.60"/><line x1="558.15" y1="265.50" x2="558.15" y2="259.50" stroke="#000" stroke-width="1.60"/><line x1="558.15" y1="21.20" x2="558.15" y2="27.20" stroke="#000" stroke-width="1.60"/><line x1="408.59" y1="265.50" x2="408.59" y2="262.30" stroke="#000" stroke-width="1.60"/><line x1="408.59" y1="21.20" x2="408.59" y2="24.40" stroke="#000" stroke-width="1.60"/><line x1="416.79" y1="265.50" x2="416.79" y2="262.30" stroke="#000" stroke-width="1.60"/><line x1="416.79" y1="21.20" x2="416.79" y2="24.40" stroke="#000" stroke-width="1.60"/><line x1="423.88" y1="265.50" x2="423.88" y2="262.30" stroke="#000" stroke-width="1.60"/><line x1="423.88" y1="21.20" x2="423.88" y2="24.40" stroke="#000" stroke-width="1.60"/><line x1="430.15" y1="265.50" x2="430.15" y2="262.30" stroke="#000" stroke-width="1.60"/><line x1="430.15" y1="21.20" x2="430.15" y2="24.40" stroke="#000" stroke-width="1.60"/><line x1="472.59" y1="265.50" x2="472.59" y2="262.30" stroke="#000" stroke-width="1.60"/><line x1="472.59" y1="21.20" x2="472.59" y2="24.40" stroke="#000" stroke-width="1.60"/><line x1="494.15" y1="265.50" x2="494.15" y2="262.30" stroke="#000" stroke-width="1.60"/><line x1="494.15" y1="21.20" x2="494.15" y2="24.40" stroke="#000" stroke-width="1.60"/><line x1="509.44" y1="265.50" x2="509.44" y2="262.30" stroke="#000" stroke-width="1.60"/><line x1="509.44" y1="21.20" x2="509.44" y2="24.40" stroke="#000" stroke-width="1.60"/><line x1="521.30" y1="265.50" x2="521.30" y2="262.30" stroke="#000" stroke-width="1.60"/><line x1="521.30" y1="21.20" x2="521.30" y2="24.40" stroke="#000" stroke-width="1.60"/><line x1="530.99" y1="265.50" x2="530.99" y2="262.30" stroke="#000" stroke-width="1.60"/><line x1="530.99" y1="21.20" x2="530.99" y2="24.40" stroke="#000" stroke-width="1.60"/><line x1="539.19" y1="265.50" x2="539.19" y2="262.30" stroke="#000" stroke-width="1.60"/><line x1="539.19" y1="21.20" x2="539.19" y2="24.40" stroke="#000" stroke-width="1.60"/><line x1="546.28" y1="265.50" x2="546.28" y2="262.30" stroke="#000" stroke-width="1.60"/><line x1="546.28" y1="21.20" x2="546.28" y2="24.40" stroke="#000" stroke-width="1.60"/><line x1="552.55" y1="265.50" x2="552.55" y2="262.30" stroke="#000" stroke-width="1.60"/><line x1="552.55" y1="21.20" x2="552.55" y2="24.40" stroke="#000" stroke-width="1.60"/><line x1="594.99" y1="265.50" x2="594.99" y2="262.30" stroke="#000" stroke-width="1.60"/><line x1="594.99" y1="21.20" x2="594.99" y2="24.40" stroke="#000" stroke-width="1.60"/><line x1="616.55" y1="265.50" x2="616.55" y2="262.30" stroke="#000" stroke-width="1.60"/><line x1="616.55" y1="21.20" x2="616.55" y2="24.40" stroke="#000" stroke-width="1.60"/><line x1="631.84" y1="265.50" x2="631.84" y2="262.30" stroke="#000" stroke-width="1.60"/><line x1="631.84" y1="21.20" x2="631.84" y2="24.40" stroke="#000" stroke-width="1.60"/><line x1="398.90" y1="232.20" x2="404.90" y2="232.20" stroke="#000" stroke-width="1.60"/><line x1="643.70" y1="232.20" x2="637.70" y2="232.20" stroke="#000" stroke-width="1.60"/><line x1="398.90" y1="124.20" x2="404.90" y2="124.20" stroke="#000" stroke-width="1.60"/><line x1="643.70" y1="124.20" x2="637.70" y2="124.20" stroke="#000" stroke-width="1.60"/><line x1="398.90" y1="256.16" x2="402.10" y2="256.16" stroke="#000" stroke-width="1.60"/><line x1="643.70" y1="256.16" x2="640.50" y2="256.16" stroke="#000" stroke-width="1.60"/><line x1="398.90" y1="248.93" x2="402.10" y2="248.93" stroke="#000" stroke-width="1.60"/><line x1="643.70" y1="248.93" x2="640.50" y2="248.93" stroke="#000" stroke-width="1.60"/><line x1="398.90" y1="242.67" x2="402.10" y2="242.67" stroke="#000" stroke-width="1.60"/><line x1="643.70" y1="242.67" x2="640.50" y2="242.67" stroke="#000" stroke-width="1.60"/><line x1="398.90" y1="237.14" x2="402.10" y2="237.14" stroke="#000" stroke-width="1.60"/><line x1="643.70" y1="237.14" x2="640.50" y2="237.14" stroke="#000" stroke-width="1.60"/><line x1="398.90" y1="199.69" x2="402.10" y2="199.69" stroke="#000" stroke-width="1.60"/><line x1="643.70" y1="199.69" x2="640.50" y2="199.69" stroke="#000" stroke-width="1.60"/><line x1="398.90" y1="180.67" x2="402.10" y2="180.67" stroke="#000" stroke-width="1.60"/><line x1="643.70" y1="180.67" x2="640.50" y2="180.67" stroke="#000" stroke-width="1.60"/><line x1="398.90" y1="167.18" x2="402.10" y2="167.18" stroke="#000" stroke-width="1.60"/><line x1="643.70" y1="167.18" x2="640.50" y2="167.18" stroke="#000" stroke-width="1.60"/><line x1="398.90" y1="156.71" x2="402.10" y2="156.71" stroke="#000" stroke-width="1.60"/><line x1="643.70" y1="156.71" x2="640.50" y2="156.71" stroke="#000" stroke-width="1.60"/><line x1="398.90" y1="148.16" x2="402.10" y2="148.16" stroke="#000" stroke-width="1.60"/><line x1="643.70" y1="148.16" x2="640.50" y2="148.16" stroke="#000" stroke-width="1.60"/><line x1="398.90" y1="140.93" x2="402.10" y2="140.93" stroke="#000" stroke-width="1.60"/><line x1="643.70" y1="140.93" x2="640.50" y2="140.93" stroke="#000" stroke-width="1.60"/><line x1="398.90" y1="134.67" x2="402.10" y2="134.67" stroke="#000" stroke-width="1.60"/><line x1="643.70" y1="134.67" x2="640.50" y2="134.67" stroke="#000" stroke-width="1.60"/><line x1="398.90" y1="129.14" x2="402.10" y2="129.14" stroke="#000" stroke-width="1.60"/><line x1="643.70" y1="129.14" x2="640.50" y2="129.14" stroke="#000" stroke-width="1.60"/><line x1="398.90" y1="91.69" x2="402.10" y2="91.69" stroke="#000" stroke-width="1.60"/><line x1="643.70" y1="91.69" x2="640.50" y2="91.69" stroke="#000" stroke-width="1.60"/><line x1="398.90" y1="72.67" x2="402.10" y2="72.67" stroke="#000" stroke-width="1.60"/><line x1="643.70" y1="72.67" x2="640.50" y2="72.67" stroke="#000" stroke-width="1.60"/><line x1="398.90" y1="59.18" x2="402.10" y2="59.18" stroke="#000" stroke-width="1.60"/><line x1="643.70" y1="59.18" x2="640.50" y2="59.18" stroke="#000" stroke-width="1.60"/><line x1="398.90" y1="48.71" x2="402.10" y2="48.71" stroke="#000" stroke-width="1.60"/><line x1="643.70" y1="48.71" x2="640.50" y2="48.71" stroke="#000" stroke-width="1.60"/><line x1="398.90" y1="40.16" x2="402.10" y2="40.16" stroke="#000" stroke-width="1.60"/><line x1="643.70" y1="40.16" x2="640.50" y2="40.16" stroke="#000" stroke-width="1.60"/><line x1="398.90" y1="32.93" x2="402.10" y2="32.93" stroke="#000" stroke-width="1.60"/><line x1="643.70" y1="32.93" x2="640.50" y2="32.93" stroke="#000" stroke-width="1.60"/><line x1="398.90" y1="26.67" x2="402.10" y2="26.67" stroke="#000" stroke-width="1.60"/><line x1="643.70" y1="26.67" x2="640.50" y2="26.67" stroke="#000" stroke-width="1.60"/><rect x="398.90" y="21.20" width="244.80" height="244.30" fill="none" stroke="#000" stroke-width="2.00"/><text x="424.69" y="283.50" font-size="12.20" textLength="14.25" lengthAdjust="spacingAndGlyphs" fill="#222">10</text><text x="439.54" y="277.90" font-size="8.20" textLength="7.66" lengthAdjust="spacingAndGlyphs" fill="#222">-2</text><text x="546.09" y="283.50" font-size="12.20" textLength="14.25" lengthAdjust="spacingAndGlyphs" fill="#222">10</text><text x="560.94" y="277.90" font-size="8.20" textLength="7.66" lengthAdjust="spacingAndGlyphs" fill="#222">-1</text><text x="449.09" y="300.10" font-size="15.80" textLength="143.40" lengthAdjust="spacingAndGlyphs" fill="#222">PCD probability (c)</text><line x1="84.83" y1="568.50" x2="84.83" y2="562.50" stroke="#000" stroke-width="1.60"/><line x1="84.83" y1="326.80" x2="84.83" y2="332.80" stroke="#000" stroke-width="1.60"/><line x1="206.18" y1="568.50" x2="206.18" y2="562.50" stroke="#000" stroke-width="1.60"/><line x1="206.18" y1="326.80" x2="206.18" y2="332.80" stroke="#000" stroke-width="1.60"/><line x1="57.91" y1="568.50" x2="57.91" y2="565.30" stroke="#000" stroke-width="1.60"/><line x1="57.91" y1="326.80" x2="57.91" y2="330.00" stroke="#000" stroke-width="1.60"/><line x1="66.03" y1="568.50" x2="66.03" y2="565.30" stroke="#000" stroke-width="1.60"/><line x1="66.03" y1="326.80" x2="66.03" y2="330.00" stroke="#000" stroke-width="1.60"/><line x1="73.07" y1="568.50" x2="73.07" y2="565.30" stroke="#000" stroke-width="1.60"/><line x1="73.07" y1="326.80" x2="73.07" y2="330.00" stroke="#000" stroke-width="1.60"/><line x1="79.28" y1="568.50" x2="79.28" y2="565.30" stroke="#000" stroke-width="1.60"/><line x1="79.28" y1="326.80" x2="79.28" y2="330.00" stroke="#000" stroke-width="1.60"/><line x1="121.36" y1="568.50" x2="121.36" y2="565.30" stroke="#000" stroke-width="1.60"/><line x1="121.36" y1="326.80" x2="121.36" y2="330.00" stroke="#000" stroke-width="1.60"/><line x1="142.73" y1="568.50" x2="142.73" y2="565.30" stroke="#000" stroke-width="1.60"/><line x1="142.73" y1="326.80" x2="142.73" y2="330.00" stroke="#000" stroke-width="1.60"/><line x1="157.89" y1="568.50" x2="157.89" y2="565.30" stroke="#000" stroke-width="1.60"/><line x1="157.89" y1="326.80" x2="157.89" y2="330.00" stroke="#000" stroke-width="1.60"/><line x1="169.65" y1="568.50" x2="169.65" y2="565.30" stroke="#000" stroke-width="1.60"/><line x1="169.65" y1="326.80" x2="169.65" y2="330.00" stroke="#000" stroke-width="1.60"/><line x1="179.26" y1="568.50" x2="179.26" y2="565.30" stroke="#000" stroke-width="1.60"/><line x1="179.26" y1="326.80" x2="179.26" y2="330.00" stroke="#000" stroke-width="1.60"/><line x1="187.38" y1="568.50" x2="187.38" y2="565.30" stroke="#000" stroke-width="1.60"/><line x1="187.38" y1="326.80" x2="187.38" y2="330.00" stroke="#000" stroke-width="1.60"/><line x1="194.42" y1="568.50" x2="194.42" y2="565.30" stroke="#000" stroke-width="1.60"/><line x1="194.42" y1="326.80" x2="194.42" y2="330.00" stroke="#000" stroke-width="1.60"/><line x1="200.63" y1="568.50" x2="200.63" y2="565.30" stroke="#000" stroke-width="1.60"/><line x1="200.63" y1="326.80" x2="200.63" y2="330.00" stroke="#000" stroke-width="1.60"/><line x1="242.71" y1="568.50" x2="242.71" y2="565.30" stroke="#000" stroke-width="1.60"/><line x1="242.71" y1="326.80" x2="242.71" y2="330.00" stroke="#000" stroke-width="1.60"/><line x1="264.08" y1="568.50" x2="264.08" y2="565.30" stroke="#000" stroke-width="1.60"/><line x1="264.08" y1="326.80" x2="264.08" y2="330.00" stroke="#000" stroke-width="1.60"/><line x1="279.24" y1="568.50" x2="279.24" y2="565.30" stroke="#000" stroke-width="1.60"/><line x1="279.24" y1="326.80" x2="279.24" y2="330.00" stroke="#000" stroke-width="1.60"/><line x1="48.30" y1="520.16" x2="54.30" y2="520.16" stroke="#000" stroke-width="1.60"/><line x1="291.00" y1="520.16" x2="285.00" y2="520.16" stroke="#000" stroke-width="1.60"/><line x1="48.30" y1="471.82" x2="54.30" y2="471.82" stroke="#000" stroke-width="1.60"/><line x1="291.00" y1="471.82" x2="285.00" y2="471.82" stroke="#000" stroke-width="1.60"/><line x1="48.30" y1="423.48" x2="54.30" y2="423.48" stroke="#000" stroke-width="1.60"/><line x1="291.00" y1="423.48" x2="285.00" y2="423.48" stroke="#000" stroke-width="1.60"/><line x1="48.30" y1="375.14" x2="54.30" y2="375.14" stroke="#000" stroke-width="1.60"/><line x1="291.00" y1="375.14" x2="285.00" y2="375.14" stroke="#000" stroke-width="1.60"/><rect x="48.30" y="326.80" width="242.70" height="241.70" fill="none" stroke="#000" stroke-width="2.00"/><text x="73.78" y="586.50" font-size="12.20" textLength="14.25" lengthAdjust="spacingAndGlyphs" fill="#222">10</text><text x="88.63" y="580.90" font-size="8.20" textLength="7.66" lengthAdjust="spacingAndGlyphs" fill="#222">-2</text><text x="194.13" y="586.50" font-size="12.20" textLength="14.25" lengthAdjust="spacingAndGlyphs" fill="#222">10</text><text x="208.98" y="580.90" font-size="8.20" textLength="7.66" lengthAdjust="spacingAndGlyphs" fill="#222">-1</text><text x="97.80" y="602.80" font-size="15.80" textLength="142.89" lengthAdjust="spacingAndGlyphs" fill="#222">PCD probability (c)</text><text x="18.99" y="128.40" font-size="12.20" textLength="14.25" lengthAdjust="spacingAndGlyphs" fill="#222">10</text><text x="33.84" y="122.80" font-size="8.20" textLength="7.66" lengthAdjust="spacingAndGlyphs" fill="#222">-1</text><text x="18.99" y="236.40" font-size="12.20" textLength="14.25" lengthAdjust="spacingAndGlyphs" fill="#222">10</text><text x="33.84" y="230.80" font-size="8.20" textLength="7.66" lengthAdjust="spacingAndGlyphs" fill="#222">-2</text><text x="370.89" y="128.60" font-size="12.20" textLength="14.25" lengthAdjust="spacingAndGlyphs" fill="#222">10</text><text x="385.74" y="123.00" font-size="8.20" textLength="7.66" lengthAdjust="spacingAndGlyphs" fill="#222">-1</text><text x="370.89" y="236.60" font-size="12.20" textLength="14.25" lengthAdjust="spacingAndGlyphs" fill="#222">10</text><text x="385.74" y="231.00" font-size="8.20" textLength="7.66" lengthAdjust="spacingAndGlyphs" fill="#222">-2</text><text x="13.00" y="240.95" font-size="15.80" textLength="196.63" lengthAdjust="spacingAndGlyphs" fill="#222" transform="rotate(-90 13.00 240.95)">probability of switching (p)</text><text x="365.80" y="241.15" font-size="15.80" textLength="196.12" lengthAdjust="spacingAndGlyphs" fill="#222" transform="rotate(-90 365.80 241.15)">probability of switching (p)</text><text x="42.70" y="571.70" font-size="12.20" textLength="7.12" lengthAdjust="spacingAndGlyphs" fill="#222" text-anchor="end">0</text><text x="42.70" y="547.53" font-size="12.20" textLength="17.81" lengthAdjust="spacingAndGlyphs" fill="#222" text-anchor="end">0.1</text><text x="42.70" y="523.36" font-size="12.20" textLength="17.81" lengthAdjust="spacingAndGlyphs" fill="#222" text-anchor="end">0.2</text><text x="42.70" y="499.19" font-size="12.20" textLength="17.81" lengthAdjust="spacingAndGlyphs" fill="#222" text-anchor="end">0.3</text><text x="42.70" y="475.02" font-size="12.20" textLength="17.81" lengthAdjust="spacingAndGlyphs" fill="#222" text-anchor="end">0.4</text><text x="42.70" y="450.85" font-size="12.20" textLength="17.81" lengthAdjust="spacingAndGlyphs" fill="#222" text-anchor="end">0.5</text><text x="42.70" y="426.68" font-size="12.20" textLength="17.81" lengthAdjust="spacingAndGlyphs" fill="#222" text-anchor="end">0.6</text><text x="42.70" y="402.51" font-size="12.20" textLength="17.81" lengthAdjust="spacingAndGlyphs" fill="#222" text-anchor="end">0.7</text><text x="42.70" y="378.34" font-size="12.20" textLength="17.81" lengthAdjust="spacingAndGlyphs" fill="#222" text-anchor="end">0.8</text><text x="42.70" y="354.17" font-size="12.20" textLength="17.81" lengthAdjust="spacingAndGlyphs" fill="#222" text-anchor="end">0.9</text><text x="42.70" y="330.00" font-size="12.20" textLength="7.12" lengthAdjust="spacingAndGlyphs" fill="#222" text-anchor="end">1</text><text x="13.30" y="490.36" font-size="15.80" textLength="86.91" lengthAdjust="spacingAndGlyphs" fill="#222" transform="rotate(-90 13.30 490.36)">structure (r)</text><text x="8.30" y="21.60" font-size="32.80" font-weight="bold" textLength="23.17" lengthAdjust="spacingAndGlyphs" fill="#000">A</text><text x="353.18" y="21.30" font-size="32.80" font-weight="bold" textLength="21.67" lengthAdjust="spacingAndGlyphs" fill="#000">B</text><text x="9.26" y="314.30" font-size="32.80" font-weight="bold" textLength="20.51" lengthAdjust="spacingAndGlyphs" fill="#000">C</text><text x="353.18" y="314.50" font-size="32.80" font-weight="bold" textLength="21.58" lengthAdjust="spacingAndGlyphs" fill="#000">D</text><rect x="298.20" y="20.10" width="14.20" height="244.90" fill="url(#cbA)" stroke="#9a9a9a" stroke-width="0.6"/><line x1="298.20" y1="25.14" x2="300.70" y2="25.14" stroke="rgba(0,0,0,0.35)" stroke-width="0.80"/><line x1="312.40" y1="25.14" x2="309.90" y2="25.14" stroke="rgba(0,0,0,0.35)" stroke-width="0.80"/><text x="316.60" y="27.69" font-size="12.20" textLength="17.81" lengthAdjust="spacingAndGlyphs" fill="#222">0.7</text><line x1="298.20" y1="59.42" x2="300.70" y2="59.42" stroke="rgba(0,0,0,0.35)" stroke-width="0.80"/><line x1="312.40" y1="59.42" x2="309.90" y2="59.42" stroke="rgba(0,0,0,0.35)" stroke-width="0.80"/><text x="316.60" y="61.87" font-size="12.20" textLength="17.81" lengthAdjust="spacingAndGlyphs" fill="#222">0.6</text><line x1="298.20" y1="93.70" x2="300.70" y2="93.70" stroke="rgba(0,0,0,0.35)" stroke-width="0.80"/><line x1="312.40" y1="93.70" x2="309.90" y2="93.70" stroke="rgba(0,0,0,0.35)" stroke-width="0.80"/><text x="316.60" y="96.05" font-size="12.20" textLength="17.81" lengthAdjust="spacingAndGlyphs" fill="#222">0.5</text><line x1="298.20" y1="127.98" x2="300.70" y2="127.98" stroke="rgba(0,0,0,0.35)" stroke-width="0.80"/><line x1="312.40" y1="127.98" x2="309.90" y2="127.98" stroke="rgba(0,0,0,0.35)" stroke-width="0.80"/><text x="316.60" y="130.23" font-size="12.20" textLength="17.81" lengthAdjust="spacingAndGlyphs" fill="#222">0.4</text><line x1="298.20" y1="162.26" x2="300.70" y2="162.26" stroke="rgba(0,0,0,0.35)" stroke-width="0.80"/><line x1="312.40" y1="162.26" x2="309.90" y2="162.26" stroke="rgba(0,0,0,0.35)" stroke-width="0.80"/><text x="316.60" y="164.41" font-size="12.20" textLength="17.81" lengthAdjust="spacingAndGlyphs" fill="#222">0.3</text><line x1="298.20" y1="196.54" x2="300.70" y2="196.54" stroke="rgba(0,0,0,0.35)" stroke-width="0.80"/><line x1="312.40" y1="196.54" x2="309.90" y2="196.54" stroke="rgba(0,0,0,0.35)" stroke-width="0.80"/><text x="316.60" y="198.59" font-size="12.20" textLength="17.81" lengthAdjust="spacingAndGlyphs" fill="#222">0.2</text><line x1="298.20" y1="230.82" x2="300.70" y2="230.82" stroke="rgba(0,0,0,0.35)" stroke-width="0.80"/><line x1="312.40" y1="230.82" x2="309.90" y2="230.82" stroke="rgba(0,0,0,0.35)" stroke-width="0.80"/><text x="316.60" y="232.77" font-size="12.20" textLength="17.81" lengthAdjust="spacingAndGlyphs" fill="#222">0.1</text><text x="316.60" y="266.95" font-size="12.20" textLength="7.12" lengthAdjust="spacingAndGlyphs" fill="#222">0</text><rect x="650.10" y="21.20" width="14.00" height="244.70" fill="url(#cbB)" stroke="#9a9a9a" stroke-width="0.6"/><line x1="650.10" y1="42.35" x2="652.60" y2="42.35" stroke="rgba(0,0,0,0.35)" stroke-width="0.80"/><line x1="664.10" y1="42.35" x2="661.60" y2="42.35" stroke="rgba(0,0,0,0.35)" stroke-width="0.80"/><text x="667.80" y="45.43" font-size="12.20" textLength="17.81" lengthAdjust="spacingAndGlyphs" fill="#222">0.9</text><line x1="650.10" y1="67.20" x2="652.60" y2="67.20" stroke="rgba(0,0,0,0.35)" stroke-width="0.80"/><line x1="664.10" y1="67.20" x2="661.60" y2="67.20" stroke="rgba(0,0,0,0.35)" stroke-width="0.80"/><text x="667.80" y="69.95" font-size="12.20" textLength="17.81" lengthAdjust="spacingAndGlyphs" fill="#222">0.8</text><line x1="650.10" y1="92.05" x2="652.60" y2="92.05" stroke="rgba(0,0,0,0.35)" stroke-width="0.80"/><line x1="664.10" y1="92.05" x2="661.60" y2="92.05" stroke="rgba(0,0,0,0.35)" stroke-width="0.80"/><text x="667.80" y="94.48" font-size="12.20" textLength="17.81" lengthAdjust="spacingAndGlyphs" fill="#222">0.7</text><line x1="650.10" y1="116.90" x2="652.60" y2="116.90" stroke="rgba(0,0,0,0.35)" stroke-width="0.80"/><line x1="664.10" y1="116.90" x2="661.60" y2="116.90" stroke="rgba(0,0,0,0.35)" stroke-width="0.80"/><text x="667.80" y="119.00" font-size="12.20" textLength="17.81" lengthAdjust="spacingAndGlyphs" fill="#222">0.6</text><line x1="650.10" y1="141.75" x2="652.60" y2="141.75" stroke="rgba(0,0,0,0.35)" stroke-width="0.80"/><line x1="664.10" y1="141.75" x2="661.60" y2="141.75" stroke="rgba(0,0,0,0.35)" stroke-width="0.80"/><text x="667.80" y="143.53" font-size="12.20" textLength="17.81" lengthAdjust="spacingAndGlyphs" fill="#222">0.5</text><line x1="650.10" y1="166.60" x2="652.60" y2="166.60" stroke="rgba(0,0,0,0.35)" stroke-width="0.80"/><line x1="664.10" y1="166.60" x2="661.60" y2="166.60" stroke="rgba(0,0,0,0.35)" stroke-width="0.80"/><text x="667.80" y="168.05" font-size="12.20" textLength="17.81" lengthAdjust="spacingAndGlyphs" fill="#222">0.4</text><line x1="650.10" y1="191.45" x2="652.60" y2="191.45" stroke="rgba(0,0,0,0.35)" stroke-width="0.80"/><line x1="664.10" y1="191.45" x2="661.60" y2="191.45" stroke="rgba(0,0,0,0.35)" stroke-width="0.80"/><text x="667.80" y="192.58" font-size="12.20" textLength="17.81" lengthAdjust="spacingAndGlyphs" fill="#222">0.3</text><line x1="650.10" y1="216.30" x2="652.60" y2="216.30" stroke="rgba(0,0,0,0.35)" stroke-width="0.80"/><line x1="664.10" y1="216.30" x2="661.60" y2="216.30" stroke="rgba(0,0,0,0.35)" stroke-width="0.80"/><text x="667.80" y="217.10" font-size="12.20" textLength="17.81" lengthAdjust="spacingAndGlyphs" fill="#222">0.2</text><line x1="650.10" y1="241.15" x2="652.60" y2="241.15" stroke="rgba(0,0,0,0.35)" stroke-width="0.80"/><line x1="664.10" y1="241.15" x2="661.60" y2="241.15" stroke="rgba(0,0,0,0.35)" stroke-width="0.80"/><text x="667.80" y="241.62" font-size="12.20" textLength="17.81" lengthAdjust="spacingAndGlyphs" fill="#222">0.1</text><text x="667.80" y="266.15" font-size="12.20" textLength="7.12" lengthAdjust="spacingAndGlyphs" fill="#222">0</text><rect x="297.20" y="326.50" width="14.00" height="243.00" fill="url(#cbC)" stroke="#9a9a9a" stroke-width="0.6"/><line x1="297.20" y1="348.42" x2="299.70" y2="348.42" stroke="rgba(0,0,0,0.35)" stroke-width="0.80"/><line x1="311.20" y1="348.42" x2="308.70" y2="348.42" stroke="rgba(0,0,0,0.35)" stroke-width="0.80"/><text x="315.40" y="351.51" font-size="12.20" textLength="17.81" lengthAdjust="spacingAndGlyphs" fill="#222">0.9</text><line x1="297.20" y1="373.04" x2="299.70" y2="373.04" stroke="rgba(0,0,0,0.35)" stroke-width="0.80"/><line x1="311.20" y1="373.04" x2="308.70" y2="373.04" stroke="rgba(0,0,0,0.35)" stroke-width="0.80"/><text x="315.40" y="375.87" font-size="12.20" textLength="17.81" lengthAdjust="spacingAndGlyphs" fill="#222">0.8</text><line x1="297.20" y1="397.66" x2="299.70" y2="397.66" stroke="rgba(0,0,0,0.35)" stroke-width="0.80"/><line x1="311.20" y1="397.66" x2="308.70" y2="397.66" stroke="rgba(0,0,0,0.35)" stroke-width="0.80"/><text x="315.40" y="400.23" font-size="12.20" textLength="17.81" lengthAdjust="spacingAndGlyphs" fill="#222">0.7</text><line x1="297.20" y1="422.28" x2="299.70" y2="422.28" stroke="rgba(0,0,0,0.35)" stroke-width="0.80"/><line x1="311.20" y1="422.28" x2="308.70" y2="422.28" stroke="rgba(0,0,0,0.35)" stroke-width="0.80"/><text x="315.40" y="424.59" font-size="12.20" textLength="17.81" lengthAdjust="spacingAndGlyphs" fill="#222">0.6</text><line x1="297.20" y1="446.90" x2="299.70" y2="446.90" stroke="rgba(0,0,0,0.35)" stroke-width="0.80"/><line x1="311.20" y1="446.90" x2="308.70" y2="446.90" stroke="rgba(0,0,0,0.35)" stroke-width="0.80"/><text x="315.40" y="448.95" font-size="12.20" textLength="17.81" lengthAdjust="spacingAndGlyphs" fill="#222">0.5</text><line x1="297.20" y1="471.52" x2="299.70" y2="471.52" stroke="rgba(0,0,0,0.35)" stroke-width="0.80"/><line x1="311.20" y1="471.52" x2="308.70" y2="471.52" stroke="rgba(0,0,0,0.35)" stroke-width="0.80"/><text x="315.40" y="473.31" font-size="12.20" textLength="17.81" lengthAdjust="spacingAndGlyphs" fill="#222">0.4</text><line x1="297.20" y1="496.14" x2="299.70" y2="496.14" stroke="rgba(0,0,0,0.35)" stroke-width="0.80"/><line x1="311.20" y1="496.14" x2="308.70" y2="496.14" stroke="rgba(0,0,0,0.35)" stroke-width="0.80"/><text x="315.40" y="497.67" font-size="12.20" textLength="17.81" lengthAdjust="spacingAndGlyphs" fill="#222">0.3</text><line x1="297.20" y1="520.76" x2="299.70" y2="520.76" stroke="rgba(0,0,0,0.35)" stroke-width="0.80"/><line x1="311.20" y1="520.76" x2="308.70" y2="520.76" stroke="rgba(0,0,0,0.35)" stroke-width="0.80"/><text x="315.40" y="522.03" font-size="12.20" textLength="17.81" lengthAdjust="spacingAndGlyphs" fill="#222">0.2</text><line x1="297.20" y1="545.38" x2="299.70" y2="545.38" stroke="rgba(0,0,0,0.35)" stroke-width="0.80"/><line x1="311.20" y1="545.38" x2="308.70" y2="545.38" stroke="rgba(0,0,0,0.35)" stroke-width="0.80"/><text x="315.40" y="546.39" font-size="12.20" textLength="17.81" lengthAdjust="spacingAndGlyphs" fill="#222">0.1</text><text x="401.80" y="582.80" font-size="12.20" textLength="7.12" lengthAdjust="spacingAndGlyphs" fill="#222" text-anchor="middle">0</text><line x1="445.55" y1="567.80" x2="445.55" y2="561.80" stroke="#222" stroke-width="1.40"/><line x1="445.55" y1="327.40" x2="445.55" y2="333.40" stroke="#222" stroke-width="1.40"/><text x="445.55" y="582.80" font-size="12.20" textLength="17.81" lengthAdjust="spacingAndGlyphs" fill="#222" text-anchor="middle">0.1</text><line x1="489.29" y1="567.80" x2="489.29" y2="561.80" stroke="#222" stroke-width="1.40"/><line x1="489.29" y1="327.40" x2="489.29" y2="333.40" stroke="#222" stroke-width="1.40"/><text x="489.29" y="582.80" font-size="12.20" textLength="17.81" lengthAdjust="spacingAndGlyphs" fill="#222" text-anchor="middle">0.2</text><line x1="533.04" y1="567.80" x2="533.04" y2="561.80" stroke="#222" stroke-width="1.40"/><line x1="533.04" y1="327.40" x2="533.04" y2="333.40" stroke="#222" stroke-width="1.40"/><text x="533.04" y="582.80" font-size="12.20" textLength="17.81" lengthAdjust="spacingAndGlyphs" fill="#222" text-anchor="middle">0.3</text><line x1="576.78" y1="567.80" x2="576.78" y2="561.80" stroke="#222" stroke-width="1.40"/><line x1="576.78" y1="327.40" x2="576.78" y2="333.40" stroke="#222" stroke-width="1.40"/><text x="576.78" y="582.80" font-size="12.20" textLength="17.81" lengthAdjust="spacingAndGlyphs" fill="#222" text-anchor="middle">0.4</text><line x1="620.53" y1="567.80" x2="620.53" y2="561.80" stroke="#222" stroke-width="1.40"/><line x1="620.53" y1="327.40" x2="620.53" y2="333.40" stroke="#222" stroke-width="1.40"/><text x="620.53" y="582.80" font-size="12.20" textLength="17.81" lengthAdjust="spacingAndGlyphs" fill="#222" text-anchor="middle">0.5</text><text x="396.60" y="571.10" font-size="12.20" textLength="7.12" lengthAdjust="spacingAndGlyphs" fill="#222" text-anchor="end">0</text><line x1="401.80" y1="543.76" x2="407.80" y2="543.76" stroke="#222" stroke-width="1.40"/><line x1="642.40" y1="543.76" x2="636.40" y2="543.76" stroke="#222" stroke-width="1.40"/><text x="396.60" y="547.06" font-size="12.20" textLength="17.81" lengthAdjust="spacingAndGlyphs" fill="#222" text-anchor="end">0.1</text><line x1="401.80" y1="519.72" x2="407.80" y2="519.72" stroke="#222" stroke-width="1.40"/><line x1="642.40" y1="519.72" x2="636.40" y2="519.72" stroke="#222" stroke-width="1.40"/><text x="396.60" y="523.02" font-size="12.20" textLength="17.81" lengthAdjust="spacingAndGlyphs" fill="#222" text-anchor="end">0.2</text><line x1="401.80" y1="495.68" x2="407.80" y2="495.68" stroke="#222" stroke-width="1.40"/><line x1="642.40" y1="495.68" x2="636.40" y2="495.68" stroke="#222" stroke-width="1.40"/><text x="396.60" y="498.98" font-size="12.20" textLength="17.81" lengthAdjust="spacingAndGlyphs" fill="#222" text-anchor="end">0.3</text><line x1="401.80" y1="471.64" x2="407.80" y2="471.64" stroke="#222" stroke-width="1.40"/><line x1="642.40" y1="471.64" x2="636.40" y2="471.64" stroke="#222" stroke-width="1.40"/><text x="396.60" y="474.94" font-size="12.20" textLength="17.81" lengthAdjust="spacingAndGlyphs" fill="#222" text-anchor="end">0.4</text><line x1="401.80" y1="447.60" x2="407.80" y2="447.60" stroke="#222" stroke-width="1.40"/><line x1="642.40" y1="447.60" x2="636.40" y2="447.60" stroke="#222" stroke-width="1.40"/><text x="396.60" y="450.90" font-size="12.20" textLength="17.81" lengthAdjust="spacingAndGlyphs" fill="#222" text-anchor="end">0.5</text><line x1="401.80" y1="423.56" x2="407.80" y2="423.56" stroke="#222" stroke-width="1.40"/><line x1="642.40" y1="423.56" x2="636.40" y2="423.56" stroke="#222" stroke-width="1.40"/><text x="396.60" y="426.86" font-size="12.20" textLength="17.81" lengthAdjust="spacingAndGlyphs" fill="#222" text-anchor="end">0.6</text><line x1="401.80" y1="399.52" x2="407.80" y2="399.52" stroke="#222" stroke-width="1.40"/><line x1="642.40" y1="399.52" x2="636.40" y2="399.52" stroke="#222" stroke-width="1.40"/><text x="396.60" y="402.82" font-size="12.20" textLength="17.81" lengthAdjust="spacingAndGlyphs" fill="#222" text-anchor="end">0.7</text><line x1="401.80" y1="375.48" x2="407.80" y2="375.48" stroke="#222" stroke-width="1.40"/><line x1="642.40" y1="375.48" x2="636.40" y2="375.48" stroke="#222" stroke-width="1.40"/><text x="396.60" y="378.78" font-size="12.20" textLength="17.81" lengthAdjust="spacingAndGlyphs" fill="#222" text-anchor="end">0.8</text><line x1="401.80" y1="351.44" x2="407.80" y2="351.44" stroke="#222" stroke-width="1.40"/><line x1="642.40" y1="351.44" x2="636.40" y2="351.44" stroke="#222" stroke-width="1.40"/><text x="396.60" y="354.74" font-size="12.20" textLength="17.81" lengthAdjust="spacingAndGlyphs" fill="#222" text-anchor="end">0.9</text><text x="396.60" y="330.70" font-size="12.20" textLength="7.12" lengthAdjust="spacingAndGlyphs" fill="#222" text-anchor="end">1</text><rect x="401.80" y="327.40" width="240.60" height="240.40" fill="none" stroke="#222" stroke-width="1.9"/><polyline points="423.67,507.70 445.55,447.60 467.42,423.56 489.29,375.48 511.16,375.48 533.04,351.44 576.78,351.44 620.53,351.44" fill="none" stroke="#ee0000" stroke-width="3.0" stroke-linejoin="round"/><circle cx="423.67" cy="507.70" r="3.6" fill="#ee0000"/><circle cx="445.55" cy="447.60" r="3.6" fill="#ee0000"/><circle cx="467.42" cy="423.56" r="3.6" fill="#ee0000"/><circle cx="489.29" cy="375.48" r="3.6" fill="#ee0000"/><circle cx="511.16" cy="375.48" r="3.6" fill="#ee0000"/><circle cx="533.04" cy="351.44" r="3.6" fill="#ee0000"/><circle cx="576.78" cy="351.44" r="3.6" fill="#ee0000"/><circle cx="620.53" cy="351.44" r="3.6" fill="#ee0000"/><polyline points="423.67,549.77 445.55,519.72 467.42,495.68 489.29,471.64 511.16,447.60 533.04,423.56 576.78,399.52 620.53,375.48" fill="none" stroke="#1ee61e" stroke-width="3.0" stroke-linejoin="round"/><circle cx="423.67" cy="549.77" r="3.6" fill="#1ee61e"/><circle cx="445.55" cy="519.72" r="3.6" fill="#1ee61e"/><circle cx="467.42" cy="495.68" r="3.6" fill="#1ee61e"/><circle cx="489.29" cy="471.64" r="3.6" fill="#1ee61e"/><circle cx="511.16" cy="447.60" r="3.6" fill="#1ee61e"/><circle cx="533.04" cy="423.56" r="3.6" fill="#1ee61e"/><circle cx="576.78" cy="399.52" r="3.6" fill="#1ee61e"/><circle cx="620.53" cy="375.48" r="3.6" fill="#1ee61e"/><polyline points="423.67,561.79 445.55,549.77 467.42,531.74 489.29,519.72 511.16,501.69 533.04,489.67 576.78,459.62 620.53,447.60" fill="none" stroke="#12eeee" stroke-width="3.0" stroke-linejoin="round"/><circle cx="423.67" cy="561.79" r="3.6" fill="#12eeee"/><circle cx="445.55" cy="549.77" r="3.6" fill="#12eeee"/><circle cx="467.42" cy="531.74" r="3.6" fill="#12eeee"/><circle cx="489.29" cy="519.72" r="3.6" fill="#12eeee"/><circle cx="511.16" cy="501.69" r="3.6" fill="#12eeee"/><circle cx="533.04" cy="489.67" r="3.6" fill="#12eeee"/><circle cx="576.78" cy="459.62" r="3.6" fill="#12eeee"/><circle cx="620.53" cy="447.60" r="3.6" fill="#12eeee"/><polyline points="423.67,565.88 445.55,561.79 467.42,555.78 489.29,555.78 511.16,549.77 533.04,543.76 576.78,525.73 620.53,513.71" fill="none" stroke="#0000e6" stroke-width="3.0" stroke-linejoin="round"/><circle cx="423.67" cy="565.88" r="3.6" fill="#0000e6"/><circle cx="445.55" cy="561.79" r="3.6" fill="#0000e6"/><circle cx="467.42" cy="555.78" r="3.6" fill="#0000e6"/><circle cx="489.29" cy="555.78" r="3.6" fill="#0000e6"/><circle cx="511.16" cy="549.77" r="3.6" fill="#0000e6"/><circle cx="533.04" cy="543.76" r="3.6" fill="#0000e6"/><circle cx="576.78" cy="525.73" r="3.6" fill="#0000e6"/><circle cx="620.53" cy="513.71" r="3.6" fill="#0000e6"/><text x="452.50" y="602.60" font-size="15.80" textLength="136.91" lengthAdjust="spacingAndGlyphs" fill="#222">disaster probability</text><text x="370.80" y="529.22" font-size="15.80" textLength="167.18" lengthAdjust="spacingAndGlyphs" fill="#222" transform="rotate(-90 370.80 529.22)">maximal PCD selected</text></svg>
</body></html>
